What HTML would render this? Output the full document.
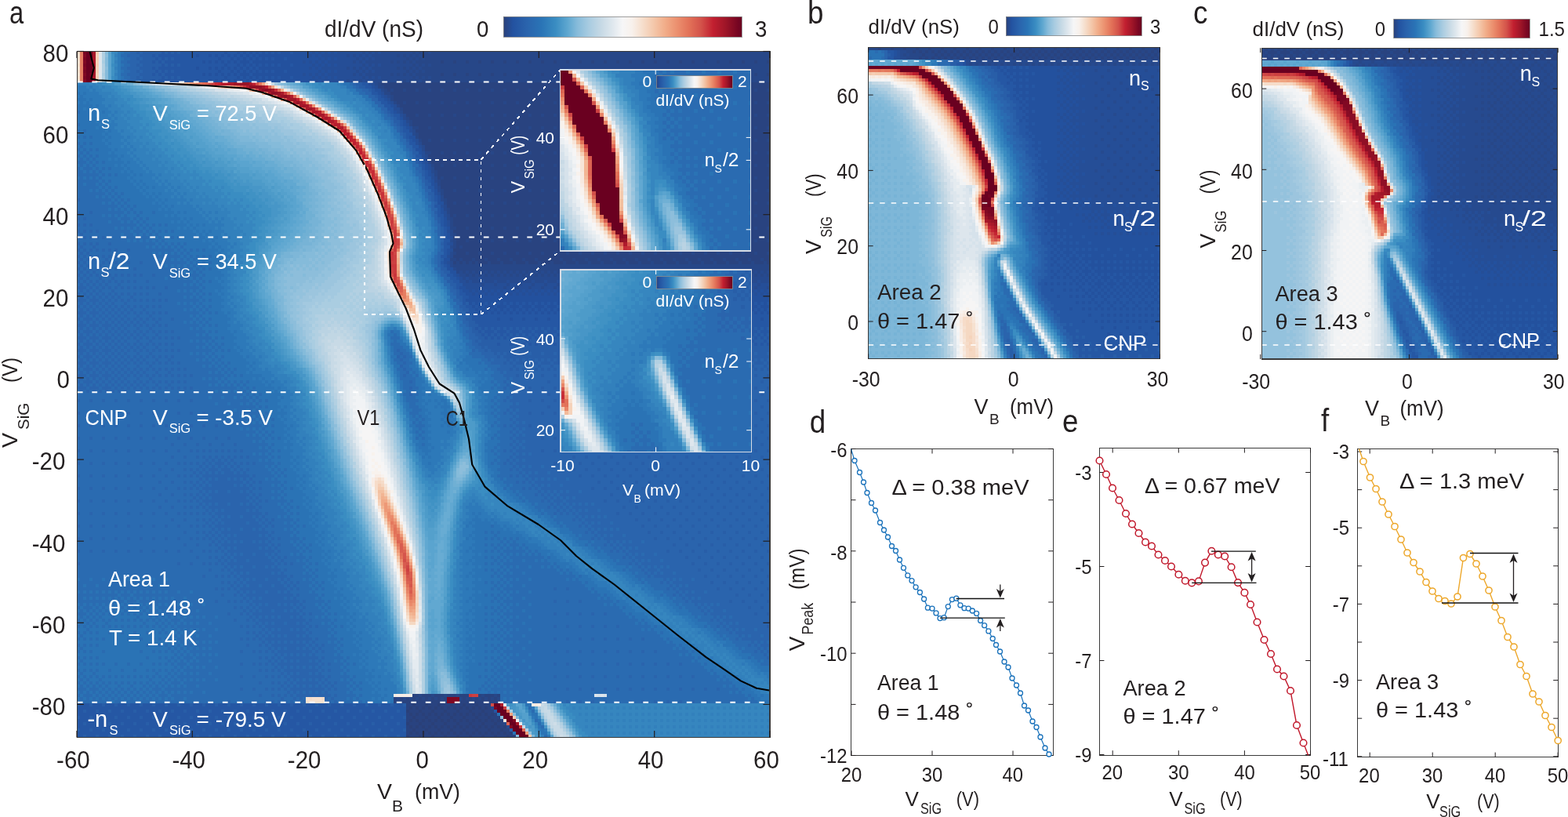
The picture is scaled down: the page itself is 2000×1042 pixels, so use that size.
<!DOCTYPE html>
<html><head><meta charset="utf-8"><title>Figure</title><style>html,body{margin:0;padding:0;background:#fff;width:2000px;height:1042px;overflow:hidden}svg{display:block}text{shape-rendering:auto}line,circle,polyline,.aa{shape-rendering:geometricPrecision}</style></head><body>
<svg width="2000" height="1042" viewBox="0 0 2000 1042" font-family="'Liberation Sans', Arial, sans-serif" shape-rendering="crispEdges"><defs><linearGradient id="cm" x1="0" y1="0" x2="1" y2="0"><stop offset="0.000" stop-color="#2a4079"/><stop offset="0.040" stop-color="#2352a0"/><stop offset="0.100" stop-color="#2a64ad"/><stop offset="0.160" stop-color="#2a74b6"/><stop offset="0.220" stop-color="#3a8dc2"/><stop offset="0.270" stop-color="#5ea7d0"/><stop offset="0.310" stop-color="#86bbda"/><stop offset="0.360" stop-color="#a9cce1"/><stop offset="0.410" stop-color="#c6d9e5"/><stop offset="0.460" stop-color="#e0e8ee"/><stop offset="0.500" stop-color="#f6f6f7"/><stop offset="0.540" stop-color="#f8f1ec"/><stop offset="0.580" stop-color="#f6e0cf"/><stop offset="0.630" stop-color="#f4c8ab"/><stop offset="0.680" stop-color="#f1ac88"/><stop offset="0.730" stop-color="#eb8f6e"/><stop offset="0.780" stop-color="#e27158"/><stop offset="0.830" stop-color="#d3524a"/><stop offset="0.880" stop-color="#c21f30"/><stop offset="0.930" stop-color="#a01628"/><stop offset="1.000" stop-color="#6a0020"/></linearGradient></defs>
<rect width="2000" height="1042" fill="#ffffff"/>
<clipPath id="hc1"><rect x="98.30" y="65.40" width="883.70" height="875.20"/></clipPath><g clip-path="url(#hc1)"><rect x="98" y="65" width="884" height="876" fill="#2a6bb1"/>
<path stroke="#2a4079" stroke-width="4" d="M526 899h4m12 0h4m12 0h4m12 0h4m12 0h4m12 0h4m-88 4h4m4 0h4m4 0h4m4 0h4m4 0h4m4 0h4m4 0h4m4 0h4m4 0h4m4 0h4m4 0h4m4 0h4m4 0h4m-104 4h4m12 0h4m12 0h4m12 0h4m12 0h4m12 0h4m12 0h4m-96 4h4m4 0h4m4 0h4m4 0h4m4 0h4m4 0h4m4 0h4m4 0h4m4 0h4m4 0h4m4 0h4m4 0h4m4 0h4m4 0h4m-104 4h4m12 0h4m12 0h4m12 0h4m12 0h4m12 0h4m12 0h4m-104 4h4m4 0h4m4 0h4m4 0h4m4 0h4m4 0h4m4 0h4m4 0h4m4 0h4m4 0h4m4 0h4m4 0h4m4 0h4m4 0h4m4 0h4m-120 4h4m12 0h4m12 0h4m12 0h4m12 0h4m12 0h4m12 0h4m12 0h4m-112 4h4m4 0h4m4 0h4m4 0h4m4 0h4m4 0h4m4 0h4m4 0h4m4 0h4m4 0h4m4 0h4m4 0h4m4 0h4m4 0h4m4 0h4m4 0h4m-120 4h4m12 0h4m12 0h4m12 0h4m12 0h4m12 0h4m12 0h4m12 0h4m-120 4h4m4 0h4m4 0h4m4 0h4m4 0h4m4 0h4m4 0h4m4 0h4m4 0h4m4 0h4m4 0h4m4 0h4m4 0h4m4 0h4m4 0h4m4 0h4m4 0h4m-136 4h4m12 0h4m12 0h4m12 0h4m12 0h4m12 0h4m12 0h4m12 0h4m12 0h4"/>
<path stroke="#294380" stroke-width="4" d="M562 79h4m12 0h4m12 0h4m12 0h4m12 0h4m12 0h4m12 0h4m12 0h4m12 0h4m12 0h4m12 0h4m12 0h4m12 0h4m12 0h4m12 0h4m12 0h4m12 0h4m12 0h4m12 0h4m12 0h4m12 0h4m12 0h4m12 0h4m12 0h4m12 0h4m12 0h4m12 0h4M562 95h4m12 0h4m12 0h4m12 0h4m12 0h4m12 0h4m12 0h4m12 0h4m12 0h4m12 0h4m12 0h4m12 0h4m12 0h4m12 0h4m12 0h4m12 0h4m12 0h4m12 0h4m12 0h4m12 0h4m12 0h4m12 0h4m12 0h4m12 0h4m12 0h4m12 0h4m12 0h4M486 107h496m-492 4h492m-488 4h4m4 0h12m4 0h12m4 0h12m4 0h12m4 0h12m4 0h12m4 0h12m4 0h12m4 0h12m4 0h12m4 0h12m4 0h12m4 0h12m4 0h12m4 0h12m4 0h12m4 0h12m4 0h12m4 0h12m4 0h12m4 0h12m4 0h12m4 0h12m4 0h12m4 0h12m4 0h12m4 0h12m4 0h12m4 0h12m4 0h12m-480 4h484m-480 4h480m-480 4h480m-476 4h8m4 0h12m4 0h12m4 0h12m4 0h12m4 0h12m4 0h12m4 0h12m4 0h12m4 0h12m4 0h12m4 0h12m4 0h12m4 0h12m4 0h12m4 0h12m4 0h12m4 0h12m4 0h12m4 0h12m4 0h12m4 0h12m4 0h12m4 0h12m4 0h12m4 0h12m4 0h12m4 0h12m4 0h12m4 0h12m-468 4h472m-468 4h468m-468 4h468m-464 4h12m4 0h12m4 0h12m4 0h12m4 0h12m4 0h12m4 0h12m4 0h12m4 0h12m4 0h12m4 0h12m4 0h12m4 0h12m4 0h12m4 0h12m4 0h12m4 0h12m4 0h12m4 0h12m4 0h12m4 0h12m4 0h12m4 0h12m4 0h12m4 0h12m4 0h12m4 0h12m4 0h12m4 0h12m-456 4h460m-456 4h456m-456 4h456m-448 4h12m4 0h12m4 0h12m4 0h12m4 0h12m4 0h12m4 0h12m4 0h12m4 0h12m4 0h12m4 0h12m4 0h12m4 0h12m4 0h12m4 0h12m4 0h12m4 0h12m4 0h12m4 0h12m4 0h12m4 0h12m4 0h12m4 0h12m4 0h12m4 0h12m4 0h12m4 0h12m4 0h12m-448 4h452m-448 4h448m-448 4h448m-444 4h8m4 0h12m4 0h12m4 0h12m4 0h12m4 0h12m4 0h12m4 0h12m4 0h12m4 0h12m4 0h12m4 0h12m4 0h12m4 0h12m4 0h12m4 0h12m4 0h12m4 0h12m4 0h12m4 0h12m4 0h12m4 0h12m4 0h12m4 0h12m4 0h12m4 0h12m4 0h12m4 0h12m-440 4h444m-440 4h440m-440 4h440m-432 4h12m4 0h12m4 0h12m4 0h12m4 0h12m4 0h12m4 0h12m4 0h12m4 0h12m4 0h12m4 0h12m4 0h12m4 0h12m4 0h12m4 0h12m4 0h12m4 0h12m4 0h12m4 0h12m4 0h12m4 0h12m4 0h12m4 0h12m4 0h12m4 0h12m4 0h12m4 0h12m-432 4h436m-432 4h432m-432 4h432m-428 4h8m4 0h12m4 0h12m4 0h12m4 0h12m4 0h12m4 0h12m4 0h12m4 0h12m4 0h12m4 0h12m4 0h12m4 0h12m4 0h12m4 0h12m4 0h12m4 0h12m4 0h12m4 0h12m4 0h12m4 0h12m4 0h12m4 0h12m4 0h12m4 0h12m4 0h12m4 0h12m-424 4h428m-424 4h424m-424 4h424m-424 4h4m4 0h12m4 0h12m4 0h12m4 0h12m4 0h12m4 0h12m4 0h12m4 0h12m4 0h12m4 0h12m4 0h12m4 0h12m4 0h12m4 0h12m4 0h12m4 0h12m4 0h12m4 0h12m4 0h12m4 0h12m4 0h12m4 0h12m4 0h12m4 0h12m4 0h12m4 0h12m-416 4h420m-420 4h420m-420 4h420m-416 4h12m4 0h12m4 0h12m4 0h12m4 0h12m4 0h12m4 0h12m4 0h12m4 0h12m4 0h12m4 0h12m4 0h12m4 0h12m4 0h12m4 0h12m4 0h12m4 0h12m4 0h12m4 0h12m4 0h12m4 0h12m4 0h12m4 0h12m4 0h12m4 0h12m4 0h12m-412 4h416m-416 4h416m-412 4h412m-412 4h8m4 0h12m4 0h12m4 0h12m4 0h12m4 0h12m4 0h12m4 0h12m4 0h12m4 0h12m4 0h12m4 0h12m4 0h12m4 0h12m4 0h12m4 0h12m4 0h12m4 0h12m4 0h12m4 0h12m4 0h12m4 0h12m4 0h12m4 0h12m4 0h12m4 0h12m-408 4h412m-408 4h408m-408 4h408m-408 4h4m4 0h12m4 0h12m4 0h12m4 0h12m4 0h12m4 0h12m4 0h12m4 0h12m4 0h12m4 0h12m4 0h12m4 0h12m4 0h12m4 0h12m4 0h12m4 0h12m4 0h12m4 0h12m4 0h12m4 0h12m4 0h12m4 0h12m4 0h12m4 0h12m4 0h12m-400 4h404m-404 4h404m-404 4h404m-400 4h12m4 0h12m4 0h12m4 0h12m4 0h12m4 0h12m4 0h12m4 0h12m4 0h12m4 0h12m4 0h12m4 0h12m4 0h12m4 0h12m4 0h12m4 0h12m4 0h12m4 0h12m4 0h12m4 0h12m4 0h12m4 0h12m4 0h12m4 0h12m4 0h12m-400 4h404m-400 4h400m-404 4h404m-400 4h12m4 0h12m4 0h12m4 0h12m4 0h12m4 0h12m4 0h12m4 0h12m4 0h12m4 0h12m4 0h12m4 0h12m4 0h12m4 0h12m4 0h12m4 0h12m4 0h12m4 0h12m4 0h12m4 0h12m4 0h12m4 0h12m4 0h12m4 0h12m4 0h12m-396 4h400m-400 4h4m4 0h392m-404 4h404m-400 4h12m4 0h12m4 0h12m4 0h12m4 0h12m4 0h12m4 0h12m4 0h12m4 0h12m4 0h12m4 0h12m4 0h12m4 0h12m4 0h12m4 0h12m4 0h12m4 0h12m4 0h12m4 0h12m4 0h12m4 0h12m4 0h12m4 0h12m4 0h12m4 0h12m-400 4h404m-400 4h4m4 0h12m4 0h12m4 0h12m4 0h12m4 0h12m4 0h12m4 0h12m4 0h12m4 0h12m4 0h12m4 0h12m4 0h12m4 0h12m4 0h12m4 0h12m4 0h12m4 0h12m4 0h12m4 0h12m4 0h12m4 0h12m4 0h12m4 0h12m4 0h12m4 0h8m-404 4h4m4 0h4m4 0h4m4 0h4m4 0h12m4 0h12m4 0h12m4 0h12m4 0h12m4 0h12m4 0h12m4 0h12m4 0h12m4 0h12m4 0h12m4 0h12m4 0h12m4 0h12m4 0h12m4 0h12m4 0h12m4 0h12m4 0h12m4 0h12m4 0h12m4 0h12m4 0h12m4 0h4M526 887h8m4 0h12m4 0h12m4 0h12m4 0h12m12 0h4m4 0h12m4 0h4m-136 4h4m4 0h4m4 0h4m4 0h4m4 0h4m4 0h4m4 0h4m4 0h4m4 0h4m20 0h4m4 0h4m4 0h4m4 0h4m4 0h4m4 0h4m-132 4h68m16 0h52m-120 4h8m4 0h12m4 0h12m4 0h12m4 0h12m4 0h12m4 0h16m-108 4h4m4 0h4m4 0h4m4 0h4m4 0h4m4 0h4m4 0h4m4 0h4m4 0h4m4 0h4m4 0h4m4 0h4m4 0h4m4 0h4m-104 4h12m4 0h12m4 0h12m4 0h12m4 0h12m4 0h12m4 0h12m-112 4h4m4 0h4m4 0h4m4 0h4m4 0h4m4 0h4m4 0h4m4 0h4m4 0h4m4 0h4m4 0h4m4 0h4m4 0h4m4 0h4m4 0h4m-116 4h8m4 0h12m4 0h12m4 0h12m4 0h12m4 0h12m4 0h12m4 0h12m-120 4h4m4 0h4m4 0h4m4 0h4m4 0h4m4 0h4m4 0h4m4 0h4m4 0h4m4 0h4m4 0h4m4 0h4m4 0h4m4 0h4m4 0h4m4 0h4m-120 4h12m4 0h12m4 0h12m4 0h12m4 0h12m4 0h12m4 0h12m4 0h8m-124 4h4m4 0h4m4 0h4m4 0h4m4 0h4m4 0h4m4 0h4m4 0h4m4 0h4m4 0h4m4 0h4m4 0h4m4 0h4m4 0h4m4 0h4m4 0h4m-124 4h8m4 0h12m4 0h12m4 0h12m4 0h12m4 0h12m4 0h12m4 0h12m4 0h8m-132 4h4m4 0h4m4 0h4m4 0h4m4 0h4m4 0h4m4 0h4m4 0h4m4 0h4m4 0h4m4 0h4m4 0h4m4 0h4m4 0h4m4 0h4m4 0h4m4 0h4m-128 4h12m4 0h12m4 0h12m4 0h12m4 0h12m4 0h12m4 0h12m4 0h12m4 0h8"/>
<path stroke="#274788" stroke-width="4" d="M526 67h4m4 0h4m4 0h4m4 0h432M506 71h4m4 0h4m4 0h4m4 0h4m4 0h444M518 75h4m4 0h4m4 0h4m4 0h440M498 79h4m4 0h4m4 0h4m4 0h4m4 0h32m4 0h12m4 0h12m4 0h12m4 0h12m4 0h12m4 0h12m4 0h12m4 0h12m4 0h12m4 0h12m4 0h12m4 0h12m4 0h12m4 0h12m4 0h12m4 0h12m4 0h12m4 0h12m4 0h12m4 0h12m4 0h12m4 0h12m4 0h12m4 0h12m4 0h12m4 0h12M526 83h4m4 0h4m4 0h4m4 0h432M506 87h4m4 0h4m4 0h4m4 0h4m4 0h444M518 91h4m4 0h4m4 0h4m4 0h440M498 95h4m4 0h4m4 0h4m4 0h4m4 0h32m4 0h12m4 0h12m4 0h12m4 0h12m4 0h12m4 0h12m4 0h12m4 0h12m4 0h12m4 0h12m4 0h12m4 0h12m4 0h12m4 0h12m4 0h12m4 0h12m4 0h12m4 0h12m4 0h12m4 0h12m4 0h12m4 0h12m4 0h12m4 0h12m4 0h12m4 0h12M526 99h4m4 0h4m4 0h4m4 0h432m-476 4h4m4 0h4m4 0h4m4 0h4m4 0h444m-500 4h4m-4 4h8m0 4h4m4 0h4m12 0h4m12 0h4m12 0h4m12 0h4m12 0h4m12 0h4m12 0h4m12 0h4m12 0h4m12 0h4m12 0h4m12 0h4m12 0h4m12 0h4m12 0h4m12 0h4m12 0h4m12 0h4m12 0h4m12 0h4m12 0h4m12 0h4m12 0h4m12 0h4m12 0h4m12 0h4m12 0h4m12 0h4m12 0h4m12 0h4m-492 4h8m0 4h4m-4 4h4m0 4h4m8 0h4m12 0h4m12 0h4m12 0h4m12 0h4m12 0h4m12 0h4m12 0h4m12 0h4m12 0h4m12 0h4m12 0h4m12 0h4m12 0h4m12 0h4m12 0h4m12 0h4m12 0h4m12 0h4m12 0h4m12 0h4m12 0h4m12 0h4m12 0h4m12 0h4m12 0h4m12 0h4m12 0h4m12 0h4m12 0h4m-476 4h4m0 4h4m16 8h4m12 0h4m12 0h4m12 0h4m12 0h4m12 0h4m12 0h4m12 0h4m12 0h4m12 0h4m12 0h4m12 0h4m12 0h4m12 0h4m12 0h4m12 0h4m12 0h4m12 0h4m12 0h4m12 0h4m12 0h4m12 0h4m12 0h4m12 0h4m12 0h4m12 0h4m12 0h4m12 0h4m12 0h4m-464 4h4m0 4h4m-4 4h4m0 4h8m12 0h4m12 0h4m12 0h4m12 0h4m12 0h4m12 0h4m12 0h4m12 0h4m12 0h4m12 0h4m12 0h4m12 0h4m12 0h4m12 0h4m12 0h4m12 0h4m12 0h4m12 0h4m12 0h4m12 0h4m12 0h4m12 0h4m12 0h4m12 0h4m12 0h4m12 0h4m12 0h4m12 0h4m-452 8h4m-4 4h4m0 4h4m8 0h4m12 0h4m12 0h4m12 0h4m12 0h4m12 0h4m12 0h4m12 0h4m12 0h4m12 0h4m12 0h4m12 0h4m12 0h4m12 0h4m12 0h4m12 0h4m12 0h4m12 0h4m12 0h4m12 0h4m12 0h4m12 0h4m12 0h4m12 0h4m12 0h4m12 0h4m12 0h4m12 0h4M542 195h8m12 0h4m12 0h4m12 0h4m12 0h4m12 0h4m12 0h4m12 0h4m12 0h4m12 0h4m12 0h4m12 0h4m12 0h4m12 0h4m12 0h4m12 0h4m12 0h4m12 0h4m12 0h4m12 0h4m12 0h4m12 0h4m12 0h4m12 0h4m12 0h4m12 0h4m12 0h4m12 0h4m-436 8h4m-4 4h4m0 4h4m8 0h4m12 0h4m12 0h4m12 0h4m12 0h4m12 0h4m12 0h4m12 0h4m12 0h4m12 0h4m12 0h4m12 0h4m12 0h4m12 0h4m12 0h4m12 0h4m12 0h4m12 0h4m12 0h4m12 0h4m12 0h4m12 0h4m12 0h4m12 0h4m12 0h4m12 0h4m12 0h4m-428 8h4m-4 4h4m4 4h4m12 0h4m12 0h4m12 0h4m12 0h4m12 0h4m12 0h4m12 0h4m12 0h4m12 0h4m12 0h4m12 0h4m12 0h4m12 0h4m12 0h4m12 0h4m12 0h4m12 0h4m12 0h4m12 0h4m12 0h4m12 0h4m12 0h4m12 0h4m12 0h4m12 0h4m12 0h4m-424 4h4m-4 4h4m0 8h4m12 0h4m12 0h4m12 0h4m12 0h4m12 0h4m12 0h4m12 0h4m12 0h4m12 0h4m12 0h4m12 0h4m12 0h4m12 0h4m12 0h4m12 0h4m12 0h4m12 0h4m12 0h4m12 0h4m12 0h4m12 0h4m12 0h4m12 0h4m12 0h4m12 0h4m12 0h4m-420 4h4m0 8h4m-4 4h4m8 0h4m12 0h4m12 0h4m12 0h4m12 0h4m12 0h4m12 0h4m12 0h4m12 0h4m12 0h4m12 0h4m12 0h4m12 0h4m12 0h4m12 0h4m12 0h4m12 0h4m12 0h4m12 0h4m12 0h4m12 0h4m12 0h4m12 0h4m12 0h4m12 0h4m12 0h4m-412 8h4m-4 4h4m4 4h4m12 0h4m12 0h4m12 0h4m12 0h4m12 0h4m12 0h4m12 0h4m12 0h4m12 0h4m12 0h4m12 0h4m12 0h4m12 0h4m12 0h4m12 0h4m12 0h4m12 0h4m12 0h4m12 0h4m12 0h4m12 0h4m12 0h4m12 0h4m12 0h4m12 0h4m-408 4h4m-4 4h4m-4 4h4m-4 4h8m12 0h4m12 0h4m12 0h4m12 0h4m12 0h4m12 0h4m12 0h4m12 0h4m12 0h4m12 0h4m12 0h4m12 0h4m12 0h4m12 0h4m12 0h4m12 0h4m12 0h4m12 0h4m12 0h4m12 0h4m12 0h4m12 0h4m12 0h4m12 0h4m12 0h4m-404 8h4m-4 8h4m12 0h4m12 0h4m12 0h4m12 0h4m12 0h4m12 0h4m12 0h4m12 0h4m12 0h4m12 0h4m12 0h4m12 0h4m12 0h4m12 0h4m12 0h4m12 0h4m12 0h4m12 0h4m12 0h4m12 0h4m12 0h4m12 0h4m12 0h4m12 0h4m12 0h4m-404 4h4m-4 4h4m4 0h4m-12 8h4m12 0h4m12 0h4m12 0h4m12 0h4m12 0h4m12 0h4m12 0h4m12 0h4m12 0h4m12 0h4m12 0h4m12 0h4m12 0h4m12 0h4m12 0h4m12 0h4m12 0h4m12 0h4m12 0h4m12 0h4m12 0h4m12 0h4m12 0h4m12 0h4m12 0h4m-408 8h8m4 0h4m12 0h4m12 0h4m12 0h4m12 0h4m12 0h4m12 0h4m12 0h4m12 0h4m12 0h4m12 0h4m12 0h4m12 0h4m12 0h4m12 0h4m12 0h4m12 0h4m12 0h4m12 0h4m12 0h4m12 0h4m12 0h4m12 0h4m12 0h4m12 0h4m-392 4h4m4 0h4m4 0h4m4 0h4m12 0h4m12 0h4m12 0h4m12 0h4m12 0h4m12 0h4m12 0h4m12 0h4m12 0h4m12 0h4m12 0h4m12 0h4m12 0h4m12 0h4m12 0h4m12 0h4m12 0h4m12 0h4m12 0h4m12 0h4m12 0h4m12 0h4m12 0h4m-400 4h404m-400 4h400m-400 4h4m4 0h4m4 0h4m4 0h4m4 0h4m4 0h4m4 0h4m4 0h4m4 0h4m4 0h4m4 0h4m4 0h4m4 0h4m4 0h4m4 0h4m4 0h4m4 0h4m4 0h4m4 0h4m4 0h4m4 0h4m4 0h4m4 0h4m4 0h4m4 0h4m4 0h4m4 0h4m4 0h4m4 0h4m4 0h4m4 0h4m4 0h4m4 0h4m4 0h4m4 0h4m4 0h4m4 0h4m4 0h4m4 0h4m4 0h4m4 0h4m4 0h4m4 0h4m4 0h4m4 0h4m4 0h4m4 0h4m4 0h4m4 0h4m4 0h4m-384 4h4m4 0h4m4 0h4m4 0h4m4 0h4m4 0h4m4 0h4m4 0h4m4 0h4m4 0h4m4 0h4m4 0h4m4 0h4m4 0h4m4 0h4m4 0h4m4 0h4m4 0h4m4 0h4m4 0h4m4 0h4m4 0h4m4 0h4m4 0h4m4 0h4m4 0h4m4 0h4m4 0h4m4 0h4m4 0h4m4 0h4m4 0h4m4 0h4m4 0h4m4 0h4m4 0h4m4 0h4m4 0h4m4 0h4m4 0h4m4 0h4m4 0h4m4 0h4m4 0h4m4 0h4m4 0h4m4 0h4m4 0h4m4 0h4M534 887h4m12 0h4m12 0h4m12 0h4m28 0h4m12 0h4m-128 4h4m4 0h4m4 0h4m4 0h4m4 0h4m4 0h4m4 0h4m4 0h4m20 0h4m4 0h4m4 0h4m4 0h4m4 0h4m4 0h4m4 0h4m4 32h4"/>
<path stroke="#264a8f" stroke-width="4" d="M462 67h4m4 0h4m4 0h4m4 0h40m4 0h4m4 0h4m4 0h4M442 71h4m4 0h4m4 0h4m4 0h4m4 0h32m4 0h4m4 0h4m4 0h4m4 0h4m-84 4h4m4 0h4m4 0h4m4 0h40m4 0h4m4 0h4m4 0h4m-92 4h4m4 0h4m4 0h32m4 0h4m4 0h4m4 0h4m4 0h4m-68 4h4m4 0h4m4 0h4m4 0h40m4 0h4m4 0h4m4 0h4M442 87h4m4 0h4m4 0h4m4 0h4m4 0h32m4 0h4m4 0h4m4 0h4m4 0h4m-84 4h4m4 0h4m4 0h4m4 0h40m4 0h4m4 0h4m4 0h4m-92 4h4m4 0h4m4 0h32m4 0h4m4 0h4m4 0h4m4 0h4m-68 4h4m4 0h4m4 0h4m4 0h40m4 0h4m4 0h4m4 0h4m-108 4h4m4 0h4m4 0h4m4 0h4m4 0h32m4 0h4m4 0h4m4 0h4m4 0h4m-60 4h4m4 8h4m4 8h4m12 20h4m0 4h4m-4 4h4m0 4h4m4 12h4m-4 4h4m4 12h4m0 4h4m-4 4h4m0 8h4m-4 4h4m4 12h4m-4 4h4m0 8h4m-4 4h4m0 8h4m-4 4h4m0 8h4m-4 4h4m0 8h4m-4 4h4m0 8h4m-4 4h4m0 16h4m-4 4h4m-4 8h4m-4 8h4m-4 8h4m-4 4h4m-4 8h4m-4 4h4m0 4h4m4 4h4m4 0h4m4 0h4m4 0h4m4 0h4m4 0h4m4 0h4m4 0h4m4 0h4m4 0h4m4 0h4m4 0h4m4 0h4m4 0h4m4 0h4m4 0h4m4 0h4m4 0h4m4 0h4m4 0h4m4 0h4m4 0h4m4 0h4m4 0h4m4 0h4m4 0h4m4 0h4m4 0h4m4 0h4m4 0h4m4 0h4m4 0h4m4 0h4m4 0h4m4 0h4m4 0h4m4 0h4m4 0h4m4 0h4m4 0h4m4 0h4m4 0h4m4 0h4m4 0h4m4 0h4m4 0h4m4 0h4m4 0h4m4 0h4m4 0h4m-396 4h8m4 0h4m4 0h4m4 0h4m4 0h4m4 0h4m4 0h4m4 0h4m4 0h4m4 0h4m4 0h4m4 0h4m4 0h4m4 0h4m4 0h4m4 0h4m4 0h4m4 0h4m4 0h4m4 0h4m4 0h4m4 0h4m4 0h4m4 0h4m4 0h4m4 0h4m4 0h4m4 0h4m4 0h4m4 0h4m4 0h4m4 0h4m4 0h4m4 0h4m4 0h4m4 0h4m4 0h4m4 0h4m4 0h4m4 0h4m4 0h4m4 0h4m4 0h4m4 0h4m4 0h4m4 0h4m4 0h4m4 0h4m4 0h4m-388 4h4m4 0h12m4 0h368m-388 4h4m4 0h12m4 0h12m4 0h12m4 0h12m4 0h12m4 0h12m4 0h12m4 0h12m4 0h12m4 0h12m4 0h12m4 0h12m4 0h12m4 0h12m4 0h12m4 0h12m4 0h12m4 0h12m4 0h12m4 0h12m4 0h12m4 0h12m4 0h12m4 0h12m-368 4h4m12 0h4m12 0h4m12 0h4m12 0h4m12 0h4m12 0h4m12 0h4m12 0h4m12 0h4m12 0h4m12 0h4m12 0h4m12 0h4m12 0h4m12 0h4m12 0h4m12 0h4m12 0h4m12 0h4m12 0h4m12 0h4m12 0h4m-328 4h4m12 0h4m12 0h4m12 0h4m12 0h4m12 0h4m12 0h4m12 0h4m12 0h4m12 0h4m12 0h4m12 0h4m12 0h4m12 0h4m12 0h4m12 0h4m12 0h4m12 0h4m12 0h4m12 0h4m12 0h4m12 0h4M626 903h4m16 24h4"/>
<path stroke="#254e97" stroke-width="4" d="M398 67h4m4 0h4m4 0h4m4 0h4m4 0h32m4 0h4m4 0h4m4 0h4m-92 4h4m4 0h4m4 0h32m4 0h4m4 0h4m4 0h4m4 0h4m-68 4h4m4 0h4m4 0h4m4 0h24m4 0h4m4 0h4m4 0h4m-92 4h4m4 0h4m4 0h4m4 0h4m4 0h32m4 0h4m4 0h4m-68 4h4m4 0h4m4 0h4m4 0h4m4 0h32m4 0h4m4 0h4m4 0h4m-92 4h4m4 0h4m4 0h32m4 0h4m4 0h4m4 0h4m4 0h4m-68 4h4m4 0h4m4 0h4m4 0h24m4 0h4m4 0h4m4 0h4m-92 4h4m4 0h4m4 0h4m4 0h4m4 0h32m4 0h4m4 0h4m-68 4h4m4 0h4m4 0h4m4 0h4m4 0h32m4 0h4m4 0h4m4 0h4m-92 4h4m4 0h4m4 0h32m4 0h4m4 0h4m4 0h4m4 0h4m0 4h4m0 4h4m4 8h4m0 4h4m0 4h4m0 4h4m0 4h4m-4 4h8m-4 4h4m0 4h4m4 12h4m0 4h4m-4 4h4m4 12h4m-4 4h4m0 4h4m0 8h4m-4 4h4m0 8h4m0 4h4m-4 4h4m0 8h4m-4 4h4m0 8h4m-4 4h4m0 8h4m0 16h4m0 8h4m-4 4h4m0 8h4m-4 4h4m-4 8h4m0 8h4m-4 8h4m-4 8h4m-8 8h4m-4 8h4m8 16h4m0 4h4m4 0h4m12 0h4m-28 4h8m4 0h4m12 0h4m12 0h4m12 0h4m12 0h4m12 0h4m12 0h4m12 0h4m12 0h4m12 0h4m12 0h4m12 0h4m12 0h4m12 0h4m12 0h4m12 0h4m12 0h4m12 0h4m12 0h4m12 0h4m12 0h4m12 0h4m12 0h4m12 0h4m-380 4h24m4 0h12m4 0h12m4 0h12m4 0h12m4 0h12m4 0h12m4 0h12m4 0h12m4 0h12m4 0h12m4 0h12m4 0h12m4 0h12m4 0h12m4 0h12m4 0h12m4 0h12m4 0h12m4 0h12m4 0h12m4 0h12m4 0h12m4 0h12m-388 4h48m4 0h12m4 0h12m4 0h12m4 0h12m4 0h12m4 0h12m4 0h12m4 0h12m4 0h12m4 0h12m4 0h12m4 0h12m4 0h12m4 0h12m4 0h12m4 0h12m4 0h12m4 0h12m4 0h12m4 0h12m4 0h12m-380 4h4m4 0h4m4 0h4m4 0h4m4 0h4m4 0h4m4 0h4m4 0h4m4 0h4m4 0h4m4 0h4m4 0h4m4 0h4m4 0h4m4 0h4m4 0h4m4 0h4m4 0h4m4 0h4m4 0h4m4 0h4m4 0h4m4 0h4m4 0h4m4 0h4m4 0h4m4 0h4m4 0h4m4 0h4m4 0h4m4 0h4m4 0h4m4 0h4m4 0h4m4 0h4m4 0h4m4 0h4m4 0h4m4 0h4m4 0h4m4 0h4m4 0h4m4 0h4m4 0h4m4 0h4m4 0h4m4 0h4m4 0h4m-376 4h4m4 0h4m4 0h4m4 0h4m4 0h4m4 0h4m4 0h4m4 0h4m4 0h4m4 0h4m4 0h4m4 0h4m4 0h4m4 0h4m4 0h4m4 0h4m4 0h4m4 0h4m4 0h4m4 0h4m4 0h4m4 0h4m4 0h4m4 0h4m4 0h4m4 0h4m4 0h4m4 0h4m4 0h4m4 0h4m4 0h4m4 0h4m4 0h4m4 0h4m4 0h4m4 0h4m4 0h4m4 0h4m4 0h4m4 0h4m4 0h4m4 0h4m4 0h4m4 0h4m4 0h4m4 0h4m4 0h4m4 0h4"/>
<path stroke="#23519e" stroke-width="4" d="M286 67h4m12 0h4m4 0h4m4 0h4m4 0h4m4 0h4m4 0h4m4 0h4m4 0h12m4 0h24m4 0h4m4 0h4m4 0h4m4 0h4M250 71h4m12 0h4m4 0h4m4 0h4m4 0h4m4 0h4m4 0h4m4 0h4m4 0h4m4 0h64m4 0h4m4 0h4M278 75h4m12 0h4m4 0h4m4 0h4m4 0h4m4 0h4m4 0h4m4 0h4m4 0h12m4 0h40m4 0h4m4 0h4m4 0h4M258 79h4m4 0h4m4 0h4m4 0h4m4 0h4m4 0h4m4 0h12m4 0h64m4 0h4m4 0h4m4 0h4m4 0h4M286 83h4m12 0h4m4 0h4m4 0h4m4 0h4m4 0h4m4 0h4m4 0h4m4 0h12m4 0h24m4 0h4m4 0h4m4 0h4m4 0h4M250 87h4m12 0h4m4 0h4m4 0h4m4 0h4m4 0h4m4 0h4m4 0h4m4 0h4m4 0h64m4 0h4m4 0h4M278 91h4m12 0h4m4 0h4m4 0h4m4 0h4m4 0h4m4 0h4m4 0h4m4 0h12m4 0h40m4 0h4m4 0h4m4 0h4M258 95h4m4 0h4m4 0h4m4 0h4m4 0h4m4 0h4m4 0h12m4 0h64m4 0h4m4 0h4m4 0h4m4 0h4M286 99h4m12 0h4m4 0h4m4 0h4m4 0h4m4 0h4m4 0h4m4 0h4m4 0h12m4 0h24m4 0h4m4 0h4m4 0h4m4 0h4m-180 4h4m12 0h4m4 0h4m4 0h4m4 0h4m4 0h4m4 0h4m4 0h4m4 0h4m4 0h64m4 0h4m4 0h4m60 4h4m0 4h4m0 4h8m-4 4h4m0 4h4m0 4h4m0 4h4m0 4h4m0 8h4m4 8h4m0 4h4m-4 4h4m0 4h4m0 12h8m-4 4h4m0 12h8m-4 4h4m0 8h4m-4 4h4m0 4h4m-4 4h4m0 4h4m-4 4h4m0 8h4m-4 4h4m0 8h4m-4 4h4m0 4h4m-4 4h4m-4 4h8m-4 8h4m-4 4h4m0 8h4m-4 4h4m-4 4h4m0 4h4m-4 8h4m-4 4h4m-4 8h4m-4 8h4m-4 4h4m-8 8h8m-8 4h4m0 4h4m-4 4h8m-4 4h8m-4 4h4m0 4h4m0 12h8m-4 4h8m4 0h4m4 0h4m4 0h4m4 0h4m4 0h4m4 0h4m4 0h4m4 0h4m4 0h4m4 0h4m4 0h4m4 0h4m4 0h4m4 0h4m4 0h4m4 0h4m4 0h4m4 0h4m4 0h4m4 0h4m4 0h4m4 0h4m4 0h4m4 0h4m4 0h4m4 0h4m4 0h4m4 0h4m4 0h4m4 0h4m4 0h4m4 0h4m4 0h4m4 0h4m4 0h4m4 0h4m4 0h4m4 0h4m4 0h4m4 0h4m4 0h4m4 0h4m4 0h4m4 0h4m4 0h4m4 0h4m4 0h4m4 0h4m-388 4h8m4 0h4m4 0h4m4 0h4m4 0h4m4 0h4m4 0h4m4 0h4m4 0h4m4 0h4m4 0h4m4 0h4m4 0h4m4 0h4m4 0h4m4 0h4m4 0h4m4 0h4m4 0h4m4 0h4m4 0h4m4 0h4m4 0h4m4 0h4m4 0h4m4 0h4m4 0h4m4 0h4m4 0h4m4 0h4m4 0h4m4 0h4m4 0h4m4 0h4m4 0h4m4 0h4m4 0h4m4 0h4m4 0h4m4 0h4m4 0h4m4 0h4m4 0h4m4 0h4m4 0h4m4 0h4m4 0h4m4 0h4m-380 4h384m-388 4h388m-384 4h4m4 0h4m4 0h4m4 0h4m4 0h4m4 0h4m4 0h4m4 0h4m4 0h4m4 0h4m4 0h4m4 0h4m4 0h4m4 0h4m4 0h4m4 0h4m4 0h4m4 0h4m4 0h4m4 0h4m4 0h4m4 0h4m4 0h4m4 0h4m4 0h4m4 0h4m4 0h4m4 0h4m4 0h4m4 0h4m4 0h4m4 0h4m4 0h4m4 0h4m4 0h4m4 0h4m4 0h4m4 0h4m4 0h4m4 0h4m4 0h4m4 0h4m4 0h4m4 0h4m4 0h4m4 0h4m4 0h4m4 0h4m-376 4h4m4 0h4m4 0h12m4 0h12m4 0h12m4 0h12m4 0h12m4 0h12m4 0h12m4 0h12m4 0h12m4 0h12m4 0h12m4 0h12m4 0h12m4 0h12m4 0h12m4 0h12m4 0h12m4 0h12m4 0h12m4 0h12m4 0h12m4 0h12m4 0h12m-376 4h4m4 0h4m4 0h4m4 0h4m4 0h4m4 0h4m4 0h4m4 0h4m4 0h4m4 0h4m4 0h4m4 0h4m4 0h4m4 0h4m4 0h4m4 0h4m4 0h4m4 0h4m4 0h4m4 0h4m4 0h4m4 0h4m4 0h4m4 0h4m4 0h4m4 0h4m4 0h4m4 0h4m4 0h4m4 0h4m4 0h4m4 0h4m4 0h4m4 0h4m4 0h4m4 0h4m4 0h4m4 0h4m4 0h4m4 0h4m4 0h4m4 0h4m4 0h4m4 0h4m4 0h4m4 0h4m4 0h4m-368 4h4m4 0h4m4 0h4m4 0h4m4 0h4m4 0h4m4 0h4m4 0h4m4 0h4m4 0h4m4 0h4m4 0h4m4 0h4m4 0h4m4 0h4m4 0h4m4 0h4m4 0h4m4 0h4m4 0h4m4 0h4m4 0h4m4 0h4m4 0h4m4 0h4m4 0h4m4 0h4m4 0h4m4 0h4m4 0h4m4 0h4m4 0h4m4 0h4m4 0h4m4 0h4m4 0h4m4 0h4m4 0h4m4 0h4m4 0h4m4 0h4m4 0h4m4 0h4m4 0h4m4 0h4m4 0h4m4 0h4m-348 8h4m12 0h4m12 0h4m12 0h4m12 0h4m12 0h4m12 0h4m12 0h4m12 0h4m12 0h4m12 0h4m12 0h4m12 0h4m12 0h4m12 0h4m12 0h4m12 0h4m12 0h4m12 0h4m12 0h4m12 0h4m12 0h4"/>
<path stroke="#2557a4" stroke-width="4" d="M206 67h4m4 0h4m4 0h4m4 0h56m4 0h12m4 0h4m4 0h4m4 0h4m4 0h4m4 0h4m4 0h4m4 0h4m12 0h4M194 71h4m4 0h48m4 0h12m4 0h4m4 0h4m4 0h4m4 0h4m4 0h4m4 0h4m4 0h4m4 0h4M198 75h4m4 0h4m4 0h4m4 0h56m4 0h12m4 0h4m4 0h4m4 0h4m4 0h4m4 0h4m4 0h4m4 0h4m12 0h4M194 79h4m4 0h4m4 0h48m4 0h4m4 0h4m4 0h4m4 0h4m4 0h4m4 0h4m12 0h4M206 83h4m4 0h4m4 0h4m4 0h56m4 0h12m4 0h4m4 0h4m4 0h4m4 0h4m4 0h4m4 0h4m4 0h4m12 0h4M194 87h4m4 0h48m4 0h12m4 0h4m4 0h4m4 0h4m4 0h4m4 0h4m4 0h4m4 0h4m4 0h4M198 91h4m4 0h4m4 0h4m4 0h56m4 0h12m4 0h4m4 0h4m4 0h4m4 0h4m4 0h4m4 0h4m4 0h4m12 0h4M194 95h4m4 0h4m4 0h48m4 0h4m4 0h4m4 0h4m4 0h4m4 0h4m4 0h4m12 0h4M206 99h4m4 0h4m4 0h4m4 0h56m4 0h12m4 0h4m4 0h4m4 0h4m4 0h4m4 0h4m4 0h4m4 0h4m12 0h4m-180 4h4m4 0h48m4 0h12m4 0h4m4 0h4m4 0h4m4 0h4m4 0h4m4 0h4m4 0h4m4 0h4m132 4h8m-4 4h8m0 4h4m-4 4h8m0 4h4m-4 4h8m-4 4h8m-4 4h8m-4 4h8m-4 4h4m0 4h8m-4 4h4m0 4h4m-4 4h4m0 4h4m-4 4h8m-4 4h8m-8 4h4m0 4h4m-4 4h8m-4 4h8m-4 12h8m-4 4h4m-4 4h4m0 4h4m-4 4h4m0 4h4m-4 4h4m-4 4h8m-4 4h4m-4 8h8m-4 4h4m0 8h4m-4 4h4m-4 8h8m-4 4h4m-4 4h4m-4 4h8m-4 4h4m-4 4h4m-4 4h4m0 4h4m-4 4h4m-4 4h4m-4 4h4m-4 4h8m-8 4h4m-4 4h8m-8 4h4m-4 4h4m-8 4h8m-8 8h4m0 4h4m0 12h8m-4 4h8m-4 4h8m-4 4h8m-8 4h4m0 4h4m-4 4h8m-4 4h8m-8 4h4m-4 4h4m8 0h4m4 0h4m4 0h4m4 0h4m4 0h4m4 0h4m4 0h4m4 0h4m4 0h4m4 0h4m4 0h4m4 0h4m4 0h4m4 0h4m4 0h4m4 0h4m4 0h4m4 0h4m4 0h4m4 0h4m4 0h4m4 0h4m4 0h4m4 0h4m4 0h4m4 0h4m4 0h4m4 0h4m4 0h4m4 0h4m4 0h4m4 0h4m4 0h4m4 0h4m4 0h4m4 0h4m4 0h4m4 0h4m4 0h4m4 0h4m4 0h4m4 0h4m4 0h4m4 0h4m4 0h4m4 0h4m4 0h4m4 0h4m-388 4h8m4 0h4m4 0h4m12 0h4m12 0h4m12 0h4m12 0h4m12 0h4m12 0h4m12 0h4m12 0h4m12 0h4m12 0h4m12 0h4m12 0h4m12 0h4m12 0h4m12 0h4m12 0h4m12 0h4m12 0h4m12 0h4m12 0h4m12 0h4m12 0h4m-372 4h8m4 0h4m4 0h4m4 0h4m4 0h4m4 0h4m4 0h4m4 0h4m4 0h4m4 0h4m4 0h4m4 0h4m4 0h4m4 0h4m4 0h4m4 0h4m4 0h4m4 0h4m4 0h4m4 0h4m4 0h4m4 0h4m4 0h4m4 0h4m4 0h4m4 0h4m4 0h4m4 0h4m4 0h4m4 0h4m4 0h4m4 0h4m4 0h4m4 0h4m4 0h4m4 0h4m4 0h4m4 0h4m4 0h4m4 0h4m4 0h4m4 0h4m4 0h4m4 0h4m4 0h4m4 0h4m4 0h4m4 0h4m-388 4h16m4 0h4m4 0h4m4 0h4m4 0h4m4 0h4m4 0h4m4 0h4m4 0h4m4 0h4m4 0h4m4 0h4m4 0h4m4 0h4m4 0h4m4 0h4m4 0h4m4 0h4m4 0h4m4 0h4m4 0h4m4 0h4m4 0h4m4 0h4m4 0h4m4 0h4m4 0h4m4 0h4m4 0h4m4 0h4m4 0h4m4 0h4m4 0h4m4 0h4m4 0h4m4 0h4m4 0h4m4 0h4m4 0h4m4 0h4m4 0h4m4 0h4m4 0h4m4 0h4m4 0h4m4 0h4m4 0h4m-376 4h380m-380 4h32m4 0h12m4 0h12m4 0h12m4 0h12m4 0h12m4 0h12m4 0h12m4 0h12m4 0h12m4 0h12m4 0h12m4 0h12m4 0h12m4 0h12m4 0h12m4 0h12m4 0h12m4 0h12m4 0h12m4 0h12m4 0h12m4 0h8m-376 4h376m-372 4h372m-376 4h4m4 0h4m4 0h4m4 0h4m4 0h4m4 0h4m4 0h4m4 0h4m4 0h4m4 0h4m4 0h4m4 0h4m4 0h4m4 0h4m4 0h4m4 0h4m4 0h4m4 0h4m4 0h4m4 0h4m4 0h4m4 0h4m4 0h4m4 0h4m4 0h4m4 0h4m4 0h4m4 0h4m4 0h4m4 0h4m4 0h4m4 0h4m4 0h4m4 0h4m4 0h4m4 0h4m4 0h4m4 0h4m4 0h4m4 0h4m4 0h4m4 0h4m4 0h4m4 0h4m4 0h4m4 0h4m4 0h4m-368 4h4m4 0h12m4 0h12m4 0h12m4 0h12m4 0h12m4 0h12m4 0h12m4 0h12m4 0h12m4 0h12m4 0h12m4 0h12m4 0h12m4 0h12m4 0h12m4 0h12m4 0h12m4 0h12m4 0h12m4 0h12m4 0h12m4 0h12m4 0h12m-368 4h4m4 0h4m4 0h4m4 0h4m4 0h4m4 0h4m4 0h4m4 0h4m4 0h4m4 0h4m4 0h4m4 0h4m4 0h4m4 0h4m4 0h4m4 0h4m4 0h4m4 0h4m4 0h4m4 0h4m4 0h4m4 0h4m4 0h4m4 0h4m4 0h4m4 0h4m4 0h4m4 0h4m4 0h4m4 0h4m4 0h4m4 0h4m4 0h4m4 0h4m4 0h4m4 0h4m4 0h4m4 0h4m4 0h4m4 0h4m4 0h4m4 0h4m4 0h4m4 0h4m4 0h4m4 0h4m-360 4h4m4 0h4m4 0h4m4 0h4m4 0h4m4 0h4m4 0h4m4 0h4m4 0h4m4 0h4m4 0h4m4 0h4m4 0h4m4 0h4m4 0h4m4 0h4m4 0h4m4 0h4m4 0h4m4 0h4m4 0h4m4 0h4m4 0h4m4 0h4m4 0h4m4 0h4m4 0h4m4 0h4m4 0h4m4 0h4m4 0h4m4 0h4m4 0h4m4 0h4m4 0h4m4 0h4m4 0h4m4 0h4m4 0h4m4 0h4m4 0h4m4 0h4m4 0h4m4 0h4m4 0h4m4 0h4m-312 4h4m12 0h4m12 0h4m12 0h4m12 0h4m12 0h4m12 0h4m12 0h4m12 0h4m12 0h4m12 0h4m12 0h4m12 0h4m12 0h4m12 0h4m12 0h4m12 0h4m12 0h4m12 0h4m12 0h4m-344 4h4m12 0h4m4 0h4m4 0h4m4 0h4m4 0h4m4 0h4m4 0h4m4 0h4m4 0h4m4 0h4m4 0h4m4 0h4m4 0h4m4 0h4m4 0h4m4 0h4m4 0h4m4 0h4m4 0h4m4 0h4m4 0h4m4 0h4m4 0h4m4 0h4m4 0h4m4 0h4m4 0h4m4 0h4m4 0h4m4 0h4m4 0h4m4 0h4m4 0h4m4 0h4m4 0h4m4 0h4m4 0h4m4 0h4m4 0h4m4 0h4m4 0h4m4 0h4M102 899h12m4 0h12m4 0h12m4 0h12m4 0h12m4 0h12m4 0h12m4 0h12m4 0h12m4 0h12m4 0h12m4 0h12m4 0h12m4 0h12m4 0h12m4 0h12m4 0h12m4 0h12m4 0h12m4 0h12m4 0h12m4 0h12m4 0h12m4 0h12m4 0h12m4 0h12M98 903h420M98 907h8m4 0h12m4 0h12m4 0h12m4 0h12m4 0h12m4 0h12m4 0h12m4 0h12m4 0h12m4 0h12m4 0h12m4 0h12m4 0h12m4 0h12m4 0h12m4 0h12m4 0h12m4 0h12m4 0h12m4 0h12m4 0h12m4 0h12m4 0h12m4 0h12m4 0h12m4 0h8m112 0h4M98 911h420m-416 4h12m4 0h12m4 0h12m4 0h12m4 0h12m4 0h12m4 0h12m4 0h12m4 0h12m4 0h12m4 0h12m4 0h12m4 0h12m4 0h12m4 0h12m4 0h12m4 0h12m4 0h12m4 0h12m4 0h12m4 0h12m4 0h12m4 0h12m4 0h12m4 0h12m4 0h12M98 919h420M98 923h8m4 0h12m4 0h12m4 0h12m4 0h12m4 0h12m4 0h12m4 0h12m4 0h12m4 0h12m4 0h12m4 0h12m4 0h12m4 0h12m4 0h12m4 0h12m4 0h12m4 0h12m4 0h12m4 0h12m4 0h12m4 0h12m4 0h12m4 0h12m4 0h12m4 0h12m4 0h8M98 927h420m-416 4h12m4 0h12m4 0h12m4 0h12m4 0h12m4 0h12m4 0h12m4 0h12m4 0h12m4 0h12m4 0h12m4 0h12m4 0h12m4 0h12m4 0h12m4 0h12m4 0h12m4 0h12m4 0h12m4 0h12m4 0h12m4 0h12m4 0h12m4 0h12m4 0h12m4 0h12M98 935h420M98 939h8m4 0h12m4 0h12m4 0h12m4 0h12m4 0h12m4 0h12m4 0h12m4 0h12m4 0h12m4 0h12m4 0h12m4 0h12m4 0h12m4 0h12m4 0h12m4 0h12m4 0h12m4 0h12m4 0h12m4 0h12m4 0h12m4 0h12m4 0h12m4 0h12m4 0h12m4 0h8"/>
<path stroke="#285ea8" stroke-width="4" d="M174 67h4m4 0h24m4 0h4m4 0h4m4 0h4m-52 4h16m4 0h4m-28 4h4m4 0h16m4 0h4m4 0h4m4 0h4m-44 4h16m4 0h4m4 0h4m-36 4h4m4 0h24m4 0h4m4 0h4m4 0h4m-52 4h16m4 0h4m-28 4h4m4 0h16m4 0h4m4 0h4m4 0h4m-44 4h16m4 0h4m4 0h4m-36 4h4m4 0h24m4 0h4m4 0h4m4 0h4m-52 4h16m4 0h4m252 4h8m-4 4h8m4 4h4m4 8h4m12 20h4m0 4h4m0 4h4m-4 4h8m-4 4h4m0 4h4m-4 4h4m0 4h4m-4 4h4m0 4h4m4 12h4m-4 4h8m-4 8h4m-4 4h4m0 4h4m0 8h4m-4 4h4m0 8h4m-4 4h8m-4 12h8m-4 4h4m-4 4h4m0 4h4m-4 12h4m0 8h4m-4 4h4m0 8h4m-4 4h4m-4 4h4m-4 4h4m-4 8h4m-4 8h4m-4 12h4m-4 8h4m-4 4h8m-4 4h8m-4 12h8m-4 4h8m-4 4h4m0 4h4m-4 4h4m-4 4h8m-4 4h4m4 4h4m-12 4h8m-4 4h8m0 8h4m-8 4h8m-4 4h8m-8 4h12m-8 4h4m4 0h4m4 0h4m4 0h4m4 0h4m4 0h4m4 0h4m4 0h4m4 0h4m4 0h4m4 0h4m4 0h4m4 0h4m4 0h4m4 0h4m4 0h4m4 0h4m4 0h4m4 0h4m4 0h4m4 0h4m4 0h4m4 0h4m4 0h4m4 0h4m4 0h4m4 0h4m4 0h4m4 0h4m4 0h4m4 0h4m4 0h4m4 0h4m4 0h4m4 0h4m4 0h4m4 0h4m4 0h4m4 0h4m4 0h4m4 0h4m4 0h4m4 0h4m4 0h4m4 0h4m4 0h4m4 0h4m4 0h4m-380 4h8m4 0h4m12 0h4m12 0h4m12 0h4m12 0h4m12 0h4m12 0h4m12 0h4m12 0h4m12 0h4m12 0h4m12 0h4m12 0h4m12 0h4m12 0h4m12 0h4m12 0h4m12 0h4m12 0h4m12 0h4m12 0h4m12 0h4m12 0h4m-364 4h8m4 0h4m4 0h4m4 0h4m4 0h4m4 0h4m4 0h4m4 0h4m4 0h4m4 0h4m4 0h4m4 0h4m4 0h4m4 0h4m4 0h4m4 0h4m4 0h4m4 0h4m4 0h4m4 0h4m4 0h4m4 0h4m4 0h4m4 0h4m4 0h4m4 0h4m4 0h4m4 0h4m4 0h4m4 0h4m4 0h4m4 0h4m4 0h4m4 0h4m4 0h4m4 0h4m4 0h4m4 0h4m4 0h4m4 0h4m4 0h4m4 0h4m4 0h4m4 0h4m4 0h4m4 0h4m4 0h4m-372 4h8m4 0h4m4 0h4m4 0h4m4 0h4m4 0h4m4 0h4m4 0h4m4 0h4m4 0h4m4 0h4m4 0h4m4 0h4m4 0h4m4 0h4m4 0h4m4 0h4m4 0h4m4 0h4m4 0h4m4 0h4m4 0h4m4 0h4m4 0h4m4 0h4m4 0h4m4 0h4m4 0h4m4 0h4m4 0h4m4 0h4m4 0h4m4 0h4m4 0h4m4 0h4m4 0h4m4 0h4m4 0h4m4 0h4m4 0h4m4 0h4m4 0h4m4 0h4m4 0h4m4 0h4m4 0h4m-372 4h4m4 0h56m4 0h12m4 0h12m4 0h12m4 0h12m4 0h12m4 0h12m4 0h12m4 0h12m4 0h12m4 0h12m4 0h12m4 0h12m4 0h12m4 0h12m4 0h12m4 0h12m4 0h12m4 0h12m4 0h12m4 0h4m-372 4h24m4 0h12m4 0h4m4 0h4m4 0h4m4 0h4m4 0h4m4 0h4m4 0h4m4 0h4m4 0h4m4 0h4m4 0h4m4 0h4m4 0h4m4 0h4m4 0h4m4 0h4m4 0h4m4 0h4m4 0h4m4 0h4m4 0h4m4 0h4m4 0h4m4 0h4m4 0h4m4 0h4m4 0h4m4 0h4m4 0h4m4 0h4m4 0h4m4 0h4m4 0h4m4 0h4m4 0h4m4 0h4m4 0h4m4 0h4m4 0h4m4 0h4m4 0h4m-364 4h4m4 0h360m-364 4h4m4 0h356m-352 4h4m4 0h4m4 0h12m4 0h12m4 0h12m4 0h12m4 0h12m4 0h12m4 0h12m4 0h12m4 0h12m4 0h12m4 0h12m4 0h12m4 0h12m4 0h12m4 0h12m4 0h12m4 0h12m4 0h12m4 0h12m4 0h12m4 0h12m-344 4h4m4 0h340m-336 4h4m4 0h4m4 0h4m4 0h4m4 0h4m4 0h4m4 0h4m4 0h4m4 0h4m4 0h4m4 0h4m4 0h4m4 0h4m4 0h4m4 0h4m4 0h4m4 0h4m4 0h4m4 0h4m4 0h4m4 0h4m4 0h4m4 0h4m4 0h4m4 0h4m4 0h4m4 0h4m4 0h4m4 0h4m4 0h4m4 0h4m4 0h4m4 0h4m4 0h4m4 0h4m4 0h4m4 0h4m4 0h4m4 0h4m4 0h4m4 0h4m4 0h4m-336 4h4m4 0h4m4 0h12m4 0h12m4 0h12m4 0h12m4 0h12m4 0h12m4 0h12m4 0h12m4 0h12m4 0h12m4 0h12m4 0h12m4 0h12m4 0h12m4 0h12m4 0h12m4 0h12m4 0h12m4 0h12m4 0h12m4 0h4m-328 4h4m12 0h4m12 0h4m12 0h4m12 0h4m12 0h4m12 0h4m12 0h4m12 0h4m12 0h4m12 0h4m12 0h4m12 0h4m12 0h4m12 0h4m12 0h4m12 0h4m12 0h4m12 0h4m12 0h4m12 0h4m-328 4h4m4 0h4m4 0h4m4 0h4m4 0h4m4 0h4m4 0h4m4 0h4m4 0h4m4 0h4m4 0h4m4 0h4m4 0h4m4 0h4m4 0h4m4 0h4m4 0h4m4 0h4m4 0h4m4 0h4m4 0h4m4 0h4m4 0h4m4 0h4m4 0h4m4 0h4m4 0h4m4 0h4m4 0h4m4 0h4m4 0h4m4 0h4m4 0h4m4 0h4m4 0h4m4 0h4m4 0h4m4 0h4m4 0h4m4 0h4m4 0h4m4 0h4m-324 8h4m12 0h4m12 0h4m12 0h4m12 0h4m12 0h4m12 0h4m12 0h4m12 0h4m12 0h4m12 0h4m12 0h4m12 0h4m12 0h4m12 0h4m12 0h4m12 0h4m12 0h4m12 0h4m12 0h4m12 0h4m-284 8h4m12 0h4m12 0h4m12 0h4m12 0h4m12 0h4m12 0h4m12 0h4m12 0h4m12 0h4m12 0h4m12 0h4m12 0h4m12 0h4m12 0h4m12 0h4m12 0h4m12 0h4m-300 8h4m12 0h4m12 0h4m12 0h4m12 0h4m12 0h4m12 0h4m12 0h4m12 0h4m12 0h4m12 0h4m12 0h4m12 0h4m12 0h4m12 0h4m12 0h4m12 0h4m12 0h4m12 0h4m12 0h4m-284 8h4m12 0h4m12 0h4m12 0h4m12 0h4m12 0h4m12 0h4m12 0h4m12 0h4m12 0h4m12 0h4m12 0h4m12 0h4m12 0h4m12 0h4m12 0h4m12 0h4m12 0h4m-300 8h4m12 0h4m12 0h4m12 0h4m12 0h4m12 0h4m12 0h4m12 0h4m12 0h4m12 0h4m12 0h4m12 0h4m12 0h4m12 0h4m12 0h4m12 0h4m12 0h4m12 0h4m12 0h4m12 0h4m-284 8h4m12 0h4m12 0h4m12 0h4m12 0h4m12 0h4m12 0h4m12 0h4m12 0h4m12 0h4m12 0h4m12 0h4m12 0h4m12 0h4m12 0h4m12 0h4m12 0h4m12 0h4m-300 8h4m12 0h4m12 0h4m12 0h4m12 0h4m12 0h4m12 0h4m12 0h4m12 0h4m12 0h4m12 0h4m12 0h4m12 0h4m12 0h4m12 0h4m12 0h4m12 0h4m12 0h4m12 0h4m12 0h4m-268 8h4m12 0h4m12 0h4m12 0h4m12 0h4m12 0h4m12 0h4m12 0h4m12 0h4m12 0h4m12 0h4m12 0h4m12 0h4m12 0h4m12 0h4m12 0h4m12 0h4m-300 8h4m12 0h4m12 0h4m12 0h4m12 0h4m12 0h4m12 0h4m12 0h4m12 0h4m12 0h4m12 0h4m12 0h4m12 0h4m12 0h4m12 0h4m12 0h4m12 0h4m12 0h4m12 0h4m12 0h4m-268 8h4m12 0h4m12 0h4m12 0h4m12 0h4m12 0h4m12 0h4m12 0h4m12 0h4m12 0h4m12 0h4m12 0h4m12 0h4m12 0h4m12 0h4m12 0h4m12 0h4m-284 8h4m12 0h4m12 0h4m12 0h4m12 0h4m12 0h4m12 0h4m12 0h4m12 0h4m12 0h4m12 0h4m12 0h4m12 0h4m12 0h4m12 0h4m12 0h4m12 0h4m12 0h4m12 0h4m-268 8h4m12 0h4m12 0h4m12 0h4m12 0h4m12 0h4m12 0h4m12 0h4m12 0h4m12 0h4m12 0h4m12 0h4m12 0h4m12 0h4m12 0h4m12 0h4m12 0h4m-284 8h4m12 0h4m12 0h4m12 0h4m12 0h4m12 0h4m12 0h4m12 0h4m12 0h4m12 0h4m12 0h4m12 0h4m12 0h4m12 0h4m12 0h4m12 0h4m12 0h4m12 0h4m12 0h4m-252 8h4m12 0h4m12 0h4m12 0h4m12 0h4m12 0h4m12 0h4m12 0h4m12 0h4m12 0h4m12 0h4m12 0h4m12 0h4m12 0h4m12 0h4m12 0h4m-268 8h4m12 0h4m12 0h4m12 0h4m12 0h4m12 0h4m12 0h4m12 0h4m12 0h4m12 0h4m12 0h4m12 0h4m12 0h4m12 0h4m12 0h4m12 0h4m12 0h4m12 0h4m-252 8h4m12 0h4m12 0h4m12 0h4m12 0h4m12 0h4m12 0h4m12 0h4m12 0h4m12 0h4m12 0h4m12 0h4m12 0h4m12 0h4m12 0h4m12 0h4m-236 8h4m12 0h4m12 0h4m12 0h4m12 0h4m12 0h4m12 0h4m12 0h4m12 0h4m12 0h4m12 0h4m12 0h4m12 0h4m12 0h4m12 0h4m12 0h4m-220 8h4m12 0h4m12 0h4m12 0h4m12 0h4m12 0h4m12 0h4m12 0h4m12 0h4m12 0h4m12 0h4m12 0h4m12 0h4m12 0h4m-220 8h4m12 0h4m12 0h4m12 0h4m12 0h4m12 0h4m12 0h4m12 0h4m12 0h4m12 0h4m12 0h4m12 0h4m12 0h4m12 0h4m12 0h4m-204 8h4m12 0h4m12 0h4m12 0h4m12 0h4m12 0h4m12 0h4m12 0h4m12 0h4m12 0h4m12 0h4m12 0h4m12 0h4m-204 8h4m12 0h4m12 0h4m12 0h4m12 0h4m12 0h4m12 0h4m12 0h4m12 0h4m12 0h4m12 0h4m12 0h4m12 0h4m12 0h4m-188 8h4m12 0h4m12 0h4m12 0h4m12 0h4m12 0h4m12 0h4m12 0h4m12 0h4m12 0h4m12 0h4m12 0h4m-188 8h4m12 0h4m12 0h4m12 0h4m12 0h4m12 0h4m12 0h4m12 0h4m12 0h4m12 0h4m12 0h4m12 0h4m12 0h4m-172 8h4m12 0h4m12 0h4m12 0h4m12 0h4m12 0h4m12 0h4m12 0h4m12 0h4m12 0h4m12 0h4m-156 8h4m12 0h4m12 0h4m12 0h4m12 0h4m12 0h4m12 0h4m12 0h4m12 0h4m12 0h4m12 0h4m-156 8h4m12 0h4m12 0h4m12 0h4m12 0h4m12 0h4m12 0h4m12 0h4m12 0h4m12 0h4m-140 8h4m12 0h4m12 0h4m12 0h4m12 0h4m12 0h4m12 0h4m12 0h4m12 0h4m12 0h4m-124 8h4m12 0h4m12 0h4m12 0h4m12 0h4m12 0h4m12 0h4m12 0h4m-124 8h4m12 0h4m12 0h4m12 0h4m12 0h4m12 0h4m12 0h4m12 0h4m12 0h4m-108 8h4m12 0h4m12 0h4m12 0h4m12 0h4m12 0h4m12 0h4m-92 8h4m12 0h4m12 0h4m12 0h4m12 0h4m12 0h4m12 0h4m-92 8h4m12 0h4m12 0h4m12 0h4m12 0h4m12 0h4m-76 8h4m12 0h4m12 0h4m12 0h4m12 0h4m12 0h4m-76 8h4m12 0h4m12 0h4m12 0h4m12 0h4m-60 8h4m12 0h4m12 0h4m12 0h4m12 0h4m-44 8h4m12 0h4m12 0h4m-44 8h4m12 0h4m12 0h4m12 0h4m-28 8h4m12 0h4m-12 8h4m12 0h4m-4 16h4M98 899h4m12 0h4m12 0h4m12 0h4m12 0h4m12 0h4m12 0h4m12 0h4m12 0h4m12 0h4m12 0h4m12 0h4m12 0h4m12 0h4m12 0h4m12 0h4m12 0h4m12 0h4m12 0h4m12 0h4m12 0h4m12 0h4m12 0h4m12 0h4m12 0h4m12 0h4m12 0h4m-412 8h4m12 0h4m12 0h4m12 0h4m12 0h4m12 0h4m12 0h4m12 0h4m12 0h4m12 0h4m12 0h4m12 0h4m12 0h4m12 0h4m12 0h4m12 0h4m12 0h4m12 0h4m12 0h4m12 0h4m12 0h4m12 0h4m12 0h4m12 0h4m12 0h4m12 0h4M98 915h4m12 0h4m12 0h4m12 0h4m12 0h4m12 0h4m12 0h4m12 0h4m12 0h4m12 0h4m12 0h4m12 0h4m12 0h4m12 0h4m12 0h4m12 0h4m12 0h4m12 0h4m12 0h4m12 0h4m12 0h4m12 0h4m12 0h4m12 0h4m12 0h4m12 0h4m12 0h4m-412 8h4m12 0h4m12 0h4m12 0h4m12 0h4m12 0h4m12 0h4m12 0h4m12 0h4m12 0h4m12 0h4m12 0h4m12 0h4m12 0h4m12 0h4m12 0h4m12 0h4m12 0h4m12 0h4m12 0h4m12 0h4m12 0h4m12 0h4m12 0h4m12 0h4m12 0h4M98 931h4m12 0h4m12 0h4m12 0h4m12 0h4m12 0h4m12 0h4m12 0h4m12 0h4m12 0h4m12 0h4m12 0h4m12 0h4m12 0h4m12 0h4m12 0h4m12 0h4m12 0h4m12 0h4m12 0h4m12 0h4m12 0h4m12 0h4m12 0h4m12 0h4m12 0h4m12 0h4m132 0h4m-548 8h4m12 0h4m12 0h4m12 0h4m12 0h4m12 0h4m12 0h4m12 0h4m12 0h4m12 0h4m12 0h4m12 0h4m12 0h4m12 0h4m12 0h4m12 0h4m12 0h4m12 0h4m12 0h4m12 0h4m12 0h4m12 0h4m12 0h4m12 0h4m12 0h4m12 0h4"/>
<path stroke="#2a64ad" stroke-width="4" d="M166 67h8m4 0h4m-20 4h16m-12 4h8m4 0h4m-20 4h16m-12 4h8m4 0h4m-20 4h16m-12 4h8m4 0h4m-20 4h16m-12 4h8m4 0h4m-20 4h16m272 4h4m0 4h4m4 4h8m-4 4h8m-4 4h8m-4 4h8m-4 4h8m-4 4h8m-4 4h8m-4 4h4m0 4h4m0 4h4m0 8h4m0 4h4m-4 4h4m0 4h4m4 12h4m-4 4h8m-4 4h4m0 8h4m-4 4h4m0 12h8m-4 4h4m0 8h4m-4 4h4m0 8h4m-4 4h8m-4 8h4M98 255h4m444 0h4m0 4h4m-4 4h4m-4 4h8M98 271h4m12 0h4m436 4h4M98 279h4m4 0h4m444 0h4M98 287h4m4 0h4m4 0h4m440 0h4m-4 4h4M98 295h4m4 0h4m4 0h4m4 0h4m432 0h4m-460 4h4m452 0h4M98 303h4m4 0h4m4 0h4m4 0h4m4 0h4m428 4h4M98 311h4m4 0h4m4 0h4m4 0h4m12 0h4m-40 4h4m12 0h4m440 0h4M98 319h4m4 0h4m4 0h4m4 0h4m4 0h4m4 0h4m4 0h4m12 0h4m-64 4h4m4 0h4m444 0h8M98 327h4m4 0h4m4 0h4m4 0h4m4 0h4m4 0h4m4 0h4m4 0h4m400 0h4m-460 4h4m4 0h4m4 0h4m12 0h4m420 0h4M98 335h4m4 0h4m4 0h4m4 0h4m4 0h4m4 0h4m4 0h4m4 0h4m4 0h4m12 0h4m376 0h4m-460 4h4m4 0h4m12 0h4m428 0h4M98 343h4m4 0h4m4 0h4m4 0h4m4 0h4m4 0h4m4 0h4m4 0h4m12 0h4m-72 4h4m4 0h4m4 0h4m12 0h4m424 0h4M98 351h4m4 0h4m4 0h4m4 0h4m4 0h4m4 0h4m4 0h4m4 0h4m4 0h4m4 0h4m4 0h4m12 0h4m364 0h8m-468 4h4m4 0h4m12 0h4m12 0h4m420 0h8M98 359h4m4 0h4m4 0h4m4 0h4m4 0h4m4 0h4m4 0h4m4 0h4m4 0h4m4 0h4m12 0h4m-88 4h4m4 0h4m4 0h4m4 0h4m4 0h4m12 0h4m-56 4h12m4 0h4m4 0h4m4 0h4m4 0h4m4 0h4m4 0h4m4 0h4m4 0h4m4 0h4m4 0h4m4 0h4m12 0h4m360 0h4m-476 4h4m4 0h4m4 0h4m4 0h4m12 0h4m428 0h8M98 375h4m4 0h4m4 0h4m4 0h4m4 0h4m4 0h4m4 0h4m4 0h4m4 0h4m4 0h4m4 0h4m4 0h4m12 0h4m372 0h4m-480 4h4m4 0h4m4 0h4m4 0h4m4 0h4m4 0h4m4 0h4m12 0h4m-72 4h12m4 0h12m4 0h4m4 0h4m4 0h4m4 0h4m4 0h4m4 0h4m4 0h4m4 0h4m4 0h4m4 0h4m4 0h4m364 0h8m-484 4h4m4 0h4m4 0h4m4 0h4m4 0h4m4 0h4m12 0h4m420 0h8M98 391h4m4 0h4m4 0h4m4 0h4m4 0h4m4 0h4m4 0h4m4 0h4m4 0h4m4 0h4m4 0h4m4 0h4m4 0h4m4 0h4m-104 4h4m4 0h4m4 0h4m4 0h4m4 0h4m4 0h4m4 0h4m4 0h4m4 0h4m12 0h4m400 0h4M98 399h12m4 0h12m4 0h4m4 0h4m4 0h4m4 0h4m4 0h4m4 0h4m4 0h4m4 0h4m4 0h4m4 0h4m4 0h4m372 0h8m-492 4h4m4 0h4m4 0h4m4 0h4m4 0h4m4 0h4m4 0h4m4 0h4m12 0h4m12 0h4m396 0h8M98 407h4m4 0h12m4 0h4m4 0h4m4 0h4m4 0h4m4 0h4m4 0h4m4 0h4m4 0h4m4 0h4m4 0h4m4 0h4m12 0h4m368 0h4m-492 4h4m4 0h4m4 0h4m4 0h4m4 0h4m4 0h4m4 0h4m4 0h4m4 0h4m4 0h4m4 0h4m12 0h4m388 0h8M98 415h12m4 0h12m4 0h12m4 0h4m4 0h4m4 0h4m4 0h4m4 0h4m4 0h4m4 0h4m4 0h4m4 0h4m380 0h4m-496 4h4m4 0h4m4 0h4m4 0h4m4 0h4m4 0h4m4 0h4m4 0h4m12 0h4m12 0h4m404 0h4M98 423h4m4 0h12m4 0h4m4 0h4m4 0h4m4 0h4m4 0h4m4 0h4m4 0h4m4 0h4m4 0h4m4 0h4m4 0h4m4 0h4m4 0h4m372 0h8m-500 4h4m4 0h4m4 0h4m4 0h4m4 0h4m4 0h4m4 0h4m4 0h4m4 0h4m4 0h4m4 0h4m12 0h4m396 0h8M98 431h12m4 0h12m4 0h12m4 0h4m4 0h4m4 0h4m4 0h4m4 0h4m4 0h4m4 0h4m4 0h4m4 0h4m4 0h4m4 0h4m368 0h12m-508 4h4m4 0h4m4 0h4m4 0h4m4 0h4m4 0h4m4 0h4m4 0h4m12 0h4m12 0h4m408 0h4m4 0h4M98 439h4m4 0h12m4 0h4m4 0h4m4 0h4m4 0h4m4 0h4m4 0h4m4 0h4m4 0h4m4 0h4m4 0h4m4 0h4m4 0h4m4 0h4m380 0h8m-508 4h4m4 0h4m4 0h4m4 0h4m4 0h4m4 0h4m4 0h4m4 0h4m4 0h4m4 0h4m4 0h4m12 0h4m404 0h8m4 0h4M98 447h12m4 0h12m4 0h12m4 0h4m4 0h4m4 0h4m4 0h4m4 0h4m4 0h4m4 0h4m4 0h4m4 0h4m4 0h4m4 0h4m276 0h4m92 0h4m4 0h8m4 0h4m-524 4h4m4 0h4m4 0h4m4 0h4m4 0h4m4 0h4m4 0h4m4 0h4m12 0h4m12 0h4m316 0h4m100 0h16m4 0h4m4 0h4m12 0h4m12 0h4m12 0h4m12 0h4m12 0h4m12 0h4m12 0h4m12 0h4m12 0h4m12 0h4m12 0h4m12 0h4m12 0h4m12 0h4m12 0h4m12 0h4m12 0h4m12 0h4m12 0h4m12 0h4m12 0h4M98 455h4m4 0h12m4 0h4m4 0h4m4 0h4m4 0h4m4 0h4m4 0h4m4 0h4m4 0h4m4 0h4m4 0h4m4 0h4m4 0h4m4 0h4m284 0h4m4 0h4m100 0h16m4 0h4m-540 4h4m4 0h4m4 0h4m4 0h4m4 0h4m4 0h4m4 0h4m4 0h4m4 0h4m4 0h4m4 0h4m12 0h4m12 0h4m292 0h4m108 0h4m4 0h16m4 0h4m4 0h4m4 0h4m4 0h4m4 0h4m4 0h4m4 0h4m4 0h4m4 0h4m4 0h4m4 0h4m4 0h4m4 0h4m4 0h4m4 0h4m4 0h4m4 0h4m4 0h4m4 0h4m4 0h4m4 0h4m4 0h4m4 0h4m4 0h4m4 0h4m4 0h4m4 0h4m4 0h4m4 0h4m4 0h4m4 0h4m4 0h4m4 0h4m4 0h4m4 0h4m4 0h4m4 0h4m4 0h4m4 0h4m4 0h4m4 0h4m4 0h4M98 463h12m4 0h12m4 0h12m4 0h4m4 0h4m4 0h4m4 0h4m4 0h4m4 0h4m4 0h4m4 0h4m4 0h4m4 0h4m4 0h4m284 0h4m108 0h16m4 0h4m4 0h4m12 0h4m12 0h4m12 0h4m12 0h4m12 0h4m12 0h4m12 0h4m12 0h4m12 0h4m12 0h4m12 0h4m12 0h4m12 0h4m12 0h4m12 0h4m12 0h4m12 0h4m12 0h4m12 0h4m12 0h4m-876 4h4m4 0h4m4 0h4m4 0h4m4 0h4m4 0h4m4 0h4m4 0h4m12 0h4m12 0h4m316 0h4m124 0h16m4 0h12m4 0h12m4 0h12m4 0h12m4 0h12m4 0h12m4 0h12m4 0h12m4 0h12m4 0h12m4 0h12m4 0h12m4 0h12m4 0h12m4 0h12m4 0h12m4 0h12m4 0h12m4 0h12m4 0h12m4 0h4M98 471h4m4 0h12m4 0h4m4 0h4m4 0h4m4 0h4m4 0h4m4 0h4m4 0h4m4 0h4m4 0h4m4 0h4m4 0h4m4 0h4m4 0h4m4 0h4m4 0h4m276 0h4m116 0h16m4 0h4m4 0h4m4 0h4m4 0h4m4 0h4m4 0h4m4 0h4m4 0h4m4 0h4m4 0h4m4 0h4m4 0h4m4 0h4m4 0h4m4 0h4m4 0h4m4 0h4m4 0h4m4 0h4m4 0h4m4 0h4m4 0h4m4 0h4m4 0h4m4 0h4m4 0h4m4 0h4m4 0h4m4 0h4m4 0h4m4 0h4m4 0h4m4 0h4m4 0h4m4 0h4m4 0h4m4 0h4m4 0h4m4 0h4m4 0h4m4 0h4m-876 4h4m4 0h4m4 0h4m4 0h4m4 0h4m4 0h4m4 0h4m4 0h4m4 0h4m4 0h4m4 0h4m12 0h4m12 0h4m300 0h4m116 0h4m4 0h336M98 479h12m4 0h12m4 0h12m4 0h4m4 0h4m4 0h4m4 0h4m4 0h4m4 0h4m4 0h4m4 0h4m4 0h4m4 0h4m4 0h4m4 0h4m4 0h4m268 0h4m124 0h16m4 0h12m4 0h12m4 0h12m4 0h12m4 0h12m4 0h12m4 0h12m4 0h12m4 0h12m4 0h12m4 0h12m4 0h12m4 0h12m4 0h12m4 0h12m4 0h12m4 0h12m4 0h12m4 0h12m4 0h12m-876 4h4m4 0h4m4 0h4m4 0h4m4 0h4m4 0h4m4 0h4m4 0h4m12 0h4m12 0h4m452 0h4m4 0h328M98 487h4m4 0h12m4 0h4m4 0h4m4 0h4m4 0h4m4 0h4m4 0h4m4 0h4m4 0h4m4 0h4m4 0h4m4 0h4m4 0h4m4 0h4m4 0h4m4 0h4m284 0h4m116 0h4m4 0h48m4 0h12m4 0h12m4 0h12m4 0h12m4 0h12m4 0h12m4 0h12m4 0h12m4 0h12m4 0h12m4 0h12m4 0h12m4 0h12m4 0h12m4 0h12m4 0h12m4 0h12m4 0h8m-880 4h4m4 0h4m4 0h4m4 0h4m4 0h4m4 0h4m4 0h4m4 0h4m4 0h4m4 0h4m4 0h4m12 0h4m12 0h4m428 0h4m4 0h328M98 495h12m4 0h12m4 0h12m4 0h4m4 0h4m4 0h4m4 0h4m4 0h4m4 0h4m4 0h4m4 0h4m4 0h4m4 0h4m4 0h4m4 0h4m4 0h4m276 0h4m116 0h4m4 0h24m4 0h12m4 0h12m4 0h12m4 0h12m4 0h12m4 0h12m4 0h12m4 0h12m4 0h12m4 0h12m4 0h12m4 0h12m4 0h12m4 0h12m4 0h12m4 0h12m4 0h12m4 0h12m4 0h12m-876 4h4m4 0h4m4 0h4m4 0h4m4 0h4m4 0h4m4 0h4m4 0h4m12 0h4m12 0h4m460 0h4m4 0h320m-460 4h4m124 0h48m4 0h12m4 0h12m4 0h12m4 0h12m4 0h12m4 0h12m4 0h12m4 0h12m4 0h12m4 0h12m4 0h12m4 0h12m4 0h12m4 0h12m4 0h12m4 0h12m4 0h12m4 0h8m-336 4h4m4 0h328M98 511h4m12 0h4m12 0h4m12 0h4m12 0h4m12 0h4m12 0h4m12 0h4m12 0h4m12 0h4m396 0h4m4 0h24m4 0h12m4 0h12m4 0h12m4 0h12m4 0h12m4 0h12m4 0h12m4 0h12m4 0h12m4 0h12m4 0h12m4 0h12m4 0h12m4 0h12m4 0h12m4 0h12m4 0h12m4 0h12m4 0h12m-324 4h4m4 0h320m-332 4h48m4 0h12m4 0h12m4 0h12m4 0h12m4 0h12m4 0h12m4 0h12m4 0h12m4 0h12m4 0h12m4 0h12m4 0h12m4 0h12m4 0h12m4 0h12m4 0h12m4 0h12m4 0h8m-336 4h4m4 0h4m4 0h320M98 527h4m12 0h4m12 0h4m12 0h4m12 0h4m12 0h4m12 0h4m12 0h4m12 0h4m12 0h4m12 0h4m380 0h4m4 0h4m4 0h16m4 0h12m4 0h12m4 0h12m4 0h12m4 0h12m4 0h12m4 0h12m4 0h12m4 0h12m4 0h12m4 0h12m4 0h12m4 0h12m4 0h12m4 0h12m4 0h12m4 0h12m4 0h12m4 0h12m-324 4h4m4 0h320m-332 4h4m4 0h56m4 0h12m4 0h12m4 0h12m4 0h12m4 0h12m4 0h12m4 0h12m4 0h12m4 0h12m4 0h12m4 0h12m4 0h12m4 0h12m4 0h12m4 0h12m4 0h12m4 0h8m-328 4h4m4 0h4m4 0h312M98 543h4m12 0h4m12 0h4m12 0h4m12 0h4m12 0h4m12 0h4m12 0h4m12 0h4m12 0h4m12 0h4m12 0h4m364 0h4m4 0h4m4 0h16m4 0h12m4 0h12m4 0h12m4 0h12m4 0h12m4 0h12m4 0h12m4 0h12m4 0h12m4 0h12m4 0h12m4 0h12m4 0h12m4 0h12m4 0h12m4 0h12m4 0h12m4 0h12m4 0h12m-324 4h4m4 0h4m4 0h312m-332 4h4m4 0h4m4 0h48m4 0h12m4 0h12m4 0h12m4 0h12m4 0h12m4 0h12m4 0h12m4 0h12m4 0h12m4 0h12m4 0h12m4 0h12m4 0h12m4 0h12m4 0h12m4 0h12m4 0h8m-328 4h4m4 0h4m4 0h312M98 559h4m12 0h4m12 0h4m12 0h4m12 0h4m12 0h4m12 0h4m12 0h4m12 0h4m12 0h4m12 0h4m12 0h4m12 0h4m356 0h4m4 0h32m4 0h12m4 0h12m4 0h12m4 0h12m4 0h12m4 0h12m4 0h12m4 0h12m4 0h12m4 0h12m4 0h12m4 0h12m4 0h12m4 0h12m4 0h12m4 0h12m4 0h12m4 0h12m-324 4h4m4 0h4m4 0h312m-764 4h4m12 0h4m12 0h4m12 0h4m12 0h4m12 0h4m348 0h4m4 0h4m4 0h48m4 0h12m4 0h12m4 0h12m4 0h12m4 0h12m4 0h12m4 0h12m4 0h12m4 0h12m4 0h12m4 0h12m4 0h12m4 0h12m4 0h12m4 0h12m4 0h12m4 0h8m-328 4h4m4 0h4m4 0h312M98 575h4m12 0h4m12 0h4m12 0h4m12 0h4m12 0h4m12 0h4m12 0h4m12 0h4m12 0h4m4 0h4m4 0h4m4 0h4m4 0h4m4 0h4m4 0h4m4 0h4m4 0h4m332 0h4m4 0h4m4 0h32m4 0h12m4 0h12m4 0h12m4 0h12m4 0h12m4 0h12m4 0h12m4 0h12m4 0h12m4 0h12m4 0h12m4 0h12m4 0h12m4 0h12m4 0h12m4 0h12m4 0h12m4 0h12m-324 4h4m4 0h4m4 0h4m4 0h304m-764 4h4m12 0h4m12 0h4m4 0h4m4 0h4m4 0h4m4 0h4m4 0h4m4 0h4m4 0h4m4 0h4m332 0h4m4 0h72m4 0h12m4 0h12m4 0h12m4 0h12m4 0h12m4 0h12m4 0h12m4 0h12m4 0h12m4 0h12m4 0h12m4 0h12m4 0h12m4 0h12m4 0h12m4 0h8m-720 4h4m4 0h4m4 0h4m4 0h4m4 0h4m348 0h4m4 0h4m4 0h4m4 0h312M98 591h4m12 0h4m12 0h4m12 0h4m12 0h4m12 0h4m12 0h4m12 0h4m12 0h4m4 0h4m4 0h4m4 0h4m4 0h4m4 0h4m4 0h12m4 0h4m4 0h4m4 0h4m4 0h4m4 0h4m316 0h4m4 0h4m4 0h48m4 0h12m4 0h12m4 0h12m4 0h12m4 0h12m4 0h12m4 0h12m4 0h12m4 0h12m4 0h12m4 0h12m4 0h12m4 0h12m4 0h12m4 0h12m4 0h12m4 0h12m-724 4h4m4 0h4m4 0h4m4 0h4m4 0h4m4 0h4m4 0h4m348 0h4m4 0h4m4 0h4m4 0h12m4 0h288m-780 4h4m12 0h4m12 0h4m4 0h4m4 0h4m4 0h4m4 0h12m4 0h12m4 0h4m4 0h4m4 0h4m332 0h4m4 0h4m4 0h64m4 0h12m4 0h12m4 0h12m4 0h12m4 0h12m4 0h12m4 0h12m4 0h12m4 0h12m4 0h12m4 0h12m4 0h12m4 0h12m4 0h12m4 0h12m4 0h8m-736 4h4m4 0h4m4 0h4m4 0h4m4 0h4m4 0h12m4 0h4m4 0h4m348 0h4m4 0h4m4 0h4m4 0h12m4 0h280M98 607h4m12 0h4m12 0h4m12 0h4m12 0h4m12 0h4m12 0h4m12 0h4m12 0h4m4 0h4m4 0h4m4 0h4m4 0h60m4 0h4m324 0h4m4 0h4m4 0h4m4 0h64m4 0h12m4 0h12m4 0h12m4 0h12m4 0h12m4 0h12m4 0h12m4 0h12m4 0h12m4 0h12m4 0h12m4 0h12m4 0h12m4 0h12m4 0h12m-724 4h4m4 0h4m4 0h4m4 0h12m4 0h4m4 0h4m4 0h4m4 0h4m348 0h4m4 0h4m4 0h4m4 0h4m4 0h4m4 0h12m4 0h256m-780 4h4m12 0h4m12 0h4m4 0h4m4 0h4m4 0h4m4 0h44m4 0h4m4 0h4m4 0h4m324 0h4m4 0h4m4 0h4m4 0h80m4 0h12m4 0h12m4 0h12m4 0h12m4 0h12m4 0h12m4 0h12m4 0h12m4 0h12m4 0h12m4 0h12m4 0h12m4 0h12m4 0h8m-736 4h4m4 0h4m4 0h4m4 0h28m4 0h4m4 0h4m4 0h4m356 0h4m4 0h4m4 0h4m4 0h12m4 0h264M98 623h4m12 0h4m12 0h4m12 0h4m12 0h4m12 0h4m12 0h4m12 0h4m12 0h4m4 0h4m4 0h4m4 0h4m4 0h60m4 0h4m4 0h4m332 0h4m4 0h4m4 0h4m4 0h64m4 0h12m4 0h12m4 0h12m4 0h12m4 0h12m4 0h12m4 0h12m4 0h12m4 0h12m4 0h12m4 0h12m4 0h12m4 0h12m4 0h12m-724 4h4m4 0h4m4 0h4m4 0h12m4 0h12m4 0h4m4 0h4m364 0h4m4 0h4m4 0h4m4 0h4m4 0h4m4 0h12m4 0h240m-780 4h4m12 0h4m12 0h4m4 0h4m4 0h4m4 0h4m4 0h52m4 0h4m4 0h4m348 0h4m4 0h4m4 0h4m4 0h4m4 0h64m4 0h12m4 0h12m4 0h12m4 0h12m4 0h12m4 0h12m4 0h12m4 0h12m4 0h12m4 0h12m4 0h12m4 0h12m4 0h8m-736 4h4m4 0h4m4 0h4m4 0h44m4 0h4m4 0h4m364 0h4m4 0h4m4 0h4m4 0h4m4 0h4m4 0h248M98 639h4m12 0h4m12 0h4m12 0h4m12 0h4m12 0h4m12 0h4m12 0h4m12 0h4m4 0h4m4 0h4m4 0h4m4 0h60m4 0h4m4 0h4m4 0h4m348 0h4m4 0h4m4 0h12m4 0h48m4 0h12m4 0h12m4 0h12m4 0h12m4 0h12m4 0h12m4 0h12m4 0h12m4 0h12m4 0h12m4 0h12m4 0h12m4 0h12m-724 4h4m4 0h4m4 0h4m4 0h12m4 0h12m4 0h4m4 0h4m4 0h4m372 0h4m4 0h4m4 0h4m4 0h4m4 0h4m4 0h4m4 0h4m4 0h224m-780 4h4m12 0h4m12 0h4m4 0h4m4 0h4m4 0h4m4 0h60m4 0h4m364 0h4m4 0h4m4 0h4m4 0h4m4 0h64m4 0h12m4 0h12m4 0h12m4 0h12m4 0h12m4 0h12m4 0h12m4 0h12m4 0h12m4 0h12m4 0h12m4 0h8m-720 4h4m4 0h4m4 0h4m4 0h28m4 0h4m4 0h4m380 0h4m4 0h4m4 0h4m4 0h4m4 0h4m4 0h12m4 0h216M98 655h4m12 0h4m12 0h4m12 0h4m12 0h4m12 0h4m12 0h4m12 0h4m12 0h4m4 0h4m4 0h4m4 0h4m4 0h4m4 0h4m4 0h60m4 0h4m364 0h4m4 0h4m4 0h4m4 0h4m4 0h48m4 0h12m4 0h12m4 0h12m4 0h12m4 0h12m4 0h12m4 0h12m4 0h12m4 0h12m4 0h12m4 0h12m4 0h12m-708 4h4m4 0h4m4 0h4m4 0h12m4 0h12m4 0h4m4 0h4m396 0h4m4 0h4m4 0h4m4 0h4m4 0h4m4 0h208m-764 4h4m12 0h4m12 0h4m4 0h4m4 0h4m4 0h4m4 0h44m4 0h4m4 0h4m4 0h4m380 0h4m4 0h4m4 0h64m4 0h12m4 0h12m4 0h12m4 0h12m4 0h12m4 0h12m4 0h12m4 0h12m4 0h12m4 0h12m4 0h8m-720 4h4m4 0h4m4 0h4m4 0h28m4 0h12m4 0h4m4 0h4m396 0h4m4 0h4m4 0h4m4 0h12m4 0h200M98 671h4m12 0h4m12 0h4m12 0h4m12 0h4m12 0h4m12 0h4m12 0h4m12 0h4m12 0h4m4 0h4m4 0h4m4 0h4m4 0h60m4 0h4m4 0h4m388 0h4m4 0h4m4 0h64m4 0h12m4 0h12m4 0h12m4 0h12m4 0h12m4 0h12m4 0h12m4 0h12m4 0h12m4 0h12m-708 4h4m4 0h4m4 0h4m4 0h12m4 0h12m4 0h4m4 0h4m412 0h4m4 0h4m4 0h4m4 0h4m4 0h4m4 0h192m-748 4h4m12 0h4m4 0h4m4 0h4m4 0h4m4 0h60m4 0h4m396 0h4m4 0h4m4 0h64m4 0h12m4 0h12m4 0h12m4 0h12m4 0h12m4 0h12m4 0h12m4 0h12m4 0h12m4 0h8m-720 4h4m4 0h4m4 0h4m4 0h4m4 0h4m4 0h28m4 0h4m4 0h4m412 0h4m4 0h4m4 0h4m4 0h12m4 0h184M98 687h4m12 0h4m12 0h4m12 0h4m12 0h4m12 0h4m12 0h4m12 0h4m12 0h4m12 0h4m4 0h4m4 0h4m4 0h4m4 0h4m4 0h4m4 0h52m4 0h4m4 0h4m396 0h4m4 0h4m4 0h64m4 0h12m4 0h12m4 0h12m4 0h12m4 0h12m4 0h12m4 0h12m4 0h12m4 0h12m-708 4h4m4 0h4m4 0h4m4 0h4m4 0h4m4 0h12m4 0h4m4 0h4m4 0h4m428 0h4m4 0h4m4 0h4m4 0h4m4 0h12m4 0h160m-748 4h4m12 0h4m12 0h4m4 0h4m4 0h60m4 0h4m4 0h4m412 0h4m4 0h4m4 0h4m4 0h64m4 0h12m4 0h12m4 0h12m4 0h12m4 0h12m4 0h12m4 0h12m4 0h8m-704 4h4m4 0h4m4 0h4m4 0h28m4 0h4m4 0h4m4 0h4m428 0h4m4 0h4m4 0h4m4 0h4m4 0h168M98 703h4m12 0h4m12 0h4m12 0h4m12 0h4m12 0h4m12 0h4m12 0h4m12 0h4m12 0h4m12 0h4m4 0h4m4 0h4m4 0h4m4 0h60m4 0h4m420 0h4m4 0h4m4 0h4m4 0h48m4 0h12m4 0h12m4 0h12m4 0h12m4 0h12m4 0h12m4 0h12m4 0h12m-692 4h4m4 0h4m4 0h4m4 0h12m4 0h12m4 0h4m4 0h4m444 0h4m4 0h4m4 0h4m4 0h12m4 0h144m-732 4h4m12 0h4m4 0h4m4 0h4m4 0h4m4 0h44m4 0h4m4 0h4m4 0h4m428 0h4m4 0h4m4 0h64m4 0h12m4 0h12m4 0h12m4 0h12m4 0h12m4 0h12m4 0h8m-704 4h4m4 0h4m4 0h4m4 0h12m4 0h28m4 0h4m4 0h4m444 0h4m4 0h4m4 0h4m4 0h12m4 0h136M98 719h4m124 0h4m12 0h4m12 0h4m4 0h4m4 0h4m4 0h4m4 0h60m4 0h4m4 0h4m4 0h4m428 0h4m4 0h4m4 0h64m4 0h12m4 0h12m4 0h12m4 0h12m4 0h12m4 0h12m-692 4h4m4 0h4m4 0h4m4 0h12m4 0h12m4 0h4m4 0h4m460 0h4m4 0h4m4 0h4m4 0h4m4 0h4m4 0h128m-716 4h4m12 0h4m4 0h4m4 0h60m4 0h4m452 0h4m4 0h12m4 0h48m4 0h12m4 0h12m4 0h12m4 0h12m4 0h12m4 0h8m-688 4h4m4 0h4m4 0h4m4 0h28m4 0h4m4 0h4m460 0h4m4 0h4m4 0h4m4 0h12m4 0h120m-724 4h4m12 0h4m4 0h4m4 0h4m4 0h4m4 0h60m4 0h4m452 0h4m4 0h64m4 0h12m4 0h12m4 0h12m4 0h12m4 0h12m-676 4h4m4 0h4m4 0h4m4 0h12m4 0h12m4 0h4m4 0h4m476 0h4m4 0h4m4 0h4m4 0h12m4 0h96m-700 4h4m4 0h4m4 0h4m4 0h4m4 0h44m4 0h4m4 0h4m4 0h4m460 0h4m4 0h4m4 0h48m4 0h12m4 0h12m4 0h12m4 0h12m4 0h8m-688 4h4m4 0h4m4 0h4m4 0h12m4 0h12m4 0h12m4 0h4m4 0h4m476 0h4m4 0h4m4 0h4m4 0h104m-708 4h4m4 0h4m4 0h4m4 0h4m4 0h60m4 0h4m4 0h4m324 0h4m12 0h4m124 0h4m4 0h4m4 0h48m4 0h12m4 0h12m4 0h12m4 0h12m-676 4h4m4 0h4m4 0h4m4 0h12m4 0h12m4 0h4m4 0h4m492 0h4m4 0h4m4 0h4m4 0h12m4 0h80m-700 4h4m12 0h4m4 0h4m4 0h60m4 0h4m476 0h4m4 0h4m4 0h64m4 0h12m4 0h12m4 0h8m-672 4h4m4 0h4m4 0h4m4 0h28m4 0h4m4 0h4m492 0h4m4 0h4m4 0h4m4 0h88m-708 4h4m12 0h4m4 0h4m4 0h4m4 0h4m4 0h60m4 0h4m316 0h4m12 0h4m12 0h4m132 0h4m4 0h48m4 0h12m4 0h12m4 0h12m-660 4h4m4 0h4m4 0h4m4 0h12m4 0h4m4 0h4m4 0h4m4 0h4m500 0h4m4 0h4m4 0h4m4 0h4m4 0h64m-684 4h4m4 0h4m4 0h4m4 0h4m4 0h44m4 0h4m4 0h4m500 0h4m4 0h4m4 0h48m4 0h12m4 0h8m-672 4h4m4 0h4m4 0h4m4 0h12m4 0h12m4 0h4m4 0h4m4 0h4m508 0h4m4 0h4m4 0h12m4 0h56m-692 4h4m12 0h4m4 0h4m4 0h60m4 0h4m4 0h4m308 0h4m12 0h4m12 0h4m12 0h4m12 0h4m124 0h4m4 0h56m4 0h12m-660 4h4m4 0h4m4 0h4m4 0h4m4 0h4m4 0h12m4 0h4m4 0h4m524 0h4m4 0h4m4 0h4m4 0h48m-684 4h4m12 0h4m4 0h4m4 0h60m4 0h4m508 0h4m4 0h4m4 0h60m-656 4h4m4 0h4m4 0h4m4 0h12m4 0h12m4 0h4m4 0h4m524 0h4m4 0h4m4 0h4m4 0h40m-676 4h4m4 0h4m4 0h4m4 0h4m4 0h52m4 0h4m4 0h4m300 0h4m12 0h4m12 0h4m12 0h4m12 0h4m12 0h4m124 0h4m4 0h4m4 0h48m-644 4h4m4 0h4m4 0h4m4 0h12m4 0h4m4 0h4m4 0h4m532 0h4m4 0h4m4 0h4m4 0h12m4 0h16m-668 4h4m4 0h4m4 0h4m4 0h4m4 0h44m4 0h4m532 0h4m4 0h44m-656 4h4m4 0h4m4 0h4m4 0h4m4 0h4m4 0h12m4 0h4m4 0h4m548 0h4m4 0h4m4 0h12m4 0h8m-676 4h4m4 0h4m4 0h4m4 0h4m4 0h60m4 0h4m300 0h4m12 0h4m12 0h4m12 0h4m12 0h4m12 0h4m12 0h4m12 0h4m116 0h4m4 0h36m-648 4h4m4 0h4m4 0h4m4 0h4m4 0h4m4 0h4m4 0h4m4 0h4m4 0h4m556 0h4m4 0h4m4 0h4m-664 4h4m12 0h4m4 0h4m4 0h44m4 0h4m4 0h4m4 0h4m540 0h4m4 0h4m4 0h12m-640 4h4m4 0h4m4 0h4m4 0h12m4 0h4m4 0h4m4 0h4m4 0h4m556 0h4m4 0h4m-672 4h4m12 0h4m4 0h4m4 0h4m4 0h4m4 0h44m4 0h4m4 0h4m292 0h4m12 0h4m12 0h4m12 0h4m12 0h4m12 0h4m12 0h4m12 0h4m12 0h4m124 0h4m4 0h4m4 0h4m-632 4h4m4 0h4m4 0h4m4 0h4m4 0h4m4 0h4m4 0h4m572 0h4m-648 4h4m4 0h4m4 0h4m4 0h4m4 0h44m4 0h4m564 0h4m-640 4h4m4 0h4m4 0h4m4 0h4m4 0h4m4 0h12m4 0h4m4 0h4m-104 4h4m12 0h4m4 0h4m4 0h4m4 0h4m4 0h52m4 0h4m4 0h4m284 0h4m12 0h4m12 0h4m12 0h4m12 0h4m12 0h4m12 0h4m12 0h4m12 0h4m12 0h4m12 0h4m-520 4h4m4 0h4m4 0h4m4 0h4m4 0h4m4 0h4m4 0h4m4 0h4m-80 4h4m4 0h4m4 0h4m4 0h4m4 0h44m4 0h4m4 0h4m-64 4h4m4 0h4m4 0h4m4 0h12m4 0h4m4 0h4m-104 4h4m12 0h4m12 0h4m4 0h4m4 0h4m4 0h4m4 0h44m4 0h4m284 0h4m12 0h4m12 0h4m12 0h4m12 0h4m12 0h4m12 0h4m12 0h4m12 0h4m12 0h4m12 0h4m12 0h4m-520 4h4m4 0h4m4 0h4m4 0h4m4 0h4m4 0h4m4 0h4m-88 4h4m12 0h4m4 0h4m4 0h4m4 0h4m4 0h28m4 0h4m4 0h4m4 0h4m-72 4h4m4 0h4m4 0h4m4 0h4m4 0h4m4 0h4m4 0h4m4 0h4m4 0h4m-120 4h4m12 0h4m12 0h4m4 0h4m4 0h4m4 0h4m4 0h44m4 0h4m4 0h4m276 0h4m12 0h4m12 0h4m12 0h4m12 0h4m12 0h4m12 0h4m12 0h4m12 0h4m12 0h4m12 0h4m12 0h4m12 0h4m12 0h4m-552 4h4m4 0h4m4 0h4m4 0h4m4 0h4m4 0h4m4 0h4m-88 4h4m12 0h4m4 0h4m4 0h4m4 0h4m4 0h44m4 0h4m-72 4h4m12 0h4m4 0h4m28 0h4m4 0h4m-136 4h4m12 0h4m12 0h4m12 0h4m4 0h4m4 0h4m4 0h4m4 0h4m4 0h4m4 0h4m24 0h8m4 0h4m4 0h4m268 0h4m12 0h4m12 0h4m12 0h4m12 0h4m12 0h4m12 0h4m12 0h4m12 0h4m12 0h4m12 0h4m12 0h4m12 0h4m12 0h4m12 0h4"/>
<path stroke="#2a73b5" stroke-width="4" d="M154 67h4m-4 8h4m-4 8h4m-4 8h4m-4 8h4m280 8h8m-4 4h8M98 119h4m4 0h4m-8 4h4m356 0h8M98 127h12m4 0h4m348 0h8m-372 4h4m4 0h4m360 0h4M98 135h20m4 0h4m348 0h8M98 139h8m4 0h4m4 0h4m356 0h8m-384 4h24m4 0h4m348 0h4M98 147h16m4 0h4m364 0h4M98 151h28m-28 4h24m4 0h4m364 0h4m-396 4h24m4 0h4m-36 4h24m4 0h4m-28 4h4m4 0h24m4 0h4m360 0h4M98 171h32m4 0h4m364 0h8m-408 4h4m4 0h4m4 0h16m4 0h4m364 0h4M98 179h32m4 0h4m-36 4h4m4 0h4m4 0h16m4 0h4m368 0h4M98 187h4m4 0h32m376 0h4m-416 4h4m4 0h4m4 0h4m4 0h16m4 0h4m364 0h4M98 195h4m4 0h4m4 0h24m4 0h4m372 0h4m-420 4h4m4 0h4m4 0h4m4 0h24m4 0h4m360 0h4M98 203h4m4 0h4m4 0h4m4 0h16m4 0h4m4 0h4m368 0h4m-416 4h4m4 0h4m4 0h4m4 0h24m4 0h4m356 0h4M98 211h4m4 0h4m4 0h4m4 0h24m4 0h4m4 0h4m-60 4h4m12 0h4m4 0h4m4 0h4m4 0h16m4 0h4m360 0h4m-424 4h4m4 0h4m4 0h4m4 0h24m4 0h4m4 0h4m356 0h4m-404 4h4m4 0h4m4 0h4m4 0h16m4 0h4m4 0h4m-84 4h4m4 0h4m4 0h4m4 0h4m4 0h32m4 0h4m-44 4h4m4 0h4m4 0h24m4 0h4m4 0h4m352 0h4m-432 4h4m12 0h4m4 0h4m4 0h32m4 0h4m4 0h4m348 0h4m-412 4h4m4 0h4m4 0h4m4 0h24m4 0h4m4 0h4m4 0h4m-84 4h4m4 0h4m4 0h4m4 0h4m4 0h32m4 0h4m352 0h4m-408 4h4m4 0h4m4 0h4m4 0h24m4 0h4m4 0h4m4 0h4m332 0h4m-420 4h4m4 0h4m4 0h4m4 0h4m4 0h32m4 0h4m4 0h4m-60 4h4m4 0h4m4 0h4m4 0h32m4 0h4m4 0h4m328 0h4m-416 4h4m4 0h4m4 0h4m4 0h4m4 0h32m4 0h4m4 0h4m332 0h8m-400 4h4m4 0h4m4 0h4m4 0h32m4 0h4m4 0h4m-84 4h4m4 0h4m4 0h4m4 0h4m4 0h32m4 0h4m4 0h4m328 0h4m-392 4h4m4 0h4m4 0h4m4 0h12m4 0h24m4 0h4m4 0h4m308 0h4m-420 4h4m4 0h4m4 0h4m4 0h4m4 0h12m4 0h32m4 0h4m4 0h4m-76 4h4m12 0h4m4 0h4m4 0h4m4 0h40m4 0h4m4 0h4m304 0h4m-416 4h4m12 0h4m4 0h4m4 0h4m4 0h4m4 0h32m4 0h4m4 0h4m4 0h4m308 0h4m-380 4h4m4 0h4m4 0h4m4 0h4m4 0h4m4 0h24m4 0h4m4 0h4m4 0h4m288 0h4m-408 4h4m4 0h4m4 0h4m4 0h4m4 0h4m4 0h4m4 0h32m4 0h4m4 0h4m4 0h4m304 0h4m-392 4h4m12 0h4m4 0h4m4 0h4m4 0h4m4 0h4m4 0h24m4 0h4m4 0h4m4 0h4m-116 4h4m12 0h4m4 0h4m4 0h4m4 0h4m4 0h48m4 0h4m4 0h4m288 0h4m-368 4h4m4 0h4m4 0h4m4 0h4m4 0h4m4 0h32m4 0h4m4 0h4m276 0h4m-396 4h4m4 0h4m4 0h4m4 0h4m4 0h4m4 0h4m4 0h48m4 0h4m4 0h4m280 0h4m-360 4h4m4 0h4m4 0h4m4 0h4m4 0h4m4 0h32m4 0h4m276 0h4m-372 4h4m4 0h4m4 0h4m4 0h4m4 0h4m4 0h4m4 0h32m4 0h4m4 0h4m-60 4h4m4 0h4m4 0h4m4 0h4m4 0h4m4 0h16m4 0h4m268 0h4m-364 4h4m4 0h4m4 0h4m4 0h4m4 0h4m4 0h4m4 0h32m4 0h4m272 0h4m-328 4h4m4 0h4m4 0h4m4 0h4m4 0h4m4 0h8m4 0h4m-84 4h4m12 0h4m4 0h4m4 0h4m4 0h4m4 0h32m268 0h4m-316 4h4m4 0h4m4 0h4m4 0h4m4 0h16m264 0h4m-344 4h4m4 0h4m4 0h4m4 0h4m4 0h4m4 0h4m4 0h16m4 0h4m272 0h4m-312 4h4m4 0h4m4 0h4m4 0h8m4 0h4m-68 4h4m12 0h4m4 0h4m4 0h4m4 0h24m-28 4h4m4 0h24m272 0h4m-352 4h4m12 0h4m4 0h4m4 0h4m4 0h4m4 0h16m4 0h4m280 0h4m-320 4h4m4 0h4m4 0h4m4 0h8m4 0h4m276 0h4m-332 4h4m4 0h4m4 0h4m4 0h24m-28 4h4m4 0h24m-60 4h4m4 0h4m4 0h4m4 0h4m4 0h16m4 0h4m288 0h4m-328 4h4m4 0h4m4 0h4m4 0h8m4 0h4m284 0h4m-340 4h4m4 0h4m4 0h4m4 0h24m-28 4h4m4 0h4m4 0h16m288 0h4m-352 4h4m4 0h4m4 0h4m4 0h4m4 0h24m292 0h8m-336 4h4m4 0h4m4 0h4m4 0h16m-52 4h4m4 0h4m4 0h4m4 0h4m4 0h16m296 0h4m-328 4h4m4 0h4m4 0h4m4 0h8m4 0h4m284 0h4m-340 4h4m4 0h4m4 0h32m292 0h4m-340 4h4m4 0h4m4 0h4m4 0h24m288 0h4m-352 4h4m4 0h4m4 0h4m4 0h4m4 0h24m292 0h8m-336 4h4m4 0h4m4 0h4m4 0h16m-52 4h4m4 0h4m4 0h32m296 0h4m-328 4h4m4 0h4m4 0h16m4 0h4m200 0h8m76 0h4m-340 4h4m4 0h4m4 0h32m196 0h8m4 0h4m-240 4h4m4 0h4m4 0h16m288 0h4m-352 4h4m4 0h4m4 0h4m4 0h4m4 0h24m200 0h4m4 0h8m76 0h8m-336 4h4m4 0h4m4 0h4m4 0h16m208 0h8m-268 4h4m4 0h4m4 0h4m4 0h4m4 0h16m4 0h4m192 0h4m12 0h8m72 0h4m-328 4h4m4 0h4m4 0h4m4 0h8m4 0h4m188 0h4m16 0h4m72 0h8m-360 4h4m4 0h4m4 0h4m4 0h4m4 0h32m216 0h4m-264 4h4m4 0h4m4 0h4m4 0h24m4 0h4m180 0h8m88 0h8m-352 4h4m4 0h4m4 0h4m4 0h4m4 0h32m208 0h8m60 0h24m-344 4h4m4 0h4m4 0h4m4 0h24m4 0h4m176 0h4m20 0h4m56 0h4m4 0h16m4 0h4m-360 4h4m4 0h4m4 0h4m4 0h4m4 0h24m4 0h4m180 0h8m12 0h8m68 0h24m-344 4h4m4 0h4m4 0h4m4 0h16m4 0h4m200 0h8m60 0h4m4 0h16m4 0h4m-360 4h4m4 0h4m4 0h4m4 0h4m4 0h16m4 0h4m184 0h4m12 0h4m4 0h4m72 0h4m4 0h4m4 0h8m-344 4h4m4 0h4m4 0h4m4 0h24m172 0h4m16 0h4m80 0h16m-368 4h4m4 0h4m4 0h4m4 0h4m4 0h32m4 0h4m4 0h4m192 0h8m76 0h4m4 0h8m-352 4h4m4 0h4m4 0h4m4 0h4m4 0h4m4 0h16m4 0h4m4 0h4m160 0h4m16 0h12m68 0h4m4 0h8m4 0h4m-368 4h4m4 0h4m4 0h4m4 0h4m4 0h4m4 0h4m4 0h24m4 0h4m164 0h4m16 0h8m76 0h16m4 0h4m-336 4h4m4 0h4m4 0h4m4 0h24m4 0h4m152 0h4m20 0h8m68 0h16m4 0h4m-360 4h4m4 0h4m4 0h4m4 0h4m4 0h4m4 0h4m4 0h24m4 0h4m160 0h4m12 0h8m76 0h24m-328 4h4m4 0h4m4 0h4m4 0h24m176 0h8m4 0h4m68 0h16m-368 4h4m12 0h4m12 0h4m4 0h4m4 0h4m4 0h4m4 0h24m4 0h4m152 0h4m12 0h8m84 0h8m4 0h4m-320 4h4m4 0h4m4 0h4m4 0h16m156 0h4m16 0h8m4 0h4m4 0h4m4 0h8m48 0h8m4 0h4m-360 4h4m12 0h4m12 0h4m4 0h4m4 0h4m4 0h24m164 0h4m8 0h8m4 0h4m12 0h4m4 0h4m52 0h8m4 0h4m-312 4h4m4 0h4m4 0h16m4 0h4m152 0h4m12 0h8m12 0h4m4 0h12m44 0h8m4 0h4m-336 4h4m12 0h4m4 0h4m4 0h24m4 0h4m156 0h8m12 0h8m20 0h4m52 0h8m4 0h4m-304 4h4m4 0h24m168 0h8m4 0h4m12 0h12m44 0h8m4 0h4m-344 4h4m12 0h4m4 0h4m4 0h4m4 0h4m4 0h16m4 0h4m160 0h4m4 0h4m4 0h8m20 0h4m4 0h4m44 0h8m4 0h4m-312 4h4m4 0h4m4 0h4m4 0h8m4 0h4m156 0h8m4 0h4m4 0h8m12 0h4m4 0h4m48 0h12m-320 4h4m4 0h4m4 0h4m4 0h24m168 0h4m4 0h8m20 0h4m4 0h4m44 0h8m4 0h4m-304 4h4m4 0h4m4 0h16m4 0h4m148 0h8m12 0h8m12 0h4m4 0h4m56 0h4m-328 4h4m4 0h4m4 0h4m4 0h4m4 0h24m4 0h4m156 0h8m4 0h8m76 0h16m-312 4h4m4 0h4m4 0h4m4 0h16m160 0h4m4 0h4m4 0h8m20 0h4m52 0h8m-320 4h4m4 0h4m4 0h4m4 0h4m4 0h16m4 0h4m160 0h4m4 0h8m76 0h8m4 0h4m-304 4h4m4 0h4m4 0h4m4 0h8m4 0h4m160 0h4m4 0h8m80 0h4m-312 4h4m4 0h4m4 0h24m4 0h4m164 0h12m76 0h16m-296 4h4m4 0h24m156 0h8m4 0h8m68 0h16m-304 4h4m4 0h4m4 0h16m4 0h4m164 0h12m4 0h4m68 0h8m4 0h4m-296 4h4m4 0h4m4 0h16m164 0h12m68 0h8m4 0h4m-312 4h4m4 0h4m4 0h4m4 0h24m172 0h4m76 0h8m4 0h4m-296 4h4m4 0h4m4 0h16m4 0h4m156 0h4m4 0h4m72 0h12m-304 4h4m4 0h4m4 0h24m4 0h4m244 0h8m4 0h4m-288 4h4m4 0h16m4 0h4m164 0h4m72 0h4m4 0h4m-296 4h4m4 0h4m4 0h16m4 0h4m244 0h16m-296 4h4m4 0h4m4 0h4m4 0h8m4 0h4m244 0h8m-288 4h4m4 0h4m4 0h16m252 0h8m-288 4h4m4 0h4m4 0h16m4 0h4m236 0h8m-296 4h4m4 0h4m4 0h24m4 0h4m244 0h8m4 0h4m-288 4h4m4 0h16m4 0h4m244 0h8m-296 4h4m4 0h4m4 0h16m4 0h4m252 0h8m4 0h4m-296 4h4m4 0h4m4 0h8m4 0h4m256 0h4m-304 4h4m4 0h4m4 0h24m260 0h8m4 0h4m-304 4h4m4 0h24m260 0h8m4 0h4m-320 4h4m4 0h4m4 0h24m4 0h4m260 0h8m4 0h4m-304 4h4m4 0h16m4 0h4m260 0h8m4 0h4m-320 4h4m4 0h4m4 0h16m4 0h4m276 0h8m4 0h4m-328 4h4m4 0h4m4 0h4m4 0h8m4 0h4m276 0h8m-320 4h4m4 0h24m284 0h8m4 0h4m-328 4h4m4 0h4m4 0h16m4 0h4m196 0h4m4 0h4m68 0h8m4 0h4m-344 4h4m4 0h4m4 0h24m4 0h4m204 0h4m76 0h4m4 0h8m4 0h4m-336 4h4m4 0h16m4 0h4m196 0h12m4 0h4m4 0h4m68 0h8m-344 4h4m4 0h4m4 0h16m4 0h4m196 0h4m4 0h20m4 0h4m68 0h8m4 0h4m-344 4h4m4 0h4m4 0h8m4 0h4m188 0h4m4 0h24m4 0h8m4 0h4m60 0h8m4 0h4m-360 4h4m4 0h4m4 0h24m204 0h36m4 0h4m64 0h12m-352 4h4m4 0h24m4 0h4m188 0h16m4 0h4m4 0h4m4 0h16m4 0h4m52 0h16m-360 4h4m4 0h24m4 0h4m188 0h4m4 0h24m4 0h32m60 0h8m4 0h4m-360 4h4m4 0h16m4 0h4m180 0h4m4 0h16m4 0h4m4 0h4m4 0h4m4 0h4m4 0h4m4 0h8m4 0h4m52 0h8m-368 4h4m4 0h4m4 0h16m4 0h4m196 0h32m4 0h4m4 0h4m4 0h16m60 0h16m4 0h4m-384 4h4m4 0h4m4 0h4m4 0h8m4 0h4m188 0h16m4 0h4m4 0h4m4 0h4m4 0h4m12 0h4m4 0h16m52 0h8m4 0h4m-376 4h4m4 0h4m4 0h16m188 0h4m4 0h24m4 0h4m4 0h4m4 0h4m4 0h4m4 0h4m4 0h16m60 0h8m4 0h4m-384 4h4m4 0h4m4 0h16m4 0h4m172 0h4m4 0h16m4 0h4m4 0h4m4 0h4m28 0h4m4 0h4m4 0h16m52 0h8m4 0h4m-400 4h4m4 0h4m4 0h24m4 0h4m188 0h4m4 0h24m4 0h4m4 0h4m4 0h4m4 0h4m4 0h4m4 0h4m4 0h8m4 0h4m52 0h16m-384 4h4m4 0h16m4 0h4m180 0h16m4 0h4m4 0h4m4 0h4m4 0h4m44 0h4m4 0h8m52 0h16m-400 4h4m4 0h4m4 0h16m4 0h4m180 0h4m4 0h24m4 0h4m4 0h4m4 0h4m12 0h4m12 0h4m4 0h4m4 0h16m60 0h8m4 0h4m-400 4h4m4 0h4m4 0h8m4 0h4m172 0h4m4 0h16m4 0h4m4 0h4m4 0h4m60 0h4m4 0h16m52 0h8m-400 4h4m4 0h24m188 0h4m4 0h24m4 0h4m4 0h4m4 0h4m12 0h4m12 0h4m4 0h4m4 0h4m4 0h8m4 0h4m52 0h16m4 0h4m-416 4h4m4 0h4m4 0h16m4 0h4m172 0h16m4 0h4m4 0h4m4 0h4m4 0h4m60 0h4m4 0h4m4 0h8m52 0h8m4 0h4m-416 4h4m4 0h4m4 0h16m4 0h4m172 0h4m4 0h24m4 0h4m4 0h4m4 0h4m12 0h4m44 0h4m4 0h4m4 0h8m60 0h8m4 0h4m-416 4h4m4 0h24m164 0h4m4 0h24m4 0h4m4 0h4m92 0h4m4 0h8m52 0h8M98 739h4m12 0h4m12 0h4m12 0h4m12 0h4m12 0h4m12 0h4m12 0h4m172 0h4m4 0h4m4 0h16m4 0h4m180 0h4m4 0h24m4 0h4m4 0h4m4 0h4m12 0h4m44 0h4m4 0h4m4 0h16m52 0h8m4 0h4m-424 4h4m4 0h4m4 0h8m4 0h4m172 0h16m4 0h4m4 0h4m4 0h4m4 0h4m92 0h4m4 0h8m52 0h8m4 0h4m-720 4h4m12 0h4m12 0h4m12 0h4m12 0h4m12 0h4m12 0h4m188 0h4m4 0h4m4 0h16m180 0h24m4 0h4m4 0h4m4 0h4m12 0h4m76 0h16m60 0h8m-432 4h4m4 0h4m4 0h16m4 0h4m156 0h4m4 0h24m4 0h4m4 0h4m108 0h4m4 0h16m44 0h4m4 0h8M98 755h4m4 0h4m4 0h4m4 0h4m4 0h4m4 0h4m4 0h4m4 0h4m4 0h4m4 0h4m4 0h4m4 0h4m4 0h4m4 0h4m4 0h4m12 0h4m12 0h4m148 0h4m4 0h24m4 0h4m172 0h4m4 0h24m4 0h4m4 0h4m4 0h4m12 0h4m76 0h4m4 0h16m52 0h16m-696 4h4m12 0h4m236 0h4m4 0h24m164 0h16m4 0h4m4 0h4m4 0h4m4 0h4m116 0h4m4 0h8m52 0h8m4 0h4m-744 4h4m4 0h4m4 0h4m4 0h4m4 0h4m4 0h4m4 0h4m4 0h4m4 0h4m4 0h4m4 0h4m4 0h4m4 0h4m4 0h4m4 0h4m12 0h4m164 0h4m4 0h16m4 0h4m4 0h4m156 0h4m4 0h24m4 0h4m4 0h4m4 0h4m12 0h4m92 0h4m4 0h4m4 0h8m52 0h4m4 0h8m4 0h4m-720 4h4m12 0h4m12 0h4m236 0h4m4 0h16m4 0h4m148 0h4m4 0h24m4 0h4m4 0h4m140 0h4m4 0h8m52 0h8M98 771h4m4 0h4m4 0h4m4 0h4m4 0h4m4 0h4m4 0h4m4 0h4m4 0h4m4 0h4m4 0h4m4 0h4m4 0h4m4 0h4m4 0h4m4 0h4m4 0h4m4 0h4m4 0h4m12 0h4m140 0h4m4 0h4m4 0h16m4 0h4m164 0h4m4 0h24m4 0h4m4 0h4m4 0h4m12 0h4m92 0h4m4 0h4m4 0h16m52 0h8m4 0h4m-768 4h4m12 0h4m4 0h4m4 0h4m4 0h4m4 0h4m4 0h4m4 0h4m4 0h4m4 0h4m4 0h4m4 0h4m12 0h4m188 0h4m4 0h4m4 0h16m4 0h4m156 0h16m4 0h4m4 0h4m4 0h4m4 0h4m140 0h4m4 0h8m52 0h8m4 0h4M98 779h4m4 0h4m4 0h4m4 0h4m4 0h4m4 0h4m4 0h4m4 0h4m4 0h4m4 0h4m4 0h4m4 0h4m4 0h4m4 0h4m4 0h4m4 0h4m4 0h4m4 0h4m12 0h4m156 0h4m4 0h24m156 0h4m4 0h24m4 0h4m4 0h4m4 0h4m12 0h4m124 0h16m52 0h16m-768 4h4m4 0h4m4 0h4m4 0h4m4 0h4m4 0h4m4 0h4m4 0h4m4 0h4m4 0h4m4 0h4m4 0h4m4 0h4m204 0h4m4 0h4m4 0h16m4 0h4m140 0h4m4 0h16m4 0h4m4 0h4m4 0h4m156 0h4m4 0h16m44 0h16M98 787h4m4 0h4m4 0h4m4 0h4m4 0h12m4 0h28m4 0h12m4 0h4m4 0h4m4 0h4m4 0h4m4 0h4m4 0h4m4 0h4m4 0h4m4 0h4m12 0h4m124 0h4m4 0h4m4 0h16m4 0h4m4 0h4m156 0h32m4 0h4m4 0h4m4 0h4m12 0h4m124 0h4m4 0h16m52 0h8m4 0h4m-792 4h4m4 0h4m4 0h4m4 0h4m4 0h4m4 0h4m4 0h4m4 0h4m4 0h4m4 0h4m4 0h4m4 0h4m4 0h4m4 0h4m4 0h4m12 0h4m188 0h4m4 0h16m4 0h4m140 0h4m4 0h16m4 0h4m4 0h4m4 0h4m4 0h4m164 0h4m4 0h8m52 0h8M98 795h4m4 0h4m4 0h4m4 0h12m4 0h44m4 0h12m4 0h4m4 0h4m4 0h4m4 0h4m4 0h4m4 0h4m4 0h4m12 0h4m140 0h4m4 0h4m4 0h16m4 0h4m148 0h4m4 0h24m4 0h4m4 0h4m4 0h4m12 0h4m140 0h4m4 0h4m4 0h8m52 0h16m-800 4h4m4 0h4m4 0h4m4 0h4m4 0h4m4 0h4m4 0h4m4 0h4m4 0h4m4 0h4m4 0h4m4 0h4m4 0h4m4 0h4m4 0h4m4 0h4m196 0h4m4 0h4m4 0h8m4 0h4m140 0h4m4 0h16m4 0h4m4 0h4m4 0h4m188 0h4m4 0h8m44 0h8m4 0h4M98 803h12m4 0h92m4 0h12m4 0h4m4 0h4m4 0h4m4 0h4m4 0h4m12 0h4m140 0h4m4 0h16m4 0h4m148 0h4m4 0h32m4 0h4m4 0h4m4 0h4m12 0h4m140 0h4m4 0h4m4 0h16m52 0h8m4 0h4m-816 4h4m4 0h4m4 0h4m4 0h12m4 0h12m4 0h12m4 0h12m4 0h4m4 0h4m4 0h4m4 0h4m4 0h4m4 0h4m12 0h4m172 0h4m4 0h24m4 0h4m132 0h4m4 0h16m4 0h4m4 0h4m4 0h4m4 0h4m188 0h4m4 0h8m52 0h8M98 811h4m4 0h108m4 0h4m4 0h4m4 0h4m4 0h4m4 0h4m12 0h4m148 0h4m4 0h24m4 0h4m140 0h4m4 0h24m4 0h4m4 0h4m4 0h4m12 0h4m172 0h16m52 0h8m4 0h4m-824 4h4m4 0h4m4 0h4m4 0h4m4 0h12m4 0h12m4 0h12m4 0h12m4 0h4m4 0h4m4 0h4m4 0h4m12 0h4m188 0h4m4 0h16m4 0h4m132 0h24m4 0h4m4 0h4m4 0h4m204 0h4m4 0h16m44 0h8m4 0h4M98 819h124m4 0h4m4 0h4m4 0h4m4 0h4m4 0h4m4 0h4m4 0h4m140 0h4m4 0h4m4 0h16m4 0h4m140 0h4m4 0h32m4 0h4m4 0h4m4 0h4m12 0h4m172 0h4m4 0h16m52 0h8m-832 4h4m4 0h4m4 0h4m4 0h60m4 0h12m4 0h4m4 0h4m4 0h4m4 0h4m12 0h4m180 0h4m4 0h16m4 0h4m132 0h4m4 0h16m4 0h4m4 0h4m4 0h4m4 0h4m212 0h4m4 0h8m44 0h16M98 827h4m4 0h108m4 0h4m4 0h4m4 0h4m4 0h4m4 0h4m4 0h4m4 0h4m156 0h4m4 0h24m140 0h4m4 0h24m4 0h4m4 0h4m4 0h4m12 0h4m188 0h4m4 0h4m4 0h8m52 0h8m4 0h4m-848 4h4m4 0h4m4 0h12m4 0h44m4 0h12m4 0h4m4 0h4m4 0h4m4 0h4m4 0h4m4 0h4m188 0h4m4 0h24m4 0h4m124 0h24m4 0h4m4 0h4m4 0h4m236 0h4m4 0h4m48 0h8M98 835h124m4 0h4m4 0h4m4 0h4m4 0h4m4 0h4m4 0h4m4 0h4m148 0h4m4 0h16m4 0h4m4 0h4m132 0h4m4 0h32m4 0h4m4 0h4m4 0h4m12 0h4m188 0h4m4 0h4m4 0h16m44 0h16m-856 4h4m4 0h4m4 0h4m4 0h60m4 0h12m4 0h4m4 0h4m4 0h4m4 0h4m12 0h4m188 0h4m4 0h16m4 0h4m124 0h4m4 0h16m4 0h4m4 0h4m4 0h4m4 0h4m236 0h4m4 0h8m44 0h8m4 0h4M98 843h4m4 0h108m4 0h4m4 0h4m4 0h4m4 0h4m4 0h4m12 0h4m156 0h4m4 0h4m4 0h16m4 0h4m132 0h4m4 0h24m4 0h4m4 0h4m4 0h4m12 0h4m212 0h4m4 0h16m52 0h8m4 0h4m-872 4h4m4 0h4m4 0h4m4 0h4m4 0h12m4 0h12m4 0h12m4 0h12m4 0h4m4 0h4m4 0h4m4 0h4m12 0h4m196 0h4m4 0h4m4 0h8m4 0h4m124 0h16m4 0h4m4 0h4m4 0h4m4 0h4m252 0h4m4 0h8m52 0h8M98 851h124m4 0h4m4 0h4m4 0h4m4 0h4m4 0h4m12 0h4m156 0h4m4 0h16m4 0h4m132 0h32m4 0h4m4 0h4m4 0h4m4 0h4m12 0h4m220 0h16m52 0h16m-880 4h4m4 0h4m4 0h4m4 0h12m4 0h12m4 0h12m4 0h12m4 0h4m4 0h4m4 0h4m4 0h4m4 0h4m4 0h4m204 0h4m4 0h24m4 0h4m116 0h24m4 0h4m4 0h4m12 0h4m252 0h4m4 0h16m44 0h12M98 859h4m4 0h12m4 0h76m4 0h12m4 0h4m4 0h4m4 0h4m4 0h4m4 0h4m12 0h4m164 0h4m4 0h24m4 0h4m124 0h32m4 0h4m4 0h4m4 0h4m12 0h4m236 0h4m4 0h16m-828 4h4m4 0h4m4 0h4m4 0h4m4 0h4m4 0h4m4 0h4m4 0h4m4 0h4m4 0h4m4 0h4m4 0h4m4 0h4m4 0h4m4 0h4m4 0h4m220 0h4m4 0h24m4 0h4m108 0h16m4 0h4m4 0h4m4 0h4m4 0h4m276 0h4m4 0h8M98 867h4m4 0h4m4 0h12m4 0h60m4 0h12m4 0h4m4 0h4m4 0h4m4 0h4m4 0h4m4 0h4m4 0h4m12 0h4m156 0h4m4 0h4m4 0h16m4 0h4m124 0h24m4 0h4m4 0h4m4 0h4m4 0h4m4 0h4m12 0h4m236 0h4m4 0h4m4 0h8m-836 4h4m4 0h4m4 0h4m4 0h4m4 0h4m4 0h4m4 0h4m4 0h4m4 0h4m4 0h4m4 0h4m4 0h4m4 0h4m4 0h4m4 0h4m12 0h4m212 0h4m4 0h4m4 0h8m4 0h4m4 0h4m108 0h24m4 0h4m4 0h4m300 0h16M98 875h4m4 0h4m4 0h4m4 0h4m4 0h4m4 0h12m4 0h12m4 0h12m4 0h4m4 0h4m4 0h4m4 0h4m4 0h4m4 0h4m4 0h4m12 0h4m188 0h4m4 0h4m4 0h16m4 0h4m116 0h16m4 0h4m4 0h4m4 0h4m4 0h4m4 0h4m268 0h4m4 0h4m4 0h16m-844 4h4m12 0h4m4 0h4m4 0h4m4 0h4m4 0h4m4 0h4m4 0h4m4 0h4m4 0h4m12 0h4m236 0h4m4 0h4m4 0h16m4 0h4m4 0h4m100 0h16m4 0h4m4 0h4m316 0h4m4 0h8M98 883h4m4 0h4m4 0h4m4 0h4m4 0h4m4 0h4m4 0h4m4 0h4m4 0h4m4 0h4m4 0h4m4 0h4m4 0h4m4 0h4m4 0h4m4 0h4m4 0h4m4 0h4m4 0h4m12 0h4m180 0h4m4 0h24m4 0h4m116 0h24m4 0h4m4 0h4m4 0h4m4 0h4m4 0h4m12 0h4m252 0h4m4 0h4m4 0h16m-860 4h4m12 0h4m4 0h4m4 0h4m4 0h4m4 0h4m4 0h4m4 0h4m4 0h4m4 0h4m4 0h4m4 0h4m12 0h4m236 0h4m4 0h24m4 0h4m456 0h4m4 0h8m4 0h4M98 891h4m4 0h4m4 0h4m4 0h4m4 0h4m4 0h4m4 0h4m4 0h4m4 0h4m4 0h4m4 0h4m4 0h4m4 0h4m4 0h4m4 0h4m4 0h4m12 0h4m204 0h4m4 0h4m4 0h16m4 0h4m4 0h4m152 0h4m4 0h4m300 0h4m4 0h8m-828 4h4m12 0h4m12 0h4m276 0h4m4 0h4m4 0h24m4 0h4m464 0h16m-312 4h8m-44 12h4m40 0h8m-4 4h4m0 4h4m-4 8h4m0 4h4m-40 4h4m32 0h8"/>
<path stroke="#2d79b9" stroke-width="4" d="M150 67h4m-4 4h4m-4 4h4m-4 4h4m-4 4h4m-4 4h4m-4 4h4m-4 4h4m-4 4h4m-4 4h4m280 4h4M98 111h12m4 0h4m-20 4h16m4 0h4m324 0h8m-352 4h4m4 0h16m324 0h8M98 123h4m4 0h24m-20 4h4m4 0h16m-36 4h4m4 0h4m4 0h16m340 0h4m-356 4h4m4 0h8m4 0h4m-36 4h4m4 0h4m4 0h16m-12 4h4m4 0h8m4 0h4m-36 4h4m4 0h16m4 0h4m-20 4h16m4 0h4m336 0h4m-368 4h4m4 0h8m4 0h4m344 0h4m-368 4h4m4 0h16m344 0h4m-376 4h4m4 0h16m352 0h4m-368 4h4m4 0h8m4 0h4m340 0h4m-372 4h4m4 0h16m-20 4h4m4 0h16m4 0h4m336 0h4m-376 4h4m4 0h16m4 0h4m344 0h4m-376 4h4m4 0h16m4 0h4m340 0h4m-372 4h16m4 0h4m4 0h4m340 0h4m-372 4h4m4 0h16m4 0h4m-36 4h4m4 0h16m4 0h4m-20 4h4m4 0h8m4 0h4m-36 4h4m4 0h4m4 0h16m4 0h4m340 0h4m-364 4h4m4 0h8m4 0h4m-36 4h4m4 0h4m4 0h16m4 0h4m336 0h4m-368 4h4m4 0h16m4 0h4m332 0h4m-372 4h4m4 0h4m4 0h16m4 0h4m-28 4h4m4 0h4m4 0h16m4 0h4m320 0h4m-368 4h4m4 0h24m4 0h4m328 0h4m-368 4h4m4 0h4m4 0h16m4 0h4m4 0h4m316 0h4m-364 4h4m4 0h4m4 0h16m4 0h4m4 0h4m-44 4h4m4 0h4m4 0h4m4 0h16m4 0h4m4 0h4m304 0h4m-360 4h4m4 0h24m4 0h4m4 0h4m308 0h4m-356 4h4m4 0h4m4 0h4m4 0h16m4 0h4m4 0h4m-52 4h4m4 0h4m4 0h16m4 0h4m4 0h4m304 0h4m-344 4h4m4 0h4m4 0h24m4 0h4m292 0h4m-348 4h4m4 0h4m4 0h16m4 0h4m4 0h4m-36 4h4m4 0h4m4 0h24m4 0h4m288 0h4m-344 4h4m4 0h4m4 0h32m4 0h4m284 0h4m-324 4h4m4 0h4m4 0h16m4 0h4m4 0h4m4 0h4m-68 4h4m4 0h4m4 0h32m4 0h4m280 0h4m-320 4h4m4 0h4m4 0h16m4 0h4m4 0h4m4 0h4m260 0h4m-332 4h4m4 0h4m4 0h4m4 0h24m4 0h4m4 0h4m-44 4h4m4 0h4m4 0h4m4 0h24m-60 4h4m4 0h4m4 0h4m4 0h24m4 0h4m268 0h4m-308 4h4m4 0h4m4 0h4m4 0h16m264 0h4m-304 4h4m4 0h4m4 0h16m4 0h4m260 0h4m-292 4h4m4 0h4m4 0h8m4 0h4m-36 4h4m4 0h4m4 0h16m-20 4h4m4 0h16m4 0h4m-36 4h4m4 0h4m4 0h8m4 0h4m256 0h4m-280 4h4m4 0h8m-20 4h4m4 0h8m4 0h4m252 0h4m-276 4h4m4 0h8m256 0h4m-272 4h8m4 0h4m-12 4h8m-20 4h4m4 0h8m260 0h4m-276 4h4m4 0h8m-12 4h8m264 0h4m-272 4h8m-20 4h4m4 0h8m268 0h4m-284 4h4m4 0h8m-12 4h8m-4 4h8m272 0h4m-296 4h4m4 0h8m-12 4h4m4 0h8m-12 4h8m4 0h4m-12 4h8m276 0h4m-292 4h8m4 0h4m-12 4h8m4 0h4m272 0h4m-296 4h16m-12 4h4m4 0h8m-12 4h8m-4 4h8m-12 4h8m4 0h4m-12 4h16m272 0h4m-296 4h16m196 0h4m76 0h4m-292 4h4m4 0h8m184 0h4m-200 4h16m272 0h4m-288 4h16m176 0h4m12 0h4m72 0h4m-292 4h16m180 0h4m-196 4h16m176 0h4m88 0h8m-296 4h4m4 0h8m4 0h4m268 0h4m-292 4h4m4 0h8m4 0h4m196 0h4m60 0h8m-288 4h16m176 0h4m88 0h8m-288 4h4m4 0h8m4 0h4m252 0h8m-280 4h16m168 0h4m80 0h4m-268 4h4m4 0h8m164 0h4m88 0h4m-280 4h4m4 0h8m200 0h4m48 0h16m-280 4h4m4 0h8m4 0h4m160 0h4m80 0h8m4 0h4m-288 4h4m4 0h24m156 0h4m28 0h4m52 0h16m4 0h4m4 0h4m-288 4h16m184 0h4m56 0h16m-288 4h4m4 0h4m4 0h8m4 0h4m152 0h4m28 0h4m64 0h8m4 0h4m-288 4h4m4 0h4m4 0h8m4 0h4m140 0h4m92 0h8m4 0h4m-280 4h4m4 0h16m176 0h8m60 0h8m-264 4h4m4 0h8m176 0h8m-204 4h4m4 0h16m140 0h4m24 0h16m56 0h4m-256 4h16m136 0h4m28 0h4m4 0h8m52 0h8m-264 4h4m4 0h8m168 0h28m48 0h8m-264 4h16m168 0h4m4 0h4m4 0h4m48 0h8m-264 4h16m144 0h4m20 0h4m4 0h12m4 0h4m4 0h4m40 0h8m-264 4h4m4 0h8m140 0h4m24 0h12m4 0h4m48 0h8m-264 4h4m4 0h8m4 0h4m168 0h20m4 0h8m36 0h8m-256 4h8m144 0h4m20 0h4m4 0h12m12 0h4m32 0h8m-264 4h4m4 0h8m4 0h4m140 0h4m24 0h20m4 0h4m44 0h4m-264 4h4m4 0h8m4 0h4m168 0h12m4 0h4m4 0h8m36 0h4m-260 4h16m144 0h4m20 0h20m4 0h4m-208 4h4m4 0h8m168 0h12m4 0h4m4 0h8m36 0h8m-264 4h4m4 0h8m168 0h32m-212 4h16m140 0h4m24 0h20m4 0h8m36 0h8m-264 4h4m4 0h8m148 0h4m16 0h32m-212 4h4m4 0h8m4 0h4m136 0h4m20 0h24m44 0h8m-264 4h4m4 0h8m4 0h4m140 0h8m12 0h16m4 0h4m48 0h4m-248 4h8m4 0h4m160 0h24m-212 4h4m4 0h16m144 0h4m12 0h4m4 0h8m4 0h4m48 0h4m-248 4h16m140 0h8m12 0h16m-196 4h16m148 0h8m4 0h16m56 0h4m-248 4h4m4 0h8m152 0h4m4 0h16m52 0h4m-252 4h4m4 0h8m4 0h4m144 0h24m56 0h4m-248 4h4m4 0h8m148 0h8m4 0h8m4 0h4m52 0h4m-252 4h4m4 0h8m4 0h4m148 0h12m4 0h4m-188 4h4m4 0h8m4 0h4m148 0h12m64 0h4m-248 4h16m156 0h4m68 0h8m-248 4h4m4 0h8m148 0h4m-172 4h4m4 0h8m-12 4h4m4 0h8m228 0h8m-256 4h4m4 0h8m4 0h4m228 0h8m-256 4h4m4 0h8m4 0h4m228 0h8m-256 4h16m236 0h8m-256 4h16m236 0h8m-264 4h4m4 0h8m244 0h8m-264 4h4m4 0h8m196 0h4m44 0h8m-272 4h4m4 0h8m4 0h4m188 0h4m4 0h4m52 0h8m-280 4h4m4 0h8m4 0h4m180 0h20m52 0h8m-280 4h16m188 0h20m52 0h8m-280 4h4m4 0h8m180 0h8m4 0h4m4 0h8m4 0h4m44 0h8m-288 4h4m4 0h8m4 0h4m180 0h8m4 0h16m4 0h4m56 0h4m-296 4h4m4 0h8m180 0h8m12 0h4m4 0h4m4 0h8m52 0h8m-304 4h4m4 0h8m4 0h4m172 0h8m4 0h4m20 0h4m4 0h16m44 0h8m-304 4h4m4 0h16m176 0h4m36 0h4m4 0h8m4 0h4m36 0h8m-304 4h16m172 0h16m36 0h4m4 0h8m52 0h4m-308 4h4m4 0h8m168 0h12m52 0h4m4 0h8m-268 4h4m4 0h8m4 0h4m164 0h8m4 0h4m60 0h8m44 0h8m-320 4h4m4 0h8m4 0h4m168 0h4m68 0h4m4 0h8m36 0h8m-328 4h4m4 0h8m4 0h4m164 0h16m68 0h16m40 0h4m-328 4h4m4 0h8m4 0h4m156 0h16m84 0h8m36 0h8m-328 4h16m164 0h8m4 0h4m84 0h8m44 0h8m-336 4h4m4 0h8m4 0h4m148 0h8m4 0h4m100 0h8m36 0h8m-344 4h4m4 0h8m4 0h4m156 0h16m4 0h4m84 0h4m4 0h8m36 0h8m-344 4h4m4 0h8m4 0h4m148 0h16m108 0h8m36 0h8m-352 4h4m4 0h8m4 0h4m156 0h8m4 0h4m108 0h8m4 0h4m36 0h8m-360 4h4m4 0h16m148 0h8m4 0h4m124 0h8m36 0h8m-360 4h16m156 0h16m4 0h4m108 0h4m4 0h8m36 0h8m-360 4h4m4 0h8m4 0h4m140 0h16m132 0h8m4 0h4m28 0h8m-368 4h4m4 0h16m148 0h8m4 0h4m132 0h8m4 0h4m36 0h8m-368 4h16m140 0h8m4 0h4m148 0h8m36 0h8m-384 4h4m4 0h16m148 0h16m4 0h4m140 0h8m36 0h8m-384 4h4m4 0h16m140 0h16m156 0h16m28 0h8m-384 4h16m4 0h4m140 0h16m156 0h16m28 0h4m4 0h8m-392 4h4m4 0h8m4 0h4m132 0h8m4 0h4m172 0h8m40 0h4m-400 4h4m4 0h16m140 0h16m4 0h4m164 0h8m36 0h8m-392 4h16m132 0h16m180 0h8m4 0h4m28 0h8m-408 4h4m4 0h4m4 0h8m4 0h4m132 0h8m4 0h4m180 0h8m4 0h4m32 0h4m4 0h4m-408 4h4m4 0h16m124 0h8m4 0h4m196 0h8m28 0h16m-416 4h4m4 0h8m4 0h4m132 0h16m4 0h4m188 0h8m36 0h8m-416 4h4m4 0h8m4 0h4m124 0h16m204 0h16m28 0h8m-416 4h16m132 0h8m4 0h4m204 0h16m28 0h8m-416 4h4m4 0h8m4 0h4m116 0h8m4 0h4m220 0h8m28 0h8m-432 4h4m4 0h4m4 0h8m4 0h4m124 0h16m220 0h8m36 0h8m-432 4h4m4 0h16m116 0h8m4 0h4m228 0h8m36 0h8m-440 4h4m4 0h16m4 0h4m108 0h4m4 0h8m4 0h4m228 0h8m36 0h8m-440 4h4m4 0h16m4 0h4m108 0h8m4 0h4m244 0h4m32 0h8m-448 4h4m4 0h16m4 0h4m116 0h8m4 0h4m244 0h4m40 0h8m-448 4h4m4 0h8m4 0h4m108 0h8m4 0h4m252 0h8m28 0h4m4 0h8m-456 4h4m4 0h16m108 0h4m4 0h8m4 0h4m252 0h8m36 0h8m-456 4h4m4 0h16m4 0h4m100 0h8m312 0h8m-464 4h4m4 0h16m4 0h4m108 0h8m4 0h4m304 0h4m4 0h8m-472 4h4m4 0h16m4 0h4m100 0h8m4 0h4m276 0h8m28 0h4m-460 4h16m4 0h4m108 0h8m4 0h4m276 0h8m36 0h8m-472 4h4m4 0h8m4 0h4m100 0h8m296 0h4m36 0h8m-488 4h4m4 0h4m4 0h16m108 0h8m4 0h4m328 0h8m-480 4h4m4 0h16m4 0h4m92 0h8m4 0h4m304 0h4m28 0h8m-488 4h4m4 0h16m4 0h4m100 0h8m4 0h4m344 0h8m-496 4h4m4 0h24m92 0h8m316 0h8m28 0h4m4 0h8m-504 4h4m4 0h16m4 0h4m100 0h8m316 0h8m36 0h8m-496 4h4m4 0h16m92 0h8m368 0h8m-504 4h4m4 0h16m4 0h4m92 0h8m368 0h4m4 0h8m-504 4h4m4 0h16m88 0h4m340 0h8m36 0h4m-516 4h4m4 0h24m92 0h8m340 0h8m-476 4h4m4 0h4m4 0h16m-28 4h4m4 0h24m88 0h4m356 0h4m-480 4h4m4 0h4m4 0h12m452 0h8m-492 4h4m4 0h24m88 0h4m364 0h8m-484 4h4m4 0h8m464 0h4m4 0h8m-508 4h4m4 0h4m4 0h12m468 0h12m-488 4h4m180 8h4m-8 4h4m0 8h4m4 16h4m4 0h4m0 8h4"/>
<path stroke="#3280bc" stroke-width="4" d="M146 71h4m-4 8h4m-4 8h4m-4 8h4m-4 8h4m-52 4h16m4 0h4m308 0h4m-324 4h4m4 0h8m4 0h4m300 0h8m-328 4h4m4 0h8m312 0h4m-320 4h16m300 0h4m-316 4h8m4 0h4m308 0h8m-328 4h16m300 0h4m4 0h8m-336 4h16m316 0h8m-336 4h4m4 0h8m4 0h4m308 0h8m-336 4h16m316 0h8m-336 4h4m4 0h8m4 0h4m308 0h8m-344 4h4m4 0h8m4 0h4m316 0h8m-344 4h4m4 0h8m4 0h4m316 0h4m-348 4h4m4 0h16m324 0h4m-340 4h16m316 0h4m4 0h4m-348 4h16m4 0h4m324 0h4m-348 4h4m4 0h8m4 0h4m316 0h4m-340 4h16m328 0h4m-344 4h4m4 0h8m4 0h4m316 0h4m-348 4h4m4 0h8m4 0h4m324 0h4m-348 4h4m4 0h16m4 0h4m-36 4h4m4 0h4m4 0h8m4 0h4m-20 4h4m4 0h16m4 0h4m308 0h8m-352 4h4m4 0h16m4 0h4m316 0h8m-352 4h4m4 0h24m4 0h4m308 0h4m-348 4h4m4 0h16m4 0h4m-28 4h4m4 0h24m4 0h4m300 0h8m-344 4h4m4 0h16m4 0h4m308 0h4m-340 4h4m4 0h24m4 0h4m-36 4h4m4 0h16m4 0h4m304 0h4m-328 4h4m4 0h16m4 0h4m292 0h4m-332 4h4m4 0h16m4 0h4m300 0h4m-332 4h4m4 0h4m4 0h16m4 0h4m288 0h4m-328 4h4m4 0h4m4 0h16m4 0h4m288 0h4m-320 4h4m4 0h4m4 0h8m4 0h4m4 0h4m276 0h4m-324 4h4m4 0h4m4 0h16m4 0h4m-28 4h4m4 0h4m4 0h16m4 0h4m268 0h8m-320 4h4m4 0h4m4 0h16m4 0h4m4 0h4m268 0h4m-300 4h4m4 0h24m4 0h4m-52 4h4m4 0h4m4 0h16m4 0h4m4 0h4m264 0h4m-296 4h4m4 0h24m4 0h4m252 0h4m-292 4h4m4 0h24m4 0h4m-36 4h4m4 0h4m4 0h4m4 0h16m244 0h8m-288 4h4m4 0h24m252 0h4m-284 4h4m4 0h4m4 0h4m4 0h8m4 0h4m-36 4h4m4 0h4m4 0h16m248 0h4m-264 4h16m4 0h4m236 0h4m-276 4h4m4 0h16m4 0h4m-20 4h24m236 0h4m-268 4h4m4 0h16m4 0h4m-28 4h4m4 0h16m236 0h8m-264 4h16m244 0h4m-260 4h4m4 0h8m240 0h4m-264 4h4m4 0h8m244 0h4m-260 4h16m236 0h8m-264 4h4m4 0h8m-12 4h16m236 0h4m-260 4h4m4 0h8m240 0h4m-256 4h8m4 0h4m236 0h4m-260 4h8m4 0h4m-12 4h8m248 0h4m-264 4h8m252 0h4m-260 4h8m252 0h4m-268 4h8m-4 4h8m256 0h4m-272 4h8m264 0h4m-272 4h8m260 0h4m-276 4h8m268 0h4m-276 4h8m-12 4h4m4 0h8m264 0h4m-280 4h8m4 0h4m-20 4h4m4 0h8m-12 4h4m4 0h8m-12 4h8m268 0h4m-276 4h8m-12 4h8m4 0h4m264 0h4m-280 4h8m4 0h4m260 0h4m-284 4h4m4 0h8m-4 4h8m260 0h4m-276 4h8m4 0h4m172 0h8m-192 4h8m172 0h4m88 0h4m-272 4h8m168 0h4m16 0h4m68 0h4m-268 4h8m164 0h4m20 0h4m60 0h8m-272 4h8m192 0h4m56 0h4m4 0h8m-272 4h8m4 0h4m184 0h4m56 0h8m-272 4h4m4 0h8m164 0h4m76 0h4m4 0h8m-272 4h4m4 0h8m160 0h4m80 0h8m-264 4h16m156 0h4m80 0h12m-264 4h4m4 0h8m184 0h4m48 0h8m-256 4h8m248 0h4m-256 4h8m188 0h4m44 0h8m-256 4h16m4 0h4m-20 4h4m4 0h16m224 0h4m-240 4h8m-4 4h16m136 0h4m32 0h4m48 0h4m-248 4h4m4 0h16m228 0h8m-248 4h4m4 0h8m168 0h4m-184 4h8m136 0h4m-144 4h12m128 0h4m92 0h8m-240 4h8m228 0h4m-236 4h8m176 0h4m44 0h4m-240 4h8m132 0h4m92 0h8m-240 4h8m128 0h4m56 0h4m-204 4h8m232 0h4m-240 4h8m192 0h4m-208 4h4m4 0h8m128 0h4m92 0h4m-240 4h16m124 0h4m-148 4h4m4 0h8m228 0h4m-244 4h4m4 0h8m128 0h4m92 0h4m-240 4h8m132 0h4m56 0h4m32 0h8m-240 4h8m-12 4h8m136 0h4m52 0h8m28 0h8m-240 4h8m-12 4h16m184 0h4m32 0h8m-240 4h4m4 0h8m124 0h4m48 0h8m32 0h4m-240 4h4m4 0h8m168 0h4m4 0h8m36 0h4m-236 4h4m4 0h8m128 0h4m44 0h4m36 0h4m-232 4h8m168 0h4m4 0h8m36 0h4m-228 4h8m168 0h8m40 0h4m-232 4h8m4 0h4m160 0h8m44 0h4m-228 4h8m136 0h4m28 0h8m40 0h4m-232 4h4m4 0h8m132 0h4m24 0h8m44 0h4m-228 4h16m152 0h4m-176 4h4m4 0h8m136 0h4m12 0h4m60 0h4m-232 4h4m4 0h8m132 0h8m12 0h8m52 0h4m-228 4h8m4 0h4m132 0h8m4 0h8m-164 4h8m136 0h4m4 0h12m60 0h4m-232 4h8m4 0h4m140 0h4m68 0h8m-232 4h8m4 0h4m140 0h4m-164 4h4m4 0h8m-12 4h4m4 0h8m216 0h4m-232 4h8m4 0h4m216 0h4m-232 4h8m188 0h4m28 0h8m-240 4h16m180 0h12m32 0h4m-240 4h16m172 0h8m4 0h8m28 0h8m-248 4h4m4 0h8m172 0h8m4 0h4m4 0h8m36 0h8m-256 4h4m4 0h8m168 0h4m20 0h8m36 0h8m-256 4h16m164 0h8m20 0h8m4 0h4m20 0h4m4 0h8m-256 4h16m160 0h4m28 0h4m4 0h8m4 0h4m12 0h4m4 0h8m-264 4h4m4 0h8m164 0h8m28 0h4m4 0h8m36 0h8m-272 4h16m156 0h8m44 0h16m4 0h4m4 0h4m4 0h4m4 0h8m-280 4h4m4 0h8m224 0h8m4 0h4m12 0h4m4 0h8m-272 4h8m4 0h4m148 0h8m60 0h4m4 0h8m4 0h4m4 0h16m-280 4h16m224 0h16m12 0h4m12 0h8m-288 4h16m148 0h4m80 0h8m4 0h4m4 0h4m4 0h4m4 0h8m-296 4h4m4 0h8m152 0h4m84 0h8m4 0h4m4 0h4m4 0h4m4 0h8m-296 4h4m4 0h8m148 0h8m92 0h16m4 0h16m-304 4h4m4 0h8m152 0h4m100 0h8m4 0h4m4 0h4m12 0h4m-308 4h4m4 0h8m4 0h4m248 0h16m4 0h8m-296 4h16m140 0h8m108 0h16m4 0h4m12 0h8m-312 4h4m4 0h8m264 0h20m8 0h8m-320 4h4m4 0h8m144 0h4m124 0h8m4 0h4m12 0h8m-320 4h4m4 0h8m272 0h16m12 0h8m-328 4h4m4 0h8m4 0h4m132 0h8m132 0h4m4 0h8m20 0h8m-328 4h8m4 0h4m128 0h4m148 0h12m8 0h4m4 0h8m-336 4h16m132 0h8m148 0h8m4 0h4m12 0h8m-336 4h4m4 0h8m128 0h4m156 0h4m4 0h8m12 0h8m-336 4h8m4 0h4m124 0h8m156 0h4m4 0h8m12 0h4m4 0h8m-344 4h16m116 0h8m172 0h12m16 0h8m-352 4h16m124 0h8m172 0h8m20 0h8m-352 4h16m120 0h4m188 0h8m12 0h8m-360 4h4m4 0h8m124 0h8m188 0h8m12 0h8m4 0h4m-368 4h4m4 0h8m4 0h4m108 0h8m196 0h8m12 0h16m-368 4h16m116 0h8m196 0h8m20 0h8m-368 4h16m108 0h8m204 0h4m4 0h4m8 0h4m4 0h8m-376 4h4m4 0h8m4 0h4m108 0h8m204 0h4m4 0h4m16 0h12m-372 4h16m100 0h8m220 0h8m12 0h8m-384 4h4m4 0h8m4 0h4m108 0h8m220 0h4m16 0h4m4 0h8m-392 4h4m4 0h16m100 0h8m240 0h4m4 0h4m4 0h8m-392 4h16m108 0h8m256 0h8m-392 4h4m4 0h8m4 0h4m92 0h8m248 0h4m4 0h4m4 0h8m-400 4h4m4 0h16m100 0h8m264 0h4m4 0h8m-400 4h16m92 0h8m252 0h8m4 0h4m4 0h16m-408 4h4m4 0h8m104 0h4m252 0h8m4 0h4m4 0h4m4 0h8m-408 4h4m4 0h8m92 0h8m264 0h12m4 0h16m-416 4h4m4 0h8m4 0h4m92 0h8m264 0h4m4 0h4m12 0h4m4 0h8m-424 4h4m4 0h8m4 0h4m84 0h8m276 0h8m4 0h4m4 0h8m4 0h4m-424 4h16m96 0h4m276 0h8m4 0h4m4 0h4m4 0h8m-424 4h4m4 0h8m84 0h8m284 0h16m4 0h4m4 0h8m-432 4h4m4 0h8m92 0h8m284 0h8m4 0h4m4 0h4m4 0h8m4 0h4m-440 4h4m4 0h8m84 0h8m300 0h16m4 0h8m4 0h4m-448 4h4m4 0h8m4 0h4m84 0h8m300 0h8m4 0h4m4 0h16m-448 4h4m4 0h8m4 0h4m76 0h8m308 0h16m4 0h16m-448 4h16m84 0h8m308 0h8m4 0h4m4 0h4m4 0h8m-448 4h4m4 0h8m80 0h4m316 0h4m4 0h8m4 0h4m4 0h8m-456 4h4m4 0h8m84 0h8m316 0h16m4 0h4m4 0h16m-456 4h8m80 0h4m332 0h8m4 0h4m4 0h8m4 0h4m-472 4h4m4 0h12m80 0h8m332 0h8m4 0h4m4 0h4m4 0h8m-464 4h8m424 0h8m4 0h4m4 0h4m4 0h8m-472 4h4m4 0h8m80 0h4m340 0h8m4 0h4m4 0h4m4 0h8m4 0h4m-472 4h4m80 0h4m352 0h8m4 0h4m4 0h16m-480 4h8m440 0h8m20 0h8m-480 4h8m76 0h8m356 0h8m4 0h4m4 0h4m4 0h4m-392 4h4m364 0h4m-456 4h4m80 0h4m372 0h8m-468 4h4m80 0h4m376 0h8M730 903h4m4 0h4m4 0h4m4 0h4m4 0h4m4 0h4m4 0h4m4 0h4m4 0h4m4 0h4m4 0h4m4 0h4m4 0h4m4 0h4m4 0h4m4 0h4m4 0h4m4 0h4m4 0h4m4 0h4m4 0h4m4 0h4m4 0h4m4 0h4m4 0h4m4 0h4m4 0h4m4 0h4m4 0h4m4 0h4m4 0h4m4 0h4m-308 8h4m60 0h4m4 0h4m4 0h4m4 0h4m4 0h4m4 0h4m4 0h4m4 0h4m4 0h4m4 0h4m4 0h4m4 0h4m4 0h4m4 0h4m4 0h4m4 0h4m4 0h4m4 0h4m4 0h4m4 0h4m4 0h4m4 0h4m4 0h4m4 0h4m4 0h4m4 0h4m4 0h4m4 0h4m4 0h4m4 0h4m4 0h4m-236 8h4m4 0h4m4 0h4m4 0h4m4 0h4m4 0h4m4 0h4m4 0h4m4 0h4m4 0h4m4 0h4m4 0h4m4 0h4m4 0h4m4 0h4m4 0h4m4 0h4m4 0h4m4 0h4m4 0h4m4 0h4m4 0h4m4 0h4m4 0h4m4 0h4m4 0h4m4 0h4m4 0h4m4 0h4m4 0h4m-300 4h4m4 0h4m52 4h4m4 0h4m4 0h4m4 0h4m4 0h4m4 0h4m4 0h4m4 0h4m4 0h4m4 0h4m4 0h4m4 0h4m4 0h4m4 0h4m4 0h4m4 0h4m4 0h4m4 0h4m4 0h4m4 0h4m4 0h4m4 0h4m4 0h4m4 0h4m4 0h4m4 0h4m4 0h4m4 0h4m4 0h4m4 0h4m-228 8h4m4 0h4m4 0h4m4 0h4m4 0h4m4 0h4m4 0h4m4 0h4m4 0h4m4 0h4m4 0h4m4 0h4m4 0h4m4 0h4m4 0h4m4 0h4m4 0h4m4 0h4m4 0h4m4 0h4m4 0h4m4 0h4m4 0h4m4 0h4m4 0h4m4 0h4m4 0h4m4 0h4m4 0h4m-292 4h4"/>
<path stroke="#3686bf" stroke-width="4" d="M146 67h4m-4 8h4m-4 8h4m-4 8h4m-4 8h4m-36 8h4m4 0h8m276 0h4m4 0h16m-304 4h4m4 0h8m268 0h24m-304 4h16m268 0h4m4 0h20m-300 4h8m276 0h16m4 0h4m-312 4h4m4 0h8m276 0h24m-304 4h8m4 0h4m268 0h16m4 0h4m-312 4h16m284 0h4m4 0h8m-312 4h4m4 0h8m284 0h16m-312 4h16m284 0h4m4 0h8m-312 4h4m4 0h8m284 0h16m-320 4h4m4 0h8m4 0h4m284 0h4m4 0h8m-320 4h4m4 0h16m284 0h16m-320 4h16m292 0h4m4 0h8m-320 4h16m4 0h4m284 0h8m4 0h4m-328 4h4m4 0h8m4 0h4m292 0h4m4 0h8m-328 4h4m4 0h16m292 0h8m4 0h4m-328 4h16m4 0h4m292 0h12m-324 4h4m4 0h8m4 0h4m284 0h16m-328 4h4m4 0h16m300 0h8m-320 4h4m4 0h8m4 0h4m284 0h16m-328 4h4m4 0h16m292 0h16m-320 4h4m4 0h8m4 0h4m284 0h8m-320 4h4m4 0h16m292 0h8m-312 4h4m4 0h8m4 0h4m276 0h16m-320 4h4m4 0h16m284 0h16m-312 4h4m4 0h8m4 0h4m272 0h12m-312 4h4m4 0h16m4 0h4m276 0h8m-304 4h4m4 0h8m4 0h4m268 0h16m-312 4h4m4 0h16m4 0h4m4 0h4m260 0h12m-300 4h4m4 0h24m260 0h8m-304 4h4m4 0h16m4 0h4m4 0h4m252 0h4m4 0h8m-296 4h4m4 0h24m4 0h4m244 0h12m-292 4h4m4 0h16m4 0h4m252 0h12m-292 4h4m4 0h4m4 0h16m4 0h4m4 0h4m228 0h16m-288 4h4m4 0h24m4 0h4m236 0h16m-280 4h4m4 0h24m4 0h4m228 0h8m-280 4h4m4 0h4m4 0h16m4 0h4m236 0h8m-264 4h4m4 0h16m4 0h4m4 0h4m212 0h16m-280 4h4m4 0h4m4 0h16m4 0h4m4 0h4m220 0h4m4 0h4m-260 4h4m4 0h24m4 0h4m208 0h12m-256 4h4m4 0h16m4 0h4m212 0h16m-248 4h24m4 0h4m204 0h8m-248 4h24m4 0h4m212 0h8m-248 4h4m4 0h16m4 0h4m204 0h16m-248 4h16m4 0h4m212 0h12m-244 4h4m4 0h16m204 0h16m-248 4h4m4 0h16m212 0h4m4 0h8m-240 4h16m212 0h8m-240 4h4m4 0h8m212 0h4m4 0h8m-240 4h8m4 0h4m212 0h8m-240 4h16m220 0h8m-240 4h8m220 0h12m-244 4h8m228 0h8m-240 4h8m220 0h8m-240 4h8m228 0h8m-240 4h8m220 0h8m-240 4h8m220 0h4m4 0h4m-244 4h4m4 0h4m224 0h8m-248 4h4m240 0h8m-248 4h8m236 0h4m-252 4h16m-12 4h8m240 0h4m-256 4h8m248 0h4m-256 4h8m244 0h4m-260 4h8m252 0h4m-260 4h8m-12 4h8m-4 4h8m256 0h4m-264 4h8m252 0h4m-268 4h4m4 0h4m-8 4h8m256 0h4m-264 4h8m252 0h4m-268 4h8m-4 4h8m252 0h8m-272 4h4m4 0h8m252 0h4m-268 4h4m4 0h8m248 0h4m-264 4h8m252 0h8m-264 4h8m172 0h4m68 0h4m-260 4h4m4 0h8m176 0h4m64 0h8m-264 4h16m176 0h4m56 0h12m-260 4h8m244 0h8m-256 4h8m236 0h8m-256 4h16m152 0h4m24 0h4m48 0h4m4 0h4m-256 4h4m4 0h8m148 0h4m76 0h8m-248 4h8m4 0h4m232 0h4m-248 4h16m220 0h8m-240 4h8m228 0h4m-236 4h8m144 0h4m76 0h4m-240 4h8m4 0h4m140 0h4m76 0h8m-240 4h16m-12 4h4m4 0h8m136 0h4m-144 4h8m132 0h4m32 0h4m40 0h4m-228 4h8m220 0h8m-224 4h8m212 0h4m-220 4h8m124 0h4m84 0h8m-224 4h8m120 0h4m88 0h8m-232 4h8m168 0h4m48 0h8m-228 4h4m-4 4h8m120 0h4m92 0h4m-224 4h8m116 0h4m92 0h4m-228 4h8m180 0h4m-188 4h8m212 0h8m-232 4h8m124 0h4m92 0h4m-228 4h8m212 0h8m-224 4h8m212 0h4m-220 4h4m184 0h4m20 0h8m-224 4h8m184 0h4m24 0h8m-224 4h8m116 0h4m92 0h4m-228 4h8m-4 4h8m120 0h4m60 0h4m24 0h8m-232 4h16m116 0h4m-132 4h8m184 0h8m20 0h8m-224 4h8m120 0h4m56 0h4m-188 4h8m176 0h4m24 0h4m-220 4h8m176 0h4m-184 4h8m116 0h4m52 0h4m28 0h4m-220 4h8m124 0h4m80 0h4m-216 4h8m120 0h4m44 0h8m28 0h4m-220 4h4m4 0h8m120 0h4m36 0h8m-180 4h8m4 0h4m116 0h4m76 0h4m-212 4h8m160 0h4m-168 4h8m116 0h8m28 0h8m40 0h4m-216 4h8m124 0h4m24 0h8m44 0h4m-212 4h8m152 0h4m-168 4h4m4 0h8m120 0h4m20 0h8m48 0h4m-216 4h8m4 0h4m116 0h4m20 0h4m52 0h4m-220 4h4m4 0h8m124 0h8m4 0h8m-156 4h4m4 0h8m124 0h8m4 0h4m56 0h8m-216 4h8m132 0h4m60 0h4m4 0h8m-216 4h8m124 0h4m4 0h4m44 0h4m4 0h4m4 0h4m4 0h4m-220 4h4m8 0h4m172 0h12m12 0h4m4 0h4m-220 4h8m4 0h4m164 0h8m4 0h8m4 0h12m-212 4h8m164 0h8m12 0h8m4 0h4m4 0h4m4 0h4m-220 4h8m160 0h4m20 0h24m-220 4h8m4 0h4m184 0h8m4 0h24m-232 4h8m156 0h4m32 0h36m-232 4h8m192 0h4m4 0h20m4 0h4m-232 4h8m148 0h4m48 0h4m4 0h12m4 0h4m-240 4h8m152 0h4m52 0h36m-248 4h8m216 0h4m4 0h4m4 0h4m4 0h4m-256 4h16m140 0h8m68 0h4m4 0h12m4 0h4m-256 4h4m4 0h8m224 0h4m4 0h4m-248 4h8m140 0h8m84 0h12m4 0h12m-264 4h8m136 0h4m92 0h4m4 0h4m4 0h4m4 0h4m-272 4h8m140 0h4m96 0h4m4 0h4m4 0h4m4 0h4m-272 4h8m4 0h4m128 0h4m116 0h4m-272 4h16m132 0h4m112 0h4m4 0h4m4 0h12m-288 4h4m4 0h8m128 0h4m124 0h4m8 0h8m-288 4h8m264 0h4m4 0h12m-288 4h8m124 0h8m144 0h8m-296 4h8m4 0h4m124 0h4m136 0h4m4 0h12m-296 4h8m4 0h4m116 0h8m148 0h12m-304 4h4m4 0h8m280 0h20m-312 4h4m4 0h8m116 0h4m164 0h8m4 0h4m-312 4h8m4 0h4m280 0h4m8 0h8m-312 4h12m112 0h4m176 0h12m-320 4h4m4 0h8m112 0h4m184 0h8m4 0h4m-320 4h8m300 0h16m-328 4h8m112 0h4m188 0h20m-328 4h8m108 0h4m200 0h12m-336 4h16m104 0h4m204 0h12m-336 4h4m4 0h8m312 0h12m-336 4h8m104 0h4m212 0h20m-344 4h8m324 0h8m4 0h4m-352 4h4m4 0h8m96 0h4m224 0h16m-344 4h8m328 0h12m-360 4h4m4 0h8m92 0h8m232 0h16m4 0h4m-360 4h8m336 0h4m4 0h4m4 0h4m-368 4h16m84 0h8m244 0h20m-368 4h4m4 0h4m84 0h4m252 0h4m4 0h4m4 0h4m-368 4h8m84 0h8m252 0h20m4 0h4m-376 4h8m80 0h4m268 0h4m4 0h4m-376 4h8m84 0h8m268 0h4m4 0h4m4 0h4m-384 4h8m80 0h4m284 0h4m-384 4h4m4 0h4m80 0h8m276 0h4m4 0h12m4 0h4m-400 4h4m84 0h4m292 0h4m4 0h4m-392 4h8m76 0h8m292 0h4m4 0h4m4 0h4m-400 4h4m388 0h4m4 0h4m-408 4h8m76 0h8m300 0h4m4 0h4m4 0h4m-408 4h8m400 0h4m-416 4h4m4 0h4m76 0h4m316 0h4m4 0h4m-416 4h4m412 0h4m-416 4h4m76 0h4m324 0h4m4 0h4m4 0h4m-348 4h4m336 0h4m4 0h4m-432 4h8m72 0h4m340 0h4m4 0h4m-432 4h4m72 0h4m344 0h4m4 0h4m-436 4h4m424 0h4m4 0h4m4 0h4m-448 4h8m72 0h4m348 0h4m4 0h4m4 0h4m-372 4h4m352 0h4m4 0h4m4 0h4m-452 4h4m72 0h4m364 0h4m4 0h4m-456 4h4m76 0h4m364 0h20m-16 4h4m4 0h4m4 0h4m-472 4h8m448 0h20m-472 4h4m72 0h4m384 0h8m-472 4h4m464 0h4M718 899h4m4 0h256m-312 4h4m48 0h8m4 0h4m4 0h4m4 0h4m4 0h4m4 0h4m4 0h4m4 0h4m4 0h4m4 0h4m4 0h4m4 0h4m4 0h4m4 0h4m4 0h4m4 0h4m4 0h4m4 0h4m4 0h4m4 0h4m4 0h4m4 0h4m4 0h4m4 0h4m4 0h4m4 0h4m4 0h4m4 0h4m4 0h4m4 0h4m4 0h4m4 0h4m-252 4h256m-252 4h8m4 0h4m4 0h4m4 0h4m4 0h4m4 0h4m4 0h4m4 0h4m4 0h4m4 0h4m4 0h4m4 0h4m4 0h4m4 0h4m4 0h4m4 0h4m4 0h4m4 0h4m4 0h4m4 0h4m4 0h4m4 0h4m4 0h4m4 0h4m4 0h4m4 0h4m4 0h4m4 0h4m4 0h4m4 0h4m4 0h4m-292 4h4m44 0h248m-304 4h4m48 0h16m4 0h4m4 0h4m4 0h4m4 0h4m4 0h4m4 0h4m4 0h4m4 0h4m4 0h4m4 0h4m4 0h4m4 0h4m4 0h4m4 0h4m4 0h4m4 0h4m4 0h4m4 0h4m4 0h4m4 0h4m4 0h4m4 0h4m4 0h4m4 0h4m4 0h4m4 0h4m4 0h4m4 0h4m4 0h4m-244 4h248m-300 4h4m52 0h8m4 0h4m4 0h4m4 0h4m4 0h4m4 0h4m4 0h4m4 0h4m4 0h4m4 0h4m4 0h4m4 0h4m4 0h4m4 0h4m4 0h4m4 0h4m4 0h4m4 0h4m4 0h4m4 0h4m4 0h4m4 0h4m4 0h4m4 0h4m4 0h4m4 0h4m4 0h4m4 0h4m4 0h4m4 0h4m-236 4h240m-296 4h4m56 0h8m4 0h4m4 0h4m4 0h4m4 0h4m4 0h4m4 0h4m4 0h4m4 0h4m4 0h4m4 0h4m4 0h4m4 0h4m4 0h4m4 0h4m4 0h4m4 0h4m4 0h4m4 0h4m4 0h4m4 0h4m4 0h4m4 0h4m4 0h4m4 0h4m4 0h4m4 0h4m4 0h4m4 0h4m-228 4h232"/>
<path stroke="#3a8dc2" stroke-width="4" d="M142 67h4m-4 16h4m-4 16h4m-16 8h8m260 0h8m4 0h4m-272 4h8m252 0h8m-264 4h8m256 0h4m4 0h4m-272 4h8m260 0h8m-272 4h16m252 0h8m-272 4h4m4 0h8m256 0h4m-272 4h8m268 0h8m4 0h4m-288 4h12m264 0h8m-280 4h8m272 0h4m4 0h4m-288 4h12m268 0h4m-288 4h4m4 0h8m280 0h4m-288 4h8m272 0h4m-288 4h16m272 0h4m4 0h4m-296 4h4m4 0h8m272 0h4m-296 4h4m4 0h8m280 0h4m4 0h4m-296 4h16m268 0h8m-296 4h4m4 0h8m276 0h8m-296 4h4m4 0h8m4 0h4m-20 4h16m276 0h8m-296 4h4m4 0h8m4 0h4m264 0h4m-288 4h16m272 0h4m-288 4h4m4 0h8m4 0h4m260 0h8m-288 4h16m268 0h8m-288 4h4m4 0h8m4 0h4m-20 4h16m4 0h4m256 0h4m-280 4h4m4 0h16m252 0h4m-276 4h4m4 0h8m4 0h4m252 0h8m-280 4h4m4 0h16m-20 4h4m4 0h4m4 0h8m4 0h4m240 0h4m-256 4h16m4 0h4m228 0h8m-272 4h4m4 0h4m4 0h16m240 0h4m-256 4h4m4 0h16m224 0h4m-256 4h4m4 0h24m224 0h4m-248 4h4m4 0h4m4 0h8m-20 4h4m4 0h16m-12 4h4m4 0h16m4 0h4m200 0h4m-240 4h4m4 0h24m204 0h8m-232 4h4m4 0h4m4 0h8m4 0h4m-36 4h4m4 0h4m4 0h16m200 0h4m4 0h4m-224 4h4m4 0h8m4 0h4m188 0h4m-220 4h4m4 0h16m-12 4h4m4 0h8m192 0h4m-216 4h4m4 0h8m4 0h4m188 0h8m-216 4h4m4 0h8m-20 4h4m4 0h16m192 0h4m-208 4h8m-12 4h8m208 0h4m-216 4h8m200 0h4m-216 4h8m208 0h4m-224 4h4m4 0h8m200 0h4m-216 4h8m204 0h8m-224 4h8m208 0h4m-224 4h12m208 0h8m-224 4h8m208 0h4m-224 4h8m212 0h8m-224 4h4m208 0h8m-224 4h8m216 0h4m-228 4h4m212 0h8m-232 4h12m216 0h8m-232 4h8m220 0h8m-4 4h8m-240 4h8m220 0h4m4 0h4m-244 4h8m236 0h4m-244 4h8m-12 4h8m-4 4h8m240 0h4m-256 4h8m248 0h4m-256 4h8m244 0h4m-252 4h4m-4 4h4m248 0h4m-256 4h8m244 0h4m-252 4h4m244 0h4m-256 4h8m244 0h8m-256 4h8m236 0h8m-248 4h8m236 0h8m-248 4h4m232 0h4m4 0h4m-252 4h8m236 0h8m-248 4h8m168 0h4m56 0h8m4 0h4m-248 4h8m152 0h4m16 0h4m52 0h8m-240 4h4m228 0h4m-240 4h8m176 0h4m48 0h8m-240 4h8m224 0h4m-232 4h8m220 0h4m-228 4h8m216 0h4m-232 4h4m148 0h4m28 0h4m40 0h8m-84 4h4m-148 4h8m216 0h4m-224 4h8m212 0h4m-228 4h4m4 0h4m0 4h8m128 0h4m76 0h4m-216 4h8m124 0h4m80 0h4m-216 4h4m-8 4h16m120 0h4m-128 4h8m116 0h4m80 0h4m-208 4h4m160 0h4m40 0h4m-208 4h4m-8 4h8m116 0h4m-124 4h8m208 0h4m-216 4h4m164 0h4m-172 8h8m112 0h4m92 0h4m-216 4h4m112 0h4m-124 4h8m208 0h4m-216 4h8m112 0h4m-4 4h4m88 0h4m-212 4h4m-4 4h4m116 0h4m84 0h4m-208 4h4m204 0h4m-216 4h8m180 0h4m24 0h4m-216 4h8m180 4h4m20 0h4m-216 4h8m112 0h4m-120 4h4m112 0h4m88 0h4m-212 8h8m112 0h4m56 0h4m24 0h4m-208 4h4m-8 4h8m168 0h4m-176 4h8m-4 4h4m112 0h4m80 0h4m-208 4h4m164 0h4m-168 4h8m112 0h4m40 0h4m32 0h4m-200 4h4m192 0h4m-204 4h8m152 0h4m-160 4h8m112 0h4m32 0h4m40 0h4m-200 4h4m112 0h4m76 0h4m-204 4h4m148 0h4m44 0h4m-200 4h8m112 0h4m20 0h4m44 0h4m4 0h4m-200 4h4m112 0h8m16 0h4m44 0h4m-196 4h8m116 0h8m4 0h8m44 0h8m4 0h4m-200 4h8m120 0h4m4 0h4m36 0h4m4 0h4m4 0h4m4 0h4m-208 4h4m4 0h4m120 0h8m36 0h4m12 0h12m4 0h4m-208 4h4m120 0h12m32 0h4m20 0h4m12 0h4m-208 4h8m116 0h4m64 0h4m4 0h4m4 0h4m-208 4h8m148 0h4m48 0h4m-216 4h4m156 0h4m36 0h4m-200 4h8m-4 4h8m144 0h4m-152 4h4m-8 4h8m140 0h4m-148 4h8m136 0h4m-144 4h4m136 4h4m-144 4h8m-4 4h8m124 0h4m-140 4h8m-4 4h4m128 0h4m-132 4h8m120 0h4m-128 4h4m120 0h4m-132 4h8m120 0h4m-128 4h8m-12 4h4m4 0h4m116 0h4m-128 4h4m0 4h8m112 0h4m-120 4h8m-12 4h4m112 0h8m172 0h4m-292 4h4m-4 4h8m100 0h4m184 0h4m-296 4h4m100 0h4m-112 4h8m100 0h4m-108 4h8m96 0h4m-104 4h4m96 0h4m-100 4h4m92 0h4m-104 4h8m92 0h4m-100 4h8m88 0h4m-96 4h4m88 0h4m-4 4h4m-96 4h8m-4 4h4m84 0h4m-88 8h4m76 0h4m-84 4h4m76 4h4m-84 4h4m0 4h4m72 0h4m-80 4h4m-4 4h4m72 0h4m-76 8h4m72 0h4m-80 4h4m72 4h4m-4 4h4m-76 4h4m68 0h4m-76 4h4m68 0h4m-76 4h4m0 8h4m-4 4h4m68 0h4m-4 4h4m-76 4h4m0 8h4m68 0h4m-76 4h4m72 4h4m132 24h4m-8 4h4m-40 4h4m36 0h4m-4 4h8m-4 4h8m0 12h4m0 4h4m-44 4h4m36 0h8m-4 4h8"/>
<path stroke="#4092c4" stroke-width="4" d="M142 71h4m-4 4h4m-4 4h4m-4 8h4m-4 4h4m-4 4h4m-4 8h4m-8 4h8m244 0h8m-248 4h4m244 0h4m-248 4h8m244 0h4m-252 4h8m248 0h4m-244 8h8m244 0h4m-260 4h8m256 0h4m-260 4h12m-12 4h8m260 0h4m-264 4h12m252 0h4m-268 4h8m264 0h4m-272 4h8m260 0h4m-268 4h8m260 0h4m-268 4h8m260 0h4m-276 4h16m260 0h4m-268 4h8m-12 4h16m-12 4h4m4 0h8m-12 4h8m4 0h4m256 0h4m-272 4h4m4 0h8m-12 4h16m252 0h4m-268 4h4m4 0h8m-12 4h16m-12 4h4m4 0h8m248 0h4m-264 4h4m4 0h8m-4 4h8m4 0h4m-20 4h4m4 0h8m-4 4h16m232 0h4m-248 4h4m4 0h8m4 0h4m220 0h4m-236 4h4m4 0h8m4 0h4m-20 4h16m216 0h4m-224 4h8m4 0h4m204 0h4m-220 4h8m4 0h4m204 0h4m-220 4h24m-20 4h16m4 0h4m192 0h4m-208 4h4m4 0h8m4 0h4m180 0h4m-204 4h16m-12 4h4m4 0h8m4 0h4m176 0h4m-200 4h16m180 0h4m-196 4h4m4 0h8m-12 4h16m176 0h4m-192 4h12m176 0h4m-196 4h4m4 0h8m-12 4h8m184 0h4m-192 4h8m180 0h4m-196 4h8m-12 4h8m192 0h4m-200 4h8m188 0h4m-204 4h8m192 0h4m-200 4h4m192 0h4m-204 4h8m-12 4h8m-8 4h4m-4 4h4m200 0h4m-212 4h8m200 0h4m-212 4h4m204 4h4m-216 4h8m-8 4h4m-4 4h4m208 0h8m-224 4h8m212 0h8m0 4h4m-232 4h8m220 0h8m-8 4h12m-240 4h8m228 0h8m-12 4h4m4 0h4m-244 4h8m236 0h4m-244 4h4m-4 4h4m240 0h4m-248 4h8m236 0h4m-244 8h4m236 0h4m-244 4h8m228 0h8m-240 4h8m224 4h8m-236 4h4m232 0h4m-240 4h8m224 0h4m-232 4h8m152 0h4m8 0h4m52 4h4m-228 4h4m220 0h4m-228 4h8m140 0h4m-148 4h8m212 0h4M346 443h8m-4 4h8m208 0h4m-216 4h4m132 0h4m32 0h4m-172 4h4m128 0h4m-136 4h4m4 4h4m204 4h4m-208 4h4m204 4h4m-200 8h4m0 4h4m200 0h4m-208 4h4m204 0h4m-208 4h4m108 0h4m44 0h4m-164 4h4m204 0h4m-212 4h4m0 8h4m-4 4h4m176 0h4m-184 8h8m196 0h4m-204 4h4m108 0h4m84 0h4m-204 4h4m196 0h4m-200 4h4m196 0h4m-204 4h4m108 0h4m88 0h4m-96 4h4m68 0h4m-188 4h4m184 0h4m12 0h4m-204 8h4m176 0h4m16 0h4m-204 4h4m108 0h4m64 0h4m16 0h4m-4 4h4m-200 4h4m168 0h4m20 0h4m-200 4h4m108 0h4m56 0h4m20 0h4m-88 4h4m80 0h4m-196 4h4m160 0h4m24 0h4m-196 4h4m108 0h4m-4 4h4m-112 4h4m-4 4h4m108 0h4m76 0h4m-84 4h4m76 0h4m-192 4h4m180 0h4m-188 4h4m108 0h4m68 0h4m-76 4h4m28 0h4m36 0h4m4 0h4m-192 4h4m172 0h8m4 0h4m-192 4h4m132 0h4m32 0h8m-64 4h4m16 0h4m28 0h4m-168 4h4m108 0h8m8 0h4m28 0h4m-164 4h8m104 0h4m12 0h4m-128 4h4m108 0h4m4 0h4m-12 4h12m-124 4h8m108 0h4m-116 4h4m104 0h4m4 0h4m-8 4h4m28 0h4m-144 4h4m136 0h4m-144 4h4m0 4h4m-4 4h4m-4 4h8m124 0h4m-132 4h4m-4 8h8m120 0h4m-128 4h4m0 8h4m-4 4h4m0 8h4m108 0h4m-116 4h8m104 0h4m-112 4h4m104 0h4m-4 4h4m-112 4h8m-4 4h4m100 0h4m-104 8h4m-4 4h4m0 4h4m-4 4h4m0 4h4m84 0h4m-92 4h4m84 4h4m-88 4h4m-4 4h4m80 0h4m-84 8h4m76 0h4m-84 4h4m76 0h4m-4 8h4m-80 8h4m72 0h4m-4 8h4m-76 4h4m-4 4h4m68 4h4m-72 12h4m0 12h4m64 0h4m-72 4h4m64 0h4m-4 4h4m0 12h4m-72 4h4m68 8h4m0 12h4m60 16h4m60 0h4m-4 4h4m-48 4h4m44 0h4m-44 16h4m48 0h4m-52 8h4m48 0h4m-52 8h4"/>
<path stroke="#4796c7" stroke-width="4" d="M154 111h4m236 0h4m-236 4h4m0 4h8m236 0h4m-244 4h8m240 0h4m-240 4h8m-12 4h8m244 0h4m-244 4h8m240 0h4m-256 4h8m4 0h4m-4 4h8m-12 4h8m4 0h4m244 0h4m-260 4h12m-8 4h8m-4 4h8m-4 4h8m-4 4h8m-4 4h8m248 0h4m-256 4h8m248 0h4m-264 4h4m4 0h8m-4 4h8m244 0h4m-252 4h8m-4 4h8m4 0h4m232 0h4m-248 4h8m240 0h4m-248 4h16m228 0h4m-244 4h8m4 0h4m228 0h4m-244 4h4m4 0h8m4 0h4m-20 4h16m224 0h4m-232 4h16m212 0h4m-228 4h4m4 0h8m4 0h4m-12 4h4m4 0h8m200 0h4m-216 4h8m4 0h4m-12 4h4m4 0h8m4 0h4m-20 4h4m4 0h16m-4 4h16m176 0h4m-200 4h4m4 0h8m4 0h4m172 0h4m-188 4h4m4 0h8m-12 4h16m168 0h4m-184 4h4m4 0h8m164 0h4m-180 4h8m4 0h4m-12 4h16m160 0h4m-176 4h8m-8 4h12m-12 4h8m168 0h4m-184 4h8m172 0h4m-180 4h8m-12 4h8m176 0h4m-192 4h8m180 0h4m-188 4h8m-12 4h8m-8 4h4m188 4h4m-200 4h8m188 0h4m-204 4h8m192 0h4m-204 4h4m-8 8h8m192 0h4m-208 4h8m196 0h4m-208 8h4m204 0h4m-212 4h4m-8 8h8m208 0h4m0 4h4m-224 4h8m212 0h4m0 4h8m-232 4h8m224 0h4m-4 4h8m-236 4h4m228 0h8m-240 4h4m232 0h4m-236 4h4m224 0h8m-240 4h8m228 0h8m-240 4h8m220 0h8m-4 8h4m-232 4h8m-4 4h8m216 0h4m-4 4h4m-224 8h8m-4 4h8m136 0h4m24 0h4m44 4h4m-80 4h4m28 0h4m-176 4h8m-4 4h8m204 0h4m-212 4h4m0 4h4m-4 4h4m0 4h4m-4 4h8m120 0h4m76 0h4m-204 4h4m116 0h4m-124 4h8m-4 4h8m112 0h4m-120 4h8m108 0h4m-116 4h8m188 0h4m-84 4h4m80 0h4m-88 4h4m84 0h4m-200 4h4m200 4h4m-96 4h4m-112 4h4m200 0h4m-208 4h4m200 0h4m-4 4h4m-204 4h4m104 0h4m88 0h4m-204 4h4m104 0h4m88 0h4m-200 8h4m-4 4h4m104 0h4m-108 8h4m-4 4h4m196 0h4m-204 4h4m-4 4h8m176 0h4m12 0h4m-20 4h4m-184 4h4m-4 4h4m104 0h4m64 0h4m-176 4h4m168 0h4m-176 4h4m-4 4h8m160 0h4m-168 8h4m156 0h4m24 0h4m-192 4h4m0 4h4m148 0h4m-156 4h4m-4 4h8m100 4h4m36 0h4m36 0h4m-188 4h4m100 0h4m36 0h4m36 0h4m-188 4h4m0 4h4m100 0h4m28 0h4m-140 4h4m104 0h4m24 0h4m-140 4h8m100 0h4m-4 8h4m20 0h4m20 0h4m-152 4h4m100 0h4m12 0h4m24 0h4m-152 4h4m100 0h4m12 0h4m-20 4h8m4 0h8m20 0h4m-144 4h4m104 0h4m28 0h4m-144 4h4m100 0h4m-104 4h4m96 0h12m-112 4h4m100 0h4m-104 4h4m92 0h4m28 0h4m-132 4h4m124 0h4m-128 8h4m120 0h4m-128 4h4m0 8h4m-4 4h4m112 0h4m-4 4h4m-116 4h4m108 0h4m-116 4h8m104 0h4M470 715h4m-4 4h4m0 8h4m92 0h4m-100 4h4m92 4h4m-96 4h4m88 0h4m-4 4h4m-92 4h4m84 0h4m-4 8h4m-88 4h4m80 4h4m-4 8h4m-80 16h4m-4 4h4m68 4h4m-72 4h4m-4 4h4m68 8h4m-72 8h4m64 0h4m-72 4h4m64 0h4m-4 8h4m0 20h4m-68 8h4m64 4h4m0 12h4m-72 4h4m-4 4h4m32 0h4m100 16h4m8 0h4m-20 4h8m-4 4h4m0 4h4m0 4h4m8 0h4m-12 4h4m56 0h4m-56 8h4m16 0h4m32 0h4m-52 8h4m52 4h4"/>
<path stroke="#4d9bc9" stroke-width="4" d="M146 107h8m232 0h4m-232 4h8m0 4h4m228 0h8m-232 4h8m224 0h4m-232 4h8m228 0h4m-228 4h8m220 0h8m-240 4h8m4 4h8m228 0h4m-244 4h4m240 0h8m-240 4h8m232 0h4m-248 4h4m8 0h4m-8 4h12m-12 4h8m-4 4h8m4 0h4m232 0h4m-248 4h8m240 0h4m-248 4h8m4 0h4m232 0h4m-248 4h8m-4 4h8m4 0h4m228 0h4m-244 4h8m236 0h4m-244 4h8m4 0h4m-12 4h8m232 0h4m-240 4h4m4 0h8m-12 4h8m4 0h4m220 0h4m-228 4h8m-12 4h4m4 0h8m4 0h4m-12 4h4m4 0h8m4 0h4m200 0h4m-224 4h16m204 0h4m-212 4h16m-12 4h4m8 0h4m-4 4h16m4 0h4m-28 4h4m4 0h16m180 0h4m-196 4h4m4 0h16m-12 4h16m168 0h4m-176 4h8m4 0h4m156 0h4m-180 4h4m4 0h8m-4 4h8m4 0h4m152 0h4m-168 4h8m4 0h4m-12 4h8m-12 4h4m4 0h8m-4 4h8m-12 4h8m156 0h4m-164 4h8m-12 4h8m-12 4h8m4 0h4m-12 4h8m-12 4h8m-12 4h8m-4 4h8m168 0h4m-184 4h8m172 0h4m-188 4h8m-12 4h8m-8 8h8m-12 4h8m-12 4h8m188 0h4m-200 8h4m-8 4h8m192 0h4m-204 4h4m196 0h4m-204 4h4m-8 4h8m200 0h4m-208 4h4m200 0h4m-212 4h8m204 0h4m-216 8h8m-4 4h4m212 0h4m-224 4h8m216 0h4m-224 4h4m216 0h8m-228 4h4m220 0h8m-228 4h4m-4 4h4m220 0h4m-224 4h4m-8 4h8m216 0h4m-224 4h8m212 0h4M338 411h8m-4 4h8m140 0h4m64 0h4m-4 4h4m-216 8h8m-4 4h8m-4 4h4m128 0h4m72 0h4m-208 4h4m-4 4h4m0 4h4m-4 4h4m200 0h4m-204 4h4m0 4h4m156 0h4m-160 4h4m192 0h4m-192 8h4m188 0h4M386 483h8m-4 4h4m196 4h4m-200 4h4m-4 4h4m104 4h4m56 0h4m-168 4h4m100 0h4m-108 4h4m0 8h4m-4 4h4m188 4h4m-192 4h4m-4 4h4m100 0h4m80 0h8m-4 4h8m-196 4h4m176 0h16m-92 4h4m80 0h8m-92 4h4m76 0h4m4 0h4m-196 4h4m188 0h4m-192 4h4m172 0h4m8 0h4m-192 4h4m184 0h4m-88 4h4m80 0h4m-4 8h4m-188 4h4m100 0h4m-4 4h4m-104 4h4m152 0h4m24 0h4m-84 4h4m-4 4h4m44 0h4m-152 8h4m0 4h4m168 0h4m-176 4h4m168 0h4m-8 4h4m-168 4h4m96 0h4m56 0h4m-64 4h4m28 0h4m20 0h4m-160 4h8m96 0h4m20 0h4m-128 4h4m96 4h4m-100 4h4m92 0h4m20 0h4m16 0h4m-144 4h4m96 4h4m12 0h4m-116 4h4m92 0h4m8 0h8m-112 4h4m88 0h4m32 0h4m-40 4h8m4 0h4m20 0h4m-32 4h8m-104 4h4m88 0h8m-100 4h4m88 0h8m20 4h4m-120 4h4m112 0h4m-120 4h4m112 0h4m-4 4h4m-116 4h4m-4 4h4m0 12h4m0 4h4m96 0h4m-100 8h4m92 0h4m-100 4h4m92 0h4m-96 8h4m88 0h4m-96 4h4m0 8h4m0 12h4m76 8h4m-80 4h4m-4 4h4m72 0h4m-4 4h4m-76 4h4m68 0h4m-76 4h4m68 0h4m-4 4h4m-4 4h4m-4 8h4m-4 4h4m-4 4h4m-4 4h4m-68 4h4m64 12h4m-68 4h4m-4 4h4m60 0h4m-4 4h4m-64 12h4m-4 4h4m60 0h4m-28 20h4m-4 4h4m0 4h4m88 16h4m60 0h4m-56 4h4m4 0h4m-12 4h4m0 4h4m52 0h4m0 4h4m-52 4h4m12 0h4m-24 4h4m52 0h4m-52 4h4m-4 4h4m-4 4h4m52 0h4m-56 4h4"/>
<path stroke="#54a0cc" stroke-width="4" d="M382 107h4m-220 4h4m216 0h8m-224 4h8m4 4h8m212 0h4m-220 4h8m4 4h8m-12 4h8m224 0h4m-224 4h8m216 0h4m-232 4h16m-4 4h8m220 0h4m-236 4h4m4 0h8m224 0h4m-232 4h8m224 0h4m-240 4h16m224 0h4m-240 4h4m4 0h8m220 0h4m-236 4h8m4 0h4m220 0h4m-236 4h4m4 0h8m220 0h4m-236 4h16m220 0h4m-236 4h4m4 0h8m-12 4h16m-12 4h4m4 0h8m216 0h4m-232 4h16m-4 4h8m4 0h4m204 0h4m-228 4h4m4 0h8m-4 4h16m-12 4h4m4 0h8m4 0h4m192 0h4m-208 4h4m4 0h8m-12 4h8m4 0h4m-4 4h16m-20 4h4m4 0h16m4 0h4m168 0h4m-184 4h4m4 0h8m4 0h4m156 0h4m-180 4h16m-4 4h8m4 0h4m152 0h4m-168 4h8m4 0h4m-12 4h4m4 0h8m-12 4h8m4 0h4m-12 4h4m4 0h8m-12 4h4m8 0h4m140 0h4m-156 4h8m4 0h4m-12 4h8m144 0h4m-152 4h8m140 0h4m-156 4h8m-4 4h8m144 0h4m-160 4h8m-12 4h4m4 0h4m-8 4h8m152 0h4m-168 4h8m156 0h4m-172 4h8m-4 4h8m-12 4h8m-12 4h8m168 0h4m-184 4h8m172 0h4m-188 4h8m176 4h4m-188 4h4m180 0h4m-192 4h4m-8 4h8m180 0h4m-192 4h4m-4 4h4m-8 4h8m-8 4h4m192 0h4m-4 4h4m-200 4h4m-8 8h8m200 0h4m0 4h4m-212 4h4m204 0h4m0 4h4m-216 4h4m-4 4h4m0 4h4m212 0h4m-220 4h4m212 0h4m-216 4h4m-4 4h4m-4 8h8m208 0h4m-216 4h8m204 0h4m-60 4h8m-160 8h8m132 0h4m-140 4h4m204 0h4m-208 4h4m200 0h4m-204 8h4m0 4h4m120 0h4m32 0h4m-164 4h4m120 0h4m72 0h4m-200 4h4m116 0h4m72 0h4m-200 4h4m0 4h4m192 0h4m-196 4h4m0 4h4m-4 4h4m108 0h4m40 0h4m-152 4h4m100 0h4m-108 4h4m148 0h4m32 0h4m-188 4h4m100 0h4m-104 8h4m-4 4h4m100 0h4m-4 4h4m-104 4h4m-4 4h4m192 0h4m-196 8h4m188 0h4m-196 4h4m188 0h4m-4 4h4m-192 4h4m96 0h4m84 0h4m-192 4h4m96 0h4m84 4h4m-188 4h4m168 0h4m-76 4h4m80 0h4m-188 8h4m180 0h4m-184 4h4m180 0h4m-188 4h4m96 0h4m76 0h8m-88 4h4m76 0h8m-12 4h4m4 0h4m-184 4h4m-4 4h4m96 0h4m64 0h4m12 0h4m-184 4h4m160 0h4m-168 4h4m156 0h4m-164 4h4m0 8h4m148 0h4m24 0h4m-184 4h4m176 0h4m-180 4h4m92 0h4m44 0h4m24 0h8m-180 4h4m168 0h4m-172 4h4m92 4h4m36 0h4m24 0h4m-168 4h4m92 0h4m36 0h4m20 0h4m-8 4h4m-156 4h4m144 0h4m-56 4h4m28 0h4m16 0h4m-148 4h4m-4 4h4m116 0h4m16 0h4m-140 8h4m88 0h4m-96 4h4m88 0h4m20 0h4m12 0h4m-4 4h4m-44 4h4m16 0h4m-112 4h4m104 0h4m-108 4h4m84 0h4m-4 4h4m8 0h4m16 0h4m-120 4h4m80 0h4m8 0h4m16 0h4m-120 4h4m80 0h12m-8 4h12m-96 4h4m80 0h8m-92 4h4m80 0h8m16 0h4m-108 8h4m100 0h4m-108 4h4m100 4h4m-104 4h4m96 0h4m-4 8h4m-96 12h4m84 4h4m-88 4h4m80 0h4m-88 4h4m80 0h4m-4 4h4m-84 4h4m76 0h4m-84 4h4m76 0h4m-4 4h4m-80 4h4m72 0h4m-80 4h4m72 4h4m-76 8h4m64 8h4m-68 8h4m60 0h4m-68 4h4m60 4h4m-64 12h4m60 4h4m-4 4h4m0 24h4m-64 4h4m56 0h4m0 12h4m-28 8h4m24 0h4m-68 4h4m32 0h4m-40 4h4m28 4h4m4 0h4m24 0h4m76 28h4m48 0h4m-52 4h8m-8 4h8m-4 4h4m48 0h4m-52 4h4m-8 4h4m0 4h4"/>
<path stroke="#5aa4cf" stroke-width="4" d="M138 67h4m-4 4h4m-4 4h4m-4 4h4m-4 4h4m-4 4h4m-4 4h4m-4 4h4m-4 4h4m-4 4h4m12 4h8m216 0h4m-212 4h4m4 4h8m208 0h4m-208 4h4m0 4h8m204 0h8m-208 4h8m200 0h4m-216 4h8m212 0h4m-212 4h8m204 0h4m4 4h4m-216 4h8m-4 4h8m212 0h4m-220 4h8m212 0h4m-220 4h8m212 0h4m-220 4h8m-12 4h4m4 0h8m-4 4h8m-4 4h8m-4 4h8m-4 4h8m208 0h4m-216 4h8m4 0h4m-12 4h8m4 0h4m196 0h4m-212 4h4m4 0h8m4 0h4m-20 4h16m-4 4h16m184 0h4m-200 4h4m8 0h4m-4 4h16m4 0h4m164 0h4m-196 4h4m4 0h16m-4 4h16m160 0h4m-176 4h4m4 0h8m4 0h4m-12 4h4m4 0h8m-12 4h16m-12 4h4m4 0h8m4 0h4m-20 4h4m4 0h8m140 0h4m-148 4h8m4 0h4m-20 4h4m4 0h8m136 0h4m-144 4h8m132 0h4m-148 4h4m4 0h8m-12 4h4m4 0h4m132 0h4m-144 4h8m-4 4h8m-12 4h8m-4 4h8m-12 4h8m140 0h4m-152 4h4m-4 4h8m-12 4h8m-12 4h8m152 0h4m-160 4h8m148 0h4m-164 4h8m-12 4h8m-12 4h8m-12 4h8m168 0h4m-184 4h8m-8 4h4m-8 4h4m-4 4h4m-8 4h8m176 0h4m-188 4h4m180 0h4m-192 8h4m-8 4h8m-8 8h8m192 0h4m-204 8h8m196 0h4m-208 8h8m-4 4h4m-4 4h4m208 0h4m-212 4h4m204 0h4m-212 4h4m208 4h4m-212 4h4m204 0h4m-212 4h8m-4 12h8m140 0h4m-148 4h4m156 0h4m-160 8h4m0 4h4m-4 4h8m192 0h4m-200 4h4m0 8h4m0 4h4m-4 4h4m112 0h4m-116 4h4m108 0h4m-4 4h4m76 0h4m-188 8h4m184 0h4m-184 8h4m0 8h4m96 0h4m48 4h4m32 0h4m-188 4h4m-4 4h4m192 4h4m-196 4h4m-4 4h4m188 0h4m-96 4h4m-4 4h4m-100 4h4m168 4h4m8 12h4m-184 4h4m96 4h4m-100 4h4m0 12h4m-4 4h4m172 0h4m-8 4h12m-180 4h4m164 0h4m4 0h4m-84 4h4m76 0h4m-4 4h8m-180 4h4m152 0h4m16 0h4m-180 4h4m92 0h4m-4 4h4m-96 4h4m92 8h4m44 0h4m-52 4h4m44 0h4m20 0h4m-168 4h4m0 8h4m88 0h4m36 0h4m-44 4h4m36 0h4m-132 4h4m88 4h4m28 0h4m12 0h4m-140 4h4m84 0h4m28 0h4m-124 4h4m84 0h4m28 0h4m8 0h4m-20 4h4m12 0h4m-132 4h4m-4 4h4m84 0h4m20 0h4m-4 4h4m-112 4h4m80 0h4m32 0h4m-40 4h4m16 0h4m12 0h4m-20 4h4m-8 8h4m-96 4h4m76 0h4m24 0h4m-32 4h4m8 0h4m12 0h4m-108 4h4m84 0h4m-92 4h4m76 0h8m16 0h4m-28 4h12m-88 4h4m72 0h8m16 0h4m-104 4h4m72 0h12m-8 4h4m-80 4h4m68 0h8m-80 4h4m72 0h4m12 0h4m-24 4h8m12 0h4m-92 4h4m68 0h4m12 0h4m-24 4h4m16 0h4m-24 8h4m12 16h4m-76 4h4m68 4h4m-16 4h4m-8 4h4m12 0h4m-72 4h4m64 4h4m-16 4h4m8 0h4m-20 4h8m-4 4h4m8 0h4m-20 4h12m-8 4h4m8 0h4m-20 4h12m-56 4h4m44 0h4m8 0h4m-64 4h4m56 0h4m-16 4h4m8 4h4m-60 8h4m56 0h4m-64 4h4m56 0h4m-4 4h4m-60 12h4m36 16h4m-8 4h8m-8 8h4m4 0h4m20 0h4m-36 4h4m4 0h4m-12 8h4m32 0h4m72 16h8m-4 4h4m44 0h4m-48 4h4m16 4h4m28 4h4m-56 8h4m60 8h4m-32 8h4m28 0h4"/>
<path stroke="#61a8d1" stroke-width="4" d="M374 107h4m-204 4h8m4 4h4m200 0h4m-200 4h4m200 0h4m-200 4h4m8 4h4m192 0h4m-204 4h8m4 4h4m-8 4h8m4 4h8m200 0h4m-208 4h8m-4 4h8m-4 4h8m-4 4h8m-4 4h8m-4 4h8m-4 4h8m200 0h4m-208 4h8m4 0h4m192 0h4m-208 4h8m-4 4h4m4 0h8m188 0h4m-204 4h4m4 0h8m-4 4h4m4 0h8m-12 4h12m180 0h4m-184 4h8m4 0h4m-20 4h4m4 0h16m164 0h4m-172 4h4m4 0h8m4 0h4m-20 4h16m152 0h4m-160 4h16m-12 4h4m4 0h8m140 0h4m-148 4h8m-4 4h8m136 0h4m-144 4h4m4 0h8m-12 4h16m-12 4h4m4 0h8m-12 4h8m-4 4h8m-4 8h4m-4 4h8m124 0h4m-132 4h4m-8 4h8m128 0h4m-132 4h4m124 0h4m-140 4h8m-12 4h8m136 0h4m-144 4h8m132 0h4m-148 4h8m-12 4h8m-4 4h8m-12 4h8m-12 4h8m-12 4h8m-12 4h8m-12 4h8m-12 4h8m164 0h4m-180 4h8m168 0h4m-180 4h4m-8 8h4m-8 4h4m180 0h4m-188 4h4m180 0h4m-192 8h8m184 0h4m-196 8h8m188 0h4m-200 8h8m-4 8h4m200 0h4m-208 4h8m-4 4h4m-4 4h4m-4 4h8m-4 4h4m200 4h4m-208 4h8m-4 4h4m152 4h4m44 0h4m-204 4h4m128 0h4m64 0h4m-204 4h4m0 4h4m120 0h4m-4 4h4m-4 4h4m-120 4h4m188 0h4m-196 4h4m188 0h4M374 451h4m0 4h4m-4 4h4m0 4h4m100 0h4m-100 8h4m96 4h4m-100 4h4m180 4h4m-184 4h4m92 0h4m88 4h4m-188 4h4m184 0h4m-192 4h4m92 0h4m-4 4h4m-96 8h4m-4 4h4m0 12h4m-4 4h4m92 0h4m-4 4h4m-96 4h4m172 0h4m-180 4h4m92 4h4m-96 4h4m-4 4h4m0 8h4m88 0h4m-96 4h4m88 0h4m76 4h4m-172 4h4m160 0h8m-172 4h4m88 0h4m64 0h4m8 4h4m-172 4h4m148 0h4m16 0h4m-176 4h4m168 0h4m-84 4h4m52 0h4m-148 4h4m84 0h4m-92 4h4m160 0h4m-164 8h4m84 0h4m44 0h4m16 0h4m-160 4h4m148 0h4m-152 8h4m124 4h4m8 0h4m-56 4h4m36 0h4m4 0h4m-4 4h4m-12 4h4m-124 4h4m80 0h4m28 0h4m4 0h4m-44 4h4m28 0h4m4 0h4m-124 4h4m76 0h4m28 0h4m4 0h4m-124 4h4m116 0h4m-16 4h4m-108 4h4m100 0h4m4 0h4m-116 4h4m76 0h4m-4 4h4m16 0h8m4 0h4m-112 4h4m92 0h4m8 0h4m-16 4h4m-4 4h4m4 0h4m-28 4h4m12 0h12m-28 4h4m8 0h8m4 0h4m-28 4h4m20 0h4m-28 4h4m8 0h4m8 0h4m-8 4h8m-24 4h4m4 0h4m8 0h4m-16 4h4m8 0h4m-24 4h4m4 0h4m-80 4h4m72 0h4m4 0h4m-20 4h4m-68 4h4m64 0h8m4 0h4m-84 4h4m60 0h8m-4 4h8m4 0h4m-16 4h4m8 0h4m-80 4h4m56 0h12m4 0h4m-20 4h8m8 0h4m-76 4h4m52 0h12m-8 4h4m4 0h8m-20 4h12m-12 4h4m8 0h8m-72 4h4m52 0h12m-16 4h20m-20 4h16m-16 4h4m4 0h8m-64 4h4m52 0h8m-64 4h4m44 0h4m4 0h8m-4 4h4m-16 4h4m4 0h8m-4 4h4m-16 4h4m4 0h8m-16 4h16m-16 4h4m8 0h8m-20 4h12m-8 4h4m-8 4h12m4 0h4m-16 4h4m-8 4h8m-4 4h4m12 0h4m-60 4h4m36 0h4m12 0h4m-20 4h4m12 0h4m-24 4h8m-4 4h4m16 0h4m-28 4h8m16 0h4m-60 8h4m36 0h4m16 0h4m-64 4h4m28 0h4m4 0h4m0 16h4m120 20h4m28 8h4m8 16h4"/>
<path stroke="#68acd3" stroke-width="4" d="M162 107h4m204 0h4m8 4h4m-196 4h4m4 4h8m188 0h4m-192 4h4m192 0h4m-188 4h4m-4 4h8m192 0h4m-196 4h4m-4 4h8m196 0h4m-196 4h8m188 0h4m4 4h4m-200 4h8m-4 4h8m-4 4h8m192 0h4m-200 4h8m192 0h4m-200 4h8m192 0h4m-200 4h8m-4 4h4m4 0h8m-12 4h16m-4 4h8m-4 4h8m4 4h8m168 0h4m-180 4h12m4 0h4m-12 4h4m4 0h8m4 0h4m148 0h4m-164 4h16m-4 4h4m4 0h8m-12 4h16m-4 4h8m4 0h4m124 0h4m-140 4h8m-4 4h16m120 0h4m-136 4h8m4 0h4m-4 4h8m116 0h4m-120 8h8m112 0h4m-128 4h8m-4 4h8m-12 4h8m120 0h4m-128 4h8m-4 8h4m-4 4h8m-12 4h4m0 4h4m-8 4h8m-4 4h8m-12 4h8m128 0h4m-144 4h8m-4 4h8m-12 4h8m136 0h4m-152 4h8m140 0h4m-156 4h8m-12 4h8m-12 4h8m-12 4h8m-12 4h4m-8 4h8m-12 4h8m-8 4h4m-8 4h4m-4 4h4m-8 4h8m-8 8h4m-4 8h4m192 4h4m-200 4h8m192 0h4m-200 4h4m196 4h4m-200 4h4m-4 4h4m196 0h4m-4 4h4m-200 4h4m-4 4h4m196 4h4m-200 4h4m-4 4h4m132 0h4m-136 4h4m-4 4h4m152 0h4m36 0h4m-196 4h4m-4 4h4m152 0h4m-156 4h4m0 8h4m108 0h4m-116 4h4m0 4h4m104 0h4m76 4h4m-184 8h4m0 4h4m-4 4h4m96 0h4m80 4h4m-180 4h4m92 4h4m80 0h4m-180 4h4m92 8h4m92 8h4m-188 8h4m0 12h4m88 0h4m-96 4h4m88 0h4m-92 8h4m172 0h4m-180 4h4m168 4h4m-172 4h4m88 8h4m-92 8h4m164 20h4m-164 4h4m84 0h4m64 0h4m8 4h4m-24 12h4m-144 8h4m152 0h4m-72 8h4m44 0h4m-136 4h4m80 0h4m44 0h4m8 0h4m-16 4h12m-140 4h4m80 0h4m40 0h4m-132 4h4m124 0h4m-8 4h8m-128 4h4m120 0h4m-8 4h4m-4 4h4m-4 4h4m-40 4h4m28 0h8m-116 4h4m104 0h8m-8 4h4m-8 4h12m-112 4h4m100 0h4m-32 4h4m20 0h8m-104 4h4m68 0h4m20 0h8m-104 4h4m92 0h4m-96 8h4m88 0h4m-96 4h4m84 0h8m-8 4h8m-92 4h4m64 0h4m12 0h4m-88 4h4m64 0h4m12 0h8m-24 4h4m12 0h8m-88 4h4m60 0h4m12 0h8m-24 4h4m12 0h4m-20 4h4m8 0h12m-8 4h4m-8 4h12m-8 4h4m-76 4h4m56 0h4m4 0h8m-4 4h4m-8 4h8m-4 4h4m-16 4h4m4 0h4m0 4h4m-68 4h4m56 0h4m-56 36h4m48 12h4m-52 4h4m48 0h4m-56 4h4m36 0h4m4 0h12m-20 8h4m4 0h4m4 0h4m-12 4h4m4 0h4m-56 4h4m32 0h4m-4 4h4m4 0h4m-12 4h4m4 4h4m8 0h4m-24 4h4m4 4h4m-44 4h4m28 0h4m24 8h4m0 8h4m124 24h4m-48 20h4m56 4h4m4 12h4"/>
<path stroke="#70b0d4" stroke-width="4" d="M166 107h4m196 0h4m-188 4h8m188 0h4m-188 4h4m188 0h4m-184 4h4m0 4h8m4 4h8m176 0h4m-184 4h8m180 0h4m-188 4h8m184 0h4m-192 4h8m4 4h4m-8 4h8m4 4h8m184 0h4m-192 4h8m184 0h4m-192 4h8m-4 4h8m-4 4h8m4 0h4m-12 4h8m4 4h8m172 0h4m-180 4h8m172 0h4m-180 4h8m-4 4h16m-4 4h16m4 0h4m-20 4h4m4 0h8m4 0h4m-12 4h4m4 0h8m4 0h4m-12 4h8m4 0h4m-4 4h8m128 0h4m-136 4h8m-4 4h4m4 0h8m-12 4h16m-4 4h8m-12 4h4m4 0h8m108 0h4m-116 4h8m-12 4h16m-4 4h4m-8 4h8m108 0h4m-116 4h8m-12 4h8m-4 4h8m108 0h4m-124 4h8m-4 4h8m112 0h4m-124 8h8m-8 4h12m112 0h4m-128 4h8m116 0h4m-128 8h8m-12 4h8m124 0h4m-132 4h8m-12 4h8m-12 4h8m-12 4h8m136 0h4m-152 4h8m140 0h4m-156 4h8m144 0h4m-160 4h8m-16 4h4m156 4h4m-4 4h4m-172 4h8m-12 4h8m-8 4h4m172 4h4m-184 4h8m-8 4h4m180 0h4m-188 4h8m-8 4h4m-4 4h8m-4 8h4m188 0h4m-196 4h4m0 8h4m-4 4h4m0 8h4m-4 4h4m140 4h4m48 0h4m-196 4h4m0 4h4m-4 4h4m116 0h4m68 4h4m-192 4h4m0 4h4m-4 4h4m108 0h4m-112 8h4m104 0h4m72 0h4m-184 4h4m-4 4h4m0 4h4m96 0h4m-4 8h4m80 0h4m-180 4h4m0 4h4m88 0h4m-92 8h4m0 8h4m172 0h4m-180 4h4m88 4h4m-92 4h4m-4 4h4m180 0h4m-96 4h4m68 0h4m16 0h4m-96 4h4m-92 4h4m168 16h4m-80 8h4m-4 4h4m-92 4h4m0 8h4m84 0h4m-88 12h4m-4 4h4m84 0h4m-4 4h4m-88 4h4m160 0h4m-4 4h4m-80 4h4m-88 4h4m144 0h4m12 0h4m-168 4h4m160 0h8m-8 4h4m-164 4h4m80 0h4m52 0h4m-60 4h4m52 0h4m8 4h4m-152 4h4m132 0h4m4 0h4m-12 4h8m-60 4h4m48 4h4m-132 8h4m76 0h4m-4 4h4m-80 8h4m0 8h4m72 4h4m-4 4h4m-76 4h4m72 16h4m-4 4h4m-64 24h4m0 12h4m56 4h4m-4 4h4m-60 4h4m52 0h4m-4 4h4m-4 4h4m-56 4h4m0 12h4m0 16h4m-4 4h4m0 16h4m52 28h4m-4 4h4m-4 4h4m-8 4h12m-4 4h4m-12 4h4m-4 8h4m8 0h4m-56 4h4m36 4h4m0 16h4m-4 4h4m16 0h4m-64 4h4m188 24h4m-16 24h4"/>
<path stroke="#77b3d6" stroke-width="4" d="M374 111h4m-180 4h4m180 0h4m-176 4h4m176 0h4m-176 4h4m176 0h4m-172 4h4m0 4h8m-4 4h8m172 0h4m-180 4h8m176 0h4m-180 4h4m-4 4h8m180 0h4m-180 4h8m-4 4h8m-4 4h8m172 0h4m-180 4h8m172 0h4m-180 4h4m4 0h8m164 0h4m-180 4h16m164 0h4m-172 4h8m-4 4h8m-4 4h24m-12 4h16m144 0h4m-152 4h4m4 0h8m-12 4h4m4 0h8m4 0h4m124 0h4m-140 4h4m4 0h8m-12 4h4m4 0h8m-4 4h16m-12 4h8m4 0h4m108 0h4m-116 4h8m-4 4h8m104 0h4m-112 4h8m-4 4h8m-4 4h8m100 4h4m-108 4h4m100 0h4m-108 4h8m-4 4h8m96 0h4m-112 4h8m-4 4h8m-12 4h8m-4 4h8m-12 4h8m108 0h4m-116 4h8m-8 8h8m-12 4h16m-12 4h8m-12 4h8m-4 4h8m112 0h4m-128 4h8m-12 4h16m-20 4h8m4 0h4m-20 4h16m-20 4h8m-12 4h8m4 0h4m-28 4h8m148 0h4m-164 4h16m-20 4h8m-4 4h4m156 0h4m-4 4h4m-172 4h8m-12 4h8m168 4h4m-180 4h4m-4 8h4m180 0h4m-188 8h8m180 0h4m-188 4h4m-4 4h4m-4 4h8m-4 8h4m-4 4h4m188 0h4m-192 4h4m-4 4h4m-4 4h8m128 0h4m4 0h4m-20 4h4m20 0h4m36 0h4m-72 4h4m-120 4h4m-4 4h4m0 4h4m0 8h4m-4 4h4m4 12h4m96 0h4m-100 4h4m172 0h4m-180 4h4m92 0h4m-96 4h4m4 12h4m84 0h4m0 8h4m80 0h4m-88 4h4m88 4h4m-180 4h4m176 0h4m-96 4h4m-88 12h4m176 0h4m-4 4h4m-4 4h4m-180 4h4m172 0h4m-180 4h4m84 0h4m84 0h4m-176 8h4m164 0h4m-172 4h4m0 12h4m84 8h4m-88 4h4m80 0h4m-84 12h4m156 8h4m-160 4h4m80 4h4m-4 4h4m60 0h4m-148 4h4m0 12h4m132 0h4m0 4h4m-140 8h4m76 4h4m-80 4h4m0 12h4m72 0h4m-4 4h4m-72 16h4m68 4h4m-72 4h4m64 0h4m-72 4h4m0 12h4m64 4h4m-68 4h4m60 0h4m-68 4h4m0 8h4m0 12h4m0 12h4m0 12h4m48 4h4m-4 4h4m-52 4h4m44 0h4m-4 4h4m-4 4h4m-4 4h4m-4 4h4m-4 4h4m-4 4h4m-4 4h4m-4 4h4m-44 4h4m36 0h4m-4 4h4m-4 4h4m-4 4h4m-40 8h4m0 20h4m44 8h4m-4 4h8m-8 4h8m-8 4h4m8 8h4m-4 4h4m-16 4h4m-4 4h4m12 0h4m140 48h4m-28 4h4m28 8h4"/>
<path stroke="#7eb7d8" stroke-width="4" d="M362 107h4m-176 4h8m172 0h4m-172 4h8m4 4h8m0 4h4m8 4h4m164 0h4m4 4h4m-168 4h8m-4 4h8m-4 4h8m168 0h4m-176 4h8m4 4h8m164 0h4m-172 4h8m164 0h4m-172 4h8m4 0h4m-12 4h8m4 4h8m-4 4h8m-4 4h16m4 0h4m-20 4h16m4 0h4m-4 4h16m128 0h4m-144 4h16m-4 4h16m116 0h4m-132 4h4m4 0h8m-4 4h8m4 0h4m-12 4h16m104 0h4m-112 4h8m-12 4h4m4 0h8m-4 4h8m-4 4h8m-4 4h8m92 0h4m-100 4h8m-4 4h8m88 0h4m-104 4h8m-4 4h8m-4 4h8m0 4h4m-12 4h8m92 0h4m-100 4h8m-12 4h8m96 0h4m-104 4h8m-12 4h8m-4 4h8m96 0h4m-112 4h8m-4 4h8m100 4h4m-112 4h8m100 0h4m-116 4h8m-4 4h8m-12 4h8m108 0h4m-116 4h8m-20 4h4m4 0h8m-12 4h8m4 0h4m-28 4h16m-20 4h4m4 0h8m4 0h4m112 0h4m-152 4h16m-12 4h8m4 0h4m-28 4h8m4 0h4m-16 4h4m4 0h4m-20 4h8m0 4h4m152 0h4m-168 4h8m156 0h4m-172 4h8m-8 4h4m-4 4h8m168 0h4m-180 4h4m-4 4h8m172 0h4m-180 8h4m-4 4h8m-4 4h4m180 0h4m-192 4h8m-4 4h4m-4 4h4m0 4h4m180 0h4m-60 8h4m12 0h4m-148 4h8m-4 4h4m0 8h4m104 0h4m-108 4h4m100 0h4m72 0h4m-184 4h4m100 0h4m72 0h4m-180 8h4m-4 4h4m0 4h4m140 0h4m28 0h4M390 459h4m0 8h4m84 0h4m80 0h4m-172 4h4m168 4h4m-172 4h4m80 0h4m-88 4h4m0 8h4m148 8h4m-152 4h4m80 0h4m-88 4h4m84 8h4m-88 4h4m80 0h4m0 12h4m-84 16h4m80 0h4m-4 4h4m-84 8h4m0 12h4m80 8h4m-84 4h4m76 0h4m68 4h12m-4 4h4m-160 4h4m152 4h4m-4 4h4m-156 4h4m144 0h4m-72 4h4m56 0h8m-68 4h4m-80 4h4m76 12h4m-4 4h4m-76 4h4m0 8h4m-4 4h4m68 0h4m-4 4h4m-72 4h4m68 16h4m-68 8h4m64 16h4m-4 4h4m-4 8h4m-44 56h4m-4 4h4m0 16h4m0 20h4m32 0h4m-4 4h4m-4 4h4m-4 4h4m-4 4h4m-36 4h4m0 20h4m-4 4h4m44 0h4m-8 4h12m-12 4h4m-4 4h4m-44 16h4m184 24h4m-52 12h4m60 12h4m-48 12h4"/>
<path stroke="#85bbda" stroke-width="4" d="M134 67h4m-4 8h4m-4 4h4m-4 4h4m-4 8h4m-4 4h4m-4 4h4m32 8h4m184 0h4M222 119h4m160 0h4m-164 4h8m160 0h4m-160 4h8m-4 4h8m4 4h8m-4 4h8m156 0h4m-164 4h8m4 0h4m-12 4h8m4 4h8m-4 4h8m4 0h4m-12 4h4m4 0h8m-12 4h16m-4 4h8m4 0h4m-12 4h16m4 0h4m-12 4h4m4 0h8m4 0h4m-20 4h4m4 0h8m4 0h4m120 0h4m-128 4h16m-12 4h16m-4 4h8m4 0h4m-12 4h8m4 0h4m-12 4h4m4 0h8m96 0h4m-104 4h8m4 0h4m-12 4h16m84 0h4m-100 4h8m4 0h4m-12 4h16m80 0h4m-96 4h8m-4 4h8m-4 4h8m-4 4h8m-12 4h8m-4 4h8m-4 4h8m-12 4h4m4 0h8m-12 4h8m-4 4h8m-12 4h8m-4 4h8m84 0h4m-100 4h8m4 0h4m-12 4h8m-12 4h8m92 0h4m-100 4h8m4 0h4m-20 4h16m-12 4h8m4 0h4m-20 4h8m4 0h4m-12 4h8m4 0h4m-20 4h16m-12 4h8m4 0h4m88 0h4m-112 4h8m100 0h4m-116 4h4m4 0h8m-20 4h8m4 0h4m100 0h4m-124 4h4m4 0h8m4 0h4m-36 4h16m4 0h4m4 0h4m-36 4h4m4 0h16m4 0h4m-44 4h4m4 0h16m4 0h4m4 0h4m-44 4h4m4 0h24m4 0h4m4 0h4m-52 4h8m4 0h4m4 0h4m4 0h4m4 0h4m-44 4h4m4 0h8m4 0h4m4 0h4m4 0h4m4 0h4m-40 4h4m-12 4h8m4 0h4m12 0h4m-36 4h8m160 0h4m-168 4h8m-12 4h8m164 0h4m-172 4h8m4 0h4m-20 4h8m-4 4h8m172 4h4m-180 4h4m176 4h4m-184 4h4m-4 4h4m-4 8h8m-4 4h4m0 8h4m176 0h4m-184 4h4m104 0h4m-108 4h4m0 8h4m-4 4h4m96 0h4m-4 4h4m72 0h4m-176 4h4m92 0h4m-96 4h4m88 0h4m-96 4h4m88 0h4m-92 4h4m84 0h4m-4 4h4m80 0h4m-172 4h4m0 4h4m80 4h4m56 8h4m24 0h4m-168 4h4m76 0h4m-84 4h4m80 4h4m-84 4h4m76 0h4m-84 4h4m80 8h4m-84 8h4m160 4h4m-164 8h4m-4 4h4m80 4h4m-84 4h4m76 0h4m-84 4h4m0 8h4m-4 4h4m0 8h4m-4 4h4m76 0h4m-4 4h4m-80 4h4m-4 4h4m0 8h4m-4 4h4m72 0h4m68 0h4m-148 8h4m72 0h4m60 0h4m-144 4h4m72 0h4m60 0h4m4 0h4m-12 4h8m-144 8h4m72 4h4m-76 4h4m68 0h4m-76 4h4m0 8h4m68 4h4m-68 16h4m64 8h4m-68 4h4m0 12h4m60 0h4m-4 4h4m-64 4h4m-4 4h4m0 12h4m56 4h4m-60 4h4m-4 4h4m52 0h4m-4 4h4m-56 8h4m48 0h4m-52 12h4m0 12h4m12 72h4m28 4h4m-4 4h4m-4 4h4m-4 4h4m-4 4h4m-4 4h4m-4 4h4m-4 4h4m-4 4h4m20 0h4m-28 4h4m16 0h4m-24 4h4m-4 4h4m-28 4h4m20 0h4m28 0h4m-36 4h4m16 0h4m-24 4h4m32 0h4m120 16h4m-16 16h4m20 0h4m-60 24h4"/>
<path stroke="#8dbedb" stroke-width="4" d="M134 71h4m-4 16h4m-4 16h4m36 4h4m20 4h8m4 4h8m160 0h4m-156 4h4m4 4h8m4 4h8m-4 4h8m148 0h4m-148 4h8m144 0h4m-152 4h8m-4 4h4m4 0h8m140 0h4m-156 4h16m144 0h4m-152 4h16m-12 4h4m4 0h8m-4 4h16m4 0h4m-20 4h16m4 0h4m-20 4h4m4 0h24m4 0h4m-28 4h4m4 0h16m4 0h4m104 0h4m-128 4h4m4 0h16m4 0h4m96 0h4m-128 4h4m4 0h16m4 0h4m-12 4h16m4 0h4m-20 4h16m92 0h4m-108 4h4m4 0h16m-20 4h4m4 0h8m4 0h4m-12 4h16m-12 4h4m4 0h8m-4 4h8m-12 4h4m4 0h8m-4 4h8m-12 4h8m4 0h4m-12 4h16m-12 4h8m-4 4h8m-12 4h16m68 0h4m-84 4h16m-12 4h8m72 0h4m-80 4h8m-12 4h8m-4 4h8m72 0h4m-88 4h8m4 0h4m-12 4h8m-12 4h4m4 0h8m-12 4h8m4 0h4m-20 4h16m-12 4h4m4 0h8m-12 4h8m-12 4h4m4 0h8m-20 4h4m4 0h8m80 0h4m-96 4h4m4 0h8m-12 4h8m-12 4h4m4 0h8m-20 4h16m-12 4h16m80 0h4m-112 4h4m4 0h8m4 0h4m-20 4h4m4 0h8m4 0h4m-36 4h4m4 0h4m4 0h8m4 0h4m-28 4h4m4 0h16m84 0h4m-124 4h4m4 0h4m4 0h16m88 0h4m-120 4h4m4 0h4m4 0h8m92 0h4m-148 4h4m4 0h4m4 0h4m4 0h4m4 0h16m-44 4h4m4 0h4m4 0h4m4 0h4m4 0h8m4 0h4m-60 4h4m4 0h40m-44 4h4m4 0h12m4 0h16m4 0h4m104 0h4m-160 4h32m4 0h4m-36 4h24m4 0h4m124 0h4m-164 4h16m4 0h4m-20 4h4m4 0h8m-20 4h8m4 0h4m-12 4h8m160 0h4m-176 4h8m-4 4h8m-12 4h8m-4 4h8m168 0h4m-180 4h4m-4 4h8m120 4h12m40 0h4m-180 4h4m112 0h4m-120 4h8m100 0h8m-112 4h4m100 0h4m32 0h4m-144 4h4m172 0h4m-176 4h4m92 0h4m-100 4h4m92 4h4m-96 4h4m136 0h4m28 0h4m-176 4h8m84 0h4m-88 12h4m164 0h4m-168 4h4m-4 4h4m80 4h4m80 0h4m-88 4h4m-80 4h4m160 0h4m-168 4h4m76 0h4m-80 4h4m72 0h4m-76 8h4m72 0h4m84 0h4m-28 4h4m32 8h4m-100 4h4m92 0h4m-176 4h4m-4 4h4m76 0h4m76 0h4m-84 4h4m-80 4h4m-4 4h4m76 0h4m-4 4h4m84 0h4m-4 4h4m-168 4h4m0 8h4m72 0h4m0 12h4m-4 4h4m0 16h4m-4 4h4m0 8h4m72 4h4m-8 4h12m-12 4h8m-8 4h4m-72 4h4m-76 4h4m68 0h4m0 16h4m-72 4h4m64 0h4m-68 8h4m-4 4h4m64 0h4m-4 4h4m-68 4h4m64 8h4m-68 4h4m60 4h4m-4 4h4m-64 4h4m60 12h4m-4 4h4m-60 8h4m4 24h4m48 0h4m-4 8h4m-52 4h4m44 0h4m-48 12h4m0 12h4m-4 4h4m0 16h4m-4 4h4m0 16h4m-4 4h4m0 16h4m0 20h4m-4 4h4m44 16h4m0 4h4m-8 4h12m-56 4h4m40 0h4m4 0h4m-12 4h4m8 4h4m-16 4h4m120 24h4m-36 4h4m52 0h4m-76 4h4m76 8h4m8 16h4"/>
<path stroke="#94c2dd" stroke-width="4" d="M354 107h4m-152 4h8m152 0h4m-152 4h8m4 4h8m4 4h8m140 0h4m-140 4h8m136 0h4m-144 4h16m-4 4h8m4 0h4m-12 4h8m4 0h4m-4 4h8m-4 4h8m4 0h4m-4 4h8m4 0h4m120 0h4m-136 4h16m4 0h4m-12 4h4m4 0h16m-20 4h4m4 0h16m4 0h4m-12 4h4m4 0h8m96 0h4m-112 4h4m4 0h8m-4 4h4m4 0h8m-12 4h4m4 0h8m-4 4h4m4 0h8m-12 4h16m-4 4h8m4 0h4m-20 4h4m4 0h8m72 0h4m-80 4h16m-12 4h8m68 0h4m-76 4h8m4 0h4m-12 4h8m-4 4h8m-12 4h4m4 0h8m60 0h4m-68 4h8m-12 4h8m64 0h4m-72 4h8m-4 4h8m-4 4h8m-12 4h8m-4 4h8m60 0h4m-76 4h8m4 0h4m-12 4h8m-12 4h4m4 0h8m-12 4h8m4 0h4m-12 4h8m64 0h4m-80 4h4m4 0h8m-12 4h8m-4 4h8m64 0h4m-80 4h8m-4 4h8m4 0h4m-20 4h16m-12 4h8m68 0h4m-84 4h16m-12 4h8m4 0h4m-20 4h16m-12 4h8m-20 4h4m4 0h8m-12 4h4m4 0h8m-20 4h4m4 0h8m72 0h4m-88 4h8m-12 4h8m-12 4h16m-20 4h16m80 0h4m-104 4h4m4 0h8m84 0h4m-108 4h16m-20 4h4m4 0h8m-28 4h4m4 0h16m-28 4h4m4 0h16m-36 4h4m4 0h16m4 0h4m-28 4h16m4 0h4m120 0h4m-160 4h4m4 0h8m4 0h4m136 0h4m-160 4h16m140 0h4m-164 4h8m4 0h4m148 0h4m-164 4h8m156 0h4m-172 4h8m-4 4h8m-12 4h8m164 0h4m-172 4h8m-12 4h8m108 0h8m-120 4h8m100 0h4m60 0h4m-172 8h4m92 0h4m-100 4h8m88 0h4m-96 4h4m164 0h4m-172 4h4m88 0h4m-96 4h8m84 4h4m-92 8h8m80 0h4m-88 4h8m76 0h4m-84 4h4m76 0h4m-4 4h4m52 0h4m-136 4h4m-4 4h4m72 0h4m-76 4h4m72 4h4m-76 4h4m156 0h4m0 8h4m-164 8h4m72 0h4m88 0h4m0 4h4m-172 4h4m72 0h4m-80 4h4m168 4h4m-172 4h4m-4 4h4m72 4h4m88 4h4m-168 4h4m156 0h4m-164 4h4m72 0h4m-4 4h4m-76 12h4m72 0h4m-76 8h4m-4 4h4m72 4h4m-76 4h4m68 0h4m-76 4h4m0 8h4m-4 4h4m68 0h4m-72 8h4m-4 4h4m68 0h4m-4 4h4m-72 4h4m-4 4h4m0 8h4m64 0h4m-72 4h4m64 0h4m-68 8h4m4 20h4m60 4h4m-64 4h4m-4 4h4m0 8h4m-4 4h4m0 8h4m52 0h4m-60 4h4m0 12h4m52 0h4m-4 4h4m-56 4h4m48 0h4m-56 4h4m0 12h4m0 12h4m44 8h4m-48 4h4m40 0h4m-4 8h4m-32 64h4m4 48h4m-4 4h4m44 4h4m-4 4h4m4 8h4m128 24h4m4 12h4m-20 8h4m-28 8h4m24 0h4m20 0h4"/>
<path stroke="#9cc5de" stroke-width="4" d="M178 107h4m32 4h4m8 4h4m144 0h4m-140 4h8m136 0h4m-136 4h8m4 4h8m4 4h8m-4 4h4m4 0h8m-12 4h4m4 0h8m120 0h4m-128 4h16m-12 4h4m4 0h8m4 0h4m108 0h4m-124 4h4m4 0h16m-12 4h4m4 0h8m4 0h4m-4 4h16m88 0h4m-104 4h4m4 0h8m88 0h4m-96 4h16m-12 4h16m-4 4h8m4 0h4m-12 4h8m4 4h8m68 0h4m-76 4h8m-4 4h4m4 0h8m-12 4h8m4 4h4m-8 4h8m-4 4h4m0 4h8m56 0h4m-64 4h8m-4 4h4m0 4h8m-12 4h8m-4 4h8m-4 4h8m-4 4h4m-8 4h8m-4 4h8m-12 4h4m0 4h8m-4 4h8m52 0h4m-68 4h4m4 0h4m-8 4h8m-4 4h8m-12 4h8m-4 4h8m-12 4h16m52 0h4m-68 4h4m4 0h4m-8 4h8m-12 4h16m-12 4h8m-12 4h4m4 0h8m-12 4h8m-12 4h8m4 0h4m-20 4h16m-12 4h8m60 0h4m-76 4h8m-12 4h16m-20 4h8m4 0h4m-12 4h8m-12 4h8m-12 4h8m4 0h4m-20 4h8m4 0h4m72 0h4m-96 4h16m-20 4h16m84 0h4m-108 4h16m-28 4h4m4 0h16m96 0h4m-128 4h4m4 0h16m-36 4h4m4 0h16m4 0h4m108 0h4m-140 4h16m4 0h4m-36 4h4m4 0h8m4 0h4m-20 4h16m-20 4h8m-4 4h8m-12 4h8m-4 4h8m92 0h4m4 0h12m40 0h4m-168 4h8m92 0h8m20 0h4m-128 4h4m88 0h8m28 0h4m-136 4h8m88 0h4m68 0h4m-168 4h8m76 0h8m-4 4h4m-88 4h4m76 0h8m44 0h4m-136 4h4m80 0h4m76 0h4m-84 4h4m-88 4h8m76 0h4m-84 4h4m76 4h4m80 0h4m-160 8h4m-4 4h4m156 0h4m-88 4h4m-76 4h4m128 0h4m-132 4h4m-4 4h4m128 0h4m-64 4h4m-72 4h4m-4 4h4m68 0h4m-4 4h4m-72 4h4m-4 4h4m68 0h4m-72 8h4m-4 4h4m68 0h4m-4 4h4m92 0h4m-4 8h4m-168 4h4m68 0h4m-72 12h4m-4 4h4m68 0h4m-4 4h4m-72 4h4m-4 4h4m68 0h4m-4 4h4m-72 4h4m-4 4h4m0 8h4m64 0h4m-72 4h4m64 0h4m-68 8h4m-4 4h4m64 0h4m-68 12h4m64 4h4m-4 4h4m-64 16h4m60 0h4m-64 8h4m-4 4h4m60 0h4m-4 4h4m-64 4h4m60 12h4m-4 4h4m0 16h4m-56 16h4m52 16h4m-4 4h4m-52 4h4m44 0h4m-48 12h4m0 12h4m40 8h4m-44 4h4m-4 4h4m36 0h4m-4 4h4m-4 8h4m-40 4h4m-4 4h4m0 16h4m-4 4h4m28 4h4m-4 8h4m-32 4h4m0 20h4m-4 4h4m0 24h4m48 16h4m-8 4h8m-8 4h4m152 48h4"/>
<path stroke="#a3c9e0" stroke-width="4" d="M182 107h4m164 0h4m-136 4h4m140 0h4m-136 4h4m12 4h8m4 4h8m4 4h8m4 4h8m4 4h8m108 0h4m-116 4h8m4 0h4m-4 4h16m-12 4h4m4 0h8m4 0h4m-4 4h16m-12 4h4m4 0h8m4 0h4m80 0h4m-88 4h8m4 0h4m-12 4h8m4 4h8m-4 4h8m-4 4h4m4 0h8m-12 4h16m-4 4h8m4 0h4m-12 4h8m4 4h8m-12 4h8m0 4h4m-4 4h8m-4 4h8m-4 4h8m-4 4h8m-8 4h4m0 8h8m-4 4h8m44 0h4m-52 8h4m48 0h4m-56 4h8m-4 4h4m-8 4h8m-4 4h8m-4 8h4m-4 4h8m-4 4h8m44 0h4m-60 4h8m-4 4h8m-4 8h4m-4 4h8m-4 4h4m-8 4h8m48 0h4m-56 4h8m-12 4h8m-12 4h4m-4 8h8m-12 4h8m-4 4h8m-20 4h4m4 0h8m-12 4h12m-16 4h8m-12 4h4m4 0h8m-20 4h4m4 0h8m-12 4h8m4 0h4m60 0h4m-84 4h8m-12 4h8m4 0h4m-20 4h16m-20 4h16m-28 4h4m4 0h16m-28 4h4m4 0h16m-36 4h4m4 0h16m4 0h4m-28 4h16m4 0h4m-36 4h16m4 0h4m128 0h4m-152 4h8m4 0h4m84 0h4m44 0h4m-156 4h8m76 0h4m4 0h4m4 0h12m-108 4h8m68 0h16m4 0h4m12 0h4m-120 4h8m76 0h8m64 0h4m-160 4h4m4 0h4m68 0h8m-88 4h8m76 0h4m-84 4h8m148 0h4m-164 4h8m68 0h8m-80 4h8m-8 4h4m72 0h4m-80 4h8m68 0h4m80 0h4m-160 8h4m68 0h8m-80 4h4m0 4h4m68 0h4m80 0h4m-88 4h4m-72 4h4m64 0h4m-72 4h4m64 0h4m84 0h4m-156 4h4m64 4h4m84 0h4m-156 4h4m60 0h4m84 0h4m-156 4h4m64 4h4m84 0h4m-156 4h4m60 0h4m84 0h4m-156 4h4m152 0h4m-156 8h4m64 4h4m-4 4h4m76 0h4M422 515h4m64 0h4m92 0h4m-168 4h4m64 0h4m-68 8h4m64 0h4m-72 4h4m64 0h4m-68 12h4m68 16h4m-4 4h4m0 20h4m0 8h4m-68 4h4m60 0h4m-64 12h4m-4 4h4m60 0h4m-4 4h4m-64 4h4m60 8h4m-60 12h4m56 4h4m-4 4h4m-60 4h4m0 12h4m52 0h4m-4 4h4m-56 4h4m-4 4h4m52 8h4m-56 4h4m48 0h4m-52 8h4m-4 4h4m0 12h4m44 8h4m-48 4h4m44 40h4m-40 4h4m32 4h4m-4 4h4m-4 8h4m-4 8h4m-4 12h4m-32 4h4m24 4h4m-4 4h4m-4 8h4m-24 32h4m48 28h4m128 20h4m-16 8h4m16 4h4m-20 4h4m20 8h4m4 12h4"/>
<path stroke="#aacde1" stroke-width="4" d="M130 79h4m-4 16h4m88 16h8m4 4h8m12 4h8m4 4h8m4 4h8m4 0h4m-4 4h16m-4 4h16m-12 4h4m4 0h16m-4 4h16m-12 4h4m4 0h16m-4 4h16m-12 4h4m4 0h8m-4 4h4m4 0h8m-12 4h16m-4 4h8m4 0h4m-12 4h8m4 0h4m-4 4h8m-4 4h8m52 0h4m-60 4h4m4 0h8m-12 4h16m-4 4h4m44 0h4m-56 4h8m-4 4h8m44 0h4m-52 4h8m-4 4h8m-4 4h8m-4 4h8m-12 4h8m-4 4h8m-4 4h8m-4 4h8m-12 4h8m-4 4h8m-4 8h4m-4 4h8m-4 4h8m-12 4h8m-4 4h8m-4 4h8m-4 4h8m-12 4h8m-4 4h8m-12 4h8m-4 4h8m-4 8h4m-4 4h8m-4 4h8m36 0h4m-52 4h8m-12 4h8m-12 4h8m-4 4h8m-12 4h8m-4 4h8m-12 4h8m-8 4h4m4 0h4m-20 4h16m-12 4h8m-12 4h8m-12 4h4m4 0h8m-20 4h16m-20 4h4m4 0h8m4 0h4m56 0h4m-80 4h8m4 0h4m-20 4h16m68 0h4m-92 4h16m-20 4h16m4 0h4m4 0h4m-44 4h4m4 0h16m4 0h4m4 0h4m72 0h4m-120 4h4m4 0h24m4 0h4m4 0h4m4 0h4m4 0h4m56 0h4m-136 4h4m4 0h24m4 0h4m4 0h4m4 0h4m4 0h4m4 0h4m4 0h4m4 0h4m-92 4h4m4 0h32m4 0h12m4 0h32m4 0h8m-108 4h16m4 0h4m4 0h4m12 0h4m4 0h4m4 0h4m4 0h8m4 0h4m4 0h4m12 0h8m-108 4h16m4 0h4m4 0h4m4 0h4m4 0h4m4 0h16m40 0h4m-116 4h8m44 0h4m4 0h16m-80 4h4m4 0h8m44 0h4m4 0h8m-72 4h8m52 0h4m4 0h8m-68 4h4m44 0h4m4 0h8m-72 4h8m56 0h4m-4 4h8m-72 4h8m60 0h4m-8 4h8m-72 4h8m60 0h8m80 0h4m-156 4h4m-4 4h4m64 0h4m-68 4h4m60 0h4m-68 4h4m60 4h4m-64 4h4m0 4h4m56 0h4m-64 4h4m56 0h4m-60 8h4m56 0h4m-64 4h4m56 0h4m-60 8h4m-4 4h4m60 0h4m88 0h4m-96 4h4m68 0h4m20 0h4m-164 4h4m160 0h4m-164 8h4m60 0h4m-68 4h4m60 0h4m-64 8h4m-4 4h4m152 0h4m-96 4h4m-64 8h4m60 0h4m-68 4h4m60 0h4m0 8h4m-68 4h4m60 0h4m-68 4h4m0 8h4m-4 4h4m60 0h4m-4 4h4m-64 4h4m-4 4h4m60 0h4m-64 8h4m-4 4h4m0 8h4m56 0h4m-64 4h4m56 0h4m-60 8h4m-4 4h4m56 4h4m-60 4h4m52 0h4m-60 4h4m56 4h4m-60 4h4m52 0h4m-56 12h4m52 4h4m-4 4h4m-56 4h4m52 12h4m-4 4h4m-52 8h4m48 8h4m-4 4h4m-48 12h4m0 12h4m40 4h4m-44 8h4m-4 4h4m0 12h4m0 16h4m32 16h4m-36 4h4m-4 4h4m28 0h4m-4 8h4m-32 8h4m24 16h4m-28 4h4m-4 4h4m20 0h4m-4 4h4m-4 8h4m-4 8h4m-24 4h4m16 4h4m-20 24h4m-4 4h4m172 16h4m-52 8h4m52 4h4m-8 20h4m16 4h4m-20 4h4"/>
<path stroke="#b2d0e2" stroke-width="4" d="M130 67h4m-4 4h4m-4 4h4m-4 8h4m-4 4h4m-4 4h4m-4 8h4m-4 4h4m52 4h4m40 4h8m4 4h8m12 4h8m4 4h8m4 4h4m4 0h8m92 0h4m-92 4h8m88 0h4m-88 4h16m-4 4h8m4 4h8m4 0h4m64 0h4m-72 4h8m4 4h8m60 0h4m-68 4h8m4 4h8m-4 4h8m-4 4h4m0 4h4m4 0h4m0 4h8m44 0h4m-52 4h8m8 12h4m-4 4h8m-4 4h8m-4 4h8m-4 4h4m0 12h8m-4 4h8m32 0h4m-40 12h8m-4 4h4m-8 4h8m-4 4h8m-4 4h4m36 0h4m-40 4h4m-8 4h8m-4 4h8m-4 4h4m-4 8h8m-4 4h4m-8 4h8m-4 4h8m32 0h4m-48 4h12m-8 4h8m-4 4h4m-4 8h8m-12 4h8m-12 4h8m-4 4h8m-12 4h8m-4 4h8m-12 4h8m-12 4h4m4 0h4m-12 8h8m-12 4h8m-4 4h8m-12 4h8m-12 4h4m4 0h8m-20 4h4m4 0h8m-12 4h16m-20 4h16m-20 4h4m4 0h4m4 0h16m4 0h4m40 0h4m-88 4h4m4 0h4m4 0h24m4 0h4m-44 4h4m4 0h4m4 0h4m4 0h4m4 0h16m-60 4h4m4 0h4m4 0h4m4 0h4m4 0h4m4 0h4m4 0h4m4 0h8m-60 4h4m12 0h4m-48 4h4m4 0h4m4 0h12m4 0h4m4 0h4m4 0h4m76 0h4m-128 4h4m4 0h4m4 0h4m4 0h4m4 0h4m-48 4h44m4 0h4m-48 4h16m4 0h24m4 0h4m84 0h4m-144 4h8m4 0h4m4 0h4m4 0h4m4 0h4m4 0h8m4 0h4m-64 4h4m4 0h8m4 0h4m12 0h4m4 0h8m4 0h4m-56 4h8m36 0h4m4 0h4m88 0h4m-152 4h8m44 0h8m-56 4h8m44 0h8m-64 4h8m44 0h8m64 0h4m-124 4h4m52 0h4m-60 4h4m52 0h8m84 0h4m-152 4h8m52 0h4m60 0h4m20 0h4m-148 4h4m52 0h4m-60 4h4m52 0h8m84 0h4m-152 4h8m140 0h4m-148 4h4m52 0h4m-4 4h4m88 0h4m-148 4h4m140 0h4m-148 4h4m52 0h4m-4 4h4m88 0h4m-148 4h4m140 0h4m-148 4h4m124 0h4m-72 4h4m-4 4h4m-60 4h4m-4 4h4m56 0h4m-64 4h4m56 0h4m96 0h4m-4 4h4m-160 4h4m152 0h4m-160 4h4m56 0h4m88 0h4m-92 8h4m-64 8h4m56 4h4m-60 8h4m56 0h4m-64 4h4m56 0h4m-60 8h4m56 0h4m-64 4h4m56 0h4m-60 8h4m-4 4h4m56 4h4m-60 8h4m56 4h4m-60 4h4m52 0h4m-56 16h4m52 0h4m-4 4h4m-52 20h4m0 8h4m48 0h4m-56 4h4m48 0h4m-52 8h4m-4 4h4m48 4h4m-52 4h4m44 0h4m-52 4h4m0 8h4m-4 4h4m44 0h4m-4 4h4m-48 4h4m-4 4h4m0 8h4m40 0h4m-48 4h4m40 0h4m-44 8h4m-4 4h4m40 12h4m-4 4h4m-40 12h4m0 16h4m0 16h4m-4 4h4m0 20h4m24 36h4m-24 8h4m16 0h4m-24 4h4m16 4h4m-4 8h4m-4 4h4m-4 4h4m-20 4h4m12 0h4m-20 4h4m12 0h4m-4 4h4m-4 4h4m144 20h4m8 0h4m0 4h4m4 12h4m0 4h4m-48 8h4m44 0h4"/>
<path stroke="#bad3e3" stroke-width="4" d="M190 107h4m56 8h8m112 0h4m-104 4h8m4 4h8m4 0h4m88 0h4m-88 4h8m4 4h8m12 4h8m-4 4h8m4 4h4m4 0h4m0 4h8m8 8h8m8 8h4m0 4h8m0 4h4m44 0h4m-44 4h4m0 4h4m0 4h8m-4 4h4m0 4h4m8 16h4m32 0h4m-40 4h4m0 4h4m32 0h4m-36 12h8m-4 4h4m0 8h4m-4 4h4m0 4h4m-4 4h4m0 4h4m32 8h4m-36 4h4m-4 4h4m0 8h4m-4 4h4m0 8h4m-4 4h4m-4 4h4m-4 4h8m-8 8h4m-8 4h8m32 0h4m-44 8h4m-4 8h4m-4 4h4m-12 4h12m-8 4h8m-12 4h8m-4 4h8m-12 4h8m-4 4h8m-12 4h8m-4 4h8m4 0h4m-20 4h16m-4 4h4m4 0h4m-8 4h4m8 4h8m28 0h4m-36 4h8m28 0h4m-36 4h4m32 8h4m-32 4h4m-92 4h4m-16 4h4m4 0h4m4 0h4m4 0h4m4 0h4m68 0h4m24 0h4m-132 4h4m4 0h12m4 0h4m-32 4h8m4 0h4m4 0h4m4 0h8m4 0h4m64 0h4m-116 4h16m4 0h4m4 0h4m4 0h8m96 0h4m-136 4h4m20 0h4m4 0h8m-48 4h8m28 0h4m-40 4h4m44 0h4m-52 4h8m36 0h8m-48 4h4m40 0h8m-52 4h4m44 0h4m88 0h4m-144 4h8m-4 4h4m40 0h8m-52 4h4m44 0h4m-52 4h8m132 0h4m-92 4h4m-52 4h4m44 0h4m88 0h4m-144 4h4m48 4h4m-52 4h4m48 0h4m-56 4h4m48 0h4m88 0h4m-148 4h4m52 4h4m-4 4h4m-56 4h4m-4 4h4m52 0h4m-4 4h4m96 4h4m-100 4h4m92 0h4m-156 4h4m52 0h4m-60 4h4m56 4h4m-60 4h4m-4 4h4m0 8h4m-4 4h4m52 0h4m-56 8h4m52 4h4m-4 4h4m-56 8h4m-4 4h4m52 0h4m-4 4h4m-4 4h4m-56 8h4m52 0h4m-4 4h4m-56 4h4m0 12h4m48 0h4m-56 4h4m48 0h4m-52 8h4m48 0h4m-4 4h4m0 16h4m-4 4h4m0 16h4m-48 4h4m40 0h4m0 16h4m0 20h4m-4 4h4m-40 12h4m-4 4h4m0 8h4m32 0h4m-40 4h4m32 0h4m-36 16h4m4 40h4m0 20h4m-4 4h4m0 20h4m172 76h4m8 0h4m-12 8h4m12 4h4m-12 8h4"/>
<path stroke="#c1d7e4" stroke-width="4" d="M238 111h8m112 0h4m-104 4h8m12 4h8m92 0h4m-92 4h4m4 0h8m4 4h8m4 0h4m-4 4h8m12 4h8m-4 4h8m60 0h4m-56 4h4m4 4h4m0 4h8m8 8h8m0 4h4m4 4h4m0 4h8m0 4h4m0 4h4m4 8h4m0 4h4m-4 4h8m-4 4h8m-4 4h4m0 8h4m0 4h4m-4 4h4m0 4h4m0 8h4m-4 4h4m0 8h4m28 0h4m-32 4h4m-4 4h4m-4 8h8m-4 4h4m0 8h4m-4 4h4m28 0h4m-32 8h4m-4 4h4m0 8h4m-4 4h4m-4 8h4m28 0h4m-36 4h4m28 0h4m-40 8h4m-4 4h4m-4 4h4m28 0h4m-36 4h4m28 0h4m-36 4h4m-4 4h4m-4 4h4m-8 4h8m-8 8h8m-4 4h4m-8 4h8m36 0h4m-44 4h4m0 4h8m32 0h4m-36 4h4m-4 4h8m8 16h4m-92 24h4m4 0h4m4 0h4m-16 4h4m4 0h4m4 0h4m-32 4h4m4 0h20m4 0h4m100 0h4m-136 4h16m4 0h8m4 0h4m96 0h4m-140 4h8m4 0h4m12 0h4m4 0h8m-40 4h8m20 0h8m-36 4h4m32 0h4m-40 4h8m28 0h8m-4 4h8m88 0h4m-136 4h4m-4 4h4m132 0h4m-100 4h8m-48 4h4m40 0h4m-44 8h4m40 0h4m88 0h4m-140 4h4m40 0h4m0 4h4m88 0h4m-140 4h4m132 0h4m-92 4h4m92 0h4m-148 4h4m44 0h4m96 0h4m-152 4h4m48 4h4m96 0h4m-152 8h4m-4 4h4m48 0h4m-56 4h4m48 0h4m-52 8h4m48 0h4m-56 4h4m48 0h4m-52 8h4m48 0h4m-56 4h4m48 0h4m0 12h4m-4 4h4m-56 4h4m0 8h4m48 0h4m-4 4h4m-52 8h4m-4 4h4m48 4h4m-52 4h4m-4 4h4m48 4h4m-52 4h4m44 0h4m-52 4h4m0 8h4m-4 4h4m44 0h4m-48 8h4m-4 4h4m44 0h4m-4 4h4m-48 4h4m-4 4h4m0 8h4m40 0h4m-48 4h4m40 0h4m-44 8h4m0 12h4m-4 4h4m0 8h4m36 0h4m-44 4h4m0 8h4m-4 4h4m0 12h4m36 24h4m-36 4h4m-4 4h4m0 16h4m-4 4h4m0 20h4m0 16h4m-4 4h4m16 0h4m-20 24h4m0 28h4m-4 4h4m168 32h4m-52 4h4m40 0h4m-4 4h4m0 4h4m4 0h4m-8 8h4m4 0h4m0 4h4m-12 4h4m12 8h4m-12 4h4m8 0h4"/>
<path stroke="#c8dae6" stroke-width="4" d="M194 107h4m148 0h4m-104 4h4m16 4h8m12 4h8m12 4h8m4 4h4m4 0h8m-4 4h8m12 4h4m0 4h8m4 4h8m0 4h4m4 4h4m0 4h8m4 4h4m0 4h8m0 4h4m36 0h4m-32 8h4m0 4h4m0 4h4m0 4h4m28 0h4m-32 4h4m4 12h4m-4 4h8m-4 4h4m0 8h4m0 4h4m-4 4h4m0 8h4m-4 4h4m4 12h4m-4 4h4m24 0h4m-28 8h4m-4 4h4m0 8h4m-4 4h4m0 8h4m-4 4h4m24 0h4m-28 8h4m-4 4h4m-4 4h4m-8 8h4m-4 4h4m24 4h4m-32 4h4m-4 8h4m24 0h4m-32 8h4m-8 8h8m28 4h4m-36 4h4m-4 4h4m0 4h8m-4 4h4m0 4h4m0 4h4m24 0h4m-28 4h4m0 8h4m24 0h4m0 12h4m0 12h4M430 431h4m-16 4h4m4 0h12m4 0h4m100 0h4m-128 4h20m104 0h4m-132 4h8m4 0h4m4 0h4m4 0h4m96 0h4m-128 4h8m4 0h4m4 0h8m96 0h4m-132 4h8m20 0h4m-28 4h8m20 0h8m92 0h4m-132 4h4m28 0h8m88 0h4m-132 4h8m-8 4h4m128 0h4m-136 4h8m28 0h8m-4 4h4m-40 4h4m128 0h4m-136 4h4m40 4h4m-48 4h4m40 0h4m92 0h4m-140 8h4m128 0h4m12 0h4m-152 4h4m40 0h4m-48 4h4m44 0h4m92 0h4m-100 4h4m96 0h4m-148 8h4m-4 4h4m44 0h4m-4 4h4m-48 8h4m44 0h4m-4 4h4m0 8h4m-52 4h4m44 0h4m-52 4h4m0 8h4m44 0h4m-52 4h4m44 0h4m-48 8h4m-4 4h4m44 0h4m-4 4h4m-48 4h4m-4 4h4m44 4h4m-48 4h4m44 12h4m-48 4h4m40 0h4m0 12h4m-4 4h4m-44 8h4m40 4h4m-4 4h4m-40 16h4m36 0h4m0 12h4m-4 4h4m-40 8h4m36 8h4m-36 20h4m32 0h4m-4 4h4m-36 8h4m-4 4h4m32 16h4m-28 40h4m20 16h4m-4 4h4m-4 8h4m-4 4h4m-20 8h4m12 0h4m-20 4h4m0 24h4m-4 4h4m0 24h4m160 16h4m0 4h4m-4 4h8m-4 4h4m-4 4h8m-4 4h4m-4 4h4m-40 4h4m36 0h8m-8 4h12m-8 4h8m0 4h4"/>
<path stroke="#cfdee8" stroke-width="4" d="M250 111h4m40 8h8m12 4h8m16 8h8m8 4h4m4 4h8m8 8h4m44 0h4m-44 4h4m4 4h4m4 4h4m40 4h4m-36 4h4m0 4h4m4 4h4m0 4h4m8 16h4m0 4h4m4 16h4m4 16h4m24 4h4m-28 4h4m-4 4h4m4 16h4m0 12h4m0 8h4m-4 4h4m0 12h4m-4 16h4m-4 4h4m-8 8h4m-4 8h4m-4 8h4m24 0h4m-32 8h4m-4 8h4m0 8h4m4 8h4m0 4h4m0 4h4m0 4h4m-4 4h4m24 8h4m0 12h4m0 12h4M426 443h4m4 0h4m4 0h4m-16 4h4m4 0h4m-16 4h8m4 0h8m4 0h4m76 0h4m-104 4h8m4 0h8m-24 4h8m12 0h8m80 0h4m-108 4h8m12 0h8m-32 4h8m20 0h8m-32 4h4m120 0h4m-132 4h8m108 0h4m-116 4h4m28 0h4m-36 4h4m28 0h8m88 0h4m-132 4h4m32 0h4m80 0h4m-124 4h4m-4 4h8m32 0h4m96 0h4m-100 4h4m-44 4h4m132 0h4m4 4h4m-148 4h4m36 0h4m-44 4h4m40 0h4m-4 4h4m-44 4h4m-4 4h4m-4 4h4m0 4h4m36 0h4m-44 8h4m40 0h4m-48 4h4m0 8h4m40 0h4m-48 4h4m40 0h4m-44 8h4m-4 4h4m40 0h4m-4 4h4m-44 8h4m40 4h4m-4 4h4m0 8h4m-48 4h4m40 0h4m-44 8h4m40 8h4m-44 4h4m36 0h4m-44 4h4m0 8h4m36 0h4m-40 12h4m-4 4h4m36 0h4m-4 4h4m-40 4h4m36 8h4m-40 4h4m-4 4h4m0 8h4m32 0h4m-36 12h4m-4 4h4m32 0h4m-36 12h4m4 28h4m-4 4h4m28 8h4m-32 8h4m-4 4h4m0 20h4m20 16h4m-24 4h4m0 16h4m-4 4h4m12 0h4m-4 8h4m-4 4h4m-4 4h4m-4 4h4m-16 4h4m8 0h4m-16 4h4m8 0h4m-4 4h4m-4 4h4m-4 4h4m-4 4h4m-12 8h4m4 0h4m-12 4h4m176 44h4m4 16h4"/>
<path stroke="#d6e2eb" stroke-width="4" d="M198 107h4m52 4h4m16 4h16m12 4h8m24 8h8m4 4h4m8 4h4m44 0h4m-36 8h4m4 4h4m4 4h4m4 4h4m36 0h4m-32 8h4m4 4h4m0 4h4m8 12h4m0 4h4m0 4h4m24 4h4m-20 16h4m0 8h4m0 8h4m20 0h4m-20 20h4m0 8h4m0 12h4m24 12h4m-24 12h4m0 12h4m-4 4h4m-4 4h4m-8 8h4m-4 4h4m-4 4h4m-4 4h4m-4 4h4m-4 4h4m-4 4h4m20 0h4m-28 4h4m20 0h4m-28 4h4m-4 4h4m-4 4h4m0 4h4m16 36h4m0 8h4m0 8h4m20 8h4m-24 4h4m16 0h4m-4 4h4m-4 4h4m-20 4h4m-96 12h4m108 0h4m-112 4h4m104 0h4m-116 4h12m-8 4h12m100 0h4m-120 4h8m4 0h8m96 0h4m-120 4h4m4 0h4m4 0h8m-24 4h4m16 0h8m92 0h4m-124 4h4m20 0h4m92 4h4m-124 4h4m24 0h4m92 0h4m-128 4h4m28 0h4m-4 4h4m96 0h4m-136 4h4m32 0h4m100 0h4m-108 4h4m-40 4h4m36 0h4m-40 8h4m-4 4h4m32 0h4m0 4h4m-40 4h4m32 0h4m0 4h4m-44 8h4m36 4h4m-40 4h4m36 0h4m-44 4h4m36 0h4m-4 4h4m-40 4h4m36 4h4m-4 4h4m-40 8h4m-4 4h4m36 0h4m-4 4h4m-40 8h4m-4 4h4m36 0h4m-4 4h4m-40 4h4m-4 4h4m36 0h4m-4 4h4m-40 4h4m-4 4h4m36 8h4m-40 4h4m32 0h4m0 8h4m-4 4h4m-36 12h4m36 16h4m0 16h4m0 16h4m-36 4h4m0 12h4m-4 4h4m0 12h4m0 16h4m-4 4h4m24 0h4m-4 8h4m-28 16h4m20 16h4m-24 4h4m0 16h4m0 24h4m-4 4h4m0 24h4m-4 4h4m4 0h4m-4 8h4m-4 4h4m224 4h4m4 0h4"/>
<path stroke="#dde6ed" stroke-width="4" d="M126 67h4m-4 4h4m-4 4h4m-4 4h4m-4 4h4m-4 4h4m-4 4h4m-4 4h4m-4 4h4m-4 4h4m128 8h4m104 4h4m-60 4h8m4 4h8m20 8h4m44 0h4m-40 4h4m4 4h4m4 4h4m12 8h4m8 8h4m32 0h4m0 36h4m0 8h4m4 12h4m0 8h4m0 8h4m-4 4h4m0 8h4m0 8h4m0 12h4m20 4h4m-24 4h4m-4 4h4m0 8h4m-4 4h4m0 8h4m-4 4h4m-4 60h4m0 8h4m12 20h4m16 0h4m0 12h4m0 12h4m0 28h4m-4 4h4m-12 4h4m0 8h4m4 4h4m-8 4h8m-108 4h4m92 0h4m-104 4h4m4 0h4m96 0h4m-112 4h4m4 0h8m-16 4h8m4 0h8m96 0h4m-124 4h8m12 0h8m-24 4h8m12 0h4m-24 4h4m20 0h4m92 0h8m-128 4h4m116 0h4m-124 4h4m128 0h4m-136 4h4m24 0h4m104 0h4m-140 4h4m28 0h4m-36 4h4m28 0h4m0 4h4m-36 4h4m-4 4h4m28 4h4m-36 4h4m32 0h4m-4 4h4m-36 4h4m32 0h4m-40 4h4m0 8h4m-4 4h4m32 4h4m-40 4h4m0 8h4m32 0h4m-4 4h4m-36 8h4m-4 4h4m32 0h4m-36 8h4m-4 4h4m32 4h4m-36 4h4m28 0h4m0 8h4m-4 4h4m-36 8h4m0 12h4m-4 4h4m32 4h4m0 12h4m-36 4h4m28 0h4m-36 4h4m32 8h4m-36 4h4m0 8h4m-4 4h4m0 12h4m28 4h4m0 16h4m-32 8h4m28 28h4m-4 8h4m-4 4h4m-28 4h4m20 4h4m-8 28h4m-16 4h4m8 4h4m-12 16h4m-4 4h4m0 20h4m-4 4h4m-4 4h8m-4 8h4m-4 8h4m-4 4h4m224 4h4m4 0h4"/>
<path stroke="#e4ebf0" stroke-width="4" d="M202 107h4m148 4h4m-68 4h8m32 8h8m4 4h8m4 4h4m8 4h4m4 4h4m40 4h4m-36 4h4m12 8h4m4 4h4m0 4h4m8 8h4m0 4h4m0 4h4m0 4h4m8 16h4m20 4h4m-24 4h4m4 12h4m16 0h4m-16 20h4m0 8h4m0 12h4m4 20h4m0 36h4m-4 4h4m0 44h4m0 4h4m16 0h4m-24 4h4m0 4h4m16 0h4m-20 4h4m0 12h4m-4 4h4m4 16h4m0 12h4m0 12h8m-4 4h4m-4 8h4m8 0h4m-4 4h4m4 20h4m-112 4h4m0 4h4m96 0h8m-112 4h12m-8 4h12m96 0h4m-116 4h8m4 0h8m92 0h4m-116 4h4m4 0h4m4 0h8m96 0h4m-124 4h4m16 0h8m96 0h4m-128 4h4m-4 4h4m20 0h4m-28 4h4m20 0h4m-28 4h4m24 0h4m-4 4h4m-28 4h4m20 0h8m-32 4h4m-4 4h4m-4 4h4m24 0h4m0 4h4m-32 4h4m-4 4h4m28 0h4m-4 4h4m-32 8h4m24 0h4m-32 4h4m28 0h4m-36 4h4m28 0h4m-4 4h4m-32 4h4m-4 4h4m28 0h4m-4 4h4m-32 4h4m-4 4h4m28 0h4m-4 4h4m-32 16h4m0 12h4m28 0h4m0 12h4m-4 4h4m-32 12h4m28 0h4m-28 24h4m28 4h4m0 12h4m-32 8h4m0 12h4m-4 4h4m28 12h4m-28 20h4m0 24h4m20 4h4m-4 8h4m-4 4h4m-4 4h4m-24 4h4m0 12h4m8 4h4m-4 8h4m-12 4h4m4 0h4m-12 4h4m4 0h4m-4 4h4m-4 8h4m-8 4h8m-8 4h8m-8 4h8m-4 4h4m-4 4h4m-4 8h4m-4 8h4m108 24h4m16 24h4"/>
<path stroke="#ebeff2" stroke-width="4" d="M262 111h4m32 4h8m12 4h8m64 8h4m-36 4h4m8 4h4m8 8h4m4 4h4m4 4h4m20 16h4m4 4h4m28 12h4m-24 4h4m0 4h4m4 12h4m0 8h4m4 16h4m0 8h4m20 12h4m-20 8h4m0 8h4m-4 4h4m0 8h4m0 12h4m-4 4h4m16 4h4m-20 8h4m-4 4h4m-4 4h4m-8 16h4m-4 8h4m-4 8h4m-4 8h4m-4 4h4m20 4h4m8 24h4m-16 8h4m12 0h4m-20 8h4m-4 4h8m0 12h4m12 0h4m-20 4h4m0 4h4m-4 4h4m-4 4h4m8 0h4m-4 8h4m-4 4h4m-4 4h4m-8 4h4m4 4h4m-4 4h4m0 8h4m0 8h4m-4 8h4m-104 8h4m-8 4h4m4 0h4m-12 4h4m4 0h8m-16 4h8m4 0h8m-20 4h4m12 0h4m-20 4h8m-8 4h4m16 0h4m-24 4h8m12 0h4m-20 8h4m16 0h4m0 4h4m-28 4h4m-4 4h4m20 4h8m-28 4h4m20 0h4m-28 4h4m-4 4h4m24 0h4m-28 4h4m-4 8h4m20 0h4m-28 4h4m24 4h4m-28 4h4m-4 4h4m24 4h4m-28 4h4m20 0h4m-28 8h4m24 0h4m-32 4h4m24 0h4m0 8h4m-4 4h4m-32 4h4m28 8h4m0 16h4m0 12h4m0 12h4m-32 4h4m12 56h4m0 16h4m0 24h4m0 24h4m0 12h4m8 0h4m-12 12h4m-4 4h8m-4 8h4m-4 4h4m-4 4h8m-8 4h4"/>
<path stroke="#f1f3f5" stroke-width="4" d="M206 107h4m132 0h4m-80 4h4m68 12h4m40 0h4m-36 4h4m32 16h4m16 12h4m8 8h4m4 4h4m4 8h4m12 20h4m4 12h4m16 4h4m-20 4h4m0 8h4m4 20h4m0 8h4m4 20h4m4 28h4m-4 16h4m-8 8h4m-4 8h4m-4 8h4m-4 8h4m16 4h4m-20 8h4m4 12h4m8 24h4m16 8h4m-20 4h4m0 4h4m12 12h4m-4 4h4m-12 4h4m0 4h8m-12 8h8m0 8h4m-8 4h4m0 4h4m-4 4h4m0 4h4m-4 4h4m0 4h4M450 499h4m0 4h4m-8 4h12m-8 4h12m-16 4h16m-12 4h12m-16 4h8m4 0h8m-16 4h8m4 0h4m-20 4h8m4 0h4m4 0h4m-20 4h8m4 0h8m-20 4h4m12 0h8m-24 4h8m4 0h4m-12 8h4m12 0h8m-4 4h4m-4 4h4m-24 4h8m12 0h8m-24 4h4m-4 4h4m16 0h4m-24 4h8m12 0h4m0 4h4m-24 4h4m16 0h4m-24 4h4m16 0h4m-24 8h4m20 0h4m-4 4h4m-24 4h4m-4 4h4m20 0h4m-28 4h4m20 0h4m-28 4h4m24 4h4m-4 4h4m-28 8h4m24 0h4m-32 4h4m24 0h4m-28 12h4m24 0h4m-28 12h4m24 0h4m0 12h4m-28 8h4m-4 4h4m24 0h4m-28 12h4m24 0h4m-28 8h4m-4 4h4m24 4h4m-28 12h4m24 8h4m-4 4h4m-28 4h4m0 24h4m16 36h4m-12 8h8m-8 4h8m-4 4h4m-4 8h4"/>
<path stroke="#f6f5f5" stroke-width="4" d="M306 115h8m12 4h4m32 12h4m12 8h4m48 12h4m-20 8h4m20 20h4m0 4h4m24 48h4m0 8h4m12 0h4m4 20h4m-12 24h4m0 12h4m12 24h4m-20 36h4m0 8h4m20 44h4m0 8h4m-4 4h4m8 0h4m-12 4h4m-4 4h8m-4 4h4m-4 8h4m-80 84h4m0 4h4m-8 4h4m4 0h4m-8 4h4m-8 4h12m-8 4h4m4 0h4m-16 4h20m-16 4h12m-16 4h20m-16 4h16m-8 4h8m-12 4h16m-16 4h8m4 0h4m-12 4h12m-16 4h8m4 0h8m-16 4h16m-16 4h4m4 0h8m-16 4h8m4 0h8m-20 4h4m4 0h4m4 0h4m-20 4h8m4 0h8m-4 4h8m-20 4h4m12 0h4m0 8h4m-4 4h4m-24 4h4m20 8h4m0 8h4m-28 4h4m0 12h4m24 8h4m-28 4h4m4 24h4m4 24h4m20 0h4m-28 4h4m0 16h4m0 20h4m-4 4h4m0 24h4m-4 4h4m0 12h4m0 4h8"/>
<path stroke="#f8f2ed" stroke-width="4" d="M210 107h4m4 0h4m48 4h4m56 8h4m40 0h4m-36 4h4m64 16h4m-20 8h4m4 4h4m52 28h4m-16 8h4m16 4h4m-16 8h4m24 60h4m4 20h4m12 4h4m0 16h4m-20 52h4m12 32h4m16 12h4m-16 4h4m12 8h4m-12 4h4m4 0h4m-8 4h8m-8 4h8m-4 4h4M466 563h4m4 8h4m-4 8h4m-4 8h4m0 4h4m-8 4h4m4 0h4m-8 4h4m-8 4h12m0 4h4m0 4h4m-4 4h4m0 8h4m-24 4h4m20 0h4m-24 12h4m20 4h4m0 8h4m-4 4h4m-24 8h4m0 12h4m20 0h4m-24 12h4m20 0h4m-24 12h4m20 0h4m-20 28h4m-4 4h4m20 8h4m-4 4h4m-24 8h4m0 24h4m-4 4h4m0 16h4m0 4h8M658 919h4"/>
<path stroke="#f8ede6" stroke-width="4" d="M214 107h4m4 0h4m48 4h4m36 4h4m36 12h4m96 48h4m28 56h4m-12 16h4m20 24h4m-12 48h4m-4 20h4m-4 4h4m-4 4h4M478 607h8m-12 4h4m-4 4h4m-4 4h4m0 16h4m16 0h4m-20 16h4m24 16h4m0 12h4m4 24h4m-24 8h4m20 8h4m-20 28h4m16 48h4m-32 92h24m152 12h4m4 0h4"/>
<path stroke="#f7e9df" stroke-width="4" d="M362 115h4m56 48h4m60 104h4m4 68h4m24 44h4m0 8h4m-12 8h4m8 4h4M494 627h4m0 12h4m0 8h4m-16 24h4m0 12h4m20 8h4m-24 4h4m28 52h4m-20 24h4M682 899h4m-44 20h4"/>
<path stroke="#f7e5d8" stroke-width="4" d="M366 131h4m32 4h4m16 12h4m24 44h4m12 28h4m24 32h4m0 60h4m-8 20h4m20 40h4m-16 4h4m12 28h4m0 4h4m0 4h4M478 611h4m4 0h4m0 8h4m-16 12h4m0 16h4m0 12h4m16 0h4m-8 48h4m0 16h4m0 20h4m16 8h4m-20 16h4m0 24h4m8 0h4"/>
<path stroke="#f6e1d0" stroke-width="4" d="M98 71h4m-4 8h4m-4 8h4m-4 8h4m-4 8h4m124 4h4m120 4h4m20 24h4m92 64h4m-12 12h4m16 12h4m8 68h4m-4 32h4m-4 4h4m32 80h4M490 623h4m-16 4h4m12 4h4m4 20h4m20 72h4m-20 16h4m16 44h4m-16 4h4M390 891h4m4 0h12m-20 4h24"/>
<path stroke="#f6dcc9" stroke-width="4" d="M98 67h4m-4 8h4m-4 8h4m-4 8h4m-4 8h4m176 12h4m168 60h4m52 116h4m0 16h4m-16 56h4m12 4h4m-16 4h4m24 36h4M482 611h4m-8 4h4m4 0h4m-12 4h4m-4 4h4m28 48h4m8 36h4m-20 12h4m4 44h4m12 24h4M394 891h4m12 0h4"/>
<path stroke="#f5d8c2" stroke-width="4" d="M338 107h4m52 24h4m12 24h4m20 0h4m32 72h4m8 28h4m12 52h4m8 48h4m8 44h4M482 615h4m0 4h4m4 16h4m0 8h4m-16 12h4m16 8h4m-20 4h4m0 12h4m16 4h4m-20 8h4m0 12h4m4 32h4m16 20h4m-20 4h4m12 0h4m-4 8h4m-4 8h4m-4 4h4m-16 4h4m0 12h8"/>
<path stroke="#f5d3bb" stroke-width="4" d="M122 71h4m-4 8h4m-4 8h4m-4 8h4m-4 8h4m104 4h4m148 32h4m88 68h4m20 56h4m8 52h4m12 88h4M490 627h4m-12 16h4m32 52h4m8 68h4m-4 8h4"/>
<path stroke="#f5ceb5" stroke-width="4" d="M122 67h4m-4 8h4m-4 8h4m-4 8h4m-4 8h4m156 12h4M478 215h4m36 176h4M482 619h4m-4 20h4m16 16h4m4 20h4m8 36h4m-16 20h4m4 48h4M654 915h4"/>
<path stroke="#f4caae" stroke-width="4" d="M386 127h4m56 40h4m40 108h4m28 108h4m0 8h4M482 623h8m0 8h4m4 16h4m-16 4h4m0 12h4m0 12h4m0 12h4m0 12h4m0 16h4m16 12h4m-16 28h4m4 36h4M674 939h4"/>
<path stroke="#f4c5a7" stroke-width="4" d="M290 111h4m24 4h4m68 28h4m20 0h4m12 24h4m24 36h4m12 32h4m12 8h4m8 32h4m4 32h4m12 92h4M482 631h4m-4 4h4m8 4h4m16 48h4m-4 64h4m0 24h4m4 16h4"/>
<path stroke="#f3c0a0" stroke-width="4" d="M234 107h4m48 4h4m44 8h4m32 0h4m88 68h4m32 116h4m20 92h8M482 627h8m28 72h4m-16 12h4m12 76h4"/>
<path stroke="#f3ba9a" stroke-width="4" d="M434 171h4m68 152h4m-4 4h4m8 48h4m-8 12h4M502 659h4m0 8h4m0 60h4m12 4h4m-12 40h4m4 16h4"/>
<path stroke="#f2b593" stroke-width="4" d="M346 123h4m28 0h4m44 28h4m12 12h4m40 72h4m-4 396h4m0 4h4m0 8h4m-12 4h4m8 4h4m-8 20h4m12 8h4m8 36h4m-12 32h4m4 36h4"/>
<path stroke="#f1b08d" stroke-width="4" d="M238 107h4m116 8h4m36 32h4m16 12h4m84 132h4m0 20h4m-8 20h4m-4 4h4m12 56h4M486 635h4m0 24h4m4 24h4m0 12h4m20 40h4m-4 48h4"/>
<path stroke="#f1aa87" stroke-width="4" d="M358 127h4m76 32h4m36 84h4m12 12h4m-12 8h4m4 24h4m16 80h4m0 20h8M486 639h8m-8 4h4m16 28h4m-4 36h4m0 16h4m0 20h4m0 24h4m4 12h4"/>
<path stroke="#efa481" stroke-width="4" d="M334 107h4m-44 4h4m48 0h4m56 28h4m44 56h4m8 0h4m36 144h4m-4 4h4M494 647h4m-8 8h4m4 0h4m-8 12h4m16 24h4m0 12h4m4 36h4m-8 40h4M650 911h4"/>
<path stroke="#ee9e7c" stroke-width="4" d="M242 107h4m212 76h4m20 44h4m32 152h4M502 663h4m-8 16h4m0 12h4m16 28h4m0 24h4m-12 20h4m0 12h8M670 935h4"/>
<path stroke="#ed9876" stroke-width="4" d="M438 175h4m28 28h4m24 64h4m0 12h4m-8 36h4m4 32h4m0 12h4m-4 20h4m4 4h4M490 643h4m-4 4h4m-4 4h8m12 32h4m-8 20h4m0 16h4m0 20h4m8 32h4"/>
<path stroke="#ec9271" stroke-width="4" d="M246 107h4m72 8h4m72 20h4m64 80h4m8 4h4m16 80h4m4 52h4m4 32h4M494 663h4m20 44h4m-8 28h4m8 12h4m-12 12h4"/>
<path stroke="#ea8b6b" stroke-width="4" d="M298 111h4m104 40h4m80 96h4m-12 4h4m20 44h4M494 655h4m-4 4h8m0 8h4m-8 8h4m4 0h4m-8 12h4m8 8h4m8 56h4m-4 16h4m-8 4h4"/>
<path stroke="#e88567" stroke-width="4" d="M418 147h4m20 32h4m8 0h4m48 140h4M498 663h4m-4 8h4m4 28h4m0 16h4m8 8h4m-8 32h4m4 0h4m-4 8h4m-8 4h4"/>
<path stroke="#e67e62" stroke-width="4" d="M102 67h4m-4 4h4m-4 4h4m-4 4h4m-4 4h4m-4 4h4m-4 4h4m-4 4h4m-4 4h4m-4 4h4m144 4h4m116 24h4m16 0h4m36 24h4m40 56h4m-8 12h4m16 48h4m8 92h4m0 8h4m4 0h4m-4 4h4m-4 4h4M506 679h4m0 8h4m0 44h4m0 20h4m4 8h4"/>
<path stroke="#e4785d" stroke-width="4" d="M254 107h4m72 0h4m32 12h4m80 56h4m32 64h4m4 20h4m-4 24h4m4 0h4m-8 72h4m-4 312h4m0 4h4m-4 12h4m0 12h4m8 16h4M646 907h4"/>
<path stroke="#e27158" stroke-width="4" d="M302 111h4m72 24h4m44 28h4m32 44h4m8 24h4m20 40h4m8 92h4m-4 12h4M502 675h4m-4 4h4m8 20h4m-8 12h4m0 16h4m4 0h4m-8 20h4m0 16h4"/>
<path stroke="#df6a55" stroke-width="4" d="M258 107h4m92 8h4m24 12h4m60 56h4m12 8h4m16 40h4m20 452h4m-4 4h4m0 4h4m-4 16h4m4 8h4m0 44h4M666 931h4"/>
<path stroke="#db6352" stroke-width="4" d="M262 107h4m76 4h4m-8 8h4m68 24h4m32 28h4m16 28h4m16 60h4m8 36h4m4 4h4m0 72h4m-8 320h4m4 12h4m0 40h4m0 8h4M646 923h4"/>
<path stroke="#d85c4f" stroke-width="4" d="M374 123h4m36 32h4m40 44h4m16 24h4m-4 16h4m8 12h4m8 36h4m0 16h4m-4 52h4m-4 12h8m-4 328h4m-4 4h4m-4 4h4m0 16h4m-4 4h4m4 8h4m-4 4h4m-8 4h4m0 4h4m-4 12h4"/>
<path stroke="#d5554c" stroke-width="4" d="M306 111h4m40 12h4m32 16h4m32 12h4m8 8h4m4 8h4m4 20h4m16 20h4m0 8h4m16 48h4m8 52h4m-12 4h4m12 388h4m-4 4h4m0 8h4m-4 16h4m0 4h4m-4 8h4"/>
<path stroke="#d24e48" stroke-width="4" d="M266 107h4m56 0h4m32 20h4m36 12h4m80 104h4m-8 4h4m12 28h4m-8 4h4m0 72h4m4 8h4m4 356h4M626 899h4"/>
<path stroke="#cf4745" stroke-width="4" d="M394 143h4m92 112h4m-4 12h4m8 24h4m0 16h4m-4 4h4m-8 12h4m-4 36h4m0 4h4m8 360h4m-4 8h4"/>
<path stroke="#cd4041" stroke-width="4" d="M270 107h4m52 8h4m108 48h4m16 24h4m-8 4h4m24 44h4m8 32h4m-4 8h4m0 4h4m-4 8h4m-4 4h4m0 20h4m-4 16h4m-4 4h4m-8 4h8m-8 8h4m-4 4h4m16 380h4m80 160h8m32 16h4"/>
<path stroke="#cb393d" stroke-width="4" d="M362 119h4m28 16h4m64 60h4m4 24h4m4 8h4m4 28h4m0 8h4m0 8h4m0 12h4m0 12h4m-4 4h4m-4 4h4m-4 4h4m-4 8h4m-4 4h4m-8 8h4m-4 4h4m-4 8h8m-4 4h4m-4 4h4m-4 8h4m92 532h4m60 40h4"/>
<path stroke="#c8323a" stroke-width="4" d="M310 111h4m100 36h4m36 36h4m8 28h4m4 16h4m0 8h4m0 4h4m0 8h4m-4 4h4m0 8h4m4 64h4m0 28h4"/>
<path stroke="#c62b36" stroke-width="4" d="M274 107h4m72 8h4m48 32h4m16 12h4m36 44h8m-4 4h4m0 4h4m0 8h4m-4 4h4m0 8h4m0 12h4"/>
<path stroke="#c42432" stroke-width="4" d="M278 107h4m104 24h4m36 24h4m4 12h4m12 12h4m0 8h4m0 4h4m0 8h4m4 16h4"/>
<path stroke="#bf1e2f" stroke-width="4" d="M322 107h4m12 4h4m36 16h4m56 44h4m0 4h8m-4 4h4m0 4h4m4 12h4"/>
<path stroke="#b71c2d" stroke-width="4" d="M282 107h8m116 36h4m0 8h4m4 0h4m4 8h8m-4 4h4m4 4h4m0 4h4"/>
<path stroke="#af1a2c" stroke-width="4" d="M290 107h8m16 4h4m52 12h4m0 8h4m20 8h4m16 16h8m8 8h4M638 899h4"/>
<path stroke="#a8182a" stroke-width="4" d="M118 67h4m-4 4h4m-4 4h4m-4 4h4m-4 4h4m-4 4h4m-4 4h4m-4 4h4m-4 4h4m-4 4h4m196 4h4m20 12h4m12 0h4m-8 4h4m8 4h4m12 4h4m-4 4h4m4 0h4m-4 4h4m4 4h8m0 4h8m0 4h4M658 923h4"/>
<path stroke="#a01628" stroke-width="4" d="M298 107h8m28 4h4m-8 4h4m12 0h4m16 8h4m0 4h8m8 8h4m4 4h4"/>
<path stroke="#981327" stroke-width="4" d="M306 107h12m36 12h4m0 4h4m16 8h4"/>
<path stroke="#901026" stroke-width="4" d="M318 111h16m0 4h4m4 0h4m0 4h8m8 4h4"/>
<path stroke="#890c25" stroke-width="4" d="M338 115h4"/>
<path stroke="#810923" stroke-width="4" d="M106 71h4m-4 8h4m-4 8h4m-4 8h4m-4 8h4M570 891h16m-16 4h16m68 24h4m-8 8h4"/>
<path stroke="#790622" stroke-width="4" d="M106 67h4m-4 8h4m-4 8h4m-4 8h4m-4 8h4M630 903h4"/>
<path stroke="#720321" stroke-width="4" d="M114 79h4m-4 16h4M670 939h4"/>
<path stroke="#6a0020" stroke-width="4" d="M110 67h8m-8 4h8m-8 4h8m-8 4h4m-4 4h8m-8 4h8m-8 4h8m-8 4h4m-4 4h8m-8 4h8M630 899h8m-4 4h8m-8 4h12m-8 4h12m-8 4h12m-8 4h8m-4 4h8m-4 4h8m-8 4h12m-8 4h12m-8 4h8"/></g>
<line x1="98.8" y1="104.5" x2="982.0" y2="104.5" stroke="#ffffff" stroke-width="2.00" stroke-dasharray="6.8 11.7"/>
<line x1="98.8" y1="302.4" x2="982.0" y2="302.4" stroke="#ffffff" stroke-width="2.00" stroke-dasharray="6.8 11.7"/>
<line x1="98.8" y1="500.2" x2="982.0" y2="500.2" stroke="#ffffff" stroke-width="2.00" stroke-dasharray="6.8 11.7"/>
<line x1="98.8" y1="895.8" x2="982.0" y2="895.8" stroke="#ffffff" stroke-width="2.00" stroke-dasharray="6.8 11.7"/>
<polyline class="aa" points="114.5,65.5 119.8,86.5 116.3,100.5 125.0,102.3 195.0,105.8 265.0,109.3 314.0,112.8 335.0,118.0 370.0,130.3 405.0,149.5 433.0,167.0 454.0,191.6 468.0,216.0 482.0,247.6 492.7,275.6 499.7,300.0 501.5,310.6 497.0,321.0 498.0,352.7 506.8,371.0 517.6,393.0 528.0,420.0 536.4,446.6 547.0,468.0 560.6,489.5 579.4,501.6 586.0,513.7 592.0,535.0 598.0,560.0 602.2,592.4 618.4,620.6 646.6,644.8 686.9,669.0 715.0,689.0 735.2,709.3 755.4,725.4 783.6,745.5 823.9,777.8 864.2,810.0 900.5,838.2 924.6,854.3 944.8,868.4 965.0,877.7 981.0,880.5" fill="none" stroke="#000" stroke-width="2.1" stroke-linejoin="round"/>
<path d="M465.4 203.8H613.5V401H465.4Z M613.5 203.8L714.6 89 M613.5 401L714.6 320" fill="none" stroke="#ffffff" stroke-width="1.9" stroke-dasharray="4.5 5.5"/>
<clipPath id="hc2"><rect x="714.60" y="89.00" width="243.10" height="231.00"/></clipPath><g clip-path="url(#hc2)"><rect x="715" y="89" width="245" height="235" fill="#2a6bb1"/>
<path stroke="#2a73b5" stroke-width="5" d="M820 91.5h20m5 0h5m5 0h5m15 0h5m15 0h5m15 0h5m15 0h5m15 0h5m-135 5h10m5 0h5m-25 5h20m5 0h5m5 0h5m5 0h5m15 0h5m-75 5h5m5 0h10m5 0h5m-15 5h20m5 0h5m5 0h5m5 0h5m15 0h5m15 0h5m15 0h5m15 0h5m-135 5h10m5 0h5m-15 5h10m5 0h5m5 0h5m5 0h5m15 0h5m-65 5h10m5 0h5m5 0h5m-25 5h20m5 0h5m5 0h5m5 0h5m15 0h5m15 0h5m15 0h5m15 0h5m-135 5h20m5 0h5m-25 5h20m5 0h5m5 0h5m15 0h5m15 0h5m-75 5h10m5 0h5m-15 5h10m5 0h5m5 0h5m5 0h5m15 0h5m15 0h5m15 0h5m15 0h5m-125 5h10m5 0h5m5 0h5m-25 5h10m5 0h5m5 0h5m15 0h5m15 0h5m-75 5h10m5 0h5m-15 5h10m5 0h5m5 0h5m5 0h5m15 0h5m15 0h5m15 0h5m15 0h5m-120 5h5m5 0h5m5 0h5m-25 5h20m5 0h5m15 0h5m15 0h5m-65 5h10m-10 5h15m5 0h5m5 0h5m15 0h5m15 0h5m15 0h5m15 0h5m-115 5h10m5 0h5m-15 5h10m5 0h5m5 0h5m5 0h5m15 0h5m-65 5h10m5 0h5m-15 5h20m5 0h5m5 0h5m5 0h5m15 0h5m15 0h5m15 0h5m-105 5h10m-5 5h10m5 0h5m5 0h5m15 0h5m-55 5h10m5 0h5m-15 5h10m5 0h5m5 0h5m5 0h5m15 0h5m15 0h5m15 0h5m-95 5h10m5 0h5m-15 5h10m5 0h5m15 0h5m15 0h5m-65 5h10m-5 5h10m5 0h5m5 0h5m15 0h5m15 0h5m15 0h5m-85 5h10m-5 5h10m15 0h5m15 0h5m-55 5h10m5 0h5m-15 5h10m5 0h5m15 0h5m15 0h5m15 0h5m-75 5h10m-5 5h10m5 0h5m15 0h5m-40 5h5m-5 5h10m5 0h5m5 0h5m15 0h5m15 0h5m-65 5h10m-5 5h10m15 0h5m-30 5h5m5 0h5m-15 5h10m5 0h5m15 0h5m15 0h5m-50 5h5m-195 5h5m180 0h5m5 0h5m5 0h5m15 0h5"/>
<path stroke="#2d79b9" stroke-width="5" d="M810 91.5h10m-15 5h20m-15 5h10m-15 5h10m5 0h5m-15 5h20m-15 5h10m-10 5h15m-15 5h10m-5 5h10m-10 5h5m-5 5h10m-5 5h10m-5 5h10m-15 5h10m-5 5h10m-10 5h5m-5 5h10m-5 5h5m-5 5h5m-5 5h10m-5 5h5m-10 5h10m-5 5h10m-10 5h5m0 5h5m-5 5h10m-5 5h10m0 15h5m-5 5h10m0 15h5m-5 5h10m0 15h5m-5 5h10m-5 5h5m0 10h5m0 5h5m-5 5h5m0 10h5m-5 5h5"/>
<path stroke="#3280bc" stroke-width="5" d="M790 91.5h20m-25 5h20m-10 5h15m-15 5h10m-5 5h10m-5 5h10m-5 5h5m-10 5h10m-5 5h10m-5 5h5m-5 5h5m-5 5h10m-5 5h10m-10 10h10m-5 5h5m-5 10h10m-5 5h5m-10 5h10m-5 5h10m-10 5h5m-5 5h10m-5 5h5m0 5h5m-5 5h5m-5 5h10m-5 5h10m-5 5h10m-5 5h5m0 10h5m0 5h5m-5 5h5m0 10h5m0 5h5m-5 5h5m5 15h5m-5 5h5m0 5h5m-180 5h5m125 0h5m-135 5h5m175 0h5m-180 5h5m170 0h5"/>
<path stroke="#3686bf" stroke-width="5" d="M780 91.5h10m0 10h5m-5 5h5m0 5h5m-5 5h10m-5 5h10m-5 10h5m-5 5h10m-5 5h5m0 15h10m-5 10h5m-5 5h10m-5 10h5m-5 10h5m-5 5h5m-5 10h10m-5 5h10m-15 5h15m-10 5h10m-10 5h15m-15 5h5m-5 5h5m15 0h5m-25 5h5m20 0h5m-30 5h5m25 5h5m-35 5h5m-5 5h5m-5 5h5m-5 5h5m35 0h5m-40 5h5m-5 5h5m-5 5h5m40 0h5m-45 5h5m45 15h5m-175 5h5m120 0h5m-5 5h5m-125 5h5m165 0h5"/>
<path stroke="#3a8dc2" stroke-width="5" d="M775 91.5h5m0 5h5m0 5h5m0 10h5m5 15h5m5 20h5m0 5h5m-5 10h5m-5 5h5m0 10h5m-5 5h5m0 20h5m-5 10h5m-5 10h5m-5 5h5m5 5h15m-25 5h5m5 0h5m5 0h5m0 5h5m-30 5h5m25 0h5m-30 5h5m-10 5h5m35 5h5m-5 5h5m-35 5h5m-10 5h5m40 5h5m-40 5h5m35 5h5m-45 5h10m-10 5h10m35 0h5m0 10h5m-170 5h5m120 0h5m-10 5h10"/>
<path stroke="#4092c4" stroke-width="5" d="M775 96.5h5m0 5h5m0 5h5m0 10h5m0 5h5m-5 5h5m0 5h5m0 10h5m0 10h5m5 35h5m-5 5h5m-5 10h5m0 30h5m10 5h5m-20 5h5m5 0h5m-5 5h5m-15 5h5m30 5h5m-40 5h5m-5 5h5m5 0h5m30 10h5m-45 5h5m5 0h5m30 5h5m-45 5h5m-5 5h5m-125 5h5m120 5h5m-5 5h5m5 0h5m35 5h5m-165 5h5"/>
<path stroke="#4796c7" stroke-width="5" d="M770 91.5h5m25 45h5m0 10h5m0 10h5m0 15h5m-5 5h5m0 20h5m-5 10h5m-5 5h5m-5 10h5m15 20h10m10 20h5m-40 10h5m0 15h5m45 10h5m-165 10h5m125 0h5m30 0h5m-50 10h5m-5 5h5m45 0h5"/>
<path stroke="#4d9bc9" stroke-width="5" d="M780 106.5h5m0 5h5m-5 5h5m0 5h5m5 20h5m5 20h5m0 20h5m-5 5h5m0 30h5m-5 10h5m-5 5h5m-5 5h5m-5 5h5m-5 5h5m-5 5h5m30 0h5m-40 5h5m10 0h5m-20 5h5m10 0h5m25 10h5m-45 5h5m10 0h5m25 5h5m-45 10h5m10 0h5m-15 10h5m-5 5h5"/>
<path stroke="#54a0cc" stroke-width="5" d="M765 91.5h5m0 5h5m0 5h5m10 25h5m0 5h5m-5 5h5m5 15h5m-5 5h5m0 10h5m-5 5h5m0 20h5m-5 5h5m-5 10h5m20 40h5m5 0h5m-20 5h5m-20 15h5m15 5h5m-20 10h5m-5 5h5m15 0h5m25 5h5m-165 5h5m110 0h5m15 5h5m25 0h5m-160 10h5m105 0h5m-5 5h5m15 5h5"/>
<path stroke="#5aa4cf" stroke-width="5" d="M765 96.5h5m5 10h5m0 5h5m5 20h5m5 15h5m5 30h5m-5 5h5m0 20h5m-5 10h5m-5 5h5m-5 10h5m25 20h5m0 5h5m-40 5h5m35 0h5m0 10h5m-45 5h5m40 5h5m-150 25h5m105 0h5m50 10h5m-160 5h5m120 0h5m-25 5h5"/>
<path stroke="#61a8d1" stroke-width="5" d="M760 91.5h5m5 10h5m10 20h5m-5 5h5m5 15h5m0 10h5m0 10h5m-5 5h5m0 20h5m0 35h5m-5 10h5m-5 5h5m-5 5h5m-5 5h5m20 5h5m-5 10h5m-5 5h5m-25 10h5m20 5h5m20 5h5m-50 5h5m20 5h5m20 0h5m-50 10h5m50 10h5"/>
<path stroke="#68acd3" stroke-width="5" d="M780 116.5h5m5 20h5m0 10h5m5 25h5m-5 5h5m0 15h5m-5 5h5m-5 5h5m0 50h5m25 0h5m-10 5h5m-30 5h5m-5 5h5m25 10h5m-30 5h5m-110 10h5m130 0h5m-30 5h5m-105 10h5m150 0h5m-55 5h5m20 0h5m-30 5h5m-100 5h5"/>
<path stroke="#70b0d4" stroke-width="5" d="M770 106.5h5m0 5h5m0 10h5m15 35h5m5 50h5m-5 5h5m-5 5h5m30 40h10m0 5h5m0 10h5m-150 15h5m100 0h5m0 15h5m25 5h5m-30 15h5m50 0h5"/>
<path stroke="#77b3d6" stroke-width="5" d="M755 91.5h5m0 5h5m0 5h5m5 15h5m5 15h5m0 10h5m0 10h5m0 10h5m0 20h5m-5 5h5m0 35h5m-5 5h5m-5 5h5m-5 10h5m30 25h5m5 0h5m-45 5h5m25 0h5m-35 5h5m45 5h5m-20 5h5m-35 5h5m45 0h5m-50 15h5m-100 5h5"/>
<path stroke="#7eb7d8" stroke-width="5" d="M780 126.5h5m0 10h5m5 20h5m0 10h5m5 70h5m-5 10h5m-5 5h5m-5 5h5m-5 5h5m30 0h10m-40 20h5m30 0h5m-135 15h5m130 5h5m15 0h5m-145 15h5m120 5h5"/>
<path stroke="#85bbda" stroke-width="5" d="M755 96.5h5m0 5h5m0 5h5m0 5h5m15 35h5m5 25h5m0 20h5m-5 5h5m-5 10h5m0 60h5m35 0h5m-5 5h5m-5 5h5m5 0h5m-150 5h5m95 5h5m0 10h5m30 0h5m-35 15h5m50 0h5m-60 5h5"/>
<path stroke="#8dbedb" stroke-width="5" d="M750 91.5h5m20 30h5m0 10h5m5 20h5m5 25h5m-5 5h5m0 20h5m-5 10h5m-5 5h5m-5 10h5m0 45h5m40 0h5m-5 5h5m-5 5h10m-10 5h5m5 0h5m-15 5h5m-135 10h5m90 0h5m50 5h5m-20 10h5m-125 5h5m80 0h5"/>
<path stroke="#94c2dd" stroke-width="5" d="M770 116.5h5m0 10h5m5 15h5m-5 5h5m5 15h5m-5 5h5m0 20h5m0 35h5m-5 10h5m-5 5h5m-5 10h5m-95 30h5m90 0h5m45 10h5m-145 5h5m90 0h5m50 5h5m-15 5h5m-135 5h5m85 0h5m35 0h5m-5 5h5m15 5h5"/>
<path stroke="#9cc5de" stroke-width="5" d="M750 96.5h5m0 5h5m0 5h5m0 5h5m0 10h5m5 15h5m5 20h5m5 35h5m0 50h5m-5 10h5m-5 5h5m-5 5h5m-5 5h5m0 15h5m45 10h10m-55 5h5m40 0h10m-50 15h5m55 10h5"/>
<path stroke="#a3c9e0" stroke-width="5" d="M745 91.5h5m15 25h5m5 15h5m0 10h5m5 20h5m0 10h5m-5 5h5m0 20h5m-5 5h5m-5 5h5m-5 5h5m-85 75h5m85 0h5m-90 10h5m85 5h5m50 0h5m-140 10h5m80 5h5m-5 5h5"/>
<path stroke="#aacde1" stroke-width="5" d="M745 96.5h5m0 5h5m0 5h5m0 5h5m5 15h5m0 10h5m5 15h5m-5 5h5m5 25h5m-5 5h5m0 30h5m-5 5h5m-5 5h5m-5 5h5m-5 30h5m-90 10h5m85 0h5m-5 5h5m-90 5h5m85 10h5m-85 10h5m130 0h5m-55 5h5m45 0h5m5 5h5m-140 5h5m120 0h5m-5 5h5"/>
<path stroke="#b2d0e2" stroke-width="5" d="M740 91.5h5m35 55h5m5 20h5m-5 5h5m0 20h5m-5 5h5m0 40h5m-5 5h5m-5 5h5m-5 5h5m-5 5h5m-90 10h5m85 15h5m0 15h5m-80 10h5m130 0h5m-60 5h5m45 0h5m5 5h5m-135 5h5"/>
<path stroke="#bad3e3" stroke-width="5" d="M765 121.5h5m0 10h5m-60 125h5m-5 5h5m80 5h5m-85 5h5m-5 5h5m0 10h5m75 0h5m-85 5h5m0 5h5m5 15h5m125 0h5m-130 5h5m65 0h5m50 0h5m-5 5h10"/>
<path stroke="#c1d7e4" stroke-width="5" d="M760 116.5h5m10 25h5m0 10h5m5 25h5m0 25h5m-5 5h5m-85 40h5m-5 5h5m0 10h5m-5 5h5m75 5h5m-80 5h5m-5 5h5m0 10h5m0 5h5m-5 5h5m70 0h5m-75 5h5m5 15h5"/>
<path stroke="#c8dae6" stroke-width="5" d="M750 106.5h5m0 5h5m5 15h5m15 35h5m0 20h5m-80 25h5m75 5h5m-85 5h5m75 0h5m-85 10h5m-5 10h5m-5 5h5m5 25h5m-5 5h5m0 10h5m-5 5h5m5 15h5m0 5h5m-5 5h5m0 5h5m0 5h5m55 0h5"/>
<path stroke="#cfdee8" stroke-width="5" d="M740 96.5h5m0 5h5m-35 110h5m-5 10h5m75 0h5m-5 5h5m-85 5h5m0 10h5m-5 5h5m-5 5h5m-5 5h5m5 20h5m0 10h5m-5 5h5m65 0h5m-70 5h5m65 10h5m-65 5h5m0 5h5m0 5h5"/>
<path stroke="#d6e2eb" stroke-width="5" d="M770 136.5h5m0 10h5m5 20h5m0 20h5m-80 10h5m-5 5h5m0 5h5m-5 5h5m-5 5h5m-5 5h5m-5 5h5m-5 5h5m-5 5h5m0 10h5m-5 10h5m-5 5h5m0 10h5m0 5h5m60 0h5m-70 5h5m0 10h5m0 5h5m-5 5h5m0 5h5"/>
<path stroke="#dde6ed" stroke-width="5" d="M735 91.5h5m20 30h5m15 35h5m-70 30h5m-5 5h5m0 10h5m0 15h5m-5 10h5m65 5h5m-75 5h5m65 0h5m-75 5h5m65 5h5m-75 5h5m0 10h5m-5 5h10m60 15h5m-65 5h5m60 10h5m-60 5h5m0 5h5m-5 5h5m50 0h5m-55 5h5"/>
<path stroke="#e4ebf0" stroke-width="5" d="M720 191.5h5m65 0h5m-75 5h5m0 10h5m-5 5h5m-5 10h5m-5 10h5m0 10h5m60 0h5m-70 5h5m-5 5h5m-5 5h5m60 0h5m-65 15h5m0 5h5m-5 5h5m0 5h5m-5 5h5m0 5h5m0 5h5m0 10h5m0 5h5m-5 5h5"/>
<path stroke="#ebeff2" stroke-width="5" d="M750 111.5h5m0 5h5m5 15h5m0 10h5m10 30h5m-75 5h5m-5 5h5m0 5h5m0 10h5m-5 5h5m0 10h5m-5 10h5m-5 10h5m-5 5h5m60 15h5m-65 5h5m-5 5h5m55 0h5m-5 5h5m-60 5h5m0 5h5m0 15h5m0 5h5m0 5h5m-5 5h5m0 5h5m0 10h5"/>
<path stroke="#f1f3f5" stroke-width="5" d="M740 101.5h5m0 5h5m25 45h5m0 10h5m-70 5h5m-5 5h5m65 5h5m-70 5h5m0 5h5m-5 5h5m60 5h5m-65 5h5m55 0h5m-65 5h5m-5 10h5m-5 10h5m0 10h5m-5 5h5m-5 5h5m-5 5h5m0 10h5m-5 5h5m0 15h5m0 5h5m45 0h5m0 15h5m-45 5h5m0 5h5m-5 5h5m35 0h5m-40 5h5"/>
<path stroke="#f6f5f5" stroke-width="5" d="M735 96.5h5m20 30h5m-45 50h5m5 15h5m-5 5h5m0 10h5m50 0h5m-5 5h5m-60 5h5m-5 10h5m-5 5h5m0 20h5m-5 5h5m0 10h5m-5 5h5m0 10h5m0 5h5m-5 5h5m0 5h5m0 5h5m5 15h5m30 5h5"/>
<path stroke="#f8f2ed" stroke-width="5" d="M730 91.5h5m30 45h5m-55 20h5m-5 5h5m0 10h5m0 5h5m-5 5h5m55 0h5m-55 20h5m-5 10h5m50 5h5m-60 5h5m0 20h5m-5 5h5m0 15h5m0 10h5m40 0h5m-50 5h5m5 15h5m35 0h5m-40 5h5m0 10h5m30 0h5m-35 5h5m0 10h5"/>
<path stroke="#f8ede6" stroke-width="5" d="M720 166.5h5m5 20h5m0 10h5m50 25h5m-55 15h5m0 20h5m5 25h5m10 20h5"/>
<path stroke="#f7e9df" stroke-width="5" d="M770 146.5h5m-35 75h5m-5 5h5m-5 5h5m5 35h5m40 10h5m-40 10h5m10 20h5m0 10h5"/>
<path stroke="#f7e5d8" stroke-width="5" d="M715 151.5h5m55 5h5m-60 5h5m0 10h5m0 10h5m50 5h5m-55 5h5m0 15h5m-5 5h5m-5 5h5m45 10h5m-50 25h5m5 25h5m5 15h5"/>
<path stroke="#f6e1d0" stroke-width="5" d="M780 166.5h5m-45 35h5m0 45h5m0 15h5m15 35h5m5 15h5m0 10h5"/>
<path stroke="#f6dcc9" stroke-width="5" d="M755 121.5h5m30 110h5"/>
<path stroke="#f5d8c2" stroke-width="5" d="M715 146.5h5m15 40h5m5 55h5m10 40h5m35 15h5"/>
<path stroke="#f5d3bb" stroke-width="5" d="M750 116.5h5m5 15h5m-45 25h5m0 10h5m0 10h5m55 60h5m-40 35h5m15 30h5m25 10h5"/>
<path stroke="#f5ceb5" stroke-width="5" d="M745 111.5h5m35 80h5m-50 5h5m0 40h5m40 5h5m0 40h5m-35 5h5m15 30h5"/>
<path stroke="#f4caae" stroke-width="5" d="M740 106.5h5m45 140h5m-5 5h5m-45 5h5"/>
<path stroke="#f4c5a7" stroke-width="5" d="M765 141.5h5m10 30h5m-40 60h5m5 35h5m20 40h5"/>
<path stroke="#f3c0a0" stroke-width="5" d="M735 101.5h5m30 50h5m15 105h5m-5 5h5m-25 30h5"/>
<path stroke="#f3ba9a" stroke-width="5" d="M715 141.5h5m0 10h5m50 10h5m5 35h5m-45 30h5m40 40h5m0 20h5"/>
<path stroke="#f2b593" stroke-width="5" d="M725 161.5h5m0 10h5m0 10h5m0 10h5m0 15h5m-5 5h5m-5 5h5m-5 5h5m0 30h5m45 50h5m0 15h5"/>
<path stroke="#f1b08d" stroke-width="5" d="M730 96.5h5m-20 40h5m40 140h5m10 20h5m5 15h5m0 10h5"/>
<path stroke="#f1aa87" stroke-width="5" d="M755 126.5h5"/>
<path stroke="#efa481" stroke-width="5" d="M780 176.5h5m-40 25h5m35 0h5m-40 45h5m0 15h5"/>
<path stroke="#ee9e7c" stroke-width="5" d="M740 186.5h5m40 20h5m-25 75h5m10 20h5"/>
<path stroke="#ed9876" stroke-width="5" d="M725 91.5h5m-15 40h5m0 15h5m0 10h5m5 20h5m10 65h5m5 30h5m25 0h5m10 50h5"/>
<path stroke="#ec9271" stroke-width="5" d="M760 136.5h5m-35 30h5m35 120h5"/>
<path stroke="#ea8b6b" stroke-width="5" d="M715 126.5h5m60 55h5m-40 15h5m35 15h5m-35 45h5m30 60h5"/>
<path stroke="#e88567" stroke-width="5" d="M765 146.5h5m15 70h5m-40 20h5m40 55h5m-15 15h5m10 0h5"/>
<path stroke="#e67e62" stroke-width="5" d="M770 156.5h5m0 135h5"/>
<path stroke="#e4785d" stroke-width="5" d="M750 121.5h5m-35 20h5m50 25h5m-30 65h5m5 35h5"/>
<path stroke="#e27158" stroke-width="5" d="M745 116.5h5m-35 5h5m20 60h5m40 40h5m-25 55h5m20 0h5"/>
<path stroke="#df6a55" stroke-width="5" d="M725 151.5h5m0 10h5m0 10h5m40 15h5m-35 40h5m30 0h5m-10 70h5"/>
<path stroke="#db6352" stroke-width="5" d="M735 106.5h5m0 5h5m-30 5h5m25 75h5m0 15h5m-5 5h5m-5 5h5m-5 5h5m0 30h5m30 60h5"/>
<path stroke="#d85c4f" stroke-width="5" d="M785 231.5h5m-20 50h5m20 15h5m-5 25h5"/>
<path stroke="#d5554c" stroke-width="5" d="M755 131.5h5m-40 5h5m25 65h5m5 60h5m35 50h5"/>
<path stroke="#d24e48" stroke-width="5" d="M730 101.5h5m50 135h5m-35 10h5m25 55h5m10 20h5"/>
<path stroke="#cf4745" stroke-width="5" d="M725 146.5h5m60 135h5"/>
<path stroke="#cd4041" stroke-width="5" d="M715 111.5h5m40 30h5m-25 35h5m0 10h5m30 5h5m-10 95h5"/>
<path stroke="#c8323a" stroke-width="5" d="M800 316.5h5"/>
<path stroke="#c62b36" stroke-width="5" d="M795 316.5h5"/>
<path stroke="#af1a2c" stroke-width="5" d="M795 311.5h5"/>
<path stroke="#981327" stroke-width="5" d="M795 306.5h5"/>
<path stroke="#901026" stroke-width="5" d="M790 306.5h5"/>
<path stroke="#890c25" stroke-width="5" d="M795 301.5h5"/>
<path stroke="#810923" stroke-width="5" d="M790 301.5h5"/>
<path stroke="#790622" stroke-width="5" d="M785 296.5h10"/>
<path stroke="#6a0020" stroke-width="5" d="M715 91.5h10m-10 5h15m-15 5h15m-15 5h20m-15 5h20m-20 5h25m-25 5h30m-30 5h35m-35 5h35m-30 5h35m-35 5h35m-30 5h35m-35 5h40m-40 5h40m-35 5h40m-40 5h40m-35 5h40m-35 5h35m-35 5h35m-30 5h30m-30 5h30m-30 5h35m-30 5h30m-30 5h30m-30 5h30m-30 5h30m-30 5h30m-30 5h30m-30 5h30m-30 5h30m-30 5h35m-30 5h30m-30 5h30m-30 5h30m-25 5h25m-25 5h25m-25 5h25m-20 5h20m-15 5h15m-10 5h15m-15 5h15"/></g>
<clipPath id="hc3"><rect x="715.00" y="344.00" width="243.20" height="232.30"/></clipPath><g clip-path="url(#hc3)"><rect x="715" y="344" width="245" height="235" fill="#2a6bb1"/>
<path stroke="#285ea8" stroke-width="5" d="M950 346.5h5m-10 5h5m5 0h5m-20 5h5m5 0h5m-20 5h5m5 0h5m5 0h5m-20 5h5m5 0h5m-20 5h5m5 0h5m5 0h5m-20 5h5m5 0h5m-20 5h5m5 0h5m5 0h5m-15 10h5"/>
<path stroke="#2a64ad" stroke-width="5" d="M930 346.5h5m5 0h10m5 0h5m-35 5h20m5 0h5m-35 5h5m5 0h10m5 0h5m5 0h5m-45 5h5m5 0h10m5 0h5m5 0h5m-35 5h5m5 0h10m5 0h5m5 0h5m-45 5h5m5 0h10m5 0h5m5 0h5m-35 5h5m5 0h10m5 0h5m5 0h5m-45 5h20m5 0h5m5 0h5m-35 5h40m-45 5h5m5 0h20m5 0h10m-40 5h5m5 0h30m-45 5h45m-40 5h5m5 0h5m5 0h5m5 0h5m-40 5h5m5 0h5m5 0h5m5 0h15m-40 5h5m5 0h5m5 0h5m5 0h5m-40 5h5m5 0h5m5 0h5m5 0h5m5 0h5m-15 10h5"/>
<path stroke="#2a73b5" stroke-width="5" d="M890 346.5h5m5 0h10m5 0h5m-35 5h20m-15 5h10m5 0h5m-25 5h10m5 0h5m-15 5h10m5 0h5m-25 5h10m5 0h5m-25 5h5m5 0h10m5 0h5m-35 5h20m-15 5h20m-35 5h5m5 0h10m5 0h5m-25 5h5m5 0h20m-45 5h5m5 0h5m5 0h10m5 0h5m-25 5h5m5 0h10m5 0h5m-45 5h5m5 0h20m5 0h5m-35 5h5m5 0h20m5 0h5m-45 5h20m5 0h5m5 0h5m-45 5h5m5 0h30m5 0h5m-55 5h5m5 0h20m5 0h5m-35 5h30m5 0h5m-45 5h20m5 0h5m-25 5h20m5 0h5m5 0h5m5 0h5m15 0h5m15 0h5m15 0h5m-105 5h10m5 0h5m5 0h5m-30 5h15m5 0h5m-25 5h10m5 0h5m-15 5h10m5 0h5m15 0h5m15 0h5m15 0h5m15 0h5m-100 5h5m-5 5h10m-5 10h5m5 0h5m15 0h5m15 0h5m15 0h5m15 0h5m-95 5h5m0 5h5m-70 5h5m60 0h5m0 5h5m15 0h5m15 0h5m15 0h5m15 0h5m-165 5h5m5 0h5m5 0h5m55 0h5m-80 5h5m5 0h5m70 0h5m-95 5h25m60 0h5m-95 5h5m5 0h25m55 0h10m5 0h5m15 0h5m15 0h5m15 0h5m-175 5h5m5 0h35m-40 5h40m-45 5h20m5 0h5m5 0h20m50 0h5m-105 5h20m5 0h20m55 0h10m15 0h5m15 0h5m15 0h5m-175 5h20m5 0h5m5 0h5m5 0h10m-50 5h20m5 0h5m5 0h15m55 0h5m5 0h5m-120 5h5m5 0h5m5 0h5m15 0h10m55 0h5m-110 5h20m5 0h5m5 0h5m5 0h10m55 0h10m5 0h5m15 0h5m15 0h5m-165 5h10m35 0h5m-50 5h5m5 0h5m15 0h5m5 0h10m60 0h5"/>
<path stroke="#2d79b9" stroke-width="5" d="M880 346.5h10m5 0h5m-35 5h5m5 0h10m-15 5h5m5 0h10m-25 5h20m-15 5h20m-35 5h5m5 0h20m-25 5h5m5 0h10m5 0h5m-35 5h20m-25 5h5m5 0h20m-35 5h5m5 0h10m5 0h5m-25 5h20m5 0h5m-45 5h5m5 0h10m5 0h5m5 0h5m-35 5h5m5 0h20m5 0h5m-45 5h5m5 0h10m5 0h5m-25 5h20m5 0h5m-45 5h5m5 0h20m-25 5h5m5 0h10m5 0h5m-35 5h20m5 0h5m-35 5h5m5 0h20m-35 5h30m-25 5h5m5 0h5m10 0h5m-45 5h5m5 0h5m30 0h5m-50 10h5m5 0h5m-15 10h5m-10 5h5m-10 5h5m5 0h5m-20 5h5m5 0h5m-20 5h5m5 0h15m-20 5h25m-40 5h5m5 0h20m5 0h10m-40 5h5m5 0h30m50 0h5m-100 5h5m5 0h10m5 0h5m5 0h5m5 0h10m-50 5h20m5 0h5m5 0h10m50 0h5m-105 5h20m25 0h10m-50 5h10m5 0h5m25 0h10m-60 5h10m5 0h5m35 0h10m-60 5h10m40 0h5m50 0h5m-115 5h10m100 0h5m-110 5h10m45 0h10m-5 5h5m45 0h5m-110 5h5m50 0h5m-60 5h5m50 0h10m-60 10h5m50 0h5m50 0h5m-115 5h5m50 0h5"/>
<path stroke="#3280bc" stroke-width="5" d="M850 346.5h5m5 0h20m-35 5h5m5 0h10m5 0h5m-25 5h20m5 0h5m-45 5h5m5 0h20m-25 5h5m5 0h20m-35 5h5m5 0h10m5 0h5m-25 5h20m5 0h5m-45 5h5m5 0h20m-25 5h5m5 0h10m5 0h5m-35 5h20m5 0h5m-35 5h5m5 0h20m-35 5h20m5 0h5m-25 5h20m5 0h5m-45 5h5m5 0h20m5 0h5m-35 5h5m5 0h20m-35 5h5m5 0h10m5 0h5m-25 5h20m5 0h5m-45 5h5m5 0h20m-25 5h5m5 0h10m5 0h5m-35 5h20m-25 5h5m5 0h20m5 0h5m5 0h10m-60 5h5m5 0h10m5 0h5m5 0h10m15 0h5m-60 5h35m25 0h5m-80 5h5m5 0h20m5 0h5m5 0h5m-45 5h5m5 0h25m40 0h5m-85 5h5m5 0h20m5 0h10m35 0h5m-80 5h20m5 0h10m-50 5h5m5 0h20m5 0h5m5 0h10m40 0h5m-95 5h5m5 0h10m5 0h5m5 0h10m-50 5h20m5 0h5m15 0h10m-60 5h5m5 0h20m25 0h10m-60 5h10m5 0h5m35 0h10m-60 5h10m5 0h5m30 0h5m-60 5h10m5 0h5m-15 5h10m45 0h10m-70 5h10m55 0h10m35 0h5m-110 5h10m55 0h10m-75 5h5m65 0h10m30 0h5m-115 5h10m55 0h10m-5 5h10m-75 5h5m65 0h10m-80 5h10m60 0h15m-80 5h5m60 0h15m-10 5h15m-80 5h5m55 0h10m5 0h5m-150 5h5m65 0h5m60 0h20m-150 5h5m125 0h20m30 0h5"/>
<path stroke="#3686bf" stroke-width="5" d="M830 346.5h5m5 0h10m5 0h5m-35 5h20m5 0h5m-35 5h5m5 0h20m-35 5h5m5 0h10m5 0h5m-25 5h20m5 0h5m-45 5h5m5 0h20m5 0h5m-35 5h5m5 0h20m-35 5h5m5 0h10m5 0h5m-25 5h5m5 0h10m5 0h5m-45 5h5m5 0h20m-25 5h5m5 0h10m5 0h5m-35 5h20m-25 5h5m5 0h20m-35 5h5m5 0h10m5 0h5m-25 5h20m5 0h5m-45 5h5m5 0h20m5 0h5m-35 5h5m5 0h20m-35 5h5m5 0h10m5 0h5m-25 5h20m5 0h5m-45 5h5m5 0h20m-25 5h5m5 0h10m5 0h5m-35 5h20m5 0h5m-35 5h5m5 0h20m-35 5h5m5 0h10m5 0h5m-25 5h20m5 0h5m25 0h10m-70 5h20m5 0h5m-35 5h5m5 0h20m35 0h10m-70 5h10m5 0h5m-25 5h5m5 0h10m5 0h5m35 0h10m35 0h5m-110 5h10m55 0h10m-75 5h5m5 0h5m55 0h5m35 0h5m-115 5h10m65 0h5m-75 5h10m55 0h10m-80 5h10m65 0h10m-80 5h10m65 0h10m-85 5h5m75 0h10m-85 5h5m75 0h5m-85 5h5m75 5h10m-85 5h5m75 0h5m5 15h5m25 0h5m-180 5h5m60 0h5m-70 5h10m130 0h5m5 0h5m25 0h5m-180 5h10m-15 5h5m5 0h5m140 0h5"/>
<path stroke="#3a8dc2" stroke-width="5" d="M810 346.5h5m5 0h10m5 0h5m-35 5h20m-15 5h10m5 0h5m-35 5h5m5 0h10m5 0h5m-25 5h20m-25 5h10m5 0h5m-15 5h10m5 0h5m-35 5h5m5 0h10m5 0h5m-25 5h20m5 0h5m-35 5h10m5 0h5m-25 5h5m5 0h10m5 0h5m-35 5h20m-15 5h10m5 0h5m-25 5h10m5 0h5m-25 5h20m-25 5h10m5 0h5m-15 5h10m5 0h5m-35 5h5m5 0h10m5 0h5m-25 5h20m-25 5h10m5 0h5m-25 5h5m5 0h10m5 0h5m-35 5h20m65 0h5m-85 5h10m5 0h5m55 0h5m-85 5h10m5 0h5m85 0h5m-110 5h15m-15 5h10m65 0h5m-80 5h5m5 0h5m-15 5h10m65 0h10m-75 5h5m65 0h5m-80 5h5m75 0h5m-85 5h5m75 0h5m-85 5h5m80 0h5m-85 5h5m75 0h5m0 5h5m25 0h5m-115 15h5m85 5h5m-90 5h5m85 5h5m-90 5h5m80 0h5m25 0h5m-175 5h5m-5 5h5m55 0h5m-60 5h5m140 0h5m-90 5h5m-55 10h5m50 0h5"/>
<path stroke="#4092c4" stroke-width="5" d="M800 346.5h10m5 0h5m-25 5h10m-15 5h20m-25 5h10m5 0h5m-15 5h10m-15 5h10m-15 5h20m-25 5h10m5 0h5m-15 5h10m-25 5h5m5 0h10m-15 5h10m5 0h5m-25 5h10m-15 5h20m-25 5h5m5 0h10m-15 5h10m-15 5h10m-15 5h20m-25 5h10m5 0h5m-25 5h5m5 0h10m-25 5h20m-15 5h10m5 0h5m-20 5h5m90 0h10m-105 5h10m-10 5h5m80 0h5m-90 5h5m80 5h5m25 5h5m-115 10h5m80 0h5m-90 5h5m115 10h5m-120 5h5m0 10h5m120 20h5m-120 5h5m-55 5h5m140 5h5m-145 5h5m0 10h5m140 5h5"/>
<path stroke="#4796c7" stroke-width="5" d="M790 346.5h10m-15 5h10m-15 5h10m-15 5h10m-15 5h5m5 0h10m-25 5h20m-15 5h10m-15 5h10m-15 5h20m-25 5h10m5 0h5m-15 5h10m-15 5h10m-15 5h10m-15 5h10m5 0h5m-25 5h5m5 0h10m-25 5h20m-15 5h10m-15 5h10m-15 5h10m5 0h5m-15 10h5m-5 5h5m-5 5h5m-5 5h5m85 5h5m-90 5h5m-5 5h5m80 0h5m5 20h5m0 10h5m0 10h5m-95 5h5m90 5h5m-95 5h5m-50 10h5m0 10h5m45 0h5m-50 10h5m45 0h5m-50 10h5m160 0h5"/>
<path stroke="#4d9bc9" stroke-width="5" d="M770 346.5h5m5 0h10m-25 5h20m-15 5h10m-25 5h5m5 0h10m-15 5h10m5 0h5m-25 5h10m-15 5h20m-25 5h5m5 0h10m-15 5h10m-15 5h10m-15 5h20m-25 5h20m-15 5h10m-25 5h5m5 0h10m-15 5h10m5 0h5m-25 5h10m-5 5h10m-15 5h10m-5 10h5m-5 5h5m115 20h5m-115 15h5m85 0h5m0 10h5m20 0h5m-120 5h5m0 15h5m120 15h5m-25 10h5m-80 35h5m-50 5h5"/>
<path stroke="#54a0cc" stroke-width="5" d="M760 346.5h10m5 0h5m-25 5h10m-15 5h20m-25 5h10m5 0h5m-15 5h10m-15 5h10m-15 5h10m-15 5h10m5 0h5m-25 5h5m5 0h10m-25 5h20m-15 5h10m-15 5h10m-15 5h20m-25 5h10m5 0h5m-15 5h10m-15 5h10m-5 5h10m-5 10h5m-5 5h5m0 10h5m110 5h5m-115 10h5m-5 5h5m0 15h5m0 15h5m120 15h5m-115 20h5m-45 10h5m40 0h5m90 0h5m20 5h5m-165 5h5m40 0h5m115 5h5m-165 5h5m45 10h5"/>
<path stroke="#5aa4cf" stroke-width="5" d="M750 346.5h10m-15 5h10m-15 5h10m-15 5h10m-15 5h5m5 0h10m-25 5h20m-15 5h10m-15 5h10m-15 5h10m5 0h5m-25 5h10m-5 5h10m-15 5h10m-10 5h5m-5 10h5m10 40h5m95 0h5m-5 20h5m20 5h5m-120 10h5m95 10h5m0 10h5m-100 5h5m0 10h5m105 30h5m-95 10h5m90 0h5"/>
<path stroke="#61a8d1" stroke-width="5" d="M730 346.5h5m5 0h10m-25 5h20m-15 5h10m-15 5h10m-15 5h10m5 0h5m-25 5h10m-5 5h10m-15 5h10m-10 5h5m-5 10h5m-5 30h5m0 5h5m0 15h5m5 30h5m110 45h5m25 20h5m-160 10h5m5 20h5m135 5h5"/>
<path stroke="#68acd3" stroke-width="5" d="M720 346.5h10m5 0h5m-25 5h10m-5 5h10m-15 5h10m-10 5h5m-5 10h5m0 60h5m5 25h5m95 10h5m0 15h5m-100 10h5m0 10h5m115 0h5m-15 25h5m-145 5h5m0 5h5m40 10h5m-40 10h5"/>
<path stroke="#70b0d4" stroke-width="5" d="M715 346.5h5m-5 10h5m5 95h5m120 20h5m-120 10h5m100 15h5m-90 35h5m115 0h5m-120 10h5m-25 35h5"/>
<path stroke="#77b3d6" stroke-width="5" d="M845 461.5h5m-120 5h5m95 0h5m25 30h5m-120 15h5m0 10h5m105 20h5m-95 20h5m0 10h5m115 5h5"/>
<path stroke="#7eb7d8" stroke-width="5" d="M715 431.5h5m0 10h5m105 20h5m0 20h5m-115 65h5m135 5h5m-140 5h5m0 10h5m150 0h5"/>
<path stroke="#85bbda" stroke-width="5" d="M840 456.5h5m-110 30h5m0 15h5m100 5h5m20 15h5m-5 40h5m0 10h5"/>
<path stroke="#8dbedb" stroke-width="5" d="M725 456.5h5m105 0h5m-110 15h5m120 15h5m-10 30h5m-105 10h5m0 10h5m0 10h5m0 10h5m115 0h5m-120 10h5"/>
<path stroke="#94c2dd" stroke-width="5" d="M720 446.5h5m5 30h5m115 0h5m-120 15h5m100 0h5m20 20h5m-125 5h5m-25 25h5m150 5h5m-155 5h5m0 10h5m0 10h5m30 5h5"/>
<path stroke="#9cc5de" stroke-width="5" d="M725 461.5h5m105 15h5m-100 30h5m110 20h5m0 10h5"/>
<path stroke="#a3c9e0" stroke-width="5" d="M715 436.5h5m125 30h5m-5 35h5m10 0h5m-115 30h5m-35 5h5m150 0h5m-125 5h5m0 10h5m0 10h5m0 10h5m-30 5h5"/>
<path stroke="#aacde1" stroke-width="5" d="M715 441.5h5m0 10h5m110 20h5m-110 10h5m105 5h5m10 5h5m-125 5h5m110 15h5m-110 10h5m120 5h5m-145 20h5m130 0h5m0 10h5m-135 10h5m145 5h5"/>
<path stroke="#b2d0e2" stroke-width="5" d="M835 461.5h10m-120 5h5m115 5h5m-115 30h5m0 10h5m110 10h5m-145 10h5m15 25h5m145 5h5m-15 5h5m-135 5h5m130 5h5"/>
<path stroke="#bad3e3" stroke-width="5" d="M720 456.5h5m110 10h5m-115 5h5m110 10h5m5 0h5m-125 5h5m130 30h5m-120 20h5m0 10h5m120 5h5m-125 5h5m0 10h5m0 10h5"/>
<path stroke="#c1d7e4" stroke-width="5" d="M840 466.5h5m0 30h5m10 10h5m-125 10h5m0 10h5m110 5h5m-140 5h5m0 5h5m130 0h5m5 0h5m-145 10h5m0 10h5m20 10h5m-20 5h5"/>
<path stroke="#c8dae6" stroke-width="5" d="M715 446.5h5m120 30h5m5 10h5m-125 5h5m110 0h5m0 15h5m15 25h5m-120 20h5m110 0h5m-115 10h5m110 0h5m10 15h5"/>
<path stroke="#cfdee8" stroke-width="5" d="M715 451.5h5m0 10h5m115 10h5m-120 5h5m115 0h5m5 20h5m-125 10h5m115 10h5m5 5h5m-125 10h5m0 10h5m-15 15h5m135 0h5m-140 10h5m135 0h5m-10 5h5"/>
<path stroke="#d6e2eb" stroke-width="5" d="M725 481.5h5m115 0h5m-5 5h5m-120 10h5m0 15h5m0 10h5m115 5h5m-135 10h5m0 10h5m10 0h5m0 10h5m-15 5h5m10 5h5m-15 5h5m130 0h5m-125 5h5"/>
<path stroke="#dde6ed" stroke-width="5" d="M720 466.5h5m125 25h5m-5 5h5m-5 5h10m-5 10h10m0 25h10m-140 5h5m130 5h10m-140 5h5m130 0h5m-5 5h5m-125 5h5m120 0h5m-135 5h5m125 0h5m-130 5h10m-10 5h10m120 0h5"/>
<path stroke="#e4ebf0" stroke-width="5" d="M715 456.5h5m5 30h5m0 15h5m125 15h5m-5 5h5m-125 5h5m120 0h5m-5 5h5m-125 5h5m-5 5h5m120 0h5m-125 10h5m0 15h5"/>
<path stroke="#ebeff2" stroke-width="5" d="M715 461.5h5m0 10h5m130 35h5m-125 10h5m0 30h5m0 5h5m-5 5h10m-5 5h5"/>
<path stroke="#f1f3f5" stroke-width="5" d="M715 471.5h5m0 5h5m0 15h5m0 15h5m0 15h5m-25 5h5m10 5h15m-10 5h10m-5 5h5m0 5h5"/>
<path stroke="#f6f5f5" stroke-width="5" d="M715 466.5h5m10 45h5m-5 5h5m-5 10h10m-15 5h5"/>
<path stroke="#f8f2ed" stroke-width="5" d="M715 476.5h5m0 5h5m0 15h5m-5 5h5m0 20h5m-15 10h5"/>
<path stroke="#f8ede6" stroke-width="5" d="M720 486.5h5"/>
<path stroke="#f7e9df" stroke-width="5" d="M725 506.5h5"/>
<path stroke="#f6e1d0" stroke-width="5" d="M725 511.5h5"/>
<path stroke="#f6dcc9" stroke-width="5" d="M720 491.5h5"/>
<path stroke="#f5d3bb" stroke-width="5" d="M725 516.5h5m-5 5h5m-5 5h5"/>
<path stroke="#f5ceb5" stroke-width="5" d="M715 481.5h5m-5 40h5"/>
<path stroke="#f4caae" stroke-width="5" d="M720 496.5h5"/>
<path stroke="#f3ba9a" stroke-width="5" d="M720 526.5h5"/>
<path stroke="#f1b08d" stroke-width="5" d="M720 501.5h5"/>
<path stroke="#efa481" stroke-width="5" d="M715 486.5h5"/>
<path stroke="#ec9271" stroke-width="5" d="M720 506.5h5"/>
<path stroke="#e88567" stroke-width="5" d="M715 491.5h5m0 30h5"/>
<path stroke="#e4785d" stroke-width="5" d="M715 516.5h5"/>
<path stroke="#e27158" stroke-width="5" d="M720 511.5h5m-5 5h5"/>
<path stroke="#d5554c" stroke-width="5" d="M715 496.5h5"/>
<path stroke="#d24e48" stroke-width="5" d="M715 511.5h5"/>
<path stroke="#c8323a" stroke-width="5" d="M715 501.5h5"/>
<path stroke="#c62b36" stroke-width="5" d="M715 506.5h5"/></g>
<clipPath id="hc4"><rect x="1107.70" y="60.75" width="371.80" height="396.75"/></clipPath><g clip-path="url(#hc4)"><rect x="1108" y="60" width="372" height="400" fill="#254e97"/>
<path stroke="#294380" stroke-width="4" d="M1120 62h4m12 0h4m12 0h4m12 0h4m12 0h4m12 0h4m12 0h4m12 0h4m12 0h4m12 0h4m12 0h4m12 0h4m12 0h4m12 0h4m12 0h4m12 0h4m12 0h4m12 0h4m12 0h4m12 0h4m12 0h4m12 0h4m12 0h4m-312 4h4m4 0h4m4 0h4m4 0h4m4 0h4m4 0h4m4 0h4m4 0h4m4 0h4m4 0h4m4 0h4m4 0h4m4 0h4m4 0h4m4 0h4m4 0h4m4 0h4m4 0h4m4 0h4m4 0h4m4 0h4m4 0h4m4 0h4m4 0h4m4 0h4m4 0h4m4 0h4m4 0h4m4 0h4m4 0h4m4 0h4m4 0h4m4 0h4m4 0h4m4 0h4m4 0h4m4 0h4m4 0h4m4 0h4m4 0h4m-304 4h4m12 0h4m4 0h4m4 0h4m4 0h4m4 0h4m4 0h4m4 0h4m4 0h4m4 0h4m4 0h4m4 0h4m4 0h4m4 0h4m4 0h4m4 0h4m4 0h4m4 0h4m4 0h4m4 0h4m4 0h4m4 0h4m4 0h4m4 0h4m4 0h4m4 0h4m4 0h4m4 0h4m4 0h4m4 0h4m4 0h4m4 0h4m4 0h4m4 0h4m4 0h4m4 0h4m4 0h4m-304 4h4m4 0h4m4 0h4m4 0h4m4 0h4m4 0h4m4 0h4m4 0h4m4 0h4m4 0h4m4 0h4m4 0h4m4 0h4m4 0h4m4 0h4m4 0h4m4 0h4m4 0h4m4 0h4m4 0h4m4 0h4m4 0h4m4 0h4m4 0h4m4 0h4m4 0h4m4 0h4m4 0h4m4 0h4m4 0h4m4 0h4m4 0h4m4 0h4m4 0h4m4 0h4m4 0h4m4 0h4m4 0h4m4 0h4"/>
<path stroke="#274788" stroke-width="4" d="M1108 62h12m4 0h12m4 0h12m4 0h12m4 0h12m4 0h12m4 0h12m4 0h12m4 0h12m4 0h12m4 0h12m4 0h12m4 0h12m4 0h12m4 0h12m4 0h12m4 0h12m4 0h12m4 0h12m4 0h12m4 0h12m4 0h12m4 0h12m4 0h4m-324 4h8m4 0h4m4 0h4m4 0h4m4 0h4m4 0h4m4 0h4m4 0h4m4 0h4m4 0h4m4 0h4m4 0h4m4 0h4m4 0h4m4 0h4m4 0h4m4 0h4m4 0h4m4 0h4m4 0h4m4 0h4m4 0h4m4 0h4m4 0h4m4 0h4m4 0h4m4 0h4m4 0h4m4 0h4m4 0h4m4 0h4m4 0h4m4 0h4m4 0h4m4 0h4m4 0h4m4 0h4m4 0h4m4 0h4m4 0h4m-324 4h4m4 0h16m4 0h12m4 0h4m4 0h4m4 0h4m4 0h4m4 0h4m4 0h4m4 0h4m4 0h4m4 0h4m4 0h4m4 0h4m4 0h4m4 0h4m4 0h4m4 0h4m4 0h4m4 0h4m4 0h4m4 0h4m4 0h4m4 0h4m4 0h4m4 0h4m4 0h4m4 0h4m4 0h4m4 0h4m4 0h4m4 0h4m4 0h4m4 0h4m4 0h4m4 0h4m4 0h4m4 0h4m4 0h4m-324 4h16m4 0h4m4 0h4m4 0h4m4 0h4m4 0h4m4 0h4m4 0h4m4 0h4m4 0h4m4 0h4m4 0h4m4 0h4m4 0h4m4 0h4m4 0h4m4 0h4m4 0h4m4 0h4m4 0h4m4 0h4m4 0h4m4 0h4m4 0h4m4 0h4m4 0h4m4 0h4m4 0h4m4 0h4m4 0h4m4 0h4m4 0h4m4 0h4m4 0h4m4 0h4m4 0h4m4 0h4m4 0h4m4 0h4m-228 4h4m12 0h4m12 0h4m12 0h4m12 0h4m12 0h4m12 0h4m12 0h4m12 0h4m12 0h4m12 0h4m12 0h4m12 0h4m12 0h4m12 0h4m-240 4h4m4 0h4m4 0h4m4 0h4m4 0h4m4 0h4m4 0h4m4 0h4m4 0h4m4 0h4m4 0h4m4 0h4m4 0h4m4 0h4m4 0h4m4 0h4m4 0h4m4 0h4m4 0h4m4 0h4m4 0h4m4 0h4m4 0h4m4 0h4m4 0h4m4 0h4m4 0h4m4 0h4m4 0h4m4 0h4m4 0h4"/>
<path stroke="#264a8f" stroke-width="4" d="M1148 66h8m-8 4h4m4 0h4m-12 4h8m76 4h16m4 0h12m4 0h12m4 0h12m4 0h12m4 0h12m4 0h12m4 0h12m4 0h12m4 0h12m4 0h12m4 0h12m4 0h12m4 0h12m4 0h12m4 0h4m-248 4h4m4 0h4m4 0h4m4 0h4m4 0h4m4 0h4m4 0h4m4 0h4m4 0h4m4 0h4m4 0h4m4 0h4m4 0h4m4 0h4m4 0h4m4 0h4m4 0h4m4 0h4m4 0h4m4 0h4m4 0h4m4 0h4m4 0h4m4 0h4m4 0h4m4 0h4m4 0h4m4 0h4m4 0h4m4 0h4m4 0h4m-80 8h4m12 0h4m12 0h4m12 0h4m12 0h4m12 0h4m-76 8h4m12 0h4m12 0h4m12 0h4m12 0h4m-76 8h4m12 0h4m12 0h4m12 0h4m12 0h4m12 0h4m-76 8h4m12 0h4m12 0h4m12 0h4m12 0h4m-76 8h4m12 0h4m12 0h4m12 0h4m12 0h4m12 0h4m-76 8h4m12 0h4m12 0h4m12 0h4m12 0h4m-76 8h4m12 0h4m12 0h4m12 0h4m12 0h4m12 0h4m-76 8h4m12 0h4m12 0h4m12 0h4m12 0h4m-76 8h4m12 0h4m12 0h4m12 0h4m12 0h4m12 0h4m-76 8h4m12 0h4m12 0h4m12 0h4m12 0h4m-76 8h4m12 0h4m12 0h4m12 0h4m12 0h4m12 0h4m-76 8h4m12 0h4m12 0h4m12 0h4m12 0h4m-76 8h4m12 0h4m12 0h4m12 0h4m12 0h4m12 0h4m-76 8h4m12 0h4m12 0h4m12 0h4m12 0h4m-76 8h4m12 0h4m12 0h4m12 0h4m12 0h4m12 0h4m-76 8h4m12 0h4m12 0h4m12 0h4m12 0h4m-76 8h4m12 0h4m12 0h4m12 0h4m12 0h4m12 0h4m-76 8h4m12 0h4m12 0h4m12 0h4m12 0h4m-76 8h4m12 0h4m12 0h4m12 0h4m12 0h4m12 0h4m-76 8h4m12 0h4m12 0h4m12 0h4m12 0h4m-76 8h4m12 0h4m12 0h4m12 0h4m12 0h4m12 0h4"/>
<path stroke="#23519e" stroke-width="4" d="M1140 66h4m-4 4h4m84 8h4m-4 4h4m40 4h4m4 0h4m4 0h4m4 0h4m4 0h4m4 0h40m4 0h4m4 0h4m4 0h4m-100 4h4m4 0h64m4 0h4m4 0h4m-84 4h4m4 0h4m4 0h4m4 0h4m4 0h4m4 0h40m4 0h4m4 0h4m4 0h4m-100 4h4m4 0h56m4 0h4m4 0h4m4 0h4m-84 4h4m4 0h4m4 0h4m4 0h40m4 0h4m4 0h4m4 0h4m-92 4h4m4 0h56m4 0h4m4 0h4m-68 4h4m4 0h4m4 0h4m4 0h40m4 0h4m4 0h4m4 0h4m-92 4h56m4 0h4m4 0h4m4 0h4m-76 4h4m4 0h4m4 0h40m4 0h4m4 0h4m4 0h4m-84 4h4m4 0h48m4 0h4m4 0h4m-68 4h4m4 0h4m4 0h4m4 0h40m4 0h4m4 0h4m4 0h4m-84 4h4m4 0h40m4 0h4m4 0h4m4 0h4m-68 4h4m4 0h40m4 0h4m4 0h4m4 0h4m-76 4h4m4 0h40m4 0h4m4 0h4m-60 4h4m4 0h4m4 0h40m4 0h4m4 0h4m4 0h4m-76 4h40m4 0h4m4 0h4m4 0h4m-68 4h4m4 0h40m4 0h4m4 0h4m4 0h4m-76 4h4m4 0h40m4 0h4m4 0h4m-52 4h4m4 0h40m4 0h4m4 0h4m4 0h4m-76 4h40m4 0h4m4 0h4m4 0h4m-60 4h40m4 0h4m4 0h4m4 0h4m-68 4h4m4 0h32m4 0h4m4 0h4m-52 4h4m4 0h40m4 0h4m4 0h4m4 0h4m-68 4h32m4 0h4m4 0h4m4 0h4m-52 4h4m4 0h24m4 0h4m4 0h4m4 0h4m-60 4h32m4 0h4m4 0h4m-44 4h4m4 0h32m4 0h4m4 0h4m4 0h4m-60 4h24m4 0h4m4 0h4m4 0h4m-52 4h4m4 0h24m4 0h4m4 0h4m4 0h4m-52 4h24m4 0h4m4 0h4m-36 4h4m4 0h24m4 0h4m4 0h4m4 0h4m-60 4h24m4 0h4m4 0h4m4 0h4m-44 4h24m4 0h4m4 0h4m4 0h4m-52 4h4m4 0h16m4 0h4m4 0h4m-36 4h4m4 0h24m4 0h4m4 0h4m4 0h4m-60 4h4m4 0h16m4 0h4m4 0h4m4 0h4m-44 4h4m4 0h16m4 0h4m4 0h4m4 0h4m-44 4h16m4 0h4m4 0h4m-36 4h4m4 0h24m4 0h4m4 0h4m4 0h4m-52 4h16m4 0h4m4 0h4m4 0h4m-36 4h16m4 0h4m4 0h4m4 0h4m-44 4h16m4 0h4m4 0h4m-36 4h4m4 0h24m4 0h4m4 0h4m4 0h4m4 0h4m-68 4h4m4 0h24m4 0h4m4 0h4m4 0h4m4 0h4m-60 4h40m4 0h4m4 0h4m4 0h4m12 0h4m12 0h4m12 0h4m12 0h4m12 0h4m-148 4h4m4 0h32m4 0h4m4 0h4m-52 4h4m4 0h12m4 0h40m4 0h4m4 0h4m4 0h4m4 0h4m4 0h4m4 0h4m4 0h4m4 0h4m4 0h4m4 0h4m4 0h4m-148 4h40m4 0h4m4 0h4m4 0h4m4 0h4m12 0h4m12 0h4m12 0h4m12 0h4m-132 4h4m4 0h40m4 0h4m4 0h4m4 0h4m4 0h4m4 0h4m4 0h4m4 0h4m4 0h4m4 0h4m4 0h4m4 0h4m4 0h4m-148 4h48m4 0h4m4 0h4m4 0h4m4 0h4m4 0h4m4 0h4m4 0h4m4 0h4m4 0h4m4 0h4m4 0h4m4 0h4m-140 4h4m4 0h4m4 0h12m4 0h40m4 0h12m4 0h12m4 0h12m4 0h12m4 0h4m-148 4h4m4 0h48m4 0h4m4 0h4m4 0h4m4 0h4m4 0h4m4 0h4m4 0h4m4 0h4m4 0h4m4 0h4m4 0h4m-140 4h4m4 0h4m4 0h4m4 0h120m-148 4h4m4 0h56m4 0h4m4 0h4m4 0h4m4 0h4m4 0h4m4 0h4m4 0h4m4 0h4m4 0h4m4 0h4m-132 4h4m4 0h4m4 0h4m4 0h12m4 0h96m-140 4h12m4 0h124m-144 4h4m4 0h4m4 0h4m4 0h4m4 0h4m4 0h12m4 0h88m-140 4h4m4 0h132m-136 4h4m4 0h4m4 0h4m4 0h4m4 0h4m4 0h4m4 0h4m4 0h12m4 0h12m4 0h12m4 0h12m4 0h12m-136 4h4m4 0h4m4 0h12m4 0h108m-136 4h4m4 0h4m4 0h4m4 0h4m4 0h4m4 0h4m4 0h12m4 0h12m4 0h12m4 0h12m4 0h12m4 0h8m-140 4h4m4 0h4m4 0h4m4 0h12m4 0h100m-136 4h4m12 0h4m4 0h4m4 0h4m4 0h4m4 0h4m4 0h4m4 0h4m4 0h4m4 0h4m4 0h4m4 0h4m4 0h4m4 0h4m4 0h4m4 0h4m-136 4h4m4 0h4m4 0h4m4 0h4m4 0h4m4 0h4m4 0h92m-128 4h4m4 0h4m4 0h4m4 0h4m4 0h4m4 0h4m4 0h4m4 0h4m4 0h4m4 0h4m4 0h4m4 0h4m4 0h4m4 0h4m4 0h4m4 0h4m-136 4h4m4 0h4m4 0h4m4 0h4m4 0h4m4 0h12m4 0h84m-136 4h4m12 0h4m12 0h4m4 0h4m4 0h4m4 0h4m4 0h4m4 0h4m4 0h4m4 0h4m4 0h4m4 0h4m4 0h4m4 0h4m4 0h4m-136 4h4m4 0h4m4 0h4m4 0h4m4 0h4m4 0h4m4 0h4m4 0h4m4 0h12m4 0h12m4 0h12m4 0h12m4 0h12m-112 4h4m4 0h4m4 0h4m4 0h4m4 0h4m4 0h4m4 0h4m4 0h4m4 0h4m4 0h4m4 0h4m4 0h4m4 0h4m4 0h4m-144 4h4m4 0h4m4 0h4m4 0h4m4 0h4m4 0h4m4 0h4m4 0h4m4 0h12m4 0h12m4 0h12m4 0h12m4 0h12m4 0h4m-104 4h4m12 0h4m4 0h4m4 0h4m4 0h4m4 0h4m4 0h4m4 0h4m4 0h4m4 0h4m4 0h4m4 0h4m-136 4h4m12 0h4m4 0h4m4 0h4m4 0h4m4 0h4m4 0h4m4 0h4m4 0h4m4 0h4m4 0h4m4 0h4m4 0h4m4 0h4m4 0h4m4 0h4m4 0h4m-96 4h4m4 0h4m4 0h4m4 0h4m4 0h4m4 0h4m4 0h4m4 0h4m4 0h4m4 0h4m4 0h4m4 0h4m-128 4h4m12 0h4m4 0h4m4 0h4m4 0h4m4 0h4m4 0h4m4 0h4m4 0h4m4 0h4m4 0h4m4 0h4m4 0h4m4 0h4m4 0h4m4 0h4m-88 4h4m12 0h4m12 0h4m12 0h4m12 0h4m12 0h4m-104 4h4m4 0h4m4 0h4m4 0h4m4 0h4m4 0h4m4 0h4m4 0h4m4 0h4m4 0h4m4 0h4m4 0h4m4 0h4m4 0h4m-80 4h4m12 0h4m12 0h4m12 0h4m12 0h4m-104 4h4m12 0h4m4 0h4m4 0h4m4 0h4m4 0h4m4 0h4m4 0h4m4 0h4m4 0h4m4 0h4m4 0h4m4 0h4m4 0h4m-92 8h4m12 0h4m4 0h4m4 0h4m4 0h4m4 0h4m4 0h4m4 0h4m4 0h4m4 0h4m4 0h4m-100 8h4m12 0h4m4 0h4m4 0h4m4 0h4m4 0h4m4 0h4m4 0h4m4 0h4m4 0h4m4 0h4m4 0h4m-76 8h4m12 0h4m12 0h4m12 0h4m12 0h4m-60 8h4m12 0h4m12 0h4m12 0h4m12 0h4"/>
<path stroke="#2557a4" stroke-width="4" d="M1132 66h8m-4 4h4m-8 4h8m84 4h4m-8 4h8m36 4h8m4 0h4m4 0h4m4 0h4m4 0h4m4 0h4m-44 4h8m4 0h4m-12 4h8m4 0h4m4 0h4m4 0h4m4 0h4m4 0h4m-48 4h12m4 0h4m-20 4h16m4 0h4m4 0h4m4 0h4m-36 4h8m4 0h4m-12 4h16m4 0h4m4 0h4m4 0h4m-36 4h8m-4 4h8m4 0h4m4 0h4m-28 4h8m4 0h4m-12 4h8m4 0h4m4 0h4m4 0h4m-28 4h8m4 0h4m-12 4h8m4 0h4m-20 4h8m4 0h4m-12 4h8m4 0h4m4 0h4m-24 4h12m-12 4h8m4 0h4m-8 4h4m-12 4h16m4 0h4m-20 4h8m-8 4h12m-12 4h8m4 0h4m-12 4h8m4 0h4m-12 4h8m-4 4h8m4 0h4m-20 4h8m-4 4h8m4 0h4m-20 4h16m-12 4h8m4 0h4m-12 4h8m-4 4h8m4 0h4m-20 4h8m-4 4h8m-12 4h8m4 0h4m-12 4h8m4 0h4m-8 4h4m-12 4h8m4 0h4m-12 4h8m-8 4h4m4 0h4m-12 4h8m-12 4h16m-12 4h8m-12 4h8m4 0h4m-16 4h4m4 0h4m-12 4h8m-12 4h8m4 0h4m-12 4h8m4 0h4m12 0h4m-28 4h8m-12 4h16m4 0h4m-20 4h8m-4 4h8m4 0h4m4 0h4m12 0h4m-44 4h8m4 0h4m-12 4h8m4 0h4m4 0h4m4 0h4m-36 4h8m4 0h4m-12 4h16m4 0h4m4 0h4m4 0h4m12 0h4m-56 4h12m12 0h4m-28 4h8m4 0h4m4 0h4m4 0h4m4 0h4m4 0h4m12 0h4m-60 4h8m4 0h4m-12 4h8m4 0h4m4 0h4m4 0h4m4 0h4m4 0h4m4 0h4m4 0h4m12 0h4m12 0h4m12 0h4m12 0h4m12 0h4m-148 4h8m4 0h4m4 0h4m12 0h4m-36 4h8m4 0h4m4 0h4m4 0h4m4 0h4m4 0h4m4 0h4m12 0h4m12 0h4m12 0h4m12 0h4m12 0h4m-140 4h8m4 0h4m4 0h4m4 0h4m12 0h4m-44 4h8m4 0h12m4 0h4m4 0h4m4 0h4m4 0h4m4 0h4m4 0h4m4 0h4m4 0h4m4 0h4m4 0h4m4 0h4m4 0h4m4 0h4m4 0h4m4 0h4m-148 4h8m4 0h4m4 0h4m4 0h4m4 0h4m4 0h4m4 0h4m-52 4h16m4 0h4m4 0h4m4 0h4m4 0h4m4 0h4m4 0h4m4 0h4m4 0h4m4 0h4m4 0h4m4 0h4m4 0h4m4 0h4m4 0h4m4 0h4m4 0h4m-148 4h8m4 0h4m4 0h4m4 0h4m4 0h4m4 0h4m12 0h4m-60 4h8m4 0h12m4 0h12m4 0h4m4 0h4m4 0h4m4 0h4m4 0h4m4 0h4m4 0h4m4 0h4m4 0h4m4 0h4m4 0h4m4 0h4m4 0h4m-148 4h8m4 0h4m4 0h4m4 0h4m4 0h4m4 0h4m4 0h4m4 0h4m4 0h4m12 0h4m12 0h4m12 0h4m12 0h4m-140 4h40m4 0h4m4 0h4m4 0h4m4 0h4m4 0h4m4 0h4m4 0h4m4 0h4m4 0h4m4 0h4m4 0h4m4 0h4m4 0h4m4 0h4m-156 4h8m4 0h4m4 0h4m4 0h4m4 0h4m4 0h4m4 0h4m4 0h4m4 0h4m12 0h4m12 0h4m12 0h4m12 0h4m12 0h4m-148 4h48m4 0h12m4 0h4m4 0h4m4 0h4m4 0h4m4 0h4m4 0h4m4 0h4m4 0h4m4 0h4m4 0h4m4 0h4m-152 4h12m4 0h12m4 0h4m4 0h4m4 0h4m4 0h4m4 0h4m4 0h4m4 0h4m4 0h4m4 0h4m4 0h4m4 0h4m4 0h4m4 0h4m4 0h4m4 0h4m-148 4h56m4 0h4m4 0h4m4 0h4m4 0h4m4 0h4m4 0h4m4 0h4m4 0h4m4 0h4m4 0h4m4 0h4m4 0h4m-148 4h16m4 0h12m4 0h4m4 0h4m4 0h4m4 0h4m4 0h4m4 0h4m4 0h4m4 0h4m4 0h4m4 0h4m4 0h4m4 0h4m4 0h4m4 0h4m-140 4h56m4 0h12m4 0h12m4 0h12m4 0h12m4 0h12m4 0h4m-140 4h32m4 0h4m4 0h4m4 0h4m4 0h4m4 0h4m4 0h4m4 0h4m4 0h4m4 0h4m4 0h4m4 0h4m4 0h4m4 0h4m-132 4h56m4 0h12m4 0h12m4 0h12m4 0h12m4 0h12m-140 4h24m4 0h12m4 0h4m4 0h4m4 0h4m4 0h4m4 0h4m4 0h4m4 0h4m4 0h4m4 0h4m4 0h4m4 0h4m4 0h4m-132 4h4m4 0h128m-132 4h40m4 0h12m4 0h4m4 0h4m4 0h4m4 0h4m4 0h4m4 0h4m4 0h4m4 0h4m4 0h4m-124 4h128m-128 4h28m4 0h12m4 0h4m4 0h4m4 0h4m4 0h4m4 0h4m4 0h4m4 0h4m4 0h4m4 0h4m4 0h4m-116 4h4m4 0h112m-124 4h48m4 0h12m4 0h12m4 0h12m4 0h12m4 0h8m-120 4h12m4 0h104m-116 4h48m4 0h12m4 0h12m4 0h12m4 0h12m-108 4h4m4 0h4m4 0h96m-112 4h112m-112 4h4m4 0h12m4 0h88m-108 4h108m-104 4h4m4 0h4m4 0h4m4 0h12m4 0h12m4 0h12m4 0h12m4 0h12m-100 4h104m-104 4h4m4 0h4m4 0h12m4 0h12m4 0h12m4 0h12m4 0h12m4 0h8m-100 4h100"/>
<path stroke="#285ea8" stroke-width="4" d="M1132 70h4m80 8h8m-12 4h8m36 4h8m-4 4h8m-4 4h8m-12 4h12m-4 4h4m-4 4h8m-4 4h8m-4 4h8m-4 4h8m-12 4h8m-4 4h8m-4 4h8m-4 4h8m-12 4h8m-4 4h8m-4 4h4m-4 4h4m-4 4h8m-8 8h8m-4 4h4m-8 4h8m-4 4h8m-4 4h8m-4 4h8m-12 4h8m-4 4h8m-4 8h4m-4 4h8m-4 4h8m-12 4h8m-4 4h8m-8 8h8m-4 4h8m-8 8h8m-4 4h4m-8 4h8m-8 8h8m-8 8h4m-8 4h8m-4 8h4m-4 4h8m-8 8h8m-4 4h8m-12 4h8m-4 4h8m-8 4h4m0 4h4m-4 4h4m-4 8h8m-4 4h8m-12 4h8m-4 4h8m-8 4h4m-4 4h8m-8 4h4m-4 4h8m-12 4h8m-4 4h8m-12 4h8m-8 4h4m-4 8h4m-4 4h4m0 8h4m-4 4h8m-4 4h8m-4 4h8m4 8h4m-8 4h4m-4 4h8m-4 4h4m0 4h8m4 0h4m4 8h4m-20 4h8m-4 4h8m4 0h4m4 0h4m-100 4h4m76 0h4m4 4h4m12 0h4m-108 4h4m80 0h4m-84 4h4m76 0h8m4 0h4m4 0h4m4 0h4m12 0h4m12 0h4m12 0h4m12 0h4m12 0h4m-192 4h4m80 0h4m-88 4h4m88 0h4m4 0h4m12 0h4m12 0h4m12 0h4m12 0h4m12 0h4m-184 4h8m76 0h8"/>
<path stroke="#2a64ad" stroke-width="4" d="M1128 66h4m-4 4h4m-4 4h4m76 4h8m32 8h8m-4 4h8m-4 4h8m-12 4h4m0 4h4m4 0h4m-8 4h8m-4 4h8m-4 4h8m-4 4h8m-12 4h8m-4 4h8m-4 4h8m-4 4h8m-12 4h8m-4 4h8m-4 4h8m-4 4h4m-8 4h8m-4 4h8m-12 4h8m-4 4h8m-12 4h8m0 4h4m-4 4h8m-4 4h8m-12 4h8m-4 4h8m-4 4h8m-4 4h4m-8 4h8m-4 4h8m-8 8h8m-4 4h8m-8 8h8m-4 4h8m-12 4h8m-4 4h8m-12 4h8m-4 4h8m-12 4h8m-4 4h8m-12 4h8m-12 4h8m-4 4h8m-4 4h4m-8 4h8m-4 4h8m-12 4h8m-4 4h8m-8 4h4m-4 4h8m-4 4h4m0 4h4m-8 4h8m-4 4h8m-12 4h8m-4 4h8m-8 8h8m-4 4h4m-4 4h4m-4 4h4m-8 4h8m-12 4h8m-4 4h8m-12 4h8m-4 4h4m-4 4h4m-4 4h4m0 8h4m-4 4h4m4 12h4m-44 4h4m36 0h8m-44 4h4m36 0h8m-44 4h4m36 0h4m-68 8h4m20 0h8m36 0h4m-68 4h4m64 0h4m-76 4h8m24 0h4m36 0h8m-76 4h4m28 0h4m36 0h8m-80 4h8m28 0h4m-40 4h8m-8 4h4m32 0h8m36 0h4m-80 4h8m28 0h4m36 0h8m-80 4h4m32 0h4m36 0h4m-84 4h4m40 0h4m-48 4h4m4 0h4m32 0h4m36 0h4m-80 4h4m36 0h4m32 0h8m-44 4h4"/>
<path stroke="#2a6bb1" stroke-width="4" d="M1116 66h4m4 0h4m-20 8h4m12 0h4m72 4h8m-12 4h16m28 4h8m-4 4h8m-4 4h8m-8 4h4m4 0h4m-8 4h4m4 0h4m-12 4h8m-4 4h8m-4 4h8m-4 4h8m-8 4h4m-4 4h8m-4 4h8m-4 4h8m-8 4h4m0 4h4m-4 4h8m-4 4h8m-12 4h8m-4 4h8m-8 4h4m-4 4h8m0 8h4m-8 4h8m-4 4h8m-4 8h4m-4 4h8m-4 4h8m-8 4h4m-4 4h8m-4 4h8m-8 4h4m-4 4h8m-4 4h8m-12 4h8m-4 4h8m-8 4h4m-4 4h8m-8 8h8m-8 4h4m-4 4h8m-12 4h8m-8 8h8m-4 4h8m-8 4h4m-4 4h8m-8 4h4m0 4h4m-4 4h4m-4 4h4m-4 4h8m-4 4h8m-12 4h8m-4 4h8m-8 4h4m-4 4h8m-4 4h8m-8 4h4m-4 4h8m-4 4h4m-8 4h8m-8 4h4m-8 8h8m-44 4h4m36 4h4m-44 4h8m32 0h4m-40 4h4m-4 4h8m32 0h4m-44 4h8m32 0h4m-40 4h8m-4 4h4m32 0h4m-44 4h12m28 0h8m-44 4h8m32 0h4m-48 4h8m4 0h4m-28 4h4m12 0h8m-20 4h4m12 0h8m36 0h4m-68 4h8m16 0h8m36 0h4m-64 4h4m56 0h4m-68 4h4m24 0h8m32 0h4m-64 4h4m12 0h8m-32 4h4m4 0h4m16 0h8m-36 4h4m28 0h8m36 0h4m-44 4h8m36 0h4m-72 4h4m20 0h4m40 0h4m-80 4h4m32 0h4m-40 4h4m8 0h4m20 0h8m36 0h4m-72 4h4m24 0h8m36 0h4m-44 4h4m36 0h4m-84 4h4m40 0h4m-48 4h4m8 0h4m24 0h8m36 0h4"/>
<path stroke="#2a73b5" stroke-width="4" d="M1108 66h8m4 0h4m-16 4h20m-16 4h12m72 4h4m36 8h4m-4 4h8m-4 4h8m-4 4h4m0 4h4m-4 4h4m0 4h4m-4 4h8m-4 4h8m-4 4h4m0 8h4m0 4h4m-4 4h4m0 4h4m-4 4h4m-4 4h8m-4 8h4m-4 4h4m0 8h4m-4 4h8m-4 8h4m-4 4h8m-4 4h4m0 8h4m-4 4h4m0 8h4m-4 4h4m0 8h4m-4 8h4m-4 4h4m-4 8h8m-8 8h4m-4 4h4m-8 4h4m-4 4h8m-4 8h4m-4 4h4m-4 4h4m-4 4h4m0 4h4m-4 4h4m-4 4h4m-4 4h4m0 4h4m-4 12h4m0 8h4m-4 4h4m-4 4h4m-4 4h8m-12 4h8m-4 4h4m-8 4h8m-8 8h8m-40 4h4m32 0h4m-4 4h4m-40 4h4m36 0h4m-44 4h4m36 0h4m-48 4h4m-8 4h4m4 0h8m36 0h4m-52 4h16m-20 4h16m-12 4h4m4 0h8m-16 4h12m-8 4h12m44 0h4m-64 4h4m4 0h12m-12 4h4m4 0h8m8 0h4m28 0h4m-68 4h4m8 0h4m4 0h8m-4 4h8m-8 4h4m12 0h4m28 0h4m-48 4h4m44 0h4m-48 4h4m40 0h4m-76 4h4m8 0h4m12 0h8m40 0h4m-48 4h4m0 4h4m8 0h4m28 0h4m-48 4h4m-36 4h4m32 0h4m40 0h4m-44 4h4m-28 4h4m20 0h8m36 0h4m-32 4h4"/>
<path stroke="#2d79b9" stroke-width="4" d="M1192 78h4m-8 4h8m36 4h4m4 12h4m0 4h4m-4 4h4m0 4h4m4 12h4m0 4h4m-4 4h4m0 4h4m-4 4h4m0 4h4m-4 4h4m0 8h4m-4 4h4m0 8h4m-4 4h4m0 8h4m-4 4h4m4 12h4m-4 4h4m0 8h4m-4 4h4m0 8h4m-4 4h4m-4 4h4m-4 4h4m0 8h4m-4 8h4m-8 8h4m-8 4h4m0 8h4m-4 4h4m-4 4h4m0 12h4m-4 4h4m0 12h4m0 8h4m-4 8h4m-4 4h4m-4 8h4m-4 4h4m-8 8h8m-40 4h4m-4 4h4m32 0h4m-40 4h4m-4 4h4m-8 4h8m-4 4h4m36 0h4m-48 4h8m0 4h4m36 0h4m-48 4h4m-8 4h4m48 0h4m-56 8h4m4 0h4m-12 4h4m56 0h4m0 8h4m-52 4h4m0 4h4m-20 4h4m8 0h4m4 0h4m44 0h4m-56 8h4m-4 4h4m8 0h4m16 4h4m-48 4h4m12 0h4m56 0h4m-64 4h4m12 0h4m44 4h4m-80 8h4m12 0h4m16 0h4m12 0h4m-16 8h4m40 0h4"/>
<path stroke="#3280bc" stroke-width="4" d="M1184 78h8m40 12h4m0 4h4m-4 4h4m0 4h4m4 12h4m0 4h4m-4 4h4m0 4h4m0 8h4m-4 4h4m0 4h4m0 8h4m-4 4h4m0 8h4m-4 4h4m0 8h4m-4 4h4m0 8h4m0 4h4m-4 4h4m0 8h4m-4 4h4m0 8h4m-4 4h4m-4 8h4m0 8h4m-4 4h4m-4 4h4m-4 4h4m-4 4h4m-8 12h4m-4 4h4m0 12h4m-4 4h4m-4 4h4m0 8h4m-4 4h4m0 8h4m-4 4h4m-4 4h4m-4 4h4m-8 4h8m-36 4h4m28 0h8m-12 4h8m-4 4h4m-40 4h4m28 0h8m-40 8h4m28 0h8m-4 4h4m-40 4h4m-4 4h4m36 0h4m-4 4h4m-44 4h4m40 4h4m-48 4h4m44 4h4m4 12h4m-60 8h4m28 0h4m24 0h4m-64 4h4m64 8h4m-52 4h4m-20 4h4m16 0h4m44 0h4m-72 4h4m20 0h4m44 0h4m-44 12h4m20 8h4m-36 4h4m12 0h4m44 4h4m-84 4h4m16 4h4"/>
<path stroke="#3686bf" stroke-width="4" d="M1180 82h8m36 4h8m-4 4h4m0 4h4m0 8h4m0 4h4m0 4h4m-4 4h4m0 4h4m4 12h4m-4 4h4m4 12h4m-4 4h4m0 8h4m-4 4h4m0 8h4m-4 4h4m0 8h4m-4 4h4m0 4h4m0 8h4m-4 4h4m0 8h4m-4 4h4m0 8h4m-4 12h4m-4 8h4m-4 8h4m-4 4h4m-8 8h4m0 8h4m-4 4h4m0 16h4m-4 4h4m0 8h4m-4 4h4m-4 8h4m-8 4h8m-12 4h8m-4 4h8m-36 4h4m20 0h8m-32 4h4m24 0h8m-8 4h4m-32 4h8m24 0h4m-36 8h4m32 4h4m-44 4h4m12 0h4m-20 4h4m-4 4h4m16 0h4m-24 4h4m-4 4h4m20 0h4m-28 4h4m-4 4h4m24 0h4m24 4h4m-28 4h4m24 4h4m4 12h4m-28 4h4m-24 8h4m0 12h4m52 0h4m-76 8h4m72 0h4m-80 4h4m16 0h4m8 0h4m44 4h4m-44 8h4m40 0h4m-84 4h4"/>
<path stroke="#3a8dc2" stroke-width="4" d="M1176 78h8m44 16h4m0 4h4m0 8h4m0 4h4m4 12h4m0 4h4m-4 4h4m0 8h4m0 4h4m-4 4h4m0 8h4m0 12h4m-4 4h4m0 8h4m4 16h4m-4 4h4m0 8h4m-4 4h4m0 8h4m-4 4h4m0 8h4m-4 8h4m-4 8h4m-8 8h4m-4 4h4m-4 8h4m0 12h4m-4 4h4m0 16h4m-4 4h4m0 8h4m-8 4h4m-12 4h8m-8 4h4m0 4h4m0 16h4m-36 4h4m-4 4h4m8 0h4m20 0h4m-40 4h4m36 4h4m0 8h4m0 8h4m0 8h4m0 8h4m4 12h4m-64 4h4m60 4h4m0 4h4m-48 8h4m20 0h4m-48 4h4m16 0h8m44 0h4m-48 4h4m44 4h4m-48 4h4m44 4h4m0 8h4m-60 4h4m56 4h4"/>
<path stroke="#4092c4" stroke-width="4" d="M1176 82h4m40 4h4m0 4h4m0 8h4m0 4h4m4 12h4m0 4h4m-4 4h4m0 4h4m4 16h4m4 16h4m4 24h4m0 8h4m8 36h4m-4 4h4m-4 20h4m-4 20h4m0 16h4m-4 4h4m0 16h4m-8 8h4m-12 8h4m0 4h4m-20 4h4m16 4h4m-32 4h4m-4 4h4m40 28h4m-48 16h4m48 0h4m-52 24h4m68 12h4m0 8h4m-24 4h4m-32 4h4m-24 8h4m20 4h4m8 0h4m0 8h4"/>
<path stroke="#4796c7" stroke-width="4" d="M1172 78h4m-4 4h4m44 8h4m0 4h4m4 12h4m0 4h4m0 8h4m4 12h4m0 4h4m-4 4h4m4 12h4m-4 4h4m0 8h4m0 12h4m-4 4h4m0 8h4m0 8h4m0 8h4m-4 4h4m0 8h4m-4 4h4m0 16h4m-4 12h4m-8 12h4m0 16h4m-4 4h4m0 16h4m-4 4h4m0 12h4m-12 4h4m-28 20h4m24 4h4m0 8h4m0 8h4m0 8h4m4 16h4m-52 12h4m56 8h4m0 8h4m4 12h4m-68 12h4m20 0h4m0 4h4"/>
<path stroke="#4d9bc9" stroke-width="4" d="M1168 78h4m44 8h4m16 28h4m16 32h4m4 20h4m20 72h4m-4 4h4m-8 20h4m-4 4h4m0 16h4m-8 36h4m-8 4h4m-16 4h4m-8 4h4m-8 16h4m-4 8h4m56 40h4m-20 8h4m32 24h4m-48 8h4m48 4h4m-52 8h4m4 0h4m40 0h4m-80 4h4m56 4h4m16 0h4m-56 4h4"/>
<path stroke="#54a0cc" stroke-width="4" d="M1168 82h4m52 16h4m0 4h4m0 8h4m8 16h4m0 8h4m4 16h4m0 8h4m0 12h4m0 12h4m0 8h4m0 8h4m0 12h4m0 12h4m-4 4h4m-4 24h4m-4 4h4m0 32h4m0 16h4m-4 8h4m-16 8h4m-8 4h4m8 8h4m-32 8h4m8 0h4m-16 4h4m-4 8h4m32 0h4m-40 8h4m36 0h4m-44 4h4m40 4h4m0 8h4m0 8h4m-52 12h4m56 8h4m-60 12h4m40 0h4m16 0h4m0 8h4m-68 12h4m68 0h4m-48 8h8m40 0h4m-48 12h4m4 0h4m40 4h4"/>
<path stroke="#5aa4cf" stroke-width="4" d="M1120 78h4m12 0h4m12 0h4m-48 4h4m4 0h4m4 0h4m4 0h4m4 0h4m4 0h4m4 0h4m4 0h4m48 8h4m0 4h4m4 12h4m8 16h4m0 8h4m4 12h4m4 20h4m0 12h4m0 12h4m4 16h4m0 12h4m0 56h4m-4 4h4m0 16h4m0 16h4m-8 4h4m-8 4h4m-16 8h4m8 4h4m-28 8h4m28 8h4m-36 24h4m-4 4h4m52 20h4m0 8h4m4 12h4m-64 8h4m0 20h4m24 0h4m28 8h4m16 4h4m-80 4h4"/>
<path stroke="#61a8d1" stroke-width="4" d="M1108 78h12m4 0h12m4 0h12m4 0h12m-56 4h4m4 0h4m4 0h4m4 0h4m4 0h4m4 0h4m4 0h4m48 4h4m8 16h4m8 16h4m8 20h4m0 8h4m0 8h4m12 40h4m4 24h4m0 12h4m-4 4h4m-8 24h4m0 20h4m0 16h4m-28 32h4m-8 4h4m8 4h4m12 0h4m-16 12h4m4 16h4m12 0h4m4 16h4m0 8h4m-52 12h4m64 20h4m-16 8h4m16 4h4m-40 20h8m-36 8h4"/>
<path stroke="#68acd3" stroke-width="4" d="M1212 90h4m0 4h4m0 4h4m8 16h4m4 12h4m12 32h4m0 8h4m0 12h4m4 20h4m0 8h4m4 36h4m-4 4h4m-8 8h4m-4 8h4m0 20h4m0 16h4m0 48h4m-16 8h4m12 0h4m-12 16h4m12 0h4m-48 4h4m-4 4h4m28 0h4m4 16h4m12 0h4m4 12h4m-60 16h4m72 16h4m-44 8h4m44 8h4m-48 4h4"/>
<path stroke="#70b0d4" stroke-width="4" d="M1208 86h4m16 24h4m4 12h4m4 12h4m0 8h4m0 8h4m4 20h4m0 12h4m0 8h4m4 20h4m0 12h4m0 16h4m-8 28h4m-4 60h4m4 12h4m4 48h4m-36 16h4m60 12h4m4 12h4m-12 12h4m-60 4h4m72 4h4m-44 8h4"/>
<path stroke="#77b3d6" stroke-width="4" d="M1224 106h4m4 12h4m4 12h4m-136 8h4m-4 8h4m4 0h4m-8 4h4m-8 4h4m4 0h4m4 0h4m124 0h4m-148 8h4m4 0h4m4 0h4m128 0h4m-148 4h4m-8 4h4m4 0h4m4 0h4m-20 8h4m4 0h4m4 0h4m4 0h4m-24 4h4m-8 4h4m4 0h4m4 0h4m4 0h4m-28 8h4m4 0h4m4 0h4m4 0h4m-24 4h4m-8 4h4m4 0h4m4 0h4m4 0h4m4 0h4m-36 8h4m4 0h4m4 0h4m4 0h4m-24 4h4m12 0h4m-24 4h4m4 0h4m4 0h4m4 0h4m4 0h4m-36 8h4m4 0h4m4 0h4m4 0h4m4 0h4m4 0h4m128 0h4m-172 4h4m12 0h4m-24 4h4m4 0h4m4 0h4m4 0h4m4 0h4m4 0h4m4 0h4m-52 8h4m4 0h4m4 0h4m4 0h4m4 0h4m4 0h4m-40 4h4m12 0h4m-24 4h4m4 0h4m4 0h4m4 0h4m4 0h4m4 0h4m4 0h4m120 0h4m-176 8h4m4 0h4m4 0h4m4 0h4m4 0h4m4 0h4m-40 4h4m12 0h4m12 0h4m-40 4h4m4 0h4m4 0h4m4 0h4m4 0h4m4 0h4m4 0h4m120 4h4m-176 4h4m4 0h4m4 0h4m4 0h4m4 0h4m4 0h4m4 0h4m-48 4h4m12 0h4m12 0h4m-40 4h4m4 0h4m4 0h4m4 0h4m4 0h4m4 0h4m4 0h4m124 4h4m-180 4h4m4 0h4m4 0h4m4 0h4m4 0h4m4 0h4m4 0h4m4 0h4m116 0h4m-176 4h4m12 0h4m12 0h4m-40 4h4m4 0h4m4 0h4m4 0h4m4 0h4m4 0h4m4 0h4m128 4h4m-184 4h4m4 0h4m4 0h4m4 0h4m4 0h4m4 0h4m4 0h4m128 0h4m-180 4h4m12 0h4m12 0h4m136 0h4m-180 4h4m4 0h4m4 0h4m4 0h4m4 0h4m4 0h4m4 0h4m116 4h4m-172 4h4m4 0h4m4 0h4m4 0h4m4 0h4m4 0h4m4 0h4m-48 4h4m12 0h4m12 0h4m128 0h4m-172 4h4m4 0h4m4 0h4m4 0h4m4 0h4m4 0h4m4 0h4m124 0h4m-180 8h4m4 0h4m4 0h4m4 0h4m4 0h4m4 0h4m4 0h4m4 0h4m-56 4h4m12 0h4m12 0h4m-40 4h4m4 0h4m4 0h4m4 0h4m4 0h4m4 0h4m4 0h4m4 0h4m-60 8h4m4 0h4m4 0h4m4 0h4m4 0h4m4 0h4m4 0h4m4 0h4m-56 4h4m12 0h4m12 0h4m148 0h4m-192 4h4m4 0h4m4 0h4m4 0h4m4 0h4m4 0h4m4 0h4m4 0h4m-60 8h4m4 0h4m4 0h4m4 0h4m4 0h4m4 0h4m4 0h4m4 0h4m-56 4h4m12 0h4m12 0h4m156 0h4m-200 4h4m4 0h4m4 0h4m4 0h4m4 0h4m4 0h4m4 0h4m4 0h4m140 4h4m-204 4h4m4 0h4m4 0h4m4 0h4m4 0h4m4 0h4m4 0h4m4 0h4m-56 4h4m12 0h4m12 0h4m164 0h4m-208 4h4m4 0h4m4 0h4m4 0h4m4 0h4m4 0h4m4 0h4m4 0h4m-60 8h4m4 0h4m4 0h4m4 0h4m4 0h4m4 0h4m4 0h4m4 0h4m152 0h4m-212 4h4m12 0h4m12 0h4m-40 4h4m4 0h4m4 0h4m4 0h4m4 0h4m4 0h4m4 0h4m4 0h4m4 0h4m-68 8h4m4 0h4m4 0h4m4 0h4m4 0h4m4 0h4m4 0h4m4 0h4m-56 4h4m12 0h4m12 0h4m-40 4h4m4 0h4m4 0h4m4 0h4m4 0h4m4 0h4m4 0h4m4 0h4m4 0h4m92 0h4m-164 8h4m4 0h4m4 0h4m4 0h4m4 0h4m4 0h4m4 0h4m4 0h4m172 0h4m-232 4h4m12 0h4m12 0h4m-40 4h4m4 0h4m4 0h4m4 0h4m4 0h4m4 0h4m4 0h4m4 0h4m4 0h4m96 4h4m-168 4h4m4 0h4m4 0h4m4 0h4m4 0h4m4 0h4m4 0h4m4 0h4m-56 4h4m12 0h4m12 0h4m-40 4h4m4 0h4m4 0h4m4 0h4m4 0h4m4 0h4m4 0h4m4 0h4m4 0h4m136 0h4"/>
<path stroke="#7eb7d8" stroke-width="4" d="M1216 98h4m0 4h4m4 12h4m-124 16h4m4 0h4m-12 4h8m4 0h4m-12 4h16m116 0h4m-140 4h16m4 0h4m-20 4h4m4 0h16m112 0h4m-144 4h4m4 0h16m4 0h4m-28 4h4m4 0h4m4 0h8m-28 4h32m-28 4h4m4 0h4m4 0h16m-36 4h4m4 0h24m116 0h4m-148 4h4m4 0h4m4 0h16m-36 4h32m120 0h4m-152 4h4m4 0h4m4 0h4m4 0h8m4 0h4m-44 4h4m4 0h32m-36 4h4m4 0h4m4 0h4m4 0h16m-44 4h40m-36 4h4m4 0h4m4 0h4m4 0h16m116 0h4m-164 4h4m4 0h32m4 0h4m-44 4h4m4 0h4m4 0h4m4 0h4m4 0h16m112 0h4m-168 4h48m-44 4h4m4 0h4m4 0h4m4 0h24m-52 4h4m4 0h12m4 0h24m4 0h4m112 0h4m-168 4h4m4 0h4m4 0h4m4 0h4m4 0h16m-52 4h48m4 0h4m-52 4h4m4 0h4m4 0h4m4 0h4m4 0h4m4 0h16m-60 4h4m4 0h12m4 0h32m116 0h4m-172 4h4m4 0h4m4 0h4m4 0h4m4 0h4m4 0h4m4 0h8m-60 4h56m4 0h4m-60 4h4m4 0h4m4 0h4m4 0h4m4 0h4m4 0h16m-60 4h4m4 0h12m4 0h32m4 0h4m-60 4h4m4 0h4m4 0h4m4 0h4m4 0h4m4 0h4m4 0h16m-68 4h64m-60 4h4m4 0h4m4 0h4m4 0h4m4 0h4m4 0h24m100 0h4m-172 4h4m4 0h12m4 0h12m4 0h24m-60 4h4m4 0h4m4 0h4m4 0h4m4 0h4m4 0h4m4 0h16m-68 4h64m-60 4h4m4 0h4m4 0h4m4 0h4m4 0h4m4 0h4m4 0h16m104 0h4m-176 4h4m4 0h12m4 0h12m4 0h24m-60 4h4m4 0h4m4 0h4m4 0h4m4 0h4m4 0h4m4 0h16m-68 4h64m-60 4h4m4 0h4m4 0h4m4 0h4m4 0h4m4 0h4m4 0h4m4 0h8m-68 4h4m4 0h12m4 0h12m4 0h24m-60 4h4m4 0h4m4 0h4m4 0h4m4 0h4m4 0h4m4 0h16m-68 4h64m-60 4h4m4 0h4m4 0h4m4 0h4m4 0h4m4 0h4m4 0h16m-68 4h4m4 0h12m4 0h12m4 0h24m-60 4h4m4 0h4m4 0h4m4 0h4m4 0h4m4 0h4m4 0h16m-68 4h64m-60 4h4m4 0h4m4 0h4m4 0h4m4 0h4m4 0h4m4 0h16m92 0h4m-164 4h4m4 0h12m4 0h12m4 0h24m4 0h4m80 0h4m-152 4h4m4 0h4m4 0h4m4 0h4m4 0h4m4 0h4m4 0h16m100 0h4m-172 4h64m84 0h4m-148 4h4m4 0h4m4 0h4m4 0h4m4 0h4m4 0h4m4 0h4m4 0h8m80 0h4m-152 4h4m4 0h12m4 0h12m4 0h32m76 0h4m28 0h4m-180 4h4m4 0h4m4 0h4m4 0h4m4 0h4m4 0h4m4 0h4m4 0h12m76 0h4m-152 4h64m4 0h4m112 0h4m-184 4h4m4 0h4m4 0h4m4 0h4m4 0h4m4 0h4m4 0h4m4 0h8m4 0h4m-76 4h4m4 0h12m4 0h12m4 0h32m-68 4h4m4 0h4m4 0h4m4 0h4m4 0h4m4 0h4m4 0h4m4 0h16m-76 4h64m4 0h4m120 0h4m-192 4h4m4 0h4m4 0h4m4 0h4m4 0h4m4 0h4m4 0h4m4 0h8m4 0h4m-76 4h4m4 0h12m4 0h12m4 0h32m-68 4h4m4 0h4m4 0h4m4 0h4m4 0h4m4 0h4m4 0h4m4 0h12m-72 4h64m4 0h4m80 0h4m-152 4h4m4 0h4m4 0h4m4 0h4m4 0h4m4 0h4m4 0h4m4 0h8m4 0h4m-76 4h4m4 0h12m4 0h12m4 0h32m-68 4h4m4 0h4m4 0h4m4 0h4m4 0h4m4 0h4m4 0h4m4 0h16m-76 4h72m-68 4h4m4 0h4m4 0h4m4 0h4m4 0h4m4 0h4m4 0h4m4 0h16m-76 4h4m4 0h12m4 0h12m4 0h32m84 0h4m40 0h4m-200 4h4m4 0h4m4 0h4m4 0h4m4 0h4m4 0h4m4 0h4m4 0h4m4 0h8m140 0h4m-220 4h72m-68 4h4m4 0h4m4 0h4m4 0h4m4 0h4m4 0h4m4 0h4m4 0h16m-76 4h4m4 0h12m4 0h12m4 0h32m152 0h4m-224 4h4m4 0h4m4 0h4m4 0h4m4 0h4m4 0h4m4 0h4m4 0h4m4 0h8m-76 4h72m-68 4h4m4 0h4m4 0h4m4 0h4m4 0h4m4 0h4m4 0h4m4 0h16m-76 4h4m4 0h12m4 0h12m4 0h32m-68 4h4m4 0h4m4 0h4m4 0h4m4 0h4m4 0h4m4 0h4m4 0h4m4 0h8m160 0h4m-240 4h72m-68 4h4m4 0h4m4 0h4m4 0h4m4 0h4m4 0h4m4 0h4m4 0h16m-76 4h4m4 0h12m4 0h12m4 0h32m-68 4h4m4 0h4m4 0h4m4 0h4m4 0h4m4 0h4m4 0h4m4 0h4m4 0h8"/>
<path stroke="#85bbda" stroke-width="4" d="M1204 86h4m0 4h4m0 4h4m4 12h4m0 4h4m-120 12h4m-4 4h8m4 0h4m112 0h4m-128 4h4m4 0h8m-12 4h4m4 0h8m108 0h4m-116 4h8m-12 4h4m4 0h8m-4 4h8m-12 4h4m0 4h8m-4 4h8m-4 4h8m-12 4h8m-4 4h8m-12 4h16m-12 4h4m4 0h4m104 0h4m-116 4h8m-4 4h8m104 0h4m-120 4h8m-4 4h8m-12 4h4m4 0h8m-4 4h8m-12 4h8m108 0h4m-116 4h8m-12 4h4m0 4h8m108 0h4m-124 4h4m4 0h8m-4 4h8m-12 4h8m-4 4h8m104 0h4m-120 4h4m0 4h8m-12 4h4m4 0h8m100 0h4m-108 4h8m-12 4h8m-4 4h8m-12 4h8m-4 4h8m-12 4h8m-4 4h8m-12 4h8m100 0h4m-108 4h8m-12 4h8m-4 4h8m-12 4h8m104 0h4m-112 4h8m100 0h4m-116 4h8m-4 4h8m100 0h4m-116 4h8m-4 4h8m-12 4h8m-4 4h8m-12 4h4m0 4h8m72 0h4m-88 4h12m-8 4h8m-4 4h8m-8 4h4m-12 4h4m4 0h8m68 0h4m-84 4h4m4 0h4m-8 4h8m-16 8h4m4 0h8m-12 4h4m0 4h8m-8 4h4m-12 4h4m4 0h8m-12 4h4m80 0h4m-84 4h8m-4 4h4m-8 4h8m-4 4h4m-8 4h8m-4 4h8m-12 4h8m-4 4h8m124 0h4m-140 4h8m-4 4h8m-12 4h8m80 0h4m-88 4h8m-12 4h8m-4 4h8m-12 4h8m-4 4h8m80 0h4m72 0h4m-172 4h8m-4 4h8m148 0h4m8 0h4"/>
<path stroke="#8dbedb" stroke-width="4" d="M1204 90h4m4 8h4m0 4h4m-108 20h8m112 0h4m-120 4h4m4 0h4m0 4h8m100 0h4m-108 4h4m0 4h8m-4 4h4m100 0h4m-108 8h8m100 0h4m-108 4h8m-4 4h4m100 0h4m-4 4h4m-108 4h8m-4 4h8m96 0h4m-104 8h4m-4 4h8m-4 4h4m-8 4h8m100 0h4m-108 4h8m-4 4h4m100 0h4m-108 8h8m-4 4h8m96 0h4m-112 4h8m-4 4h8m-4 4h4m100 0h4m-4 4h4m-108 4h8m-4 4h8m-12 4h8m100 0h4m-108 4h8m96 0h4m-104 4h4m-4 8h8m88 0h4m-96 4h4m-8 4h8m88 0h4m-96 4h4m88 0h4m-100 4h8m-4 4h4m-8 4h8m-4 4h8m88 0h4m-104 4h8m-4 4h4m-8 4h8m-4 4h8m-12 4h8m-4 4h4m-8 4h8m-4 4h4m92 0h4m-104 4h8m-4 4h4m76 0h4m-88 4h8m-4 4h8m-8 4h4m-4 4h8m-8 8h8m-4 8h4m64 0h4m-72 4h4m64 0h4m-76 4h8m-8 8h8m-8 8h8m-8 8h8m-4 4h4m-4 4h4m-4 4h4m124 0h4m-132 4h4m-4 4h4m72 4h4m-80 4h8m-8 8h8m-4 4h4m-8 4h8m140 0h4m-148 4h4m72 0h4m-84 4h8m-4 4h4m-8 4h8m-4 4h4m-8 4h8m76 0h4m-84 4h8"/>
<path stroke="#94c2dd" stroke-width="4" d="M1200 86h4m4 8h4m-104 20h4m112 0h4m-120 4h8m112 0h4m-112 4h8m0 4h4m4 8h4m100 4h4m-100 4h4m-4 4h8m92 0h4m-100 4h4m96 4h4m-100 4h4m-4 4h8m-4 4h4m-4 8h8m92 0h4m-100 4h8m92 4h4m-100 4h4m-4 4h8m-4 4h4m-4 4h4m-4 4h8m-4 4h4m-4 8h8m-4 4h4m-4 4h4m-4 4h8m-4 4h4m-4 8h8m-4 4h4m-4 4h4m-4 4h8m84 0h4m-92 8h4m-4 4h4m-4 4h4m-4 4h4m84 0h4m-92 4h4m-4 4h4m-4 8h4m88 0h4m-96 4h4m-4 4h4m-4 8h4m92 0h4m-100 4h4m-4 4h4m-4 4h4m-4 4h4m-4 4h4m-4 4h4m-4 8h4m92 0h4m-100 8h8m-4 4h4m-8 4h8m-4 4h4m-4 4h4m-4 4h4m-8 4h8m-8 8h8m-4 4h4m-8 4h8m112 4h4m-120 4h4m-4 4h4m-4 4h4m-4 4h4m-4 4h4m-4 4h8m64 4h4m-76 4h8m128 0h4m-136 8h4m124 4h4m-132 4h4m-4 4h4m68 0h4m-76 4h4m68 0h4m-76 4h4m-4 4h4m136 0h4m-144 4h4m72 4h4"/>
<path stroke="#9cc5de" stroke-width="4" d="M1112 114h8m-4 4h8m4 4h4m0 4h4m96 0h4m-100 4h4m0 4h4m0 4h8m0 12h4m-4 4h8m-4 4h4m0 8h4m-4 4h8m-4 12h8m-4 4h4m0 8h4m-4 4h4m92 4h4m-96 4h4m-4 4h8m88 4h4m-96 4h4m-4 4h4m0 8h4m-4 4h4m0 8h4m-4 4h4m-4 8h4m0 8h4m-4 4h4m-4 4h4m-4 4h4m80 0h4m-88 4h4m-4 4h4m-4 4h4m-4 4h4m84 0h4m-92 4h4m-4 4h4m-4 4h4m-4 4h4m-4 4h4m-4 4h4m-4 4h4m76 0h4m-84 4h4m64 0h4m-72 4h4m60 0h4m-68 4h4m84 0h4m-92 4h4m-4 4h4m80 4h4m-84 4h4m80 4h4m-88 4h4m92 0h4m-100 8h4m56 0h4m36 0h4m-44 4h4m-68 4h8m100 0h4m0 8h4m-116 8h8m60 4h4m-68 4h4m60 0h4m40 4h4m-112 4h4m-4 4h4m120 0h4m-128 8h4m64 4h4m-72 4h4m-4 8h8m-4 8h4m128 4h4m-136 4h4m-4 4h4m-4 4h4m-4 4h4"/>
<path stroke="#a3c9e0" stroke-width="4" d="M1220 110h4m-100 8h8m0 4h4m0 4h4m0 4h4m0 4h4m0 8h4m0 4h4m4 12h4m-4 4h4m0 12h8m-4 4h4m0 8h4m84 0h4m-92 4h4m88 4h4m-92 4h4m-4 4h4m0 12h4m0 4h4m-4 4h4m-4 4h4m0 8h4m-4 4h4m0 8h4m-4 4h4m-4 4h4m-4 4h4m0 8h4m-4 8h4m-4 8h4m-4 8h4m-4 8h4m-4 8h4m-4 8h4m-4 8h4m-4 8h4m-4 8h4m52 0h4m28 0h4m-92 4h4m88 4h4m-96 4h4m-4 8h4m84 0h4m-92 8h4m88 0h4m-96 8h4m-4 4h4m-4 4h4m96 0h4m-104 8h4m112 4h4m-120 4h4m112 12h4m-116 4h4m-4 4h4m-4 4h4m60 0h4m-68 4h4m128 0h4m-136 8h4m136 4h4m-144 4h4m64 4h4m72 0h4m-80 4h4m-68 8h4"/>
<path stroke="#aacde1" stroke-width="4" d="M1216 106h4m-112 4h8m4 4h8m100 8h4m-88 8h4m0 4h4m84 0h4m-88 8h4m0 4h4m-4 4h4m0 4h4m0 8h4m-4 4h4m84 0h4m-88 4h4m0 8h4m-4 4h4m0 4h4m-4 4h4m-4 4h8m-4 8h4m-4 4h4m0 4h4m-4 4h4m0 4h4m-4 8h4m-4 4h4m84 0h4m-88 4h4m-4 4h4m-4 4h4m0 8h4m-4 8h4m72 0h4m-80 4h4m-4 8h4m-4 8h4m-4 8h4m-4 8h4m80 0h4m-88 8h4m-4 8h4m80 0h4m-88 8h4m-4 8h4m52 4h4m-60 4h4m52 0h4m-56 8h4m-4 8h4m-4 4h4m-4 4h4m-4 8h4m52 4h4m-4 4h4m32 0h4m-96 16h4m96 0h4m-104 4h4m-4 4h4m56 0h4m-64 4h4m56 0h4m-64 4h4m-4 4h4m0 8h4m112 4h4m-120 4h4m56 0h4m-4 4h4m-64 4h4m-4 4h4m-4 4h4m-4 4h4m-4 4h4m-4 4h4m60 0h4m-4 4h4"/>
<path stroke="#b2d0e2" stroke-width="4" d="M1108 106h4m4 4h8m4 4h8m-4 4h4m0 4h8m-4 4h8m0 4h4m0 4h4m-4 4h8m0 12h4m0 4h4m-4 4h4m80 0h4m-84 8h4m0 4h4m-4 4h4m80 4h4m-84 4h4m0 16h4m0 4h4m-4 4h4m0 4h4m-4 4h4m80 4h4m-88 4h4m0 4h4m-4 4h4m0 4h4m-4 8h4m-4 4h4m76 0h4m-84 8h4m0 8h4m-4 4h4m-4 4h4m-4 4h4m-4 4h4m72 0h4m-80 4h4m-4 4h4m-4 4h4m-4 4h4m-4 4h4m-4 4h4m-4 4h4m-4 4h4m-4 4h4m-4 4h4m-4 4h4m-4 4h4m-4 4h4m-4 4h4m-4 4h4m72 0h4m-28 4h4m-56 4h4m48 0h4m-56 16h4m-4 8h4m-4 4h4m-4 4h4m52 0h4m-60 4h4m-4 4h4m0 16h4m108 0h4m-116 8h4m52 0h4m-60 4h4m116 0h4m-124 8h4m-4 8h4m56 4h4m60 0h4m-68 4h4m-60 16h4m136 0h4"/>
<path stroke="#bad3e3" stroke-width="4" d="M1196 86h4m0 4h4m0 4h4m0 4h4m0 4h4m-92 8h8m4 8h4m84 0h4m-76 12h4m0 12h8m76 0h4m-84 4h4m80 4h4m-80 8h4m-4 4h4m0 4h4m76 4h4m-80 4h4m-4 4h4m0 8h4m-4 4h4m0 4h4m-4 4h4m0 4h4m76 4h4m-80 8h4m-4 4h4m-4 4h4m0 4h4m76 8h4m-84 4h4m0 8h4m-4 4h4m-4 4h4m-4 4h4m68 4h4m-72 4h4m-4 8h4m-4 4h4m-4 4h4m-4 8h4m-4 4h4m-4 4h4m72 0h4m-80 8h4m-4 8h4m56 4h8m-68 4h4m48 0h4m-8 4h4m-52 4h4m-4 8h4m-4 4h4m-4 4h4m-4 4h4m44 0h4m-52 4h4m44 0h4m-52 4h4m-4 4h4m88 4h4m-96 4h4m-4 8h4m48 4h4m44 0h4m-104 4h4m-4 8h4m-4 4h4m100 4h4m-108 4h4m52 0h4m-4 8h4m-4 4h4m-56 4h4m-4 4h4m-4 4h4m-4 4h4m124 0h4m-132 4h4m-4 4h4m52 0h4m-60 4h4m52 0h4m-60 4h4m52 0h4m-4 4h4m-60 4h4"/>
<path stroke="#c1d7e4" stroke-width="4" d="M1112 106h8m12 4h4m0 4h4m80 0h4m-84 4h4m0 4h8m-4 4h8m0 4h4m72 0h4m-80 4h4m0 4h4m0 8h4m-4 4h4m0 4h4m0 8h4m0 4h4m-4 4h4m0 8h4m-4 4h4m0 4h4m-4 4h4m0 4h4m-4 4h4m72 0h4m-80 8h4m0 4h4m0 8h4m-4 4h4m-4 8h4m0 4h4m-4 4h4m-4 4h4m0 8h4m64 4h4m-72 4h4m-4 4h4m-4 8h4m0 8h4m64 4h4m-76 4h8m-4 8h4m-8 8h4m72 4h4m-80 4h4m68 4h4m-76 4h4m-4 8h4m-4 8h4m76 8h4m0 8h4m-40 8h4m36 0h4m-44 4h4m-52 4h4m-4 8h4m92 0h4m-100 8h4m48 4h4m-56 4h4m48 0h4m48 0h4m-104 16h4m-4 4h4m-4 4h4m104 0h4m-112 4h4m48 4h4m64 0h4m-72 4h4m-4 8h4m76 8h4m-132 8h4m124 4h4m-132 4h4m48 0h4"/>
<path stroke="#c8dae6" stroke-width="4" d="M1120 106h8m12 8h4m0 4h4m12 16h4m72 4h4m-76 4h4m0 8h4m0 4h4m-4 4h4m72 4h4m-72 8h4m-4 4h4m0 8h4m68 0h4m-72 4h4m68 4h4m-72 8h4m-4 4h4m-4 4h4m0 4h4m68 0h4m-76 4h4m0 8h4m68 0h4m-76 4h4m-4 4h4m0 4h4m68 4h4m-76 4h4m68 0h4m-76 4h4m-4 8h4m0 8h4m-4 4h4m60 0h4m-68 4h4m-4 4h4m-4 8h4m-4 8h8m-8 8h8m-8 4h4m68 0h4m-76 4h4m-4 4h4m-4 4h4m-4 4h4m48 0h4m-56 4h4m40 0h4m-48 4h4m-4 4h4m-4 4h4m36 0h4m24 0h4m-72 4h4m-4 4h4m-4 4h4m68 0h4m-76 4h4m-4 4h4m72 0h4m-80 4h4m-4 4h4m-4 4h4m-4 4h4m-4 4h4m-4 4h4m-4 4h4m-4 8h4m-4 4h4m44 0h4m-52 4h4m100 0h4m-108 4h4m108 8h4m-112 16h4m108 0h4m-68 4h4m-52 4h4m44 4h4m-52 4h4m44 0h4m-52 4h4m120 0h4m-80 4h4m80 0h4m-136 4h4m132 4h4"/>
<path stroke="#cfdee8" stroke-width="4" d="M1128 106h8m0 4h4m76 0h4m-72 8h4m0 4h8m-4 4h4m0 4h4m4 16h4m72 8h4m-72 4h4m-4 4h8m0 12h4m-4 4h4m0 12h4m0 4h4m0 8h4m-4 4h4m0 8h4m-4 4h4m0 8h4m-4 12h4m28 4h4m-32 4h4m-4 4h4m-4 4h4m-4 4h8m-4 8h4m-4 8h4m-4 4h4m-4 4h4m-4 4h4m60 0h4m-68 8h4m-4 8h4m-4 4h4m-4 4h4m-4 4h4m-4 4h4m-4 4h4m32 4h4m-40 4h4m32 0h4m28 4h4m-72 4h4m32 0h4m-4 4h4m-40 4h4m-4 8h4m-4 8h4m72 0h4m-40 4h4m-4 4h4m36 0h4m0 8h4m-92 8h4m88 0h4m0 8h4m-52 4h4m-4 4h4m-4 4h4m-4 4h4m-4 4h4m-48 4h4m108 0h4m-116 4h4m-4 8h4m116 0h4m-124 8h4m116 0h4m-76 8h4m-4 8h4m-4 4h4"/>
<path stroke="#d6e2eb" stroke-width="4" d="M1192 86h4m0 4h4m12 16h4m-72 8h4m4 4h4m4 8h4m64 0h4m-68 12h4m0 4h4m68 4h4m-72 4h4m0 4h4m0 12h4m0 4h4m0 8h4m-4 4h8m-4 4h4m-4 4h4m0 4h4m-4 4h4m0 8h4m-4 4h4m0 8h4m-4 4h4m-4 8h8m-4 4h4m-4 4h4m20 0h8m-32 4h8m20 4h4m-28 4h4m-4 4h4m-4 8h4m20 4h4m-28 4h8m52 0h4m-60 4h4m16 0h4m-24 4h4m-4 4h8m12 0h4m-24 4h4m20 0h4m-28 4h8m12 0h8m-28 4h4m20 0h4m-28 4h8m12 0h12m-32 4h4m20 0h8m-32 4h8m4 0h4m4 0h4m4 0h4m-32 4h4m4 0h4m12 0h4m4 0h4m-36 4h8m4 0h4m4 0h4m4 0h8m-36 4h4m12 0h4m12 0h12m-44 4h8m4 0h4m12 0h8m-40 4h8m-4 4h8m20 0h4m-36 4h8m-8 8h8m28 4h4m-40 4h4m32 0h4m-40 8h4m76 4h4m-84 4h4m-4 4h4m80 0h4m-88 4h4m36 0h4m-44 4h4m36 0h4m44 0h4m-92 8h4m88 0h4m-96 8h4m-4 4h4m-4 4h4m-4 4h4m96 0h4m-104 4h4m-4 4h4m40 4h4m-4 4h4m-4 4h4m-4 4h4m-4 8h4m-44 8h4m-4 4h4m-4 4h4m-4 4h4"/>
<path stroke="#dde6ed" stroke-width="4" d="M1200 94h4m0 4h4m0 4h4m-64 12h4m4 4h4m0 4h4m60 0h4m4 12h4m-64 12h4m4 12h4m0 8h4m0 4h4m-4 4h4m60 0h4m-60 16h4m60 4h4m-64 4h4m-4 4h4m60 0h4m-64 8h4m-4 4h4m0 8h4m-4 4h8m56 0h4m-64 8h4m-4 4h4m12 4h8m-24 4h8m12 0h4m-20 4h8m4 0h12m32 0h4m-60 4h4m12 0h4m-20 4h8m4 0h8m-20 4h4m12 0h4m-20 4h8m4 0h8m-4 4h8m-20 4h4m4 0h8m-16 4h8m4 0h8m-16 4h12m4 0h4m-24 4h8m4 0h8m-16 4h12m40 0h4m-60 4h20m-16 4h12m-16 4h20m-16 4h4m4 0h4m4 0h4m4 0h4m-32 4h4m4 0h12m4 0h4m-24 4h4m4 0h4m4 0h4m8 0h4m16 0h4m-56 4h12m4 0h12m-24 4h4m4 0h12m-24 4h28m-24 4h8m4 0h8m-20 4h4m16 0h4m-32 4h8m20 0h4m-32 8h8m20 0h4m-32 4h4m-4 4h4m28 0h4m-36 4h4m28 0h4m-36 4h4m28 0h4m-36 4h4m-8 16h4m36 0h4m-4 4h4m-44 4h4m36 4h4m60 12h4m-104 24h4m-4 4h4m36 0h4m-44 4h4m-4 4h4m36 0h4m-4 4h4m-4 8h4"/>
<path stroke="#e4ebf0" stroke-width="4" d="M1140 110h4m8 4h4m4 4h4m0 12h4m-4 4h4m8 16h4m0 4h4m0 8h4m60 4h4m-60 12h4m0 8h4m0 8h4m0 8h4m-4 4h4m0 8h4m56 0h4m-64 4h8m-4 12h8m-4 4h8m-8 4h4m4 0h8m8 0h4m-28 4h12m-8 4h12m-8 4h4m-8 4h12m-8 4h4m8 0h4m-20 4h12m4 0h4m-16 4h4m-8 4h12m-8 4h4m44 0h4m-48 4h4m8 0h4m-16 8h4m12 4h4m-4 4h4m0 8h4m-20 28h4m-16 4h4m4 0h16m-20 4h20m-24 4h8m4 0h4m4 0h8m-24 4h8m4 0h4m-20 4h4m-4 4h4m20 0h4m-28 8h4m24 4h4m-36 4h8m24 0h4m-36 4h4m28 0h4m-36 4h4m-4 4h4m-4 4h4m-4 4h4m32 0h4m-40 4h4m-4 4h4m32 0h4m-4 4h4m-4 4h4m-4 4h4m-40 8h4m32 0h4m-40 4h4m-4 4h4m36 24h4m-4 8h4"/>
<path stroke="#ebeff2" stroke-width="4" d="M1136 106h4m16 8h4m60 4h4m-60 4h4m0 16h4m0 4h4m8 16h4m56 0h4m-60 8h4m0 8h4m0 4h4m-4 4h4m56 4h4m-60 4h4m0 8h4m0 8h4m-4 4h4m0 12h8m-4 4h4m0 4h4m48 0h4m-56 8h4m12 16h4m0 20h4m8 36h4m-28 32h4m4 0h4m-8 4h4m4 0h4m-20 4h12m4 0h8m-24 4h20m-24 4h8m4 0h4m4 0h8m-24 4h8m4 0h4m4 0h4m-28 4h8m16 4h4m-28 4h4m-4 4h4m24 0h4m-4 4h4m-32 4h4m24 0h4m-4 4h4m-32 4h4m-8 8h4m-4 4h4m-4 4h4m-4 4h4m32 0h4m-4 8h4m-4 4h4m-4 8h4m-36 8h4m-4 8h4m-4 8h4"/>
<path stroke="#f1f3f5" stroke-width="4" d="M1188 86h4m-84 16h16m4 0h4m12 8h4m16 16h4m0 8h4m0 4h4m60 4h4m-64 4h8m-4 4h4m56 0h4m-60 4h4m0 8h4m0 4h4m-4 4h8m52 8h4m-56 4h4m-4 4h8m-4 8h4m0 4h4m-4 4h8m-4 8h4m-4 4h8m-4 4h8m-4 8h4m0 4h4m-4 4h8m8 8h4m24 16h4m-32 12h4m0 16h4m28 8h4m-32 4h4m0 8h4m0 8h8m4 0h4m8 24h4m-4 4h4m0 4h4m-52 4h4m-12 8h4m4 0h4m48 0h4m-60 4h4m4 0h4m-16 4h20m-24 4h20m-20 4h4m4 0h4m4 0h8m48 0h4m-76 4h8m4 0h12m-28 4h8m4 0h4m4 0h8m-24 4h8m12 0h4m-28 4h8m76 0h4m-64 4h8m56 0h4m-64 4h4m64 12h4m0 4h4m-104 12h4m28 4h4m72 0h4m-112 4h4m108 0h4m-116 4h4m28 0h4m80 0h4m-88 4h4m-36 4h4m28 4h4m84 0h4m-124 4h4m120 0h4"/>
<path stroke="#f6f5f5" stroke-width="4" d="M1124 102h4m4 0h4m4 4h4m4 4h8m4 4h8m48 0h4m-56 4h4m0 8h4m-4 4h4m56 0h4m-60 4h4m0 4h4m-4 4h4m4 8h4m0 4h4m-4 4h8m-4 4h8m-4 12h8m-4 4h8m-4 4h4m-4 8h8m-4 4h8m-4 12h8m44 0h4m-52 4h8m-4 4h4m44 4h4m-52 4h8m-4 4h8m8 20h4m28 0h4m-36 20h4m28 12h4m-32 4h4m0 12h4m0 4h4m20 0h4m-28 4h4m0 8h4m16 0h4m4 40h4m0 4h4m0 12h4m-68 8h4m4 0h4m-8 4h4m-8 4h4m4 0h4m60 0h4m-72 4h12m-16 4h20m-24 4h8m4 0h8m-24 4h4m84 0h4m-92 4h4m20 0h8m60 0h4m-68 4h4m-32 4h4m24 0h4m-4 4h4m-32 4h4m24 0h4m68 0h4m-104 4h4m24 0h4m72 0h4m0 4h4m-112 4h4m24 0h4m84 12h4m-88 4h4m84 0h4m-120 8h4m24 0h4m-4 4h4m88 0h4"/>
<path stroke="#f8f2ed" stroke-width="4" d="M1192 90h4m0 4h4m-64 8h4m4 4h8m4 4h8m48 0h4m-48 8h4m-4 4h4m0 8h4m0 4h4m0 4h4m-4 4h8m-4 4h8m-4 4h8m-4 4h4m0 12h8m-4 4h8m40 0h4m-48 4h4m0 8h4m-4 4h8m-4 4h4m-4 8h8m-4 4h8m-4 4h4m0 8h4m-4 4h4m0 4h4m-4 8h8m-4 4h4m36 0h4m-36 16h4m-4 12h4m24 0h4m-28 12h4m-4 4h4m0 8h4m-4 4h4m12 24h4m-36 80h4m-12 4h4m12 0h8m-28 8h4m20 0h4m-4 4h4m-28 4h4m24 12h4m-4 8h4m-28 4h4m20 0h4m-28 4h4m20 0h4m-28 4h4m20 0h4m-28 4h4m-4 8h4"/>
<path stroke="#f8ede6" stroke-width="4" d="M1184 86h4m-80 12h4m4 0h4m4 0h4m4 0h4m64 0h4m-52 8h4m12 8h4m0 12h4m0 4h4m52 8h4m-40 16h4m-4 4h4m0 4h4m40 0h4m-40 16h4m4 12h4m-4 4h4m40 4h4m-40 12h4m0 8h4m0 8h4m0 8h4m4 4h4m-4 4h4m-8 12h4m-4 4h4m28 24h4m-20 24h4m-32 92h12m-16 4h4m12 0h4m0 12h4m-4 4h4m-24 4h4m-4 4h4m16 0h4m-24 4h4m-4 4h4m20 16h4m-4 4h4m-4 4h4"/>
<path stroke="#f7e9df" stroke-width="4" d="M1112 98h4m4 0h4m4 0h4m8 4h4m60 0h4m-52 4h4m48 0h4m-48 4h4m4 12h4m48 4h4m-48 4h4m-4 4h4m0 4h4m0 4h4m0 4h4m4 12h4m0 8h4m0 8h4m0 4h4m-4 4h4m40 8h4m-40 4h4m-4 4h4m0 8h4m0 4h4m-4 4h4m0 8h4m32 32h4m-28 16h4m4 24h4m20 12h4m-52 96h4m4 0h4m-16 4h4m12 0h4m-20 8h4m-4 4h4m16 4h4m-4 12h4m-20 16h4m-4 8h4"/>
<path stroke="#f7e5d8" stroke-width="4" d="M1136 98h4m4 4h4m12 4h8m4 12h4m0 8h4m4 8h4m0 4h4m4 12h4m40 4h4m-40 8h4m0 8h4m4 16h4m4 16h4m4 16h4m32 4h4m-36 4h4m-4 4h4m4 16h4m-4 20h4m20 0h4m-24 16h4m24 20h4m-48 100h4m-12 8h4m12 0h4m0 20h4m-20 4h4m12 4h4m-20 4h4m12 0h4m-20 4h4m-4 8h4"/>
<path stroke="#f6e1d0" stroke-width="4" d="M1168 110h4m4 12h4m12 20h4m0 4h4m36 0h4m-40 8h4m4 12h4m0 8h4m0 8h4m32 0h4m-36 8h4m0 8h4m0 8h4m32 4h4m-36 4h4m4 20h4m28 4h4m-4 4h4m-4 44h4m-20 16h4m-20 112h4m-16 4h4m8 0h4m-4 4h4m-16 4h4m-4 4h4m-4 8h4m12 8h4m-4 4h4m-4 8h4"/>
<path stroke="#f6dcc9" stroke-width="4" d="M1148 102h4m20 12h4m44 8h4m-44 4h4m0 4h4m12 20h4m0 8h4m4 12h4m4 16h4m4 16h4m4 20h4m0 8h4m0 20h4m4 40h4m-28 116h12m-12 4h4m4 0h4m-12 4h4m-4 8h4m8 4h4m-4 4h4m-4 4h4m-12 4h4m4 0h4m-12 8h4m-4 4h4m-4 4h4m8 0h4m-16 4h4"/>
<path stroke="#f5d8c2" stroke-width="4" d="M1140 98h4m8 4h4m32 32h4m0 4h4m8 16h4m0 8h4m36 12h4m-36 4h4m4 16h4m4 16h4m0 8h4m4 44h4m0 16h4m8 32h4m-32 100h4m-4 4h8m-8 4h8m-8 4h8m-8 4h8m-8 4h4m-4 4h8m-8 8h12m-4 4h4m-8 4h8m-8 4h8m-8 4h8"/>
<path stroke="#f5d3bb" stroke-width="4" d="M1176 118h4m48 16h4m-36 8h4m72 168h4m-40 120h4m-4 8h4m-4 8h4"/>
<path stroke="#f5ceb5" stroke-width="4" d="M1180 86h4m4 4h4m-80 4h4m40 8h4m12 8h4m4 12h4m0 4h4m12 20h4m4 12h4m0 8h4m0 8h4m0 8h4m0 8h4m0 8h4m0 8h4m4 20h4m0 8h4m0 8h4m-8 16h4"/>
<path stroke="#f4caae" stroke-width="4" d="M1108 94h4m4 0h16m4 0h4m20 8h4m4 4h4m44 12h4m-32 12h4m0 4h4m40 80h4m0 8h4m0 32h4m0 20h4m4 24h4"/>
<path stroke="#f4c5a7" stroke-width="4" d="M1132 94h4m40 20h4m16 24h4m4 12h4m4 12h4m4 16h4m0 8h4m0 8h4m28 8h4m4 48h4m-4 20h4m-20 16h4"/>
<path stroke="#f3c0a0" stroke-width="4" d="M1144 98h4m16 4h4m32 40h4m4 12h4m32 12h4m-32 4h4m12 32h4m0 8h4m28 16h4m-28 4h4m0 8h4m20 52h4"/>
<path stroke="#f3ba9a" stroke-width="4" d="M1192 94h4m-48 4h4m28 20h4m0 4h4m16 24h4m16 36h4m12 36h4m0 8h4m0 20h4m-4 24h4m8 36h4"/>
<path stroke="#f2b593" stroke-width="4" d="M1172 106h4m36 8h4m-28 12h4m0 4h4m36 12h4m-24 16h4m0 8h4m0 8h4m4 16h4m24 4h4m-28 4h4m4 16h4"/>
<path stroke="#f1b08d" stroke-width="4" d="M1152 98h4m20 12h4m16 24h4m8 16h4m28 8h4m-8 48h4m24 8h4m-20 20h4"/>
<path stroke="#f1aa87" stroke-width="4" d="M1140 94h4m52 4h4m-32 4h4m8 12h4m16 24h4m16 32h4m4 16h4m20 0h4m-24 8h4m0 8h4m4 20h4m4 60h4m0 12h4m8 16h4"/>
<path stroke="#efa481" stroke-width="4" d="M1156 98h4m24 20h4m0 4h4m12 20h4m4 12h4m0 8h4m4 16h4m40 96h4"/>
<path stroke="#ee9e7c" stroke-width="4" d="M1200 102h4m20 28h4m12 80h4m4 20h4m-4 36h4m20 28h4"/>
<path stroke="#ed9876" stroke-width="4" d="M1176 86h4m28 24h4m-20 16h4m0 4h4m36 20h4m4 68h4"/>
<path stroke="#ec9271" stroke-width="4" d="M1160 98h4m12 8h4m24 0h4m0 40h4m4 12h4m4 16h4m4 16h4m12 60h4m12 60h4"/>
<path stroke="#ea8b6b" stroke-width="4" d="M1184 90h4m12 44h4m16 32h4m24 12h4m-24 4h4m4 16h4m0 8h4m24 24h4m-20 8h4m-4 4h4m4 60h4"/>
<path stroke="#e88567" stroke-width="4" d="M1144 94h4m16 4h4m36 40h4m36 76h4m0 12h4m4 64h4"/>
<path stroke="#e67e62" stroke-width="4" d="M1108 90h12m4 0h4m44 12h4m4 8h4m28 40h4m32 112h4m0 16h4"/>
<path stroke="#e4785d" stroke-width="4" d="M1120 90h4m4 0h8m48 24h4m0 4h4m0 4h4m32 16h4m-24 4h4m8 20h4m0 8h4m16 0h4m-20 8h4m0 8h4m0 8h4m8 28h4m0 12h4m12 12h4m-8 12h4m0 20h4m0 20h4"/>
<path stroke="#e27158" stroke-width="4" d="M1136 90h4m76 64h4m20 48h4m0 8h4m16 8h4m4 88h4"/>
<path stroke="#df6a55" stroke-width="4" d="M1168 98h4m24 28h4m20 0h4m40 180h4"/>
<path stroke="#db6352" stroke-width="4" d="M1148 94h4m48 36h4m8 16h4m44 60h4"/>
<path stroke="#d85c4f" stroke-width="4" d="M1180 106h4m20 28h4m32 28h4m-20 4h4m0 8h4m0 8h4m0 8h4m0 8h4m4 20h4m0 12h4m12 4h4m-24 20h4m-4 4h4m0 16h4m0 12h4m0 12h4"/>
<path stroke="#d5554c" stroke-width="4" d="M1172 86h4m-36 4h4m8 4h4m32 0h4m-16 8h4m4 8h4m0 4h4m0 4h4m12 20h4m4 12h4m0 8h4m32 40h4m-16 8h4m4 40h4m8 56h4m0 4h4"/>
<path stroke="#d24e48" stroke-width="4" d="M1196 122h4m16 0h4m28 92h4m0 12h4m8 36h4"/>
<path stroke="#cf4745" stroke-width="4" d="M1180 90h4m52 64h4m16 84h4m4 16h4"/>
<path stroke="#cd4041" stroke-width="4" d="M1156 94h4m40 32h4m8 16h4m16 4h4m-16 8h4m4 16h4m0 8h4m0 8h4m12 4h4m-16 4h4m16 100h4m0 4h4"/>
<path stroke="#cb393d" stroke-width="4" d="M1172 98h4m28 32h4m16 32h4m16 40h4m20 100h4"/>
<path stroke="#c8323a" stroke-width="4" d="M1160 94h4m84 116h4m0 12h4m-4 48h4"/>
<path stroke="#c62b36" stroke-width="4" d="M1208 134h4m4 12h4m36 88h4"/>
<path stroke="#c42432" stroke-width="4" d="M1256 242h4m0 48h4m0 4h4m0 4h4m0 4h4"/>
<path stroke="#bf1e2f" stroke-width="4" d="M1144 90h4m16 4h4m12 8h4m0 4h4m0 4h4m0 4h4m16 24h4m8 20h4m0 8h4m0 8h4m0 8h4m0 8h4m8 28h4m0 12h4"/>
<path stroke="#b71c2d" stroke-width="4" d="M1168 94h4m24 24h4m0 4h4m16 28h4m20 48h4m0 8h4m12 84h4m0 4h4"/>
<path stroke="#af1a2c" stroke-width="4" d="M1260 286h4"/>
<path stroke="#a8182a" stroke-width="4" d="M1256 282h4m4 4h4m0 4h4"/>
<path stroke="#a01628" stroke-width="4" d="M1260 282h4"/>
<path stroke="#981327" stroke-width="4" d="M1256 278h4m4 4h4m0 4h4"/>
<path stroke="#901026" stroke-width="4" d="M1268 282h4"/>
<path stroke="#890c25" stroke-width="4" d="M1256 274h4m0 4h8"/>
<path stroke="#810923" stroke-width="4" d="M1256 270h4m0 4h4"/>
<path stroke="#790622" stroke-width="4" d="M1252 266h12m-4 4h8m-4 4h4"/>
<path stroke="#720321" stroke-width="4" d="M1252 250h4m4 0h4m-12 8h4m4 0h4m-12 4h8m4 4h4"/>
<path stroke="#6a0020" stroke-width="4" d="M1108 86h64m-24 4h32m-8 4h16m-12 4h20m-12 4h16m-12 4h16m-12 4h16m-12 4h16m-12 4h16m-12 4h12m-12 4h16m-12 4h16m-12 4h16m-12 4h12m-12 4h16m-12 4h12m-8 4h12m-12 4h12m-8 4h12m-12 4h12m-8 4h12m-12 4h12m-8 4h12m-12 4h12m-8 4h12m-12 4h12m-8 4h8m-8 4h12m-8 4h8m-8 4h12m-8 4h8m-8 4h12m-12 4h12m-8 4h8m-8 4h12m-12 4h12m-8 4h8m-8 4h8m-8 4h12m-12 4h12m-16 4h12m-12 4h4m4 0h4m-16 4h12m-8 4h4m0 4h4"/></g>
<clipPath id="hc5"><rect x="1609.30" y="61.25" width="377.30" height="396.75"/></clipPath><g clip-path="url(#hc5)"><rect x="1609" y="61" width="380" height="400" fill="#264a8f"/>
<path stroke="#294380" stroke-width="4" d="M1613 63h4m4 0h4m4 0h4m4 0h4m4 0h4m4 0h4m4 0h4m4 0h4m4 0h4m4 0h4m4 0h4m4 0h4m4 0h4m4 0h4m4 0h4m4 0h4m4 0h4m4 0h4m4 0h4m4 0h4m4 0h4m4 0h4m4 0h4m4 0h4m4 0h4m4 0h4m4 0h4m4 0h4m4 0h4m4 0h4m4 0h4m4 0h4m4 0h4m4 0h4m4 0h4m4 0h4m4 0h4m4 0h4m4 0h4m4 0h4m4 0h4m4 0h4m4 0h4m4 0h4m4 0h4m4 0h4m4 0h4m-376 4h4m4 0h12m4 0h12m4 0h12m4 0h12m4 0h12m4 0h12m4 0h12m4 0h12m4 0h12m4 0h12m4 0h12m4 0h12m4 0h12m4 0h12m4 0h12m4 0h12m4 0h12m4 0h12m4 0h12m4 0h12m4 0h12m4 0h12m4 0h12m4 0h4m-376 4h4m4 0h4m4 0h4m4 0h4m4 0h4m4 0h4m4 0h4m4 0h4m4 0h4m4 0h4m4 0h4m4 0h4m4 0h4m4 0h4m4 0h4m4 0h4m4 0h4m4 0h4m4 0h4m4 0h4m4 0h4m4 0h4m4 0h4m4 0h4m4 0h4m4 0h4m4 0h4m4 0h4m4 0h4m4 0h4m4 0h4m4 0h4m4 0h4m4 0h4m4 0h4m4 0h4m4 0h4m4 0h4m4 0h4m4 0h4m4 0h4m4 0h4m4 0h4m4 0h4m4 0h4m4 0h4m4 0h4m-376 4h380"/>
<path stroke="#274788" stroke-width="4" d="M1609 63h4m4 0h4m4 0h4m4 0h4m4 0h4m4 0h4m4 0h4m4 0h4m4 0h4m4 0h4m4 0h4m4 0h4m4 0h4m4 0h4m4 0h4m4 0h4m4 0h4m4 0h4m4 0h4m4 0h4m4 0h4m4 0h4m4 0h4m4 0h4m4 0h4m4 0h4m4 0h4m4 0h4m4 0h4m4 0h4m4 0h4m4 0h4m4 0h4m4 0h4m4 0h4m4 0h4m4 0h4m4 0h4m4 0h4m4 0h4m4 0h4m4 0h4m4 0h4m4 0h4m4 0h4m4 0h4m4 0h4m4 0h4m-376 4h4m12 0h4m12 0h4m12 0h4m12 0h4m12 0h4m12 0h4m12 0h4m12 0h4m12 0h4m12 0h4m12 0h4m12 0h4m12 0h4m12 0h4m12 0h4m12 0h4m12 0h4m12 0h4m12 0h4m12 0h4m12 0h4m12 0h4m12 0h4m-376 4h4m4 0h4m4 0h4m4 0h4m4 0h4m4 0h4m4 0h4m4 0h4m4 0h4m4 0h4m4 0h4m4 0h4m4 0h4m4 0h4m4 0h4m4 0h4m4 0h4m4 0h4m4 0h4m4 0h4m4 0h4m4 0h4m4 0h4m4 0h4m4 0h4m4 0h4m4 0h4m4 0h4m4 0h4m4 0h4m4 0h4m4 0h4m4 0h4m4 0h4m4 0h4m4 0h4m4 0h4m4 0h4m4 0h4m4 0h4m4 0h4m4 0h4m4 0h4m4 0h4m4 0h4m4 0h4m4 0h4m4 0h4m-256 8h4m12 0h4m12 0h4m12 0h4m12 0h4m12 0h4m12 0h4m12 0h4m12 0h4m12 0h4m12 0h4m12 0h4m12 0h4m12 0h4m12 0h4m12 0h4m-248 4h4m4 0h4m4 0h4m4 0h4m4 0h4m4 0h4m4 0h4m4 0h4m4 0h4m4 0h4m4 0h4m4 0h4m4 0h4m4 0h4m4 0h4m4 0h4m4 0h4m4 0h4m4 0h4m4 0h4m4 0h4m4 0h4m4 0h4m4 0h4m4 0h4m4 0h4m4 0h4m4 0h4m4 0h4m4 0h4m4 0h4m4 0h4m4 0h4m-88 4h4m12 0h4m12 0h4m12 0h4m12 0h4m12 0h4m-104 4h4m4 0h4m4 0h4m4 0h4m4 0h4m4 0h4m4 0h4m4 0h4m4 0h4m4 0h4m4 0h4m4 0h4m4 0h4m4 0h4m-80 4h4m12 0h4m12 0h4m12 0h4m12 0h4m-88 4h4m4 0h4m4 0h4m4 0h4m4 0h4m4 0h4m4 0h4m4 0h4m4 0h4m4 0h4m4 0h4m4 0h4m4 0h4m-88 4h4m12 0h4m12 0h4m12 0h4m12 0h4m12 0h4m-104 4h4m4 0h4m4 0h4m4 0h4m4 0h4m4 0h4m4 0h4m4 0h4m4 0h4m4 0h4m4 0h4m4 0h4m4 0h4m4 0h4m-80 4h4m12 0h4m12 0h4m12 0h4m12 0h4m-88 4h4m4 0h4m4 0h4m4 0h4m4 0h4m4 0h4m4 0h4m4 0h4m4 0h4m4 0h4m4 0h4m4 0h4m4 0h4m-88 4h4m12 0h4m12 0h4m12 0h4m12 0h4m12 0h4m-104 4h4m4 0h4m4 0h4m4 0h4m4 0h4m4 0h4m4 0h4m4 0h4m4 0h4m4 0h4m4 0h4m4 0h4m4 0h4m4 0h4m-80 4h4m12 0h4m12 0h4m12 0h4m12 0h4m-88 4h4m4 0h4m4 0h4m4 0h4m4 0h4m4 0h4m4 0h4m4 0h4m4 0h4m4 0h4m4 0h4m4 0h4m4 0h4m-88 4h4m12 0h4m12 0h4m12 0h4m12 0h4m12 0h4m-104 4h4m4 0h4m4 0h4m4 0h4m4 0h4m4 0h4m4 0h4m4 0h4m4 0h4m4 0h4m4 0h4m4 0h4m4 0h4m4 0h4m-80 4h4m12 0h4m12 0h4m12 0h4m12 0h4m-88 4h4m4 0h4m4 0h4m4 0h4m4 0h4m4 0h4m4 0h4m4 0h4m4 0h4m4 0h4m4 0h4m4 0h4m4 0h4m-88 4h4m12 0h4m12 0h4m12 0h4m12 0h4m12 0h4m-104 4h4m4 0h4m4 0h4m4 0h4m4 0h4m4 0h4m4 0h4m4 0h4m4 0h4m4 0h4m4 0h4m4 0h4m4 0h4m4 0h4m-80 4h4m12 0h4m12 0h4m12 0h4m12 0h4m-88 4h4m4 0h4m4 0h4m4 0h4m4 0h4m4 0h4m4 0h4m4 0h4m4 0h4m4 0h4m4 0h4m4 0h4m4 0h4m-88 4h4m12 0h4m12 0h4m12 0h4m12 0h4m12 0h4m-104 4h4m4 0h4m4 0h4m4 0h4m4 0h4m4 0h4m4 0h4m4 0h4m4 0h4m4 0h4m4 0h4m4 0h4m4 0h4m4 0h4m-80 4h4m12 0h4m12 0h4m12 0h4m12 0h4m-88 4h4m4 0h4m4 0h4m4 0h4m4 0h4m4 0h4m4 0h4m4 0h4m4 0h4m4 0h4m4 0h4m4 0h4m4 0h4m-88 4h4m12 0h4m12 0h4m12 0h4m12 0h4m12 0h4m-104 4h4m4 0h4m4 0h4m4 0h4m4 0h4m4 0h4m4 0h4m4 0h4m4 0h4m4 0h4m4 0h4m4 0h4m4 0h4m4 0h4m-80 4h4m12 0h4m12 0h4m12 0h4m12 0h4m-88 4h4m4 0h4m4 0h4m4 0h4m4 0h4m4 0h4m4 0h4m4 0h4m4 0h4m4 0h4m4 0h4m4 0h4m4 0h4m-88 4h4m12 0h4m12 0h4m12 0h4m12 0h4m12 0h4m-104 4h4m4 0h4m4 0h4m4 0h4m4 0h4m4 0h4m4 0h4m4 0h4m4 0h4m4 0h4m4 0h4m4 0h4m4 0h4m4 0h4m-80 4h4m12 0h4m12 0h4m12 0h4m12 0h4m-88 4h4m4 0h4m4 0h4m4 0h4m4 0h4m4 0h4m4 0h4m4 0h4m4 0h4m4 0h4m4 0h4m4 0h4m4 0h4m-88 4h4m12 0h4m12 0h4m12 0h4m12 0h4m12 0h4m-104 4h4m4 0h4m4 0h4m4 0h4m4 0h4m4 0h4m4 0h4m4 0h4m4 0h4m4 0h4m4 0h4m4 0h4m4 0h4m4 0h4m-80 4h4m12 0h4m12 0h4m12 0h4m12 0h4m-88 4h4m4 0h4m4 0h4m4 0h4m4 0h4m4 0h4m4 0h4m4 0h4m4 0h4m4 0h4m4 0h4m4 0h4m4 0h4m-88 4h4m12 0h4m12 0h4m12 0h4m12 0h4m12 0h4m-104 4h4m4 0h4m4 0h4m4 0h4m4 0h4m4 0h4m4 0h4m4 0h4m4 0h4m4 0h4m4 0h4m4 0h4m4 0h4m4 0h4m-80 4h4m12 0h4m12 0h4m12 0h4m12 0h4m-88 4h4m4 0h4m4 0h4m4 0h4m4 0h4m4 0h4m4 0h4m4 0h4m4 0h4m4 0h4m4 0h4m4 0h4m4 0h4m-88 4h4m12 0h4m12 0h4m12 0h4m12 0h4m12 0h4m-104 4h4m4 0h4m4 0h4m4 0h4m4 0h4m4 0h4m4 0h4m4 0h4m4 0h4m4 0h4m4 0h4m4 0h4m4 0h4m4 0h4m-84 8h4m4 0h4m4 0h4m4 0h4m4 0h4m4 0h4m4 0h4m4 0h4m4 0h4m4 0h4m4 0h4m-92 8h4m12 0h4m12 0h4m12 0h4m12 0h4m12 0h4"/>
<path stroke="#254e97" stroke-width="4" d="M1721 83h4m64 4h4m4 0h4m4 0h4m4 0h24m4 0h4m4 0h4m4 0h4m-76 4h4m4 0h4m4 0h32m4 0h4m4 0h4m-52 4h4m4 0h40m4 0h4m4 0h4m4 0h4m-76 4h32m4 0h4m4 0h4m4 0h4m4 0h4m-60 4h4m4 0h4m4 0h24m4 0h4m4 0h4m4 0h4m-68 4h4m4 0h32m4 0h4m4 0h4m-52 4h4m4 0h4m4 0h32m4 0h4m4 0h4m4 0h4m-76 4h32m4 0h4m4 0h4m4 0h4m4 0h4m-60 4h4m4 0h4m4 0h24m4 0h4m4 0h4m4 0h4m-68 4h4m4 0h32m4 0h4m4 0h4m-52 4h4m4 0h4m4 0h32m4 0h4m4 0h4m4 0h4m-68 4h24m4 0h4m4 0h4m4 0h4m4 0h4m-60 4h4m4 0h4m4 0h24m4 0h4m4 0h4m4 0h4m-60 4h32m4 0h4m4 0h4m-52 4h4m4 0h4m4 0h32m4 0h4m4 0h4m4 0h4m-68 4h4m4 0h16m4 0h4m4 0h4m4 0h4m4 0h4m-52 4h4m4 0h24m4 0h4m4 0h4m4 0h4m-60 4h32m4 0h4m4 0h4m-44 4h4m4 0h4m4 0h24m4 0h4m4 0h4m4 0h4m-60 4h16m4 0h4m4 0h4m4 0h4m4 0h4m-52 4h4m4 0h24m4 0h4m4 0h4m4 0h4m-52 4h24m4 0h4m4 0h4m-36 4h4m4 0h24m4 0h4m4 0h4m4 0h4m-60 4h16m4 0h4m4 0h4m4 0h4m4 0h4m-44 4h24m4 0h4m4 0h4m4 0h4m-48 4h20m4 0h4m4 0h4m-36 4h4m4 0h24m4 0h4m4 0h4m4 0h4m-52 4h16m4 0h4m4 0h4m4 0h4m-40 4h20m4 0h4m4 0h4m4 0h4m-44 4h16m4 0h4m4 0h4m-28 4h24m4 0h4m4 0h4m4 0h4m-52 4h16m4 0h4m4 0h4m4 0h4m-36 4h16m4 0h4m4 0h4m4 0h4m-40 4h12m4 0h4m4 0h4m-28 4h24m4 0h4m4 0h4m4 0h4m-44 4h8m4 0h4m4 0h4m4 0h4m-32 4h12m4 0h4m4 0h4m4 0h4m-36 4h8m4 0h4m4 0h4m-20 4h16m4 0h4m4 0h4m4 0h4m-44 4h8m4 0h4m4 0h4m4 0h4m-28 4h8m4 0h4m4 0h4m4 0h4m-36 4h8m4 0h4m4 0h4m-24 4h20m4 0h4m4 0h4m4 0h4m-44 4h16m4 0h4m4 0h4m4 0h4m4 0h4m-52 4h4m4 0h24m4 0h4m4 0h4m4 0h4m-56 4h28m4 0h4m4 0h4m-44 4h4m4 0h4m4 0h32m4 0h4m4 0h4m4 0h4m4 0h4m-76 4h32m4 0h4m4 0h4m4 0h4m4 0h4m-68 4h4m4 0h4m4 0h4m4 0h24m4 0h4m4 0h4m4 0h4m12 0h4m12 0h4m12 0h4m12 0h4m12 0h4m12 0h4m-164 4h4m4 0h32m4 0h4m4 0h4m4 0h4m-60 4h4m4 0h4m4 0h4m4 0h40m4 0h4m4 0h4m4 0h4m4 0h4m4 0h4m4 0h4m4 0h4m4 0h4m4 0h4m4 0h4m4 0h4m4 0h4m-164 4h4m4 0h4m4 0h32m4 0h4m4 0h4m4 0h4m4 0h4m12 0h4m12 0h4m12 0h4m12 0h4m12 0h4m-148 4h4m4 0h4m4 0h4m4 0h24m4 0h4m4 0h4m4 0h4m4 0h4m4 0h4m4 0h4m4 0h4m4 0h4m4 0h4m4 0h4m4 0h4m4 0h4m4 0h4m-156 4h4m4 0h4m4 0h32m4 0h4m4 0h4m4 0h4m4 0h4m4 0h4m4 0h4m4 0h4m4 0h4m4 0h4m4 0h4m4 0h4m4 0h4m4 0h4m-140 4h4m4 0h4m4 0h4m4 0h40m4 0h12m4 0h12m4 0h12m4 0h12m4 0h12m-148 4h4m4 0h4m4 0h32m4 0h4m4 0h4m4 0h4m4 0h4m4 0h4m4 0h4m4 0h4m4 0h4m4 0h4m4 0h4m4 0h4m4 0h4m-132 4h4m4 0h4m4 0h4m4 0h112m-140 4h4m4 0h4m4 0h32m4 0h12m4 0h12m4 0h12m4 0h12m4 0h12m4 0h8m-128 4h4m4 0h4m4 0h4m4 0h104m-132 4h4m4 0h4m4 0h116m-120 4h4m4 0h4m4 0h4m4 0h12m4 0h12m4 0h12m4 0h12m4 0h12m4 0h12m-120 4h4m4 0h4m4 0h108m-112 4h4m4 0h4m4 0h4m4 0h4m4 0h4m4 0h4m4 0h4m4 0h4m4 0h4m4 0h4m4 0h4m4 0h4m4 0h4m4 0h4m-112 4h4m4 0h4m4 0h4m4 0h4m4 0h12m4 0h12m4 0h12m4 0h12m4 0h12m4 0h4m-104 4h4m4 0h4m4 0h4m4 0h4m4 0h4m4 0h4m4 0h4m4 0h4m4 0h4m4 0h4m4 0h4m4 0h4m4 0h4m-104 4h4m4 0h4m4 0h4m4 0h4m4 0h4m4 0h4m4 0h4m4 0h4m4 0h4m4 0h4m4 0h4m4 0h4m4 0h4m4 0h4m-80 4h4m12 0h4m12 0h4m12 0h4m12 0h4m-88 4h4m4 0h4m4 0h4m4 0h4m4 0h4m4 0h4m4 0h4m4 0h4m4 0h4m4 0h4m4 0h4m4 0h4m4 0h4m-92 8h4m4 0h4m4 0h4m4 0h4m4 0h4m4 0h4m4 0h4m4 0h4m4 0h4m4 0h4m4 0h4m4 0h4"/>
<path stroke="#23519e" stroke-width="4" d="M1721 79h4m56 8h8m4 0h4m4 0h4m4 0h4m-36 4h8m4 0h4m4 0h4m-20 4h16m4 0h4m-20 4h8m-4 4h8m4 0h4m4 0h4m-28 4h8m4 0h4m-12 4h8m4 0h4m4 0h4m-28 4h8m-4 4h8m4 0h4m4 0h4m-24 4h4m4 0h4m-12 4h8m4 0h4m4 0h4m-20 4h8m0 4h4m4 0h4m-20 4h8m0 4h4m4 0h4m-20 4h8m4 0h4m-12 4h8m4 0h4m-16 4h4m-4 4h8m4 0h4m4 0h4m-20 4h8m-8 4h4m4 0h4m-12 4h8m-4 4h8m4 0h4m-16 4h4m-4 4h8m-4 4h4m4 4h4m-12 4h8m-4 4h4m-4 4h4m-4 4h8m-8 4h4m-4 4h8m-4 4h4m-4 8h8m-4 4h4m-4 4h4m-4 4h8m-8 8h8m-8 4h4m-4 4h4m-8 4h8m0 4h4m-12 4h4m-8 4h8m4 0h4m4 0h4m-20 4h8m-8 4h4m4 0h4m4 0h4m4 0h4m-28 4h8m4 0h4m-12 4h8m4 0h4m4 0h4m4 0h4m-36 4h8m4 0h4m4 0h4m-20 4h16m4 0h4m4 0h4m4 0h4m-44 4h16m4 0h4m4 0h4m-28 4h24m4 0h4m4 0h4m4 0h4m-44 4h16m4 0h4m4 0h4m-28 4h24m4 0h4m4 0h4m4 0h4m-52 4h24m4 0h4m4 0h4m-36 4h4m4 0h24m4 0h4m4 0h4m4 0h4m-60 4h32m4 0h4m4 0h4m-44 4h40m4 0h4m4 0h4m4 0h4m12 0h4m12 0h4m12 0h4m12 0h4m12 0h4m12 0h4m-164 4h40m4 0h4m4 0h4m-52 4h4m4 0h12m4 0h24m4 0h4m4 0h4m4 0h4m4 0h4m4 0h4m4 0h4m4 0h4m4 0h4m4 0h4m4 0h4m4 0h4m4 0h4m4 0h4m4 0h4m-164 4h48m4 0h4m4 0h4m4 0h4m4 0h4m12 0h4m12 0h4m12 0h4m12 0h4m12 0h4m-156 4h4m4 0h4m4 0h40m4 0h4m4 0h4m4 0h4m4 0h4m4 0h4m4 0h4m4 0h4m4 0h4m4 0h4m4 0h4m4 0h4m4 0h4m4 0h4m-164 4h56m4 0h4m4 0h4m4 0h4m4 0h4m4 0h4m4 0h4m4 0h4m4 0h4m4 0h4m4 0h4m4 0h4m4 0h4m4 0h4m-156 4h4m4 0h4m4 0h4m4 0h12m4 0h40m4 0h12m4 0h12m4 0h12m4 0h12m4 0h12m-164 4h12m4 0h48m4 0h4m4 0h4m4 0h4m4 0h4m4 0h4m4 0h4m4 0h4m4 0h4m4 0h4m4 0h4m4 0h4m4 0h4m-156 4h4m4 0h4m4 0h4m4 0h4m4 0h128m-156 4h64m4 0h4m4 0h4m4 0h4m4 0h4m4 0h4m4 0h4m4 0h4m4 0h4m4 0h4m4 0h4m4 0h4m-148 4h4m4 0h4m4 0h4m4 0h4m4 0h12m4 0h104m-156 4h4m4 0h12m4 0h132m-152 4h4m4 0h4m4 0h4m4 0h4m4 0h4m4 0h112m-148 4h4m4 0h140m-144 4h4m4 0h4m4 0h4m4 0h4m4 0h4m4 0h12m4 0h12m4 0h12m4 0h12m4 0h12m4 0h12m4 0h8m-148 4h4m4 0h4m4 0h12m4 0h116m-144 4h4m4 0h4m4 0h4m4 0h4m4 0h4m4 0h4m4 0h12m4 0h12m4 0h12m4 0h12m4 0h12m4 0h12m-136 4h4m4 0h4m4 0h124m-128 4h4m4 0h4m4 0h4m4 0h4m4 0h4m4 0h4m4 0h4m4 0h4m4 0h4m4 0h4m4 0h4m4 0h4m4 0h4m4 0h4m4 0h4m4 0h4m-136 4h4m4 0h4m4 0h4m4 0h12m4 0h100m-136 4h4m4 0h4m4 0h4m4 0h4m4 0h4m4 0h4m4 0h4m4 0h4m4 0h4m4 0h4m4 0h4m4 0h4m4 0h4m4 0h4m4 0h4m4 0h4m4 0h4m-128 4h4m4 0h4m4 0h4m4 0h12m4 0h92m-128 4h4m12 0h4m4 0h4m4 0h4m4 0h4m4 0h4m4 0h4m4 0h4m4 0h4m4 0h4m4 0h4m4 0h4m4 0h4m4 0h4m4 0h4m-128 4h4m4 0h4m4 0h4m4 0h4m4 0h4m4 0h4m4 0h12m4 0h12m4 0h12m4 0h12m4 0h12m4 0h4m-120 4h4m4 0h4m4 0h4m4 0h4m4 0h4m4 0h4m4 0h4m4 0h4m4 0h4m4 0h4m4 0h4m4 0h4m4 0h4m4 0h4m4 0h4m-120 4h4m4 0h4m4 0h4m4 0h4m4 0h12m4 0h12m4 0h12m4 0h12m4 0h12m4 0h12m-112 4h4m12 0h4m4 0h4m4 0h4m4 0h4m4 0h4m4 0h4m4 0h4m4 0h4m4 0h4m4 0h4m4 0h4m4 0h4m-120 4h4m4 0h4m4 0h4m4 0h4m4 0h4m4 0h4m4 0h4m4 0h4m4 0h4m4 0h4m4 0h4m4 0h4m4 0h4m4 0h4m4 0h4m4 0h4m-104 4h4m4 0h4m4 0h4m4 0h4m4 0h4m4 0h4m4 0h4m4 0h4m4 0h4m4 0h4m4 0h4m4 0h4m4 0h4m-112 4h4m4 0h4m4 0h4m4 0h4m4 0h4m4 0h4m4 0h4m4 0h4m4 0h4m4 0h4m4 0h4m4 0h4m4 0h4m4 0h4m4 0h4m-96 4h4m12 0h4m12 0h4m12 0h4m12 0h4m12 0h4m-104 4h4m4 0h4m4 0h4m4 0h4m4 0h4m4 0h4m4 0h4m4 0h4m4 0h4m4 0h4m4 0h4m4 0h4m4 0h4m4 0h4m4 0h4m-104 4h4m12 0h4m12 0h4m12 0h4m12 0h4m12 0h4m12 0h4m-104 4h4m4 0h4m4 0h4m4 0h4m4 0h4m4 0h4m4 0h4m4 0h4m4 0h4m4 0h4m4 0h4m4 0h4m4 0h4m4 0h4"/>
<path stroke="#2557a4" stroke-width="4" d="M1717 79h4m-4 4h4m52 4h8m-8 4h4m0 4h4m-4 4h8m-4 4h8m-8 4h4m-4 4h8m-4 8h4m-4 4h4m-4 8h8m-4 4h8m-12 4h8m-4 4h8m-8 4h4m-4 4h8m-4 4h4m-4 8h8m-4 4h4m-4 4h4m-4 4h8m-4 4h4m-4 8h8m-4 4h8m-4 8h4m-4 4h4m-4 4h4m-4 4h4m0 8h4m-4 4h8m-4 8h4m-4 4h4m-4 8h8m-8 8h4m-4 4h4m-8 8h8m-8 4h4m-8 8h8m-4 4h4m-4 4h4m-4 4h8m-8 4h4m-4 4h8m-4 8h4m-4 4h8m-4 4h8m-8 4h4m-4 4h8m4 0h4m-16 8h8m-8 4h4m-4 4h8m4 0h4m12 0h4m-32 4h4m-4 4h8m4 0h4m4 0h4m-28 4h8m-4 4h8m4 0h4m4 0h4m4 0h4m12 0h4m-48 4h4m12 0h4m-16 4h4m4 0h4m4 0h4m4 0h4m4 0h4m-36 4h8m-4 4h8m4 0h4m4 0h4m4 0h4m4 0h4m12 0h4m-56 4h4m4 0h4m12 0h4m-24 4h4m4 0h4m4 0h4m4 0h4m4 0h4m4 0h4m-44 4h8m4 0h4m-12 4h8m4 0h4m4 0h4m4 0h4m4 0h4m4 0h4m12 0h4m12 0h4m12 0h4m12 0h4m12 0h4m12 0h4m-136 4h4m4 0h4m12 0h4m-32 4h4m4 0h4m4 0h4m4 0h4m4 0h4m4 0h4m4 0h4m12 0h4m12 0h4m12 0h4m12 0h4m12 0h4m12 0h4m-148 4h8m4 0h4m4 0h4m-20 4h16m4 0h4m4 0h4m4 0h4m4 0h4m4 0h4m4 0h4m4 0h4m4 0h4m4 0h4m4 0h4m4 0h4m4 0h4m4 0h4m4 0h4m4 0h4m4 0h4m-144 4h4m4 0h4m4 0h4m4 0h4m12 0h4m-40 4h4m4 0h4m4 0h4m4 0h4m4 0h4m4 0h4m4 0h4m4 0h4m4 0h4m4 0h4m4 0h4m4 0h4m4 0h4m4 0h4m4 0h4m4 0h4m4 0h4m4 0h4m-204 4h4m60 0h8m4 0h4m4 0h4m4 0h4m12 0h4m-44 4h8m4 0h12m4 0h4m4 0h4m4 0h4m4 0h4m4 0h4m4 0h4m4 0h4m4 0h4m4 0h4m4 0h4m4 0h4m4 0h4m4 0h4m4 0h4m-128 4h4m4 0h4m4 0h4m4 0h4m4 0h4m4 0h4m12 0h4m12 0h4m12 0h4m12 0h4m12 0h4m-196 4h4m64 0h12m4 0h4m4 0h4m4 0h4m4 0h4m4 0h4m4 0h4m4 0h4m4 0h4m4 0h4m4 0h4m4 0h4m4 0h4m4 0h4m4 0h4m4 0h4m-196 4h4m60 0h8m4 0h4m4 0h4m4 0h4m4 0h4m12 0h4m12 0h4m12 0h4m12 0h4m12 0h4m-116 4h16m4 0h12m4 0h4m4 0h4m4 0h4m4 0h4m4 0h4m4 0h4m4 0h4m4 0h4m4 0h4m4 0h4m4 0h4m4 0h4m-196 4h4m64 0h4m4 0h4m4 0h4m4 0h4m4 0h4m4 0h4m4 0h4m4 0h4m4 0h4m4 0h4m4 0h4m4 0h4m4 0h4m4 0h4m4 0h4m4 0h4m-188 4h4m64 0h20m4 0h4m4 0h4m4 0h4m4 0h4m4 0h4m4 0h4m4 0h4m4 0h4m4 0h4m4 0h4m4 0h4m4 0h4m4 0h4m-192 4h8m60 0h8m4 0h4m4 0h4m4 0h4m4 0h4m4 0h4m4 0h4m4 0h4m4 0h4m4 0h4m4 0h4m4 0h4m4 0h4m4 0h4m4 0h4m-188 4h4m68 0h24m4 0h12m4 0h12m4 0h12m4 0h12m4 0h12m4 0h12m-188 4h4m72 0h4m4 0h4m4 0h4m4 0h4m4 0h4m4 0h4m4 0h4m4 0h4m4 0h4m4 0h4m4 0h4m4 0h4m4 0h4m4 0h4m-184 4h8m68 0h8m4 0h12m4 0h12m4 0h12m4 0h12m4 0h12m4 0h12m4 0h4m-188 4h8m64 0h8m4 0h4m4 0h4m4 0h4m4 0h4m4 0h4m4 0h4m4 0h4m4 0h4m4 0h4m4 0h4m4 0h4m4 0h4m4 0h4"/>
<path stroke="#285ea8" stroke-width="4" d="M1713 83h4m52 4h4m-4 4h4m0 4h4m-8 4h8m-4 4h8m-4 4h4m-4 4h4m-4 4h8m-4 4h4m-8 4h8m-4 4h8m-8 4h4m-4 4h8m-4 8h4m-4 4h4m-4 8h8m-4 4h8m-4 8h4m-4 4h4m0 8h4m-4 4h8m-4 12h8m-4 4h4m-4 4h4m-4 4h4m-4 8h8m-4 4h4m0 8h4m-4 4h4m-4 8h8m-4 8h4m-8 8h4m-4 4h4m-8 8h4m-8 4h8m-4 8h4m-4 4h4m-4 4h4m-4 4h4m0 8h4m-4 4h4m0 8h4m-4 4h4m-4 8h8m-8 8h4m-4 8h4m-4 4h4m-4 8h4m-4 4h4m0 4h4m-4 4h4m0 4h4m-4 4h4m0 4h4m0 8h4m-4 4h8m-44 4h4m36 0h4m-4 4h4m-60 4h4m56 0h4m-64 4h8m52 0h4m-64 4h8m16 0h4m36 0h4m-60 4h4m-8 4h8m56 0h4m-68 4h12m12 0h4m36 0h8m-64 4h4m16 0h4m36 0h4m-68 4h4m60 0h4m-68 4h12m56 0h4m-64 4h4m16 0h4m36 0h4m-68 4h4m24 0h4m36 0h4m-72 4h4m64 0h4m-64 4h4m20 0h4m36 0h4m-72 4h4m4 0h4m16 0h4m36 0h8m-76 4h4m28 0h4m36 0h8m-68 4h4"/>
<path stroke="#2a64ad" stroke-width="4" d="M1713 79h4m48 8h4m-8 4h8m-4 4h8m-8 4h4m0 4h4m-4 4h8m-4 4h4m-8 4h8m-4 4h8m-8 4h4m0 4h4m-4 4h4m-4 8h8m-4 4h4m-8 4h8m-4 4h8m-4 12h8m-4 4h4m-8 4h8m-4 4h8m-4 4h4m-4 8h8m-4 4h8m-4 8h4m-4 4h4m-4 8h8m-8 8h8m-4 4h8m-4 4h4m-4 8h8m-8 8h8m-4 4h4m-8 4h8m-8 8h4m-8 4h8m-12 4h8m-8 8h8m-4 4h4m-4 4h4m-4 4h4m-4 8h8m-4 4h4m-4 4h4m-4 4h8m-4 4h4m-4 4h4m-4 4h8m-4 8h4m-8 8h8m-8 4h4m-4 4h4m-4 4h4m-4 4h4m-40 4h4m0 4h4m32 0h4m-4 4h4m-40 4h4m36 0h4m-48 4h4m4 0h4m0 4h4m-16 4h4m4 0h8m32 0h8m-52 4h4m4 0h8m32 0h4m-56 4h12m4 0h4m-20 4h8m4 0h4m40 0h4m-60 4h28m28 0h4m-52 4h8m4 0h8m32 0h4m-52 4h16m-16 4h4m4 0h8m-24 4h4m8 0h4m4 0h12m28 0h8m-56 4h8m4 0h8m32 0h4m-52 4h8m-20 4h4m8 0h4m4 0h4m40 0h4m-68 4h4m8 0h8m4 0h8m32 0h4m-40 4h8m32 0h4m-68 4h4m8 0h4m4 0h8m-16 4h8m8 0h4m36 0h4m-56 4h8m4 0h8m32 0h4m-56 4h4m12 0h4m36 0h4m-56 4h4m8 4h8m36 0h4m-44 4h8m32 0h8"/>
<path stroke="#2a6bb1" stroke-width="4" d="M1709 79h4m-8 4h8m44 4h8m-12 4h8m-4 4h8m-4 4h4m0 4h4m-8 4h8m-4 4h8m-4 8h4m-4 4h4m0 4h4m-8 4h8m-4 4h8m-12 4h8m-4 4h8m-8 8h8m-4 4h8m-4 4h8m-12 4h8m-4 4h8m-4 12h8m-4 4h8m-8 4h4m0 4h4m-4 4h8m-4 4h4m-4 4h4m-4 4h8m-8 4h4m-4 4h8m-4 12h8m-4 4h8m-8 4h4m0 4h4m-8 8h8m-8 4h4m-4 4h8m-12 4h8m-12 12h8m-4 8h4m-4 4h4m-4 8h8m-8 8h8m-4 4h4m0 8h4m-4 4h4m-4 8h8m-4 4h4m-8 4h8m-8 4h4m-4 4h4m-40 4h4m-4 4h4m32 0h4m-40 4h8m32 4h4m-44 4h8m32 0h4m-48 4h20m-16 4h8m4 0h4m-16 4h4m4 0h4m4 0h4m28 0h4m-52 4h16m32 0h8m-56 4h4m4 0h4m8 0h4m-24 4h8m4 0h4m-16 4h4m12 0h4m4 0h4m28 0h4m-60 4h4m8 0h4m4 0h4m32 0h4m-56 8h4m12 0h4m-20 4h4m24 0h4m28 0h4m-48 4h4m40 0h8m-48 4h4m-20 4h4m16 0h4m0 4h4m4 0h4m28 0h4m-48 4h4m4 0h4m32 0h4m-44 4h4m8 0h4m-20 4h12m-8 4h4m44 0h4m-68 4h4m16 0h8m36 0h4m-44 4h4m8 0h4m-36 4h4m12 0h12m-28 4h4m16 0h12m36 0h4m-56 4h12m40 0h4m-68 4h4m12 0h12"/>
<path stroke="#2a73b5" stroke-width="4" d="M1705 79h4m40 8h8m-4 12h8m-4 4h8m-8 4h4m0 4h4m-4 4h8m-4 4h4m-8 4h8m-4 4h8m-8 4h4m0 4h4m-4 12h8m-4 8h4m-4 4h8m-4 12h8m-4 4h8m-4 8h4m-4 4h4m0 4h4m0 8h4m-4 4h4m-4 4h4m-4 4h4m0 8h4m-4 4h8m-4 8h4m-4 4h4m0 4h4m-4 4h4m-8 8h4m-8 12h8m-12 4h8m-4 8h4m-4 4h4m-4 4h4m-4 4h8m-4 8h4m-4 12h8m-4 4h4m-4 4h4m-4 4h8m-8 4h4m-4 4h8m-12 4h8m-4 4h4m-40 4h4m32 0h4m-4 4h8m-44 4h4m4 0h4m28 4h4m-44 4h8m4 0h4m24 0h4m-44 4h4m-4 8h4m44 0h4m-52 4h4m44 0h4m-52 4h4m-4 4h4m52 4h4m-4 4h4m-56 8h4m56 4h4m-4 4h4m-60 4h4m60 8h4m-64 4h4m56 0h4m-64 4h4m60 4h4m-64 4h4m60 0h4m-32 4h4m24 0h4m-64 8h4m60 0h4m0 4h4m-32 4h4m24 0h4m-28 8h4"/>
<path stroke="#2d79b9" stroke-width="4" d="M1701 79h4m-4 4h4m44 8h4m-4 4h8m-4 8h4m-4 4h4m0 4h4m0 8h4m-4 12h4m0 4h4m-4 4h4m-4 4h8m-4 8h4m-4 4h4m0 8h4m-4 4h8m0 12h4m-4 4h4m4 12h4m-4 4h4m-4 4h4m0 12h4m-4 4h4m0 8h4m0 12h4m-4 4h4m-4 4h4m-4 8h4m-8 4h4m-8 12h4m-4 4h4m0 16h4m-4 4h4m0 8h4m-4 8h4m-4 4h4m-4 8h4m-4 4h4m-36 4h4m-4 4h4m28 0h4m-32 4h4m24 0h4m-36 4h4m32 4h4m-40 4h4m40 12h4m4 16h4m4 16h4m-60 4h4m0 12h4m56 0h4m4 20h4m-64 4h4m0 12h4m60 0h4m-64 8h4m-4 4h4m64 0h4"/>
<path stroke="#3280bc" stroke-width="4" d="M1741 87h8m-4 4h4m0 8h4m-4 4h4m0 12h8m-4 4h4m-4 4h4m0 4h4m-4 8h4m-4 4h4m0 8h4m-4 4h4m0 8h4m-4 4h4m0 8h4m0 4h4m-4 4h4m0 8h4m0 4h4m-4 4h4m0 12h4m-4 4h4m-4 4h4m0 8h4m-4 4h4m0 4h4m-4 24h4m-8 4h4m-4 4h4m-8 4h4m0 12h4m-4 4h4m-4 8h4m0 8h4m-4 4h4m-8 4h8m-4 4h4m-16 4h4m4 0h8m-4 4h8m-12 4h8m-36 4h4m28 0h4m-36 4h4m28 0h4m-36 4h4m28 0h4m-36 4h4m-4 4h4m32 0h4m-40 4h4m-4 4h4m36 0h4m-44 4h4m-4 4h4m40 0h4m0 8h4m0 8h4m-52 8h4m24 0h4m20 0h4m-56 4h4m52 4h4m-24 8h4m20 0h4m0 8h4m-24 8h4m20 0h4m0 8h4m-64 4h4m64 12h4m-4 4h4m4 12h4"/>
<path stroke="#3686bf" stroke-width="4" d="M1697 79h4m-4 4h4m40 8h4m0 4h4m-4 4h4m0 8h4m-4 4h8m-4 8h4m-4 4h4m0 4h4m-4 4h4m-4 4h4m0 8h4m-4 4h4m0 8h4m-4 4h4m0 12h4m0 4h4m0 8h4m-4 4h4m0 4h4m0 8h4m-4 4h4m0 16h4m-4 4h4m4 12h4m-4 4h4m-4 4h4m-4 4h4m-4 4h4m-12 12h4m-4 8h4m-4 4h4m-4 4h4m0 8h4m-4 12h4m-16 12h16m-8 4h4m-24 4h4m16 0h8m-32 4h4m24 4h4m-4 4h4m-24 4h4m20 4h4m-24 4h4m20 4h4m-24 4h4m20 4h4m-24 4h4m-24 4h4m40 0h4m-48 4h4m20 0h4m20 4h4m-24 4h4m20 4h4m0 8h4m-24 4h4m20 4h4m-56 8h4m52 0h4m-24 4h4m20 4h4m-60 4h4m56 4h4m-24 4h4m20 4h4m-24 4h4m20 4h4m-64 4h4m0 12h4m60 0h4m0 8h4"/>
<path stroke="#3a8dc2" stroke-width="4" d="M1737 87h4m-4 4h4m0 4h4m-4 4h4m0 4h4m-4 4h4m0 8h4m0 12h4m-4 4h4m0 8h4m0 12h4m-4 4h4m0 8h4m0 4h4m0 12h4m4 16h4m0 12h4m-4 4h4m4 20h4m-4 24h4m-12 12h4m0 16h4m0 12h4m-8 8h8m-12 4h8m-28 12h4m20 4h4m-24 4h4m-12 12h4m0 32h4m0 20h4m4 28h4m56 4h4m-60 8h4m40 8h4m16 0h4m-64 4h4m60 4h4m0 8h4"/>
<path stroke="#4092c4" stroke-width="4" d="M1733 87h4m4 16h4m0 8h4m0 8h4m4 24h4m4 24h4m4 16h4m0 8h4m0 8h4m0 16h4m-4 4h4m0 8h4m0 8h4m-4 16h4m-8 8h4m-8 4h4m0 24h4m-16 20h8m-8 4h4m4 8h4m-20 4h4m16 4h4m-32 4h4m-4 4h4m28 0h4m-36 8h4m32 0h4m-40 4h4m36 4h4m0 8h4m0 8h4m-48 8h4m44 0h4m0 8h4m0 8h4m0 8h4m-56 8h4m52 0h4m0 8h4m4 16h4m-16 16h4m-44 8h4"/>
<path stroke="#4796c7" stroke-width="4" d="M1693 79h4m-4 4h4m40 12h4m-4 4h4m0 8h4m0 8h4m0 8h4m-4 4h4m0 8h4m-4 4h4m0 8h4m-4 4h4m0 8h4m-4 4h4m4 12h4m-4 4h4m0 8h4m0 8h4m0 8h4m-4 4h4m4 24h4m0 8h4m-4 4h4m-4 4h4m-12 24h4m-4 4h4m0 16h4m-4 4h4m-12 8h8m-16 8h4m4 4h4m-24 12h4m4 68h4m68 40h4m0 8h4m0 8h4m-20 4h4"/>
<path stroke="#4d9bc9" stroke-width="4" d="M1729 87h4m0 4h4m-4 4h4m4 16h4m4 20h4m4 24h4m4 16h4m12 40h4m0 12h4m-4 4h4m0 28h4m-8 4h4m-8 4h4m0 16h4m-4 4h4m0 16h4m-32 24h4m20 0h4m-16 8h4m12 0h4m-16 8h4m12 0h4m0 8h4m-40 4h4m-4 4h4m36 0h4m0 8h4m0 8h4m-48 8h4m44 0h4m0 8h4m0 8h4m0 8h4m0 8h4m0 8h4m-60 4h4m56 4h4m-60 8h4m68 24h4"/>
<path stroke="#54a0cc" stroke-width="4" d="M1725 87h4m0 4h4m4 12h4m-4 4h4m0 8h4m0 4h4m-4 4h4m0 12h4m0 8h4m-4 4h4m0 12h4m0 8h4m0 8h4m0 8h4m0 8h4m0 8h4m0 16h4m4 20h4m-4 16h4m-12 16h4m-4 4h4m0 28h4m-12 4h4m-12 8h4m4 4h4m0 4h4m-20 64h4m4 28h4m8 36h4m56 0h4m-60 12h4"/>
<path stroke="#5aa4cf" stroke-width="4" d="M1621 79h4m12 0h4m12 0h4m12 0h4m12 0h8m-84 4h4m4 0h4m4 0h4m4 0h4m4 0h4m4 0h4m4 0h4m4 0h4m4 0h4m4 0h4m4 0h4m40 16h4m-4 4h4m4 16h4m0 8h4m-4 4h4m0 8h4m0 12h4m-4 4h4m4 16h4m0 8h4m0 8h4m0 8h4m0 8h4m0 16h4m-4 4h4m4 16h4m-4 8h4m-8 40h4m-4 4h4m-20 24h8m12 20h4m-12 12h4m12 4h4m-16 4h4m4 16h4m16 12h4m-16 4h4m-36 12h4m48 0h4m-16 4h4m16 12h4m0 8h4m-60 4h4m56 4h4m-60 8h4m56 0h4m-60 12h4m60 4h4"/>
<path stroke="#61a8d1" stroke-width="4" d="M1609 79h12m4 0h12m4 0h12m4 0h12m4 0h12m-72 4h4m4 0h4m4 0h4m4 0h4m4 0h4m4 0h4m4 0h4m4 0h4m4 0h4m4 0h4m32 4h4m0 4h4m0 4h4m-4 4h4m4 12h4m-4 4h4m0 8h4m4 20h4m4 20h4m-4 4h4m4 16h4m4 16h4m0 8h4m-4 4h4m4 20h4m0 12h4m-8 12h4m-8 4h4m-4 16h4m-4 4h4m-4 20h4m-12 8h4m-12 8h4m16 12h4m-32 4h4m32 12h4m-36 16h4m36 0h4m-16 4h4m12 4h4m0 8h4m-16 4h4m16 12h4m-16 4h4m16 12h4m-16 4h4m-44 4h4m40 4h4"/>
<path stroke="#68acd3" stroke-width="4" d="M1721 91h4m0 4h4m4 12h4m-4 4h4m4 16h4m0 8h4m-4 4h4m0 8h4m-4 4h4m0 8h4m-4 4h4m4 12h4m-4 4h4m4 12h4m8 36h4m0 8h4m-4 16h4m-12 8h4m-4 4h4m-4 4h4m4 28h4m-12 4h4m-20 20h4m8 0h8m0 4h4m-28 4h4m24 4h4m-32 4h4m-4 4h4m0 24h4m0 24h4m0 16h4m68 40h4m0 8h4m0 8h4"/>
<path stroke="#70b0d4" stroke-width="4" d="M1717 87h4m8 16h4m-4 4h4m0 8h4m0 4h4m-4 4h4m0 8h4m-4 4h4m0 8h4m0 12h4m4 16h4m4 16h4m0 8h4m0 8h4m0 12h4m-4 4h4m0 12h4m-4 24h4m-4 28h4m-4 4h4m4 52h4m0 8h4m24 80h4m8 0h4m-60 4h4m44 4h4m8 0h4m-60 8h4m0 12h4"/>
<path stroke="#77b3d6" stroke-width="4" d="M1717 91h4m0 4h4m0 4h4m-4 4h4m4 16h4m8 28h4m0 12h4m0 8h4m0 8h4m0 8h4m0 8h4m0 8h4m0 8h4m0 16h4m-4 4h4m4 12h4m-4 4h4m-4 4h4m-12 24h4m-4 4h4m0 16h4m-28 32h4m-4 20h4m36 12h4m0 8h4m4 16h4m4 16h4m4 16h4m-56 8h4m52 0h4"/>
<path stroke="#7eb7d8" stroke-width="4" d="M1709 87h8m-4 4h4m0 4h4m0 4h4m0 8h4m0 4h4m-4 4h4m4 12h4m-4 4h4m0 8h4m-4 4h4m0 8h4m-4 4h4m0 8h4m0 8h4m0 8h4m0 8h4m4 16h4m0 8h4m-4 4h4m4 20h4m-4 16h4m-12 8h4m-4 4h4m0 16h4m0 16h4m-24 72h4m-4 4h4m40 0h4m4 16h4m-52 4h4m52 12h4m-48 32h4m48 8h4m-52 4h4m48 4h4m-52 8h4"/>
<path stroke="#85bbda" stroke-width="4" d="M1717 99h4m0 4h4m-4 4h4m0 4h4m4 12h4m-4 4h4m0 8h4m-4 4h4m0 8h4m4 20h4m4 16h4m4 12h4m-4 4h4m4 20h4m4 20h4m-4 8h4m-8 8h4m-12 4h4m0 8h4m-4 4h4m0 12h4m-8 20h4m-16 12h4m8 8h4m4 4h4m-8 8h4m-24 12h4m8 60h4m0 16h4m60 36h4"/>
<path stroke="#8dbedb" stroke-width="4" d="M1701 87h8m-4 4h8m-4 4h8m-4 4h4m0 4h4m4 12h4m-4 4h8m-4 4h4m0 8h4m-4 4h4m0 12h4m0 4h4m-4 4h4m0 4h4m-4 4h4m0 8h4m0 4h4m-4 4h4m0 8h4m0 4h4m-4 4h4m4 12h4m-4 4h4m0 12h4m-4 4h4m0 4h4m-4 4h4m0 8h4m-8 8h4m-8 4h4m-4 20h4m0 12h4m-4 4h4m-16 20h4m-12 8h4m16 4h4m-8 4h4m-16 48h4m0 20h4m0 16h4m8 40h4"/>
<path stroke="#94c2dd" stroke-width="4" d="M1717 107h4m0 4h4m4 16h4m4 16h4m-132 12h4m0 4h4m-8 4h4m-4 4h8m128 0h4m-140 4h12m-12 4h8m4 0h4m124 0h4m-144 4h12m4 0h4m-20 4h8m4 0h4m-16 4h12m4 0h4m-20 4h8m4 0h4m-16 4h12m4 0h4m-20 4h8m4 0h4m4 0h4m-24 4h20m136 0h4m-156 4h4m4 0h4m-16 4h20m4 0h4m-28 4h8m4 0h4m4 0h4m136 0h4m-164 4h28m4 0h4m-36 4h16m4 0h4m4 0h4m-32 4h28m4 0h4m-36 4h24m4 0h4m132 0h4m-168 4h28m4 0h4m-36 4h16m4 0h4m4 0h4m-32 4h36m-36 4h24m4 0h4m4 0h4m-40 4h36m-36 4h16m4 0h4m4 0h4m-32 4h36m4 0h4m-44 4h24m4 0h4m4 0h4m120 0h4m-164 4h36m4 0h4m116 0h4m-164 4h16m4 0h12m4 0h4m-40 4h36m4 0h4m-44 4h24m4 0h4m4 0h4m124 0h4m-168 4h44m120 0h4m-168 4h32m4 0h4m-40 4h36m4 0h4m-44 4h40m128 0h4m-172 4h44m-44 4h32m4 0h4m-40 4h36m4 0h4m-44 4h32m4 0h4m-40 4h44m-44 4h32m4 0h4m-40 4h36m4 0h4m-44 4h32m4 0h4m-40 4h44m100 0h4m-148 4h32m4 0h4m136 0h4m-180 4h36m4 0h4m-44 4h32m4 0h4m132 0h4m4 0h4m-184 4h44m-44 4h32m4 0h4m108 0h4m-152 4h36m4 0h4m-44 4h32m4 0h4m-40 4h44m-44 4h32m4 0h4m-40 4h36m4 0h4m-44 4h32m4 0h4m-40 4h44m108 0h4m-156 4h32m4 0h4m-40 4h36m4 0h4m-44 4h32m4 0h4m-40 4h44m-44 4h32m4 0h4m-40 4h36m4 0h4m-44 4h32m4 0h4m-40 4h44m-44 4h32m4 0h4m-40 4h36m4 0h4m-44 4h32m4 0h4m-40 4h44m120 0h4m-168 4h32m4 0h4m-40 4h36m4 0h4m-44 4h32m4 0h4m128 0h4m56 0h4m-232 4h44m124 0h4m-172 4h32m4 0h4m192 0h4m-236 4h36m4 0h4m-44 4h32m4 0h4m132 0h4m60 0h4m-240 4h44"/>
<path stroke="#9cc5de" stroke-width="4" d="M1721 115h4m8 24h4m-128 8h4m-4 4h8m-4 4h8m-12 4h4m4 0h4m120 0h4m-132 4h12m-8 4h8m-4 4h8m-12 4h4m4 0h8m-12 4h4m-8 4h4m4 0h8m120 0h4m-136 4h4m4 0h8m-20 4h4m4 0h8m4 0h4m-20 4h4m4 0h8m-20 4h4m4 0h4m4 0h8m-12 4h16m-36 4h4m4 0h4m4 0h16m-12 4h4m4 0h8m-28 4h4m4 0h4m4 0h16m-12 4h4m4 0h8m116 0h4m-148 4h4m4 0h4m4 0h8m-12 4h4m4 0h8m-20 4h4m4 0h8m-12 4h4m4 0h8m-28 4h4m4 0h4m4 0h16m-12 4h8m-20 4h4m4 0h4m4 0h8m-12 4h16m-36 4h4m4 0h4m4 0h16m-12 4h4m4 0h8m104 0h4m-136 4h4m4 0h4m4 0h8m-12 4h4m4 0h8m-36 4h4m12 0h4m4 0h8m-12 4h4m4 0h8m-28 4h4m4 0h4m4 0h8m4 0h4m-12 4h8m-20 4h4m4 0h8m116 0h4m-132 4h4m4 0h8m-12 4h16m-12 4h8m-20 4h4m4 0h8m-12 4h4m4 0h8m-20 4h4m4 0h8m-4 4h8m-20 4h4m4 0h8m-12 4h4m4 0h8m92 0h4m-116 4h4m4 0h8m96 0h4m-104 4h8m-20 4h4m4 0h8m-12 4h4m4 0h8m-20 4h4m4 0h8m-4 4h8m-20 4h4m4 0h8m128 0h4m4 0h4m-152 4h4m4 0h8m-20 4h4m4 0h8m132 0h4m4 0h4m-148 4h8m-20 4h4m4 0h8m-12 4h4m4 0h8m-20 4h4m4 0h8m140 0h4m-148 4h8m-20 4h4m4 0h8m104 0h4m-120 4h4m4 0h8m-20 4h4m4 0h8m148 0h4m-156 4h8m-20 4h4m4 0h8m108 0h4m-124 4h4m4 0h8m-20 4h4m4 0h8m-4 4h8m-20 4h4m4 0h8m112 0h4m-128 4h4m4 0h8m-20 4h4m4 0h8m172 0h4m-180 4h8m-20 4h4m4 0h8m116 0h4m56 0h4m-192 4h4m4 0h8m-20 4h4m4 0h8m-4 4h8m-20 4h4m4 0h8m120 0h4m-136 4h4m4 0h8m116 0h4m-140 4h4m4 0h8m-4 4h8m120 0h4"/>
<path stroke="#a3c9e0" stroke-width="4" d="M1697 87h4m28 44h4m-124 8h4m-4 4h8m-4 4h8m-4 4h4m0 4h8m-8 4h4m0 4h4m-4 4h8m-4 4h8m-8 8h8m-4 4h8m-4 4h8m-12 4h4m120 0h4m-124 4h8m-4 4h8m-4 4h8m-12 4h8m-4 4h8m-4 4h8m-4 4h8m-12 4h8m-4 4h8m-12 4h8m-4 4h8m-4 4h4m-8 4h8m-4 4h8m-4 4h8m-12 4h8m104 0h4m-112 4h8m-12 4h8m-4 4h8m-12 4h8m104 0h4m-112 4h8m-12 4h4m0 4h8m-12 4h8m-4 4h8m-8 8h8m104 0h4m-120 4h8m-4 4h8m100 0h4m-116 4h8m-4 4h8m88 0h4m-104 4h8m-4 4h8m-12 4h8m112 0h4m-120 4h8m112 0h4m-128 4h8m88 0h4m-96 4h8m84 0h4m-100 4h8m-4 4h8m-12 4h8m-4 4h8m88 0h4m-104 4h8m92 0h4m-100 4h8m-12 4h8m128 0h4m4 0h4m-144 4h8m-12 4h8m140 0h4m-148 4h4m-8 4h8m136 0h4m4 0h4m-152 4h8m92 0h4m-108 4h8m148 0h4m-156 4h4m-8 4h8m144 0h4m4 0h4m-160 4h4m100 0h4m-112 4h8m148 0h4m4 0h4m-164 4h4m-8 4h8m160 0h4m-168 4h4m104 0h4m-116 4h8m156 0h4m-164 4h4m-8 4h8m-4 4h4m108 0h4m-120 4h8m108 0h4m-116 4h4m-8 4h8m-4 4h4m-8 4h8m-4 4h4m112 0h4"/>
<path stroke="#aacde1" stroke-width="4" d="M1709 99h4m0 4h4m8 20h4m-116 16h8m-4 4h8m-4 4h4m-4 4h4m112 0h4m-112 4h4m-8 4h8m-4 4h8m-4 4h4m0 4h8m-12 4h8m-4 4h8m-4 4h8m-4 4h8m-12 4h8m-4 4h8m-4 4h8m104 0h4m-112 4h8m-12 4h8m108 0h4m-116 4h8m-4 4h8m-4 4h4m-8 4h8m-4 4h8m-12 4h8m-4 4h8m-8 4h4m-4 4h8m-4 4h8m-8 8h8m-4 4h4m-8 4h8m-4 4h8m-12 4h8m-4 4h8m-12 4h8m-4 4h8m-12 4h8m-4 4h8m96 0h4m-112 4h8m-4 4h8m-12 4h8m-4 4h4m-8 4h8m-8 8h8m-8 8h8m104 4h4m-116 4h8m112 4h4m-124 4h8m-8 8h8m-8 8h8m84 4h4m-96 4h8m-8 8h4m-4 4h4m-4 4h4m-4 8h4m-4 4h4m-4 4h4m-4 4h4m-4 4h4m96 0h4m-104 4h4m-4 4h4m148 0h4m-156 4h4m-4 4h4m100 0h4m-108 4h4m100 0h4m-108 4h4m-4 4h4m-4 4h4m-4 4h4m104 0h4m-112 4h4m104 0h4m-112 4h4m-4 4h4m104 0h8m-116 4h4"/>
<path stroke="#b2d0e2" stroke-width="4" d="M1701 91h4m0 4h4m8 16h4m-112 20h4m-4 4h8m4 4h8m104 4h4m-112 4h4m-4 4h8m0 4h4m-4 4h8m-4 4h4m-4 4h4m104 4h4m-108 4h8m-4 4h8m-4 4h8m-4 4h4m-8 4h8m-4 4h8m-4 4h4m-4 8h8m-4 4h8m-4 8h4m-4 4h4m-4 8h8m-4 4h8m-12 4h8m104 0h4m-112 4h8m100 4h4m-112 4h8m96 0h4m-104 8h4m-4 4h8m-8 8h4m92 4h4m-100 4h8m-8 8h4m-4 8h4m96 0h4m-104 12h4m84 4h4m-96 4h8m76 4h4m-88 4h8m-8 8h8m-8 8h8m76 4h4m-88 4h8m112 0h4m-124 8h8m116 0h4m-128 8h8m80 4h4m-92 4h8m-8 4h4m-4 4h8m-8 4h4m-4 4h8m-8 4h4m88 0h4m-96 4h8m84 0h4m-96 4h4m-4 4h4m-4 4h4m-4 4h8m88 0h4m-100 4h4m-4 4h4m-4 4h4m-4 4h8m-8 4h4m96 0h4m52 0h4m-160 4h4m96 0h4m60 0h4m-168 4h4m156 0h4m-164 4h8m92 0h4m64 0h4m-172 4h4m-4 4h4m100 0h4m64 0h4m-176 4h4m-4 4h8m92 0h8"/>
<path stroke="#bad3e3" stroke-width="4" d="M1693 87h4m-84 44h8m-4 4h8m0 8h8m-4 4h8m-4 4h8m-4 4h8m-4 4h4m-4 4h4m96 0h4m-104 4h8m-4 4h8m-4 4h8m-4 4h8m88 0h4m-96 8h4m-4 4h8m-4 4h4m-4 4h4m-4 4h8m-4 4h4m0 4h4m-8 4h8m-4 4h8m-8 4h4m96 0h4m-104 4h8m-4 4h4m-4 8h4m-4 8h8m-4 4h4m-8 4h8m-4 4h8m-8 8h8m-8 4h4m-4 4h8m-8 8h8m-8 4h4m-4 4h8m-8 4h4m-4 4h4m-8 4h8m-4 4h4m84 0h4m-96 4h8m-4 4h4m72 0h4m-84 4h8m-8 8h8m-4 4h4m-8 4h8m-8 8h8m72 4h4m-84 4h4m-4 8h8m-8 8h4m80 4h4m40 0h4m-132 4h4m80 0h4m-88 8h4m132 4h4m-140 4h4m-4 8h4m-4 4h4m140 0h4m-148 4h4m-4 8h4m88 0h4m-96 4h4m88 0h4m56 0h4m-156 4h4m88 0h4m60 4h4m-160 4h4m-4 4h4m-4 4h4m92 0h4m-100 8h4m92 0h4m60 0h4m-164 4h4m92 0h4m-100 4h4m92 0h4m64 0h4m4 4h4"/>
<path stroke="#c1d7e4" stroke-width="4" d="M1721 119h4m-116 4h4m-4 4h8m4 4h4m0 4h4m100 0h4m-104 4h4m4 8h4m4 8h4m88 0h4m-96 4h4m-4 4h8m-4 4h4m0 4h8m-4 12h8m-4 4h8m84 0h4m-92 8h4m-4 4h8m-4 4h4m-4 4h4m0 4h4m-4 4h4m-4 8h8m-4 4h4m-4 4h4m-4 4h8m-8 4h4m-4 4h8m92 0h4m-100 4h4m-4 4h4m-4 4h4m-4 8h4m80 0h4m-88 8h8m-8 8h8m-8 8h8m-8 8h4m-4 4h4m-4 4h4m-4 4h4m72 4h4m-80 4h4m-8 8h8m-4 8h4m96 4h4m-108 4h8m96 0h4m-108 8h8m-8 4h4m-4 4h8m-8 8h4m116 0h4m-124 4h4m-4 4h4m-4 4h4m-4 4h4m76 0h4m44 0h4m-132 4h4m76 0h4m-84 4h4m-4 4h4m-4 4h4m132 0h4m-140 4h4m80 0h4m-88 4h4m80 0h4m-88 4h4m-4 4h4m140 0h4m-148 4h4m-4 4h4m-4 4h4m-4 4h4m84 0h4m-92 4h4m84 0h4m-92 4h4m84 0h4m-92 4h4m84 0h4m-92 4h4m84 0h4m-92 4h4m84 0h4m-92 4h4m84 0h4m-92 4h4m84 0h4m-92 4h4m84 0h4"/>
<path stroke="#c8dae6" stroke-width="4" d="M1697 91h4m12 16h4m-104 16h8m-4 4h8m100 0h4m-104 4h4m0 4h4m0 4h4m-4 4h8m0 4h4m-4 4h8m0 4h4m-4 4h4m0 4h4m-4 4h4m0 8h8m-4 4h8m-4 12h8m-4 4h4m84 0h4m-88 8h4m-4 4h4m0 4h4m84 0h4m-92 4h4m-4 4h8m-4 8h4m-4 4h4m-4 8h8m-4 4h4m-4 4h4m-4 4h8m-8 4h4m-4 4h8m-8 4h4m-4 4h8m-8 8h8m76 4h4m-88 4h8m-8 8h4m-4 4h4m-4 4h4m-4 4h4m-8 8h4m-4 8h4m64 4h4m-72 4h4m64 0h4m-4 4h4m-72 4h4m64 0h4m-72 8h4m100 4h4m-108 4h4m68 0h4m-4 4h4m-76 4h4m-4 4h4m-4 4h4m-4 4h4m-4 4h4m-4 4h4m-4 4h4m-4 4h4m72 0h4m-4 4h4m-80 4h4m-4 8h4m76 4h4m-84 4h4m76 0h4m-4 4h4m-84 4h4m76 0h4m-84 8h4m76 0h4m-84 8h4m76 0h4m-84 8h4m76 0h4m-84 8h4m76 0h4m-84 8h4m76 0h4"/>
<path stroke="#cfdee8" stroke-width="4" d="M1689 87h4m8 8h4m0 4h4m0 4h4m4 12h4m-112 4h8m4 4h8m-4 4h4m0 4h8m-4 4h4m0 4h8m-4 4h4m0 4h8m80 0h4m-88 4h4m0 8h4m0 4h4m-4 4h8m76 0h4m-84 4h8m-4 4h4m-4 8h8m-4 4h8m-4 8h4m-4 4h8m-4 4h4m80 0h4m-88 4h4m0 4h4m-4 4h4m-4 8h8m-4 4h4m80 0h4m-88 4h4m-4 4h8m80 0h4m-88 8h4m-4 4h4m-4 8h4m-4 8h8m-8 8h4m-4 8h8m72 4h4m-84 4h4m-4 4h4m-4 4h4m-4 4h4m-8 8h8m-8 4h4m-4 4h8m-8 4h4m60 0h4m-68 4h4m-4 4h4m-4 4h4m-4 4h4m-4 4h4m-4 4h4m96 0h4m-104 4h4m-4 4h4m-4 4h4m-4 4h4m64 0h4m-72 4h4m64 0h4m-72 4h4m-4 4h4m64 0h4m-72 4h4m-4 4h4m-4 4h4m-4 4h4m-8 4h8m68 4h4m-80 4h8m68 0h4m-80 8h8m68 0h4m-80 8h8m-8 8h8m72 0h4m-84 8h8m72 0h4m-84 8h8m72 0h4m-84 8h8m72 0h4m-84 8h8m68 0h8"/>
<path stroke="#d6e2eb" stroke-width="4" d="M1609 115h4m4 4h8m96 4h4m-96 4h4m4 8h4m88 4h4m-88 4h4m4 8h4m-4 4h8m-4 4h4m0 4h8m0 12h4m72 0h4m-80 4h8m-4 4h4m-4 8h8m-4 4h8m-4 8h4m-4 4h8m-4 4h4m-4 4h4m76 0h4m-84 4h8m-4 8h4m-4 4h4m-4 8h8m-4 4h4m-4 4h4m-4 4h4m-4 4h4m68 0h4m-76 4h8m-8 8h8m-8 4h4m-4 4h8m-8 8h8m-8 4h4m-4 4h4m-4 4h4m-4 4h4m-8 4h4m-4 8h4m60 0h4m-68 8h4m-4 4h4m-4 4h4m-4 4h4m-4 8h4m56 0h4m-64 4h4m56 0h4m-64 4h4m96 4h4m-104 4h4m96 0h4m-104 8h4m100 0h4m-44 4h4m-68 4h4m60 4h4m-68 4h4m60 0h4m-68 8h4m60 0h4m-72 8h8m60 0h4m-72 8h8m64 0h4m-76 8h8m64 0h4m-4 4h4m-76 4h8m64 0h4m-4 4h4m-76 4h8m64 0h4m-4 4h4m-76 4h8m64 0h4m-4 4h4m-76 4h8m60 0h8m-4 4h4m-76 4h8m64 0h4m-76 8h8m60 0h8"/>
<path stroke="#dde6ed" stroke-width="4" d="M1613 115h8m4 4h8m-4 4h8m-4 4h8m-4 4h8m80 0h4m-88 4h8m-4 4h8m-4 4h8m-4 4h4m0 4h4m0 4h4m-4 4h4m72 0h4m-76 8h8m-4 4h8m-4 4h4m0 8h4m68 0h4m-76 4h8m-4 4h4m-4 8h8m-4 4h8m-4 8h4m-4 4h4m-4 8h8m-4 4h4m-4 4h4m-4 4h8m-4 8h4m-4 4h4m-4 4h4m-4 4h4m-4 8h4m-4 8h4m-4 8h4m-4 8h4m-4 4h4m-4 8h4m-8 4h4m-4 4h4m64 0h4m-72 4h4m-4 4h4m52 0h4m-60 4h4m-4 4h4m-4 4h4m-4 4h4m-8 4h8m-4 8h4m-4 4h4m52 0h4m-64 4h8m52 0h4m-4 4h4m-64 4h8m52 0h4m40 0h4m-108 8h4m104 0h4m-4 4h4m-112 4h8m104 0h4m-4 4h4m-116 4h4m60 0h4m48 0h4m-4 4h4m-120 4h4m60 0h4m52 4h4m-124 4h4m60 0h4m56 0h4m-64 4h4m56 0h4m-128 4h4m60 0h4m-4 4h4m60 0h4m-132 4h4m128 0h4m-72 4h4m-68 4h4m60 0h4m-4 4h4m68 0h4m-140 4h4m60 0h4m72 0h4m-80 4h4m72 0h4m-144 4h4m60 0h4m76 4h4m-148 4h4m60 0h4m80 0h4m-88 4h4m-68 4h4m60 0h4m84 4h4"/>
<path stroke="#e4ebf0" stroke-width="4" d="M1693 91h4m-76 24h8m4 4h4m0 4h8m0 8h8m0 8h8m-4 8h4m0 4h4m0 4h4m-4 4h8m-4 4h8m-4 4h8m-4 4h4m-4 4h4m-4 4h8m-4 4h4m0 8h4m-4 4h8m-4 4h4m-4 8h8m-4 4h4m-4 4h4m-4 4h8m-4 8h4m-4 4h4m36 4h4m-44 4h8m-4 4h4m-4 4h4m-4 4h8m-8 4h4m-4 4h8m-8 4h4m-4 4h8m56 0h4m-68 4h4m-4 4h8m-8 4h4m-4 4h8m-8 4h4m-4 4h4m-8 4h8m-8 8h4m-4 4h4m48 4h4m-56 4h4m-4 8h4m44 0h4m-52 8h4m44 0h4m-56 8h8m44 0h4m-52 8h4m-8 8h8m-8 8h8m48 0h4m-60 4h4m52 0h4m-60 4h8m48 0h4m-4 4h4m-60 4h8m48 0h4m-60 4h4m52 0h4m-60 4h8m48 0h4m-60 4h4m52 0h4m56 0h4m-120 4h4m-4 4h4m52 0h4m-60 4h8m48 0h4m-60 4h4m52 0h4m64 0h4m-128 4h4m52 0h4m-60 4h4m52 0h8m-64 4h4m52 0h4m68 0h4m-132 4h4m52 0h4m72 0h4m-136 4h4m52 0h4m-60 4h4m52 0h4m-60 4h4m52 0h4m-60 4h4m52 0h4m80 0h4m-144 4h4m52 0h4m-60 4h4m52 0h4m-60 4h4m52 0h4m84 0h4m-148 4h4m52 0h4m88 0h4m-152 4h4m52 0h4"/>
<path stroke="#ebeff2" stroke-width="4" d="M1685 87h4m24 24h4m-88 4h8m0 4h12m-4 4h8m-12 4h8m4 4h4m-8 4h8m0 8h4m0 4h4m0 4h4m64 0h4m-68 4h4m0 4h4m4 12h4m-4 4h8m-4 4h4m-4 4h4m-4 4h8m-4 4h4m60 0h4m-64 8h4m-4 4h8m-4 8h4m-4 4h8m-8 8h8m-4 4h8m-8 4h4m64 0h4m-72 4h8m24 0h4m-4 4h12m-40 4h4m28 0h4m-36 4h8m20 0h4m32 4h4m-68 4h4m-4 8h8m-4 4h4m24 0h4m-36 4h8m24 4h4m-36 4h8m28 0h4m-8 4h8m-40 4h4m32 0h4m24 0h4m-68 4h4m36 0h4m-44 4h4m32 0h8m-48 4h8m36 0h4m-48 4h4m64 0h4m-72 4h8m36 0h8m-56 4h8m-4 4h8m36 0h4m-52 4h8m-4 4h4m-8 4h8m40 0h4m-48 4h8m-12 4h8m40 0h4m-48 4h4m-8 4h8m40 0h4m-4 4h4m-52 4h8m40 0h4m-4 4h4m-52 4h8m40 4h4m-52 4h8m40 4h4m-52 4h8m40 4h4m-52 4h8m40 4h4m-52 4h4m-4 4h4m44 0h8m-56 4h4m44 4h4m-52 4h4m-4 4h4m44 0h4m-52 4h4m-4 4h4m44 0h4m-52 4h4m-4 4h4m44 0h4m-52 4h4m-4 4h4m44 0h4m-52 4h4m-4 4h4m44 0h4m-52 4h4m44 0h4m-52 4h4m44 0h4m-52 4h4m44 0h4m-52 4h4m44 0h4"/>
<path stroke="#f1f3f5" stroke-width="4" d="M1637 115h16m-4 4h8m-4 4h16m-20 4h8m4 0h4m-8 4h12m-12 4h8m-4 4h4m-4 4h4m0 4h4m0 4h4m0 4h4m0 4h4m-4 4h8m-4 4h4m0 4h8m-4 8h4m-4 4h8m-4 4h8m-8 4h4m-4 4h8m-4 4h8m-4 4h8m-12 4h8m-4 4h8m4 0h4m-12 4h8m-12 4h16m4 0h4m-20 4h8m4 0h4m-12 4h8m4 0h4m-20 4h8m4 0h4m4 0h4m-20 4h8m4 0h12m-28 4h8m4 0h4m4 0h8m-24 4h8m4 0h4m4 0h8m-20 4h4m4 0h4m-20 4h8m4 0h16m-28 4h12m4 0h4m4 0h4m-28 4h16m4 0h8m24 0h4m-52 4h8m4 0h4m4 0h8m-28 4h4m4 0h16m-24 4h8m4 0h4m4 0h8m-32 4h16m4 0h8m4 0h4m-32 4h8m4 0h4m4 0h8m-32 4h16m4 0h8m8 0h4m-40 4h12m4 0h4m4 0h8m4 0h4m-40 4h16m4 0h16m-36 4h4m4 0h4m4 0h4m4 0h8m-32 4h8m4 0h4m4 0h4m4 0h8m-40 4h8m4 0h4m4 0h4m4 0h4m4 0h12m-44 4h8m4 0h4m4 0h4m4 0h8m8 0h4m-52 4h8m4 0h4m4 0h4m4 0h4m4 0h8m-40 4h8m4 0h4m4 0h4m4 0h8m-40 4h8m4 0h4m4 0h4m4 0h4m4 0h8m-44 4h12m4 0h4m4 0h4m4 0h8m-40 4h8m4 0h4m4 0h4m4 0h4m4 0h4m-36 4h8m4 0h4m4 0h4m4 0h8m-40 4h8m4 0h4m4 0h4m4 0h4m4 0h4m-40 4h12m4 0h4m4 0h4m4 0h8m-40 4h8m4 0h4m4 0h4m4 0h4m4 0h4m-44 4h16m4 0h4m4 0h4m4 0h8m-40 4h8m4 0h4m4 0h4m4 0h4m4 0h4m-44 4h8m4 0h4m4 0h4m4 0h4m4 0h8m-40 4h8m4 0h4m4 0h4m4 0h4m4 0h8m-48 4h16m4 0h4m4 0h4m4 0h8m-36 4h4m4 0h4m4 0h4m4 0h4m4 0h8m-48 4h8m4 0h4m4 0h4m4 0h4m4 0h8m-40 4h8m4 0h4m4 0h4m4 0h4m4 0h8m-48 4h16m4 0h4m4 0h4m4 0h8m-36 4h4m4 0h4m4 0h4m4 0h4m4 0h8m-48 4h8m4 0h4m4 0h4m4 0h4m4 0h8m-44 4h12m4 0h4m4 0h4m4 0h4m4 0h8m-48 4h16m4 0h4m4 0h4m4 0h8m-44 4h4m4 0h4m4 0h4m4 0h4m4 0h4m4 0h8m-48 4h8m4 0h4m4 0h4m4 0h4m4 0h8m-44 4h12m4 0h4m4 0h4m4 0h4m4 0h8m-48 4h16m4 0h4m4 0h4m4 0h8m-44 4h4m4 0h4m4 0h4m4 0h4m4 0h4m4 0h8m-48 4h8m4 0h4m4 0h4m4 0h4m4 0h8m-44 4h12m4 0h4m4 0h4m4 0h4m4 0h8m-48 4h16m4 0h4m4 0h4m4 0h8m-44 4h4m4 0h4m4 0h4m4 0h4m4 0h4m4 0h8m-48 4h8m4 0h4m4 0h4m4 0h4m4 0h8m-44 4h12m4 0h4m4 0h4m4 0h4m4 0h8m-48 4h16m4 0h4m4 0h4m4 0h8m-44 4h4m4 0h4m4 0h4m4 0h4m4 0h4m4 0h4m-44 4h8m4 0h4m4 0h4m4 0h16m-44 4h12m4 0h4m4 0h4m4 0h12m-44 4h16m4 0h4m4 0h4m4 0h8"/>
<path stroke="#f6f5f5" stroke-width="4" d="M1609 111h16m4 0h4m4 0h4m4 0h4m4 4h4m0 4h8m52 0h4m-64 8h4m4 0h4m-4 12h4m-4 4h8m56 0h4m-64 4h8m-4 4h8m-4 4h8m-4 4h8m-4 4h4m-4 4h4m0 8h8m-4 4h8m-4 4h4m0 4h4m-8 4h8m-4 4h8m-4 4h8m44 0h4m-52 4h8m-12 4h12m-8 4h4m4 0h4m-8 4h8m-4 4h4m4 0h4m-16 4h4m4 0h8m-12 4h4m4 0h8m-20 4h4m4 0h4m4 0h8m-20 4h4m-8 4h4m4 0h4m-8 4h4m4 0h4m-16 4h4m4 0h4m4 0h4m4 0h4m-24 4h4m16 0h4m-20 4h4m4 0h4m-8 4h4m8 0h4m-20 4h4m4 0h4m-16 4h4m0 4h4m4 0h4m8 0h4m-20 4h4m-8 4h4m4 0h4m-8 4h4m-8 4h4m4 0h4m-8 4h4m-16 4h4m4 0h4m4 0h4m16 0h4m-36 4h4m4 0h4m4 0h4m12 0h4m-40 4h4m4 0h4m4 0h4m4 0h4m-24 4h4m4 0h4m4 0h4m20 0h4m-48 4h4m4 0h4m4 0h4m4 0h4m-24 4h4m4 0h4m4 0h4m-24 4h4m4 0h4m4 0h4m4 0h4m-24 4h4m4 0h4m4 0h4m-24 4h4m4 0h4m4 0h4m4 0h4m-24 4h4m4 0h4m4 0h4m-24 4h4m4 0h4m4 0h4m4 0h4m-24 4h4m4 0h4m4 0h4m-24 4h4m4 0h4m4 0h4m4 0h4m-24 4h4m4 0h4m4 0h4m-24 4h4m4 0h4m4 0h4m4 0h4m-32 4h4m4 0h4m4 0h4m4 0h4m-24 4h4m4 0h4m4 0h4m4 0h4m-24 4h4m4 0h4m4 0h4m-32 4h4m4 0h4m4 0h4m4 0h4m4 0h4m-32 4h4m4 0h4m4 0h4m4 0h4m-24 4h4m4 0h4m4 0h4m4 0h4m-24 4h4m4 0h4m4 0h4m-32 4h4m4 0h4m4 0h4m4 0h4m4 0h4m-32 4h4m4 0h4m4 0h4m4 0h4m-24 4h4m4 0h4m4 0h4m4 0h4m-24 4h4m4 0h4m4 0h4m-32 4h4m4 0h4m4 0h4m4 0h4m4 0h4m-32 4h4m4 0h4m4 0h4m4 0h4m-24 4h4m4 0h4m4 0h4m4 0h4m-24 4h4m4 0h4m4 0h4m-32 4h4m4 0h4m4 0h4m4 0h4m4 0h4m-32 4h4m4 0h4m4 0h4m4 0h4m-24 4h4m4 0h4m4 0h4m4 0h4m-24 4h4m4 0h4m4 0h4m-32 4h4m4 0h4m4 0h4m4 0h4m4 0h4m-32 4h4m4 0h4m4 0h4m4 0h4m-24 4h4m4 0h4m4 0h4m4 0h4m-24 4h4m4 0h4m4 0h4m-32 4h4m4 0h4m4 0h4m4 0h4m4 0h4m-32 4h4m4 0h4m4 0h4m-16 4h4m4 0h4m4 0h4m-16 4h4m4 0h4m4 0h4"/>
<path stroke="#f8f2ed" stroke-width="4" d="M1681 87h4m12 8h4m0 4h4m0 4h4m0 4h4m-88 4h4m4 0h4m4 0h4m12 4h4m4 4h4m-4 16h4m0 4h4m0 4h4m0 4h4m0 4h4m4 12h4m44 0h4m-52 4h4m0 4h4m44 0h4m-44 12h4m0 8h4m0 4h4m4 12h4m0 4h4m-4 4h4m40 4h4m-40 4h4m12 16h4m-12 16h4m0 12h4m20 4h4m-24 8h4m20 12h4m-4 8h4m-8 4h4"/>
<path stroke="#f8ede6" stroke-width="4" d="M1689 91h4m-44 20h4m16 24h4m52 0h4m-44 20h4m4 12h4m0 8h4m44 4h4m-44 8h4m4 12h4m44 8h4m-40 8h4m4 12h4m4 16h4m0 32h4m0 16h4"/>
<path stroke="#f7e9df" stroke-width="4" d="M1669 119h4m0 20h4m4 8h4m0 4h4m0 8h4m4 12h4m0 8h4m12 24h4m8 16h4m40 28h4m-24 56h4"/>
<path stroke="#f7e5d8" stroke-width="4" d="M1677 87h4m-28 24h4m4 4h4m56 12h4m-48 16h4m28 48h4m0 4h4m16 28h4m36 16h4m-28 48h4"/>
<path stroke="#f6e1d0" stroke-width="4" d="M1609 107h4m100 8h4m-48 16h4m16 24h4m40 0h4m-44 8h4m4 12h4m0 8h4m12 24h4m12 24h4m0 32h4m8 36h4"/>
<path stroke="#f6dcc9" stroke-width="4" d="M1613 107h24m4 0h4m20 8h4m4 20h4m72 52h4m-36 12h4m4 12h4m40 84h4"/>
<path stroke="#f5d8c2" stroke-width="4" d="M1637 107h4m4 0h4m20 16h4m-4 4h4m4 12h4m0 4h4m0 4h4m4 12h4m0 8h4m4 12h4m0 8h4m8 16h4m4 12h4m4 12h4m4 44h4m16 4h4"/>
<path stroke="#f5d3bb" stroke-width="4" d="M1673 87h4m-20 24h4m12 20h4m52 16h4m-44 4h4m4 12h4m0 8h4m8 20h4m32 92h4"/>
<path stroke="#f5ceb5" stroke-width="4" d="M1649 107h4m16 8h4m36 68h4m12 24h4m4 12h4m28 4h4m-28 12h4m-4 12h4m8 48h4m4 8h4"/>
<path stroke="#f4caae" stroke-width="4" d="M1677 135h4m0 4h4m8 16h4m20 40h4m32 0h4m-8 44h4m8 16h4m-24 4h4m12 44h4"/>
<path stroke="#f4c5a7" stroke-width="4" d="M1661 111h4m20 32h4m0 4h4m8 20h4m0 8h4m4 12h4m12 24h4m4 12h4"/>
<path stroke="#f3c0a0" stroke-width="4" d="M1669 87h4m20 8h4m20 28h4m-48 4h4m16 24h4m0 8h4m20 40h4m16 32h4m0 12h4m0 36h4"/>
<path stroke="#f3ba9a" stroke-width="4" d="M1653 107h4m20 24h4m44 8h4m-24 32h4m0 8h4m4 12h4m4 12h4m4 12h4m8 52h4m4 24h4m8 8h4"/>
<path stroke="#f2b593" stroke-width="4" d="M1665 111h4m12 24h4m16 28h4m32 4h4m20 44h4m-28 8h4m0 36h4m16 8h4"/>
<path stroke="#f1b08d" stroke-width="4" d="M1685 91h4m20 20h4m-40 12h4m8 16h4m8 16h4m20 40h4m4 12h4m8 44h4"/>
<path stroke="#f1aa87" stroke-width="4" d="M1697 99h4m-92 4h8m4 0h4m4 0h4m24 4h4m12 12h4m0 8h4m8 16h4m0 4h4m12 28h4m28 0h4m-32 8h4m40 20h4m-20 24h4m0 8h4m0 40h4m12 4h4"/>
<path stroke="#efa481" stroke-width="4" d="M1665 87h4m-52 16h4m4 0h4m4 0h8m4 0h4m20 8h4m8 20h4m36 0h4m-24 28h4m0 8h4m8 20h4m4 12h4m4 12h4m32 24h4m-16 64h4"/>
<path stroke="#ee9e7c" stroke-width="4" d="M1641 103h4m56 0h4m0 4h4m-24 28h4m0 4h4m4 12h4m32 8h4m-24 20h4m12 24h4m8 20h4m8 64h4"/>
<path stroke="#ed9876" stroke-width="4" d="M1649 103h4m8 4h4m8 8h4m0 8h4m12 20h4m8 20h4m0 8h4m8 20h4m12 24h4"/>
<path stroke="#ec9271" stroke-width="4" d="M1673 111h4m20 36h4m0 8h4m12 28h4m12 24h4m8 24h4m16 20h4m-12 44h4"/>
<path stroke="#ea8b6b" stroke-width="4" d="M1661 87h4m-12 16h4m8 4h4m12 20h4m0 4h4m20 36h4m0 8h4m28 8h4m-24 12h4m12 24h4m28 24h4m-32 20h4m0 8h4m0 12h4"/>
<path stroke="#e88567" stroke-width="4" d="M1677 119h4m32 0h4m-28 16h4m0 4h4m4 12h4m16 36h4m12 24h4m4 16h4m0 16h4"/>
<path stroke="#e67e62" stroke-width="4" d="M1681 123h4m12 20h4m28 8h4m-28 8h4m4 12h4m0 8h4m8 20h4m32 28h4m-4 56h4m-12 8h4"/>
<path stroke="#e4785d" stroke-width="4" d="M1681 91h4m-28 12h4m8 4h4m12 20h4m16 28h4m0 8h4m12 28h4m4 12h4m4 12h4m4 20h4m-8 12h4m-4 12h4m4 20h4m4 16h4"/>
<path stroke="#e27158" stroke-width="4" d="M1689 95h4m-84 4h12m4 0h4m44 8h4m0 8h4m8 16h4m0 4h4m4 12h4m44 44h4m-24 4h4m12 28h4m12 68h4m0 4h4"/>
<path stroke="#df6a55" stroke-width="4" d="M1657 87h4m-40 12h4m4 0h16m16 4h4m32 36h4m24 4h4m-12 32h4m0 8h4m12 24h4m4 12h4m0 12h4m-4 36h4m0 8h4m0 12h4m0 12h4"/>
<path stroke="#db6352" stroke-width="4" d="M1645 99h8m24 12h4m0 8h4m0 4h4m12 20h4m0 8h4m0 8h4m0 4h4m-4 4h4m4 12h4m0 8h4m4 12h4m0 4h4m0 8h4m16 4h4m-4 72h4m0 4h4"/>
<path stroke="#d85c4f" stroke-width="4" d="M1653 99h4m8 4h4m12 12h4m0 4h4m0 4h4m-4 4h4m0 4h4m0 4h4m4 12h4m0 8h4m4 16h4m4 12h4m0 8h4m12 24h4m0 12h4m0 8h4m-4 4h4m-4 4h4m-12 8h4m-4 4h4m12 28h4m0 4h4"/>
<path stroke="#d5554c" stroke-width="4" d="M1657 99h4m8 4h4m4 4h4m12 20h4m0 4h4m0 8h4m4 12h4m0 8h4m0 8h4m0 8h4m4 12h4m0 8h4m4 12h4m4 16h4m-4 40h4m4 16h4"/>
<path stroke="#d24e48" stroke-width="4" d="M1673 103h4m4 8h4m0 4h4m12 20h4m0 8h4m4 12h4m4 16h4m0 8h4m4 12h4m0 8h4m4 12h4m0 8h4m0 12h4m-8 16h4m0 24h4m0 12h4"/>
<path stroke="#cf4745" stroke-width="4" d="M1609 95h8m4 0h4m36 4h4m12 4h4m8 16h4m0 4h4m8 16h4m0 8h4m4 16h4m20 40h4m12 36h4m0 40h4"/>
<path stroke="#cd4041" stroke-width="4" d="M1617 95h4m4 0h16m4 0h4m16 4h4m12 8h4m12 20h4m28 56h4m4 12h4m8 20h4m0 12h4m0 16h4m-4 32h8"/>
<path stroke="#cb393d" stroke-width="4" d="M1641 95h4m4 0h4m32 16h4m0 4h4m8 16h4m4 12h4m0 8h4m0 8h4m0 8h4m0 8h4m16 32h4"/>
<path stroke="#c8323a" stroke-width="4" d="M1693 119h4m8 16h4m24 52h4m20 84h4"/>
<path stroke="#c62b36" stroke-width="4" d="M1653 95h4m12 4h4m24 24h4m28 56h4m8 20h4m8 24h4m0 12h4m0 36h4"/>
<path stroke="#c42432" stroke-width="4" d="M1701 127h4m4 12h4m0 8h4m0 8h4m0 8h4m0 8h4m20 40h4m0 56h12"/>
<path stroke="#bf1e2f" stroke-width="4" d="M1673 99h4m8 8h4m16 24h4m28 60h4m4 12h4m4 16h4m0 12h4m-12 28h4"/>
<path stroke="#b71c2d" stroke-width="4" d="M1657 95h4m16 4h4m0 4h4m4 8h4m0 4h4m28 52h4m4 16h4m24 60h4m-12 4h4m-4 12h4m-4 4h8"/>
<path stroke="#af1a2c" stroke-width="4" d="M1661 95h4m32 24h4m0 4h4m4 12h4m0 8h4m0 8h4m0 8h4m4 16h4m4 12h4m0 8h4m4 12h4m0 8h4m4 24h4m-12 12h4m4 0h4m-16 4h4m4 0h4m-4 4h4"/>
<path stroke="#a8182a" stroke-width="4" d="M1757 227h4m-4 20h4m-12 4h4m4 0h4m-8 4h4"/>
<path stroke="#a01628" stroke-width="4" d="M1761 247h8"/>
<path stroke="#981327" stroke-width="4" d="M1753 203h4m8 40h4m0 4h4"/>
<path stroke="#901026" stroke-width="4" d="M1721 155h4m4 0h4m-4 8h8m-4 4h4m-8 4h12m-8 4h8m-8 4h12m-8 4h8m-4 4h8m-8 4h8m-4 4h8m-8 4h12m-8 4h4m0 4h8m-8 4h8m-4 4h4m-4 4h8m-8 4h8m-4 4h4m-4 4h8m-8 4h8m-4 4h8m-4 4h4"/>
<path stroke="#890c25" stroke-width="4" d="M1713 139h4m4 0h4m-8 4h4m-4 4h12m-8 4h8m-4 4h4m-4 4h8m-8 4h4m0 4h4"/>
<path stroke="#810923" stroke-width="4" d="M1717 127h4m-8 4h8m-8 4h12m-8 4h4m0 4h4"/>
<path stroke="#790622" stroke-width="4" d="M1705 123h12m-8 4h8m-8 4h4"/>
<path stroke="#720321" stroke-width="4" d="M1705 115h4m-8 4h12m-8 8h4"/>
<path stroke="#6a0020" stroke-width="4" d="M1609 87h48m-48 4h72m-16 4h24m-8 4h16m-12 4h16m-12 4h16m-12 4h16m-12 4h8m4 0h4"/></g>
<rect x="98.3" y="65.4" width="883.7" height="875.2" fill="none" stroke="#3a3a3a" stroke-width="1.1"/>
<line x1="98.3" y1="898.4" x2="106.9" y2="898.4" stroke="#231f20" stroke-width="1.20"/>
<line x1="982.0" y1="898.4" x2="973.4" y2="898.4" stroke="#231f20" stroke-width="1.20"/>
<line x1="98.3" y1="794.3" x2="106.9" y2="794.3" stroke="#231f20" stroke-width="1.20"/>
<line x1="982.0" y1="794.3" x2="973.4" y2="794.3" stroke="#231f20" stroke-width="1.20"/>
<line x1="98.3" y1="690.2" x2="106.9" y2="690.2" stroke="#231f20" stroke-width="1.20"/>
<line x1="982.0" y1="690.2" x2="973.4" y2="690.2" stroke="#231f20" stroke-width="1.20"/>
<line x1="98.3" y1="586.1" x2="106.9" y2="586.1" stroke="#231f20" stroke-width="1.20"/>
<line x1="982.0" y1="586.1" x2="973.4" y2="586.1" stroke="#231f20" stroke-width="1.20"/>
<line x1="98.3" y1="481.9" x2="106.9" y2="481.9" stroke="#231f20" stroke-width="1.20"/>
<line x1="982.0" y1="481.9" x2="973.4" y2="481.9" stroke="#231f20" stroke-width="1.20"/>
<line x1="98.3" y1="377.8" x2="106.9" y2="377.8" stroke="#231f20" stroke-width="1.20"/>
<line x1="982.0" y1="377.8" x2="973.4" y2="377.8" stroke="#231f20" stroke-width="1.20"/>
<line x1="98.3" y1="273.7" x2="106.9" y2="273.7" stroke="#231f20" stroke-width="1.20"/>
<line x1="982.0" y1="273.7" x2="973.4" y2="273.7" stroke="#231f20" stroke-width="1.20"/>
<line x1="98.3" y1="169.6" x2="106.9" y2="169.6" stroke="#231f20" stroke-width="1.20"/>
<line x1="982.0" y1="169.6" x2="973.4" y2="169.6" stroke="#231f20" stroke-width="1.20"/>
<line x1="98.3" y1="65.5" x2="106.9" y2="65.5" stroke="#231f20" stroke-width="1.20"/>
<line x1="982.0" y1="65.5" x2="973.4" y2="65.5" stroke="#231f20" stroke-width="1.20"/>
<line x1="98.0" y1="65.4" x2="98.0" y2="74.0" stroke="#231f20" stroke-width="1.20"/>
<line x1="98.0" y1="940.6" x2="98.0" y2="932.0" stroke="#231f20" stroke-width="1.20"/>
<line x1="245.3" y1="65.4" x2="245.3" y2="74.0" stroke="#231f20" stroke-width="1.20"/>
<line x1="245.3" y1="940.6" x2="245.3" y2="932.0" stroke="#231f20" stroke-width="1.20"/>
<line x1="392.7" y1="65.4" x2="392.7" y2="74.0" stroke="#231f20" stroke-width="1.20"/>
<line x1="392.7" y1="940.6" x2="392.7" y2="932.0" stroke="#231f20" stroke-width="1.20"/>
<line x1="540.0" y1="65.4" x2="540.0" y2="74.0" stroke="#231f20" stroke-width="1.20"/>
<line x1="540.0" y1="940.6" x2="540.0" y2="932.0" stroke="#231f20" stroke-width="1.20"/>
<line x1="687.3" y1="65.4" x2="687.3" y2="74.0" stroke="#231f20" stroke-width="1.20"/>
<line x1="687.3" y1="940.6" x2="687.3" y2="932.0" stroke="#231f20" stroke-width="1.20"/>
<line x1="834.7" y1="65.4" x2="834.7" y2="74.0" stroke="#231f20" stroke-width="1.20"/>
<line x1="834.7" y1="940.6" x2="834.7" y2="932.0" stroke="#231f20" stroke-width="1.20"/>
<line x1="982.0" y1="65.4" x2="982.0" y2="74.0" stroke="#231f20" stroke-width="1.20"/>
<line x1="982.0" y1="940.6" x2="982.0" y2="932.0" stroke="#231f20" stroke-width="1.20"/>
<text transform="translate(83.3 911.7) scale(0.950 1)" font-size="31.0" fill="#231f20" text-anchor="end">-80</text>
<text transform="translate(83.3 807.6) scale(0.950 1)" font-size="31.0" fill="#231f20" text-anchor="end">-60</text>
<text transform="translate(83.3 703.5) scale(0.950 1)" font-size="31.0" fill="#231f20" text-anchor="end">-40</text>
<text transform="translate(83.3 599.4) scale(0.950 1)" font-size="31.0" fill="#231f20" text-anchor="end">-20</text>
<text transform="translate(88.8 495.2) scale(0.950 1)" font-size="31.0" fill="#231f20" text-anchor="end">0</text>
<text transform="translate(87.3 391.1) scale(0.950 1)" font-size="31.0" fill="#231f20" text-anchor="end">20</text>
<text transform="translate(87.3 287.0) scale(0.950 1)" font-size="31.0" fill="#231f20" text-anchor="end">40</text>
<text transform="translate(87.3 182.9) scale(0.950 1)" font-size="31.0" fill="#231f20" text-anchor="end">60</text>
<text transform="translate(87.3 78.8) scale(0.950 1)" font-size="31.0" fill="#231f20" text-anchor="end">80</text>
<text transform="translate(93.4 980.0) scale(0.950 1)" font-size="31.0" fill="#231f20" text-anchor="middle">-60</text>
<text transform="translate(240.7 980.0) scale(0.950 1)" font-size="31.0" fill="#231f20" text-anchor="middle">-40</text>
<text transform="translate(388.1 980.0) scale(0.950 1)" font-size="31.0" fill="#231f20" text-anchor="middle">-20</text>
<text transform="translate(538.7 980.0) scale(0.950 1)" font-size="31.0" fill="#231f20" text-anchor="middle">0</text>
<text transform="translate(682.7 980.0) scale(0.950 1)" font-size="31.0" fill="#231f20" text-anchor="middle">20</text>
<text transform="translate(830.1 980.0) scale(0.950 1)" font-size="31.0" fill="#231f20" text-anchor="middle">40</text>
<text transform="translate(977.4 980.0) scale(0.950 1)" font-size="31.0" fill="#231f20" text-anchor="middle">60</text>
<text x="481.0" y="1018.7" font-size="28.5" fill="#231f20">V</text>
<text x="500.0" y="1034.5" font-size="21.0" fill="#231f20">B</text>
<text x="529.0" y="1018.7" font-size="28.5" fill="#231f20" textLength="58.0" lengthAdjust="spacingAndGlyphs">(mV)</text>
<text transform="translate(21.9 571.0) rotate(-90)" font-size="28.5" fill="#231f20">V</text>
<text transform="translate(36.9 548.0) rotate(-90)" font-size="20.5" fill="#231f20">SiG</text>
<text transform="translate(21.9 488.0) rotate(-90)" font-size="28.5" fill="#231f20" textLength="32.0" lengthAdjust="spacingAndGlyphs">(V)</text>
<text x="414.0" y="46.5" font-size="30.0" fill="#231f20" textLength="126.0" lengthAdjust="spacingAndGlyphs">dI/dV (nS)</text>
<text transform="translate(608.0 46.5) scale(0.920 1)" font-size="30.0" fill="#231f20">0</text>
<text transform="translate(963.0 46.5) scale(0.920 1)" font-size="30.0" fill="#231f20">3</text>
<rect x="642.0" y="21.0" width="304.0" height="26.4" fill="url(#cm)" stroke="#8a8a8a" stroke-width="0.8"/>
<text transform="translate(12.0 29.8) scale(0.820 1)" font-size="40.0" fill="#231f20">a</text>
<text x="112.0" y="153.7" font-size="29.0" fill="#ffffff">n</text>
<text x="129.0" y="163.5" font-size="16.5" fill="#ffffff">S</text>
<text x="194.8" y="153.7" font-size="28.5" fill="#ffffff">V</text>
<text x="215.7" y="164.5" font-size="16.5" fill="#ffffff">SiG</text>
<text x="251.0" y="153.7" font-size="28.5" fill="#ffffff" textLength="102.0" lengthAdjust="spacingAndGlyphs">= 72.5 V</text>
<text x="112.0" y="343.0" font-size="29.0" fill="#ffffff">n</text>
<text x="128.5" y="353.0" font-size="16.5" fill="#ffffff">S</text>
<text x="139.0" y="343.0" font-size="29.0" fill="#ffffff" textLength="26.5" lengthAdjust="spacingAndGlyphs">/2</text>
<text x="194.8" y="343.0" font-size="28.5" fill="#ffffff">V</text>
<text x="215.7" y="353.5" font-size="16.5" fill="#ffffff">SiG</text>
<text x="251.0" y="343.0" font-size="28.5" fill="#ffffff" textLength="102.0" lengthAdjust="spacingAndGlyphs">= 34.5 V</text>
<text x="108.6" y="541.5" font-size="28.5" fill="#ffffff" textLength="54.0" lengthAdjust="spacingAndGlyphs">CNP</text>
<text x="194.8" y="541.5" font-size="28.5" fill="#ffffff">V</text>
<text x="215.7" y="551.5" font-size="16.5" fill="#ffffff">SiG</text>
<text x="250.6" y="541.5" font-size="28.5" fill="#ffffff" textLength="97.4" lengthAdjust="spacingAndGlyphs">= -3.5 V</text>
<text x="455.5" y="541.5" font-size="28.5" fill="#231f20" textLength="29.0" lengthAdjust="spacingAndGlyphs">V1</text>
<text x="568.8" y="543.4" font-size="28.5" fill="#231f20" textLength="28.2" lengthAdjust="spacingAndGlyphs">C1</text>
<text x="138.0" y="747.5" font-size="28.5" fill="#ffffff" textLength="79.0" lengthAdjust="spacingAndGlyphs">Area 1</text>
<text x="138.0" y="784.8" font-size="28.5" fill="#ffffff" textLength="123.7" lengthAdjust="spacingAndGlyphs">θ = 1.48 ˚</text>
<text x="139.0" y="822.6" font-size="28.5" fill="#ffffff" textLength="112.7" lengthAdjust="spacingAndGlyphs">T = 1.4 K</text>
<text x="111.4" y="927.2" font-size="29.0" fill="#ffffff">-n</text>
<text x="139.5" y="936.9" font-size="16.5" fill="#ffffff">S</text>
<text x="194.8" y="927.2" font-size="28.5" fill="#ffffff">V</text>
<text x="216.0" y="936.9" font-size="16.5" fill="#ffffff">SiG</text>
<text x="250.6" y="927.2" font-size="28.5" fill="#ffffff" textLength="114.0" lengthAdjust="spacingAndGlyphs">= -79.5 V</text>
<rect x="714.6" y="89.0" width="243.1" height="231.0" fill="none" stroke="#d8dde6" stroke-width="1.3"/>
<line x1="714.6" y1="175.4" x2="720.6" y2="175.4" stroke="#ffffff" stroke-width="1.00"/>
<line x1="957.7" y1="175.4" x2="951.7" y2="175.4" stroke="#ffffff" stroke-width="1.00"/>
<line x1="714.6" y1="292.8" x2="720.6" y2="292.8" stroke="#ffffff" stroke-width="1.00"/>
<line x1="957.7" y1="292.8" x2="951.7" y2="292.8" stroke="#ffffff" stroke-width="1.00"/>
<line x1="836.2" y1="89.0" x2="836.2" y2="95.0" stroke="#ffffff" stroke-width="1.00"/>
<line x1="836.2" y1="320.0" x2="836.2" y2="314.0" stroke="#ffffff" stroke-width="1.00"/>
<text x="707.0" y="182.9" font-size="21.0" fill="#ffffff" text-anchor="end">40</text>
<text x="707.0" y="300.3" font-size="21.0" fill="#ffffff" text-anchor="end">20</text>
<rect x="837.0" y="96.7" width="97.0" height="15.5" fill="url(#cm)" stroke="#8a8a8a" stroke-width="0.8"/>
<text x="819.5" y="110.7" font-size="21.0" fill="#ffffff">0</text>
<text x="941.0" y="110.7" font-size="21.0" fill="#ffffff">2</text>
<text x="836.5" y="135.2" font-size="21.0" fill="#ffffff" textLength="94.0" lengthAdjust="spacingAndGlyphs">dI/dV (nS)</text>
<text x="898.8" y="212.4" font-size="23.0" fill="#ffffff">n</text>
<text x="911.5" y="219.9" font-size="14.0" fill="#ffffff">S</text>
<text x="922.0" y="212.4" font-size="23.0" fill="#ffffff" textLength="20.5" lengthAdjust="spacingAndGlyphs">/2</text>
<line x1="957.7" y1="204.4" x2="951.7" y2="204.4" stroke="#ffffff" stroke-width="1.00"/>
<text transform="translate(669.0 246.3) rotate(-90)" font-size="23.0" fill="#ffffff">V</text>
<text transform="translate(680.5 228.3) rotate(-90)" font-size="16.0" fill="#ffffff" textLength="25.0" lengthAdjust="spacingAndGlyphs">SiG</text>
<text transform="translate(669.0 197.8) rotate(-90)" font-size="23.0" fill="#ffffff" textLength="25.0" lengthAdjust="spacingAndGlyphs">(V)</text>
<rect x="715.0" y="344.0" width="243.2" height="232.3" fill="none" stroke="#d8dde6" stroke-width="1.3"/>
<line x1="715.0" y1="432.0" x2="721.0" y2="432.0" stroke="#ffffff" stroke-width="1.00"/>
<line x1="958.2" y1="432.0" x2="952.2" y2="432.0" stroke="#ffffff" stroke-width="1.00"/>
<line x1="715.0" y1="548.7" x2="721.0" y2="548.7" stroke="#ffffff" stroke-width="1.00"/>
<line x1="958.2" y1="548.7" x2="952.2" y2="548.7" stroke="#ffffff" stroke-width="1.00"/>
<line x1="836.6" y1="344.0" x2="836.6" y2="350.0" stroke="#ffffff" stroke-width="1.00"/>
<line x1="836.6" y1="576.3" x2="836.6" y2="570.3" stroke="#ffffff" stroke-width="1.00"/>
<text x="707.0" y="439.5" font-size="21.0" fill="#ffffff" text-anchor="end">40</text>
<text x="707.0" y="556.2" font-size="21.0" fill="#ffffff" text-anchor="end">20</text>
<rect x="837.0" y="352.5" width="97.0" height="15.5" fill="url(#cm)" stroke="#8a8a8a" stroke-width="0.8"/>
<text x="819.5" y="366.5" font-size="21.0" fill="#ffffff">0</text>
<text x="941.0" y="366.5" font-size="21.0" fill="#ffffff">2</text>
<text x="836.5" y="391.0" font-size="21.0" fill="#ffffff" textLength="94.0" lengthAdjust="spacingAndGlyphs">dI/dV (nS)</text>
<text x="898.8" y="469.0" font-size="23.0" fill="#ffffff">n</text>
<text x="911.5" y="476.5" font-size="14.0" fill="#ffffff">S</text>
<text x="922.0" y="469.0" font-size="23.0" fill="#ffffff" textLength="20.5" lengthAdjust="spacingAndGlyphs">/2</text>
<line x1="958.2" y1="461.0" x2="952.2" y2="461.0" stroke="#ffffff" stroke-width="1.00"/>
<text transform="translate(669.0 502.2) rotate(-90)" font-size="23.0" fill="#ffffff">V</text>
<text transform="translate(680.5 484.2) rotate(-90)" font-size="16.0" fill="#ffffff" textLength="25.0" lengthAdjust="spacingAndGlyphs">SiG</text>
<text transform="translate(669.0 453.7) rotate(-90)" font-size="23.0" fill="#ffffff" textLength="25.0" lengthAdjust="spacingAndGlyphs">(V)</text>
<text x="717.4" y="600.5" font-size="21.0" fill="#ffffff" text-anchor="middle">-10</text>
<text x="836.0" y="600.5" font-size="21.0" fill="#ffffff" text-anchor="middle">0</text>
<text x="957.5" y="600.5" font-size="21.0" fill="#ffffff" text-anchor="middle">10</text>
<text x="794.0" y="631.6" font-size="21.0" fill="#ffffff">V</text>
<text x="808.5" y="641.0" font-size="14.0" fill="#ffffff">B</text>
<text x="822.0" y="631.6" font-size="21.0" fill="#ffffff" textLength="46.0" lengthAdjust="spacingAndGlyphs">(mV)</text>
<line x1="1107.7" y1="78.0" x2="1479.5" y2="78.0" stroke="#ffffff" stroke-width="1.50" stroke-dasharray="6.5 8"/>
<line x1="1107.7" y1="258.9" x2="1479.5" y2="258.9" stroke="#ffffff" stroke-width="1.50" stroke-dasharray="6.5 8"/>
<line x1="1107.7" y1="440.0" x2="1479.5" y2="440.0" stroke="#ffffff" stroke-width="1.50" stroke-dasharray="6.5 8"/>
<rect x="1107.7" y="60.8" width="371.8" height="396.8" fill="none" stroke="#3a3a3a" stroke-width="1.1"/>
<line x1="1107.7" y1="410.0" x2="1113.7" y2="410.0" stroke="#231f20" stroke-width="1.00"/>
<line x1="1479.5" y1="410.0" x2="1473.5" y2="410.0" stroke="#231f20" stroke-width="1.00"/>
<text transform="translate(1095.0 420.5) scale(0.920 1)" font-size="27.0" fill="#231f20" text-anchor="end">0</text>
<line x1="1107.7" y1="313.7" x2="1113.7" y2="313.7" stroke="#231f20" stroke-width="1.00"/>
<line x1="1479.5" y1="313.7" x2="1473.5" y2="313.7" stroke="#231f20" stroke-width="1.00"/>
<text transform="translate(1095.0 324.2) scale(0.920 1)" font-size="27.0" fill="#231f20" text-anchor="end">20</text>
<line x1="1107.7" y1="217.4" x2="1113.7" y2="217.4" stroke="#231f20" stroke-width="1.00"/>
<line x1="1479.5" y1="217.4" x2="1473.5" y2="217.4" stroke="#231f20" stroke-width="1.00"/>
<text transform="translate(1095.0 227.9) scale(0.920 1)" font-size="27.0" fill="#231f20" text-anchor="end">40</text>
<line x1="1107.7" y1="121.1" x2="1113.7" y2="121.1" stroke="#231f20" stroke-width="1.00"/>
<line x1="1479.5" y1="121.1" x2="1473.5" y2="121.1" stroke="#231f20" stroke-width="1.00"/>
<text transform="translate(1095.0 131.6) scale(0.920 1)" font-size="27.0" fill="#231f20" text-anchor="end">60</text>
<line x1="1107.7" y1="60.8" x2="1107.7" y2="66.8" stroke="#231f20" stroke-width="1.00"/>
<line x1="1107.7" y1="457.5" x2="1107.7" y2="451.5" stroke="#231f20" stroke-width="1.00"/>
<text transform="translate(1104.7 492.5) scale(0.920 1)" font-size="27.0" fill="#231f20" text-anchor="middle">-30</text>
<line x1="1293.6" y1="60.8" x2="1293.6" y2="66.8" stroke="#231f20" stroke-width="1.00"/>
<line x1="1293.6" y1="457.5" x2="1293.6" y2="451.5" stroke="#231f20" stroke-width="1.00"/>
<text transform="translate(1292.6 492.5) scale(0.920 1)" font-size="27.0" fill="#231f20" text-anchor="middle">0</text>
<line x1="1479.5" y1="60.8" x2="1479.5" y2="66.8" stroke="#231f20" stroke-width="1.00"/>
<line x1="1479.5" y1="457.5" x2="1479.5" y2="451.5" stroke="#231f20" stroke-width="1.00"/>
<text transform="translate(1476.5 492.5) scale(0.920 1)" font-size="27.0" fill="#231f20" text-anchor="middle">30</text>
<text x="1242.4" y="528.0" font-size="27.0" fill="#231f20">V</text>
<text x="1262.0" y="540.5" font-size="19.0" fill="#231f20">B</text>
<text x="1288.0" y="528.0" font-size="27.0" fill="#231f20" textLength="56.0" lengthAdjust="spacingAndGlyphs">(mV)</text>
<text transform="translate(1046.5 324.0) rotate(-90)" font-size="27.5" fill="#231f20">V</text>
<text transform="translate(1060.9 302.8) rotate(-90)" font-size="21.0" fill="#231f20" textLength="26.8" lengthAdjust="spacingAndGlyphs">SiG</text>
<text transform="translate(1046.5 251.0) rotate(-90)" font-size="27.5" fill="#231f20" textLength="29.7" lengthAdjust="spacingAndGlyphs">(V)</text>
<text transform="translate(1030.0 30.0) scale(0.920 1)" font-size="40.0" fill="#231f20">b</text>
<text x="1107.5" y="42.5" font-size="26.0" fill="#231f20" textLength="116.5" lengthAdjust="spacingAndGlyphs">dI/dV (nS)</text>
<text transform="translate(1260.5 42.5) scale(0.920 1)" font-size="26.0" fill="#231f20">0</text>
<text transform="translate(1467.0 42.5) scale(0.920 1)" font-size="26.0" fill="#231f20">3</text>
<rect x="1283.0" y="21.0" width="173.0" height="24.8" fill="url(#cm)" stroke="#8a8a8a" stroke-width="0.8"/>
<text x="1440.0" y="108.5" font-size="27.0" fill="#ffffff">n</text>
<text x="1455.0" y="115.0" font-size="16.0" fill="#ffffff">S</text>
<text x="1419.4" y="288.0" font-size="27.0" fill="#ffffff">n</text>
<text x="1434.0" y="295.0" font-size="16.0" fill="#ffffff">S</text>
<text x="1443.0" y="288.0" font-size="27.0" fill="#ffffff" textLength="31.4" lengthAdjust="spacingAndGlyphs">/2</text>
<text x="1407.5" y="446.5" font-size="27.0" fill="#ffffff" textLength="55.0" lengthAdjust="spacingAndGlyphs">CNP</text>
<text x="1119.0" y="381.7" font-size="27.0" fill="#231f20" textLength="81.8" lengthAdjust="spacingAndGlyphs">Area 2</text>
<text x="1119.0" y="419.0" font-size="27.0" fill="#231f20" textLength="123.0" lengthAdjust="spacingAndGlyphs">θ = 1.47 ˚</text>
<line x1="1609.3" y1="74.5" x2="1986.6" y2="74.5" stroke="#ffffff" stroke-width="1.50" stroke-dasharray="6.5 8"/>
<line x1="1609.3" y1="257.0" x2="1986.6" y2="257.0" stroke="#ffffff" stroke-width="1.50" stroke-dasharray="6.5 8"/>
<line x1="1609.3" y1="440.0" x2="1986.6" y2="440.0" stroke="#ffffff" stroke-width="1.50" stroke-dasharray="6.5 8"/>
<rect x="1609.3" y="61.2" width="377.3" height="396.8" fill="none" stroke="#3a3a3a" stroke-width="1.1"/>
<line x1="1609.3" y1="422.7" x2="1615.3" y2="422.7" stroke="#231f20" stroke-width="1.00"/>
<line x1="1986.6" y1="422.7" x2="1980.6" y2="422.7" stroke="#231f20" stroke-width="1.00"/>
<text transform="translate(1597.7 434.5) scale(0.920 1)" font-size="27.0" fill="#231f20" text-anchor="end">0</text>
<line x1="1609.3" y1="319.5" x2="1615.3" y2="319.5" stroke="#231f20" stroke-width="1.00"/>
<line x1="1986.6" y1="319.5" x2="1980.6" y2="319.5" stroke="#231f20" stroke-width="1.00"/>
<text transform="translate(1597.7 331.3) scale(0.920 1)" font-size="27.0" fill="#231f20" text-anchor="end">20</text>
<line x1="1609.3" y1="216.3" x2="1615.3" y2="216.3" stroke="#231f20" stroke-width="1.00"/>
<line x1="1986.6" y1="216.3" x2="1980.6" y2="216.3" stroke="#231f20" stroke-width="1.00"/>
<text transform="translate(1597.7 228.1) scale(0.920 1)" font-size="27.0" fill="#231f20" text-anchor="end">40</text>
<line x1="1609.3" y1="113.1" x2="1615.3" y2="113.1" stroke="#231f20" stroke-width="1.00"/>
<line x1="1986.6" y1="113.1" x2="1980.6" y2="113.1" stroke="#231f20" stroke-width="1.00"/>
<text transform="translate(1597.7 124.9) scale(0.920 1)" font-size="27.0" fill="#231f20" text-anchor="end">60</text>
<line x1="1607.7" y1="61.2" x2="1607.7" y2="67.2" stroke="#231f20" stroke-width="1.00"/>
<line x1="1607.7" y1="458.0" x2="1607.7" y2="452.0" stroke="#231f20" stroke-width="1.00"/>
<text transform="translate(1602.2 496.0) scale(0.920 1)" font-size="27.0" fill="#231f20" text-anchor="middle">-30</text>
<line x1="1797.4" y1="61.2" x2="1797.4" y2="67.2" stroke="#231f20" stroke-width="1.00"/>
<line x1="1797.4" y1="458.0" x2="1797.4" y2="452.0" stroke="#231f20" stroke-width="1.00"/>
<text transform="translate(1794.9 496.0) scale(0.920 1)" font-size="27.0" fill="#231f20" text-anchor="middle">0</text>
<line x1="1987.2" y1="61.2" x2="1987.2" y2="67.2" stroke="#231f20" stroke-width="1.00"/>
<line x1="1987.2" y1="458.0" x2="1987.2" y2="452.0" stroke="#231f20" stroke-width="1.00"/>
<text transform="translate(1981.7 496.0) scale(0.920 1)" font-size="27.0" fill="#231f20" text-anchor="middle">30</text>
<text x="1741.0" y="529.5" font-size="27.0" fill="#231f20">V</text>
<text x="1760.5" y="542.5" font-size="19.0" fill="#231f20">B</text>
<text x="1785.5" y="529.5" font-size="27.0" fill="#231f20" textLength="56.0" lengthAdjust="spacingAndGlyphs">(mV)</text>
<text transform="translate(1550.3 316.6) rotate(-90)" font-size="28.0" fill="#231f20">V</text>
<text transform="translate(1563.6 296.5) rotate(-90)" font-size="21.0" fill="#231f20" textLength="28.0" lengthAdjust="spacingAndGlyphs">SiG</text>
<text transform="translate(1550.3 247.6) rotate(-90)" font-size="28.0" fill="#231f20" textLength="31.0" lengthAdjust="spacingAndGlyphs">(V)</text>
<text transform="translate(1522.0 30.0) scale(0.920 1)" font-size="40.0" fill="#231f20">c</text>
<text x="1597.5" y="46.0" font-size="26.0" fill="#231f20" textLength="117.0" lengthAdjust="spacingAndGlyphs">dI/dV (nS)</text>
<text transform="translate(1753.7 46.0) scale(0.920 1)" font-size="26.0" fill="#231f20">0</text>
<text x="1962.5" y="46.0" font-size="26.0" fill="#231f20" textLength="33.5" lengthAdjust="spacingAndGlyphs">1.5</text>
<rect x="1777.5" y="24.2" width="173.8" height="24.5" fill="url(#cm)" stroke="#8a8a8a" stroke-width="0.8"/>
<text x="1938.7" y="102.5" font-size="27.0" fill="#ffffff">n</text>
<text x="1953.5" y="110.0" font-size="16.0" fill="#ffffff">S</text>
<text x="1918.0" y="288.0" font-size="27.0" fill="#ffffff">n</text>
<text x="1932.6" y="295.0" font-size="16.0" fill="#ffffff">S</text>
<text x="1941.5" y="288.0" font-size="27.0" fill="#ffffff" textLength="31.4" lengthAdjust="spacingAndGlyphs">/2</text>
<text x="1910.5" y="444.0" font-size="27.0" fill="#ffffff" textLength="53.5" lengthAdjust="spacingAndGlyphs">CNP</text>
<text x="1626.4" y="384.0" font-size="27.0" fill="#231f20" textLength="80.3" lengthAdjust="spacingAndGlyphs">Area 3</text>
<text x="1626.4" y="420.4" font-size="27.0" fill="#231f20" textLength="123.0" lengthAdjust="spacingAndGlyphs">θ = 1.43 ˚</text>
<rect x="1085.5" y="572.5" width="257.7" height="391.0" fill="none" stroke="#3a3a3a" stroke-width="1.1"/>
<line x1="1086.0" y1="963.5" x2="1086.0" y2="957.5" stroke="#231f20" stroke-width="1.00"/>
<line x1="1086.0" y1="572.5" x2="1086.0" y2="578.5" stroke="#231f20" stroke-width="1.00"/>
<line x1="1189.0" y1="963.5" x2="1189.0" y2="957.5" stroke="#231f20" stroke-width="1.00"/>
<line x1="1189.0" y1="572.5" x2="1189.0" y2="578.5" stroke="#231f20" stroke-width="1.00"/>
<line x1="1292.0" y1="963.5" x2="1292.0" y2="957.5" stroke="#231f20" stroke-width="1.00"/>
<line x1="1292.0" y1="572.5" x2="1292.0" y2="578.5" stroke="#231f20" stroke-width="1.00"/>
<line x1="1085.5" y1="572.5" x2="1091.5" y2="572.5" stroke="#231f20" stroke-width="1.00"/>
<line x1="1343.2" y1="572.5" x2="1337.2" y2="572.5" stroke="#231f20" stroke-width="1.00"/>
<line x1="1085.5" y1="637.7" x2="1091.5" y2="637.7" stroke="#231f20" stroke-width="1.00"/>
<line x1="1343.2" y1="637.7" x2="1337.2" y2="637.7" stroke="#231f20" stroke-width="1.00"/>
<line x1="1085.5" y1="702.8" x2="1091.5" y2="702.8" stroke="#231f20" stroke-width="1.00"/>
<line x1="1343.2" y1="702.8" x2="1337.2" y2="702.8" stroke="#231f20" stroke-width="1.00"/>
<line x1="1085.5" y1="768.0" x2="1091.5" y2="768.0" stroke="#231f20" stroke-width="1.00"/>
<line x1="1343.2" y1="768.0" x2="1337.2" y2="768.0" stroke="#231f20" stroke-width="1.00"/>
<line x1="1085.5" y1="833.2" x2="1091.5" y2="833.2" stroke="#231f20" stroke-width="1.00"/>
<line x1="1343.2" y1="833.2" x2="1337.2" y2="833.2" stroke="#231f20" stroke-width="1.00"/>
<line x1="1085.5" y1="898.4" x2="1091.5" y2="898.4" stroke="#231f20" stroke-width="1.00"/>
<line x1="1343.2" y1="898.4" x2="1337.2" y2="898.4" stroke="#231f20" stroke-width="1.00"/>
<line x1="1085.5" y1="963.5" x2="1091.5" y2="963.5" stroke="#231f20" stroke-width="1.00"/>
<line x1="1343.2" y1="963.5" x2="1337.2" y2="963.5" stroke="#231f20" stroke-width="1.00"/>
<clipPath id="cp1085"><rect x="1085.5" y="572.5" width="257.7" height="391.0"/></clipPath>
<polyline class="aa" clip-path="url(#cp1085)" points="1084.0,567.5 1090.0,587.5 1096.5,602.5 1101.5,615.0 1106.0,628.5 1111.5,641.5 1116.5,651.0 1122.5,666.5 1127.5,676.0 1132.5,685.0 1137.5,696.5 1142.5,702.5 1147.5,714.0 1152.5,724.3 1157.8,733.9 1163.0,740.6 1168.1,748.8 1173.4,755.5 1178.6,764.0 1183.4,775.2 1189.0,776.1 1194.0,781.9 1199.0,788.6 1204.1,787.7 1209.3,773.6 1214.4,764.6 1219.8,763.2 1224.9,771.8 1230.0,775.7 1235.2,776.1 1240.3,779.0 1245.6,782.4 1250.6,791.5 1255.6,797.7 1260.9,804.9 1266.2,814.5 1270.5,822.5 1275.5,831.0 1281.0,844.0 1286.0,851.0 1291.0,865.0 1296.5,874.0 1301.5,884.0 1306.5,900.0 1311.5,906.0 1317.0,920.0 1322.0,927.5 1327.0,940.0 1333.0,954.0 1338.0,962.0 1345.0,975.0" fill="none" stroke="#1a72bb" stroke-width="1.20"/>
<g class="aa" fill="#ffffff" stroke="#1a72bb" stroke-width="1.30"><circle cx="1090.0" cy="587.5" r="3.0"/><circle cx="1096.5" cy="602.5" r="3.0"/><circle cx="1101.5" cy="615.0" r="3.0"/><circle cx="1106.0" cy="628.5" r="3.0"/><circle cx="1111.5" cy="641.5" r="3.0"/><circle cx="1116.5" cy="651.0" r="3.0"/><circle cx="1122.5" cy="666.5" r="3.0"/><circle cx="1127.5" cy="676.0" r="3.0"/><circle cx="1132.5" cy="685.0" r="3.0"/><circle cx="1137.5" cy="696.5" r="3.0"/><circle cx="1142.5" cy="702.5" r="3.0"/><circle cx="1147.5" cy="714.0" r="3.0"/><circle cx="1152.5" cy="724.3" r="3.0"/><circle cx="1157.8" cy="733.9" r="3.0"/><circle cx="1163.0" cy="740.6" r="3.0"/><circle cx="1168.1" cy="748.8" r="3.0"/><circle cx="1173.4" cy="755.5" r="3.0"/><circle cx="1178.6" cy="764.0" r="3.0"/><circle cx="1183.4" cy="775.2" r="3.0"/><circle cx="1189.0" cy="776.1" r="3.0"/><circle cx="1194.0" cy="781.9" r="3.0"/><circle cx="1199.0" cy="788.6" r="3.0"/><circle cx="1204.1" cy="787.7" r="3.0"/><circle cx="1209.3" cy="773.6" r="3.0"/><circle cx="1214.4" cy="764.6" r="3.0"/><circle cx="1219.8" cy="763.2" r="3.0"/><circle cx="1224.9" cy="771.8" r="3.0"/><circle cx="1230.0" cy="775.7" r="3.0"/><circle cx="1235.2" cy="776.1" r="3.0"/><circle cx="1240.3" cy="779.0" r="3.0"/><circle cx="1245.6" cy="782.4" r="3.0"/><circle cx="1250.6" cy="791.5" r="3.0"/><circle cx="1255.6" cy="797.7" r="3.0"/><circle cx="1260.9" cy="804.9" r="3.0"/><circle cx="1266.2" cy="814.5" r="3.0"/><circle cx="1270.5" cy="822.5" r="3.0"/><circle cx="1275.5" cy="831.0" r="3.0"/><circle cx="1281.0" cy="844.0" r="3.0"/><circle cx="1286.0" cy="851.0" r="3.0"/><circle cx="1291.0" cy="865.0" r="3.0"/><circle cx="1296.5" cy="874.0" r="3.0"/><circle cx="1301.5" cy="884.0" r="3.0"/><circle cx="1306.5" cy="900.0" r="3.0"/><circle cx="1311.5" cy="906.0" r="3.0"/><circle cx="1317.0" cy="920.0" r="3.0"/><circle cx="1322.0" cy="927.5" r="3.0"/><circle cx="1327.0" cy="940.0" r="3.0"/><circle cx="1333.0" cy="954.0" r="3.0"/><circle cx="1338.0" cy="962.0" r="3.0"/></g>
<line class="aa" x1="1219.7" y1="763.5" x2="1281.0" y2="763.5" stroke="#111" stroke-width="1.3"/>
<line class="aa" x1="1199.0" y1="788.1" x2="1281.8" y2="788.1" stroke="#111" stroke-width="1.3"/>
<g class="aa"><line x1="1275.8" y1="745.5" x2="1275.8" y2="757.5" stroke="#231f20" stroke-width="1.3"/><line x1="1275.8" y1="794.1" x2="1275.8" y2="805.1" stroke="#231f20" stroke-width="1.3"/><path d="M1275.8 762.5L1270.8 751.0L1275.8 754.2L1280.8 751.0ZM1275.8 789.1L1270.8 800.6L1275.8 797.4L1280.8 800.6Z" fill="#231f20"/></g>
<text transform="translate(1032.7 551.7) scale(0.920 1)" font-size="40.0" fill="#231f20">d</text>
<text transform="translate(1080.5 583.3) scale(0.920 1)" font-size="26.0" fill="#231f20" text-anchor="end">-6</text>
<text transform="translate(1080.5 713.5) scale(0.920 1)" font-size="26.0" fill="#231f20" text-anchor="end">-8</text>
<text transform="translate(1080.5 843.0) scale(0.920 1)" font-size="26.0" fill="#231f20" text-anchor="end">-10</text>
<text transform="translate(1080.5 973.0) scale(0.920 1)" font-size="26.0" fill="#231f20" text-anchor="end">-12</text>
<text transform="translate(1086.0 996.7) scale(0.920 1)" font-size="26.0" fill="#231f20" text-anchor="middle">20</text>
<text transform="translate(1189.0 996.7) scale(0.920 1)" font-size="26.0" fill="#231f20" text-anchor="middle">30</text>
<text transform="translate(1291.8 996.7) scale(0.920 1)" font-size="26.0" fill="#231f20" text-anchor="middle">40</text>
<text x="1154.5" y="1027.5" font-size="26.0" fill="#231f20">V</text>
<text x="1174.0" y="1038.0" font-size="20.0" fill="#231f20" textLength="27.0" lengthAdjust="spacingAndGlyphs">SiG</text>
<text x="1219.7" y="1027.5" font-size="26.0" fill="#231f20" textLength="29.3" lengthAdjust="spacingAndGlyphs">(V)</text>
<text transform="translate(1026.0 830.3) rotate(-90)" font-size="28.0" fill="#231f20">V</text>
<text transform="translate(1036.7 809.4) rotate(-90)" font-size="21.0" fill="#231f20" textLength="40.4" lengthAdjust="spacingAndGlyphs">Peak</text>
<text transform="translate(1026.0 752.0) rotate(-90)" font-size="28.0" fill="#231f20" textLength="52.5" lengthAdjust="spacingAndGlyphs">(mV)</text>
<text x="1137.5" y="631.0" font-size="27.0" fill="#231f20" textLength="175.0" lengthAdjust="spacingAndGlyphs">Δ = 0.38 meV</text>
<text x="1119.0" y="880.0" font-size="27.0" fill="#231f20" textLength="78.5" lengthAdjust="spacingAndGlyphs">Area 1</text>
<text x="1119.0" y="917.5" font-size="27.0" fill="#231f20" textLength="123.0" lengthAdjust="spacingAndGlyphs">θ = 1.48 ˚</text>
<rect x="1402.4" y="571.5" width="268.8" height="391.7" fill="none" stroke="#3a3a3a" stroke-width="1.1"/>
<line x1="1419.2" y1="963.2" x2="1419.2" y2="957.2" stroke="#231f20" stroke-width="1.00"/>
<line x1="1419.2" y1="571.5" x2="1419.2" y2="577.5" stroke="#231f20" stroke-width="1.00"/>
<line x1="1503.3" y1="963.2" x2="1503.3" y2="957.2" stroke="#231f20" stroke-width="1.00"/>
<line x1="1503.3" y1="571.5" x2="1503.3" y2="577.5" stroke="#231f20" stroke-width="1.00"/>
<line x1="1587.4" y1="963.2" x2="1587.4" y2="957.2" stroke="#231f20" stroke-width="1.00"/>
<line x1="1587.4" y1="571.5" x2="1587.4" y2="577.5" stroke="#231f20" stroke-width="1.00"/>
<line x1="1671.5" y1="963.2" x2="1671.5" y2="957.2" stroke="#231f20" stroke-width="1.00"/>
<line x1="1671.5" y1="571.5" x2="1671.5" y2="577.5" stroke="#231f20" stroke-width="1.00"/>
<line x1="1402.4" y1="602.5" x2="1408.4" y2="602.5" stroke="#231f20" stroke-width="1.00"/>
<line x1="1671.2" y1="602.5" x2="1665.2" y2="602.5" stroke="#231f20" stroke-width="1.00"/>
<line x1="1402.4" y1="722.5" x2="1408.4" y2="722.5" stroke="#231f20" stroke-width="1.00"/>
<line x1="1671.2" y1="722.5" x2="1665.2" y2="722.5" stroke="#231f20" stroke-width="1.00"/>
<line x1="1402.4" y1="842.5" x2="1408.4" y2="842.5" stroke="#231f20" stroke-width="1.00"/>
<line x1="1671.2" y1="842.5" x2="1665.2" y2="842.5" stroke="#231f20" stroke-width="1.00"/>
<line x1="1402.4" y1="962.5" x2="1408.4" y2="962.5" stroke="#231f20" stroke-width="1.00"/>
<line x1="1671.2" y1="962.5" x2="1665.2" y2="962.5" stroke="#231f20" stroke-width="1.00"/>
<clipPath id="cp1402"><rect x="1402.4" y="571.5" width="268.8" height="391.7"/></clipPath>
<polyline class="aa" clip-path="url(#cp1402)" points="1398.0,578.0 1402.5,587.5 1411.0,605.0 1419.0,622.5 1427.5,638.0 1436.0,655.0 1444.0,668.5 1452.5,680.0 1461.0,691.5 1469.0,696.5 1477.5,707.5 1486.0,715.0 1494.0,722.5 1503.4,732.7 1511.8,740.7 1520.2,743.4 1528.9,741.4 1537.0,717.6 1545.4,702.8 1553.8,707.5 1562.2,709.5 1570.6,723.3 1579.0,743.1 1587.4,755.9 1595.0,771.0 1603.5,793.5 1612.5,816.0 1621.0,834.0 1629.0,853.5 1637.5,862.5 1646.0,881.0 1654.0,925.0 1662.5,947.5 1672.0,972.0" fill="none" stroke="#c1182b" stroke-width="1.40"/>
<g class="aa" fill="#ffffff" stroke="#c1182b" stroke-width="1.50"><circle cx="1402.5" cy="587.5" r="4.3"/><circle cx="1411.0" cy="605.0" r="4.3"/><circle cx="1419.0" cy="622.5" r="4.3"/><circle cx="1427.5" cy="638.0" r="4.3"/><circle cx="1436.0" cy="655.0" r="4.3"/><circle cx="1444.0" cy="668.5" r="4.3"/><circle cx="1452.5" cy="680.0" r="4.3"/><circle cx="1461.0" cy="691.5" r="4.3"/><circle cx="1469.0" cy="696.5" r="4.3"/><circle cx="1477.5" cy="707.5" r="4.3"/><circle cx="1486.0" cy="715.0" r="4.3"/><circle cx="1494.0" cy="722.5" r="4.3"/><circle cx="1503.4" cy="732.7" r="4.3"/><circle cx="1511.8" cy="740.7" r="4.3"/><circle cx="1520.2" cy="743.4" r="4.3"/><circle cx="1528.9" cy="741.4" r="4.3"/><circle cx="1537.0" cy="717.6" r="4.3"/><circle cx="1545.4" cy="702.8" r="4.3"/><circle cx="1553.8" cy="707.5" r="4.3"/><circle cx="1562.2" cy="709.5" r="4.3"/><circle cx="1570.6" cy="723.3" r="4.3"/><circle cx="1579.0" cy="743.1" r="4.3"/><circle cx="1587.4" cy="755.9" r="4.3"/><circle cx="1595.0" cy="771.0" r="4.3"/><circle cx="1603.5" cy="793.5" r="4.3"/><circle cx="1612.5" cy="816.0" r="4.3"/><circle cx="1621.0" cy="834.0" r="4.3"/><circle cx="1629.0" cy="853.5" r="4.3"/><circle cx="1637.5" cy="862.5" r="4.3"/><circle cx="1646.0" cy="881.0" r="4.3"/><circle cx="1654.0" cy="925.0" r="4.3"/><circle cx="1662.5" cy="947.5" r="4.3"/></g>
<line class="aa" x1="1545.0" y1="703.1" x2="1601.8" y2="703.1" stroke="#111" stroke-width="1.3"/>
<line class="aa" x1="1520.2" y1="743.4" x2="1602.5" y2="743.4" stroke="#111" stroke-width="1.3"/>
<g class="aa"><line x1="1596.6" y1="709.1" x2="1596.6" y2="737.4" stroke="#231f20" stroke-width="1.3"/><path d="M1596.6 704.1L1591.6 715.6L1596.6 712.4L1601.6 715.6ZM1596.6 742.4L1591.6 730.9L1596.6 734.1L1601.6 730.9Z" fill="#231f20"/></g>
<text transform="translate(1355.0 551.0) scale(0.920 1)" font-size="40.0" fill="#231f20">e</text>
<text transform="translate(1392.5 611.8) scale(0.920 1)" font-size="26.0" fill="#231f20" text-anchor="end">-3</text>
<text transform="translate(1392.5 731.8) scale(0.920 1)" font-size="26.0" fill="#231f20" text-anchor="end">-5</text>
<text transform="translate(1392.5 851.8) scale(0.920 1)" font-size="26.0" fill="#231f20" text-anchor="end">-7</text>
<text transform="translate(1392.5 971.8) scale(0.920 1)" font-size="26.0" fill="#231f20" text-anchor="end">-9</text>
<text transform="translate(1418.8 994.4) scale(0.920 1)" font-size="26.0" fill="#231f20" text-anchor="middle">20</text>
<text transform="translate(1503.2 994.4) scale(0.920 1)" font-size="26.0" fill="#231f20" text-anchor="middle">30</text>
<text transform="translate(1587.5 994.4) scale(0.920 1)" font-size="26.0" fill="#231f20" text-anchor="middle">40</text>
<text transform="translate(1671.0 994.4) scale(0.920 1)" font-size="26.0" fill="#231f20" text-anchor="middle">50</text>
<text x="1491.2" y="1028.0" font-size="26.0" fill="#231f20">V</text>
<text x="1510.4" y="1038.0" font-size="20.0" fill="#231f20" textLength="27.2" lengthAdjust="spacingAndGlyphs">SiG</text>
<text x="1556.0" y="1028.0" font-size="26.0" fill="#231f20" textLength="28.8" lengthAdjust="spacingAndGlyphs">(V)</text>
<text x="1460.0" y="629.0" font-size="27.0" fill="#231f20" textLength="172.5" lengthAdjust="spacingAndGlyphs">Δ = 0.67 meV</text>
<text x="1432.5" y="886.5" font-size="27.0" fill="#231f20" textLength="80.0" lengthAdjust="spacingAndGlyphs">Area 2</text>
<text x="1432.5" y="922.5" font-size="27.0" fill="#231f20" textLength="123.0" lengthAdjust="spacingAndGlyphs">θ = 1.47 ˚</text>
<rect x="1731.2" y="572.5" width="256.0" height="393.1" fill="none" stroke="#3a3a3a" stroke-width="1.1"/>
<line x1="1747.2" y1="965.6" x2="1747.2" y2="959.6" stroke="#231f20" stroke-width="1.00"/>
<line x1="1747.2" y1="572.5" x2="1747.2" y2="578.5" stroke="#231f20" stroke-width="1.00"/>
<line x1="1827.2" y1="965.6" x2="1827.2" y2="959.6" stroke="#231f20" stroke-width="1.00"/>
<line x1="1827.2" y1="572.5" x2="1827.2" y2="578.5" stroke="#231f20" stroke-width="1.00"/>
<line x1="1907.2" y1="965.6" x2="1907.2" y2="959.6" stroke="#231f20" stroke-width="1.00"/>
<line x1="1907.2" y1="572.5" x2="1907.2" y2="578.5" stroke="#231f20" stroke-width="1.00"/>
<line x1="1987.2" y1="965.6" x2="1987.2" y2="959.6" stroke="#231f20" stroke-width="1.00"/>
<line x1="1987.2" y1="572.5" x2="1987.2" y2="578.5" stroke="#231f20" stroke-width="1.00"/>
<line x1="1731.2" y1="576.0" x2="1737.2" y2="576.0" stroke="#231f20" stroke-width="1.00"/>
<line x1="1987.2" y1="576.0" x2="1981.2" y2="576.0" stroke="#231f20" stroke-width="1.00"/>
<line x1="1731.2" y1="624.6" x2="1737.2" y2="624.6" stroke="#231f20" stroke-width="1.00"/>
<line x1="1987.2" y1="624.6" x2="1981.2" y2="624.6" stroke="#231f20" stroke-width="1.00"/>
<line x1="1731.2" y1="673.2" x2="1737.2" y2="673.2" stroke="#231f20" stroke-width="1.00"/>
<line x1="1987.2" y1="673.2" x2="1981.2" y2="673.2" stroke="#231f20" stroke-width="1.00"/>
<line x1="1731.2" y1="721.8" x2="1737.2" y2="721.8" stroke="#231f20" stroke-width="1.00"/>
<line x1="1987.2" y1="721.8" x2="1981.2" y2="721.8" stroke="#231f20" stroke-width="1.00"/>
<line x1="1731.2" y1="770.4" x2="1737.2" y2="770.4" stroke="#231f20" stroke-width="1.00"/>
<line x1="1987.2" y1="770.4" x2="1981.2" y2="770.4" stroke="#231f20" stroke-width="1.00"/>
<line x1="1731.2" y1="819.0" x2="1737.2" y2="819.0" stroke="#231f20" stroke-width="1.00"/>
<line x1="1987.2" y1="819.0" x2="1981.2" y2="819.0" stroke="#231f20" stroke-width="1.00"/>
<line x1="1731.2" y1="867.6" x2="1737.2" y2="867.6" stroke="#231f20" stroke-width="1.00"/>
<line x1="1987.2" y1="867.6" x2="1981.2" y2="867.6" stroke="#231f20" stroke-width="1.00"/>
<line x1="1731.2" y1="916.2" x2="1737.2" y2="916.2" stroke="#231f20" stroke-width="1.00"/>
<line x1="1987.2" y1="916.2" x2="1981.2" y2="916.2" stroke="#231f20" stroke-width="1.00"/>
<line x1="1731.2" y1="964.8" x2="1737.2" y2="964.8" stroke="#231f20" stroke-width="1.00"/>
<line x1="1987.2" y1="964.8" x2="1981.2" y2="964.8" stroke="#231f20" stroke-width="1.00"/>
<clipPath id="cp1731"><rect x="1731.2" y="572.5" width="256.0" height="393.1"/></clipPath>
<polyline class="aa" clip-path="url(#cp1731)" points="1730.0,562.0 1739.0,588.5 1747.5,609.0 1755.0,623.5 1763.0,640.0 1771.0,656.0 1779.0,671.5 1787.0,688.0 1795.0,705.0 1803.0,717.5 1811.0,729.0 1819.0,742.5 1827.0,754.0 1835.0,763.5 1843.0,766.5 1851.0,770.0 1859.0,761.0 1866.5,711.5 1875.0,706.5 1883.0,719.0 1891.0,735.0 1899.0,753.0 1907.0,774.0 1915.0,791.5 1923.0,812.5 1931.0,825.0 1939.0,847.5 1947.0,862.5 1955.0,885.0 1963.0,895.0 1971.0,912.5 1979.0,927.5 1987.2,944.5 1989.0,948.0" fill="none" stroke="#eda72a" stroke-width="1.40"/>
<g class="aa" fill="#ffffff" stroke="#eda72a" stroke-width="1.50"><circle cx="1739.0" cy="588.5" r="4.1"/><circle cx="1747.5" cy="609.0" r="4.1"/><circle cx="1755.0" cy="623.5" r="4.1"/><circle cx="1763.0" cy="640.0" r="4.1"/><circle cx="1771.0" cy="656.0" r="4.1"/><circle cx="1779.0" cy="671.5" r="4.1"/><circle cx="1787.0" cy="688.0" r="4.1"/><circle cx="1795.0" cy="705.0" r="4.1"/><circle cx="1803.0" cy="717.5" r="4.1"/><circle cx="1811.0" cy="729.0" r="4.1"/><circle cx="1819.0" cy="742.5" r="4.1"/><circle cx="1827.0" cy="754.0" r="4.1"/><circle cx="1835.0" cy="763.5" r="4.1"/><circle cx="1843.0" cy="766.5" r="4.1"/><circle cx="1851.0" cy="770.0" r="4.1"/><circle cx="1859.0" cy="761.0" r="4.1"/><circle cx="1866.5" cy="711.5" r="4.1"/><circle cx="1875.0" cy="706.5" r="4.1"/><circle cx="1883.0" cy="719.0" r="4.1"/><circle cx="1891.0" cy="735.0" r="4.1"/><circle cx="1899.0" cy="753.0" r="4.1"/><circle cx="1907.0" cy="774.0" r="4.1"/><circle cx="1915.0" cy="791.5" r="4.1"/><circle cx="1923.0" cy="812.5" r="4.1"/><circle cx="1931.0" cy="825.0" r="4.1"/><circle cx="1939.0" cy="847.5" r="4.1"/><circle cx="1947.0" cy="862.5" r="4.1"/><circle cx="1955.0" cy="885.0" r="4.1"/><circle cx="1963.0" cy="895.0" r="4.1"/><circle cx="1971.0" cy="912.5" r="4.1"/><circle cx="1979.0" cy="927.5" r="4.1"/><circle cx="1987.2" cy="944.5" r="4.1"/></g>
<line class="aa" x1="1875.0" y1="705.5" x2="1936.5" y2="705.5" stroke="#111" stroke-width="1.3"/>
<line class="aa" x1="1839.0" y1="769.0" x2="1936.5" y2="769.0" stroke="#111" stroke-width="1.3"/>
<g class="aa"><line x1="1930.5" y1="711.5" x2="1930.5" y2="763.0" stroke="#231f20" stroke-width="1.3"/><path d="M1930.5 706.5L1925.5 718.0L1930.5 714.8L1935.5 718.0ZM1930.5 768.0L1925.5 756.5L1930.5 759.7L1935.5 756.5Z" fill="#231f20"/></g>
<text transform="translate(1685.0 550.0) scale(0.920 1)" font-size="40.0" fill="#231f20">f</text>
<text transform="translate(1721.0 585.3) scale(0.920 1)" font-size="26.0" fill="#231f20" text-anchor="end">-3</text>
<text transform="translate(1721.0 682.0) scale(0.920 1)" font-size="26.0" fill="#231f20" text-anchor="end">-5</text>
<text transform="translate(1721.0 779.5) scale(0.920 1)" font-size="26.0" fill="#231f20" text-anchor="end">-7</text>
<text transform="translate(1721.0 877.0) scale(0.920 1)" font-size="26.0" fill="#231f20" text-anchor="end">-9</text>
<text x="1720.0" y="976.8" font-size="26.0" fill="#231f20" text-anchor="end" textLength="33.0" lengthAdjust="spacingAndGlyphs">-11</text>
<text transform="translate(1746.4 997.6) scale(0.920 1)" font-size="26.0" fill="#231f20" text-anchor="middle">20</text>
<text transform="translate(1827.0 997.6) scale(0.920 1)" font-size="26.0" fill="#231f20" text-anchor="middle">30</text>
<text transform="translate(1907.0 997.6) scale(0.920 1)" font-size="26.0" fill="#231f20" text-anchor="middle">40</text>
<text transform="translate(1987.0 997.6) scale(0.920 1)" font-size="26.0" fill="#231f20" text-anchor="middle">50</text>
<text x="1819.2" y="1031.2" font-size="26.0" fill="#231f20">V</text>
<text x="1836.0" y="1041.5" font-size="20.0" fill="#231f20" textLength="27.2" lengthAdjust="spacingAndGlyphs">SiG</text>
<text x="1884.0" y="1031.2" font-size="26.0" fill="#231f20" textLength="28.8" lengthAdjust="spacingAndGlyphs">(V)</text>
<text x="1785.0" y="622.5" font-size="27.0" fill="#231f20" textLength="159.0" lengthAdjust="spacingAndGlyphs">Δ = 1.3 meV</text>
<text x="1755.0" y="879.0" font-size="27.0" fill="#231f20" textLength="80.0" lengthAdjust="spacingAndGlyphs">Area 3</text>
<text x="1755.0" y="915.0" font-size="27.0" fill="#231f20" textLength="123.0" lengthAdjust="spacingAndGlyphs">θ = 1.43 ˚</text>
</svg>
</body></html>
